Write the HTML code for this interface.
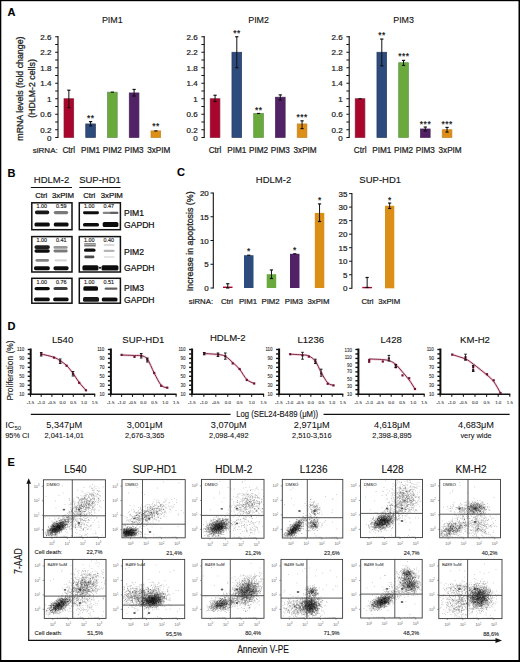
<!DOCTYPE html>
<html><head><meta charset="utf-8"><style>
html,body{margin:0;padding:0;background:#fff;}
svg{display:block;font-family:"Liberation Sans", sans-serif;}
</style></head><body>
<svg width="520" height="662" viewBox="0 0 520 662">
<defs><filter id="bl" x="-20%" y="-50%" width="140%" height="200%"><feGaussianBlur stdDeviation="0.5"/></filter><filter id="fb" x="-5%" y="-5%" width="110%" height="110%"><feGaussianBlur stdDeviation="0.4"/></filter></defs>
<rect width="520" height="662" fill="#fff"/>
<text x="7.5" y="16.0" font-size="11" text-anchor="start" font-weight="bold" fill="#000" stroke="#000" stroke-width="0.12" >A</text><text x="7.5" y="177.0" font-size="11" text-anchor="start" font-weight="bold" fill="#000" stroke="#000" stroke-width="0.12" >B</text><text x="177.0" y="176.0" font-size="11" text-anchor="start" font-weight="bold" fill="#000" stroke="#000" stroke-width="0.12" >C</text><text x="7.5" y="330.0" font-size="11" text-anchor="start" font-weight="bold" fill="#000" stroke="#000" stroke-width="0.12" >D</text><text x="7.5" y="466.0" font-size="11" text-anchor="start" font-weight="bold" fill="#000" stroke="#000" stroke-width="0.12" >E</text><line x1="58.00" y1="36.00" x2="58.00" y2="138.00" stroke="#111" stroke-width="1.1"/><line x1="55.20" y1="137.50" x2="58.00" y2="137.50" stroke="#111" stroke-width="1"/><line x1="55.20" y1="129.75" x2="58.00" y2="129.75" stroke="#111" stroke-width="1"/><line x1="55.20" y1="122.00" x2="58.00" y2="122.00" stroke="#111" stroke-width="1"/><line x1="55.20" y1="114.25" x2="58.00" y2="114.25" stroke="#111" stroke-width="1"/><line x1="55.20" y1="106.50" x2="58.00" y2="106.50" stroke="#111" stroke-width="1"/><line x1="55.20" y1="98.75" x2="58.00" y2="98.75" stroke="#111" stroke-width="1"/><line x1="55.20" y1="91.00" x2="58.00" y2="91.00" stroke="#111" stroke-width="1"/><line x1="55.20" y1="83.25" x2="58.00" y2="83.25" stroke="#111" stroke-width="1"/><line x1="55.20" y1="75.50" x2="58.00" y2="75.50" stroke="#111" stroke-width="1"/><line x1="55.20" y1="67.75" x2="58.00" y2="67.75" stroke="#111" stroke-width="1"/><line x1="55.20" y1="60.00" x2="58.00" y2="60.00" stroke="#111" stroke-width="1"/><line x1="55.20" y1="52.25" x2="58.00" y2="52.25" stroke="#111" stroke-width="1"/><line x1="55.20" y1="44.50" x2="58.00" y2="44.50" stroke="#111" stroke-width="1"/><line x1="55.20" y1="36.75" x2="58.00" y2="36.75" stroke="#111" stroke-width="1"/><text x="51.4" y="140.9" font-size="8" text-anchor="end" font-weight="normal" fill="#222" stroke="#222" stroke-width="0.22" >0</text><text x="51.4" y="132.6" font-size="8" text-anchor="end" font-weight="normal" fill="#222" stroke="#222" stroke-width="0.22" >0.2</text><text x="51.4" y="117.0" font-size="8" text-anchor="end" font-weight="normal" fill="#222" stroke="#222" stroke-width="0.22" >0.6</text><text x="51.4" y="101.5" font-size="8" text-anchor="end" font-weight="normal" fill="#222" stroke="#222" stroke-width="0.22" >1</text><text x="51.4" y="86.0" font-size="8" text-anchor="end" font-weight="normal" fill="#222" stroke="#222" stroke-width="0.22" >1.4</text><text x="51.4" y="70.5" font-size="8" text-anchor="end" font-weight="normal" fill="#222" stroke="#222" stroke-width="0.22" >1.8</text><text x="51.4" y="55.0" font-size="8" text-anchor="end" font-weight="normal" fill="#222" stroke="#222" stroke-width="0.22" >2.2</text><text x="51.4" y="39.5" font-size="8" text-anchor="end" font-weight="normal" fill="#222" stroke="#222" stroke-width="0.22" >2.6</text><rect x="64.00" y="98.75" width="9.70" height="38.75" fill="#a8062c" stroke="#8a1a36" stroke-width="0.7"/><line x1="68.85" y1="90.22" x2="68.85" y2="107.66" stroke="#111" stroke-width="1.0"/><line x1="67.25" y1="90.22" x2="70.45" y2="90.22" stroke="#111" stroke-width="1.2"/><line x1="67.25" y1="107.66" x2="70.45" y2="107.66" stroke="#111" stroke-width="1.2"/><rect x="85.75" y="123.94" width="9.70" height="13.56" fill="#2d4b7c" stroke="#2a3d60" stroke-width="0.7"/><line x1="90.60" y1="121.61" x2="90.60" y2="125.88" stroke="#111" stroke-width="1.0"/><line x1="89.00" y1="121.61" x2="92.20" y2="121.61" stroke="#111" stroke-width="1.2"/><line x1="89.00" y1="125.88" x2="92.20" y2="125.88" stroke="#111" stroke-width="1.2"/><text x="90.8" y="121.0" font-size="8.4" text-anchor="middle" font-weight="normal" fill="#111" stroke="#111" stroke-width="0.2" letter-spacing="0.5">**</text><rect x="107.50" y="92.16" width="9.70" height="45.34" fill="#6aaa3c" stroke="#5f9248" stroke-width="0.7"/><line x1="110.75" y1="92.16" x2="113.95" y2="92.16" stroke="#111" stroke-width="1.2"/><rect x="129.25" y="92.94" width="9.70" height="44.56" fill="#522266" stroke="#452358" stroke-width="0.7"/><line x1="134.10" y1="89.45" x2="134.10" y2="96.04" stroke="#111" stroke-width="1.0"/><line x1="132.50" y1="89.45" x2="135.70" y2="89.45" stroke="#111" stroke-width="1.2"/><line x1="132.50" y1="96.04" x2="135.70" y2="96.04" stroke="#111" stroke-width="1.2"/><rect x="151.00" y="130.91" width="9.70" height="6.59" fill="#dc8f16" stroke="#c58420" stroke-width="0.7"/><line x1="154.25" y1="130.91" x2="157.45" y2="130.91" stroke="#111" stroke-width="1.2"/><text x="156.0" y="129.0" font-size="8.4" text-anchor="middle" font-weight="normal" fill="#111" stroke="#111" stroke-width="0.2" letter-spacing="0.5">**</text><text x="112.3" y="22.8" font-size="9.6" text-anchor="middle" font-weight="normal" fill="#111" stroke="#111" stroke-width="0.12" textLength="20.8" lengthAdjust="spacingAndGlyphs">PIM1</text><text x="68.8" y="153.4" font-size="8.2" text-anchor="middle" font-weight="normal" fill="#222" stroke="#222" stroke-width="0.22" >Ctrl</text><text x="90.6" y="153.4" font-size="8.2" text-anchor="middle" font-weight="normal" fill="#222" stroke="#222" stroke-width="0.22" >PIM1</text><text x="112.3" y="153.4" font-size="8.2" text-anchor="middle" font-weight="normal" fill="#222" stroke="#222" stroke-width="0.22" >PIM2</text><text x="134.1" y="153.4" font-size="8.2" text-anchor="middle" font-weight="normal" fill="#222" stroke="#222" stroke-width="0.22" >PIM3</text><text x="158.8" y="153.4" font-size="8.2" text-anchor="middle" font-weight="normal" fill="#222" stroke="#222" stroke-width="0.22" >3xPIM</text><line x1="204.20" y1="36.00" x2="204.20" y2="138.00" stroke="#111" stroke-width="1.1"/><line x1="201.40" y1="137.50" x2="204.20" y2="137.50" stroke="#111" stroke-width="1"/><line x1="201.40" y1="129.75" x2="204.20" y2="129.75" stroke="#111" stroke-width="1"/><line x1="201.40" y1="122.00" x2="204.20" y2="122.00" stroke="#111" stroke-width="1"/><line x1="201.40" y1="114.25" x2="204.20" y2="114.25" stroke="#111" stroke-width="1"/><line x1="201.40" y1="106.50" x2="204.20" y2="106.50" stroke="#111" stroke-width="1"/><line x1="201.40" y1="98.75" x2="204.20" y2="98.75" stroke="#111" stroke-width="1"/><line x1="201.40" y1="91.00" x2="204.20" y2="91.00" stroke="#111" stroke-width="1"/><line x1="201.40" y1="83.25" x2="204.20" y2="83.25" stroke="#111" stroke-width="1"/><line x1="201.40" y1="75.50" x2="204.20" y2="75.50" stroke="#111" stroke-width="1"/><line x1="201.40" y1="67.75" x2="204.20" y2="67.75" stroke="#111" stroke-width="1"/><line x1="201.40" y1="60.00" x2="204.20" y2="60.00" stroke="#111" stroke-width="1"/><line x1="201.40" y1="52.25" x2="204.20" y2="52.25" stroke="#111" stroke-width="1"/><line x1="201.40" y1="44.50" x2="204.20" y2="44.50" stroke="#111" stroke-width="1"/><line x1="201.40" y1="36.75" x2="204.20" y2="36.75" stroke="#111" stroke-width="1"/><text x="197.6" y="140.9" font-size="8" text-anchor="end" font-weight="normal" fill="#222" stroke="#222" stroke-width="0.22" >0</text><text x="197.6" y="132.6" font-size="8" text-anchor="end" font-weight="normal" fill="#222" stroke="#222" stroke-width="0.22" >0.2</text><text x="197.6" y="117.0" font-size="8" text-anchor="end" font-weight="normal" fill="#222" stroke="#222" stroke-width="0.22" >0.6</text><text x="197.6" y="101.5" font-size="8" text-anchor="end" font-weight="normal" fill="#222" stroke="#222" stroke-width="0.22" >1</text><text x="197.6" y="86.0" font-size="8" text-anchor="end" font-weight="normal" fill="#222" stroke="#222" stroke-width="0.22" >1.4</text><text x="197.6" y="70.5" font-size="8" text-anchor="end" font-weight="normal" fill="#222" stroke="#222" stroke-width="0.22" >1.8</text><text x="197.6" y="55.0" font-size="8" text-anchor="end" font-weight="normal" fill="#222" stroke="#222" stroke-width="0.22" >2.2</text><text x="197.6" y="39.5" font-size="8" text-anchor="end" font-weight="normal" fill="#222" stroke="#222" stroke-width="0.22" >2.6</text><rect x="210.20" y="98.75" width="9.70" height="38.75" fill="#a8062c" stroke="#8a1a36" stroke-width="0.7"/><line x1="215.05" y1="95.26" x2="215.05" y2="101.46" stroke="#111" stroke-width="1.0"/><line x1="213.45" y1="95.26" x2="216.65" y2="95.26" stroke="#111" stroke-width="1.2"/><line x1="213.45" y1="101.46" x2="216.65" y2="101.46" stroke="#111" stroke-width="1.2"/><rect x="231.95" y="52.25" width="9.70" height="85.25" fill="#2d4b7c" stroke="#2a3d60" stroke-width="0.7"/><line x1="236.80" y1="36.75" x2="236.80" y2="67.75" stroke="#111" stroke-width="1.0"/><line x1="235.20" y1="36.75" x2="238.40" y2="36.75" stroke="#111" stroke-width="1.2"/><line x1="235.20" y1="67.75" x2="238.40" y2="67.75" stroke="#111" stroke-width="1.2"/><text x="237.0" y="36.0" font-size="8.4" text-anchor="middle" font-weight="normal" fill="#111" stroke="#111" stroke-width="0.2" letter-spacing="0.5">**</text><rect x="253.70" y="113.47" width="9.70" height="24.03" fill="#6aaa3c" stroke="#5f9248" stroke-width="0.7"/><line x1="256.95" y1="113.47" x2="260.15" y2="113.47" stroke="#111" stroke-width="1.2"/><text x="258.8" y="112.5" font-size="8.4" text-anchor="middle" font-weight="normal" fill="#111" stroke="#111" stroke-width="0.2" letter-spacing="0.5">**</text><rect x="275.45" y="97.20" width="9.70" height="40.30" fill="#522266" stroke="#452358" stroke-width="0.7"/><line x1="280.30" y1="94.88" x2="280.30" y2="99.91" stroke="#111" stroke-width="1.0"/><line x1="278.70" y1="94.88" x2="281.90" y2="94.88" stroke="#111" stroke-width="1.2"/><line x1="278.70" y1="99.91" x2="281.90" y2="99.91" stroke="#111" stroke-width="1.2"/><rect x="297.20" y="123.94" width="9.70" height="13.56" fill="#dc8f16" stroke="#c58420" stroke-width="0.7"/><line x1="302.05" y1="120.84" x2="302.05" y2="128.59" stroke="#111" stroke-width="1.0"/><line x1="300.45" y1="120.84" x2="303.65" y2="120.84" stroke="#111" stroke-width="1.2"/><line x1="300.45" y1="128.59" x2="303.65" y2="128.59" stroke="#111" stroke-width="1.2"/><text x="302.2" y="120.0" font-size="8.4" text-anchor="middle" font-weight="normal" fill="#111" stroke="#111" stroke-width="0.2" letter-spacing="0.5">***</text><text x="258.6" y="22.8" font-size="9.6" text-anchor="middle" font-weight="normal" fill="#111" stroke="#111" stroke-width="0.12" textLength="20.8" lengthAdjust="spacingAndGlyphs">PIM2</text><text x="215.0" y="153.4" font-size="8.2" text-anchor="middle" font-weight="normal" fill="#222" stroke="#222" stroke-width="0.22" >Ctrl</text><text x="236.8" y="153.4" font-size="8.2" text-anchor="middle" font-weight="normal" fill="#222" stroke="#222" stroke-width="0.22" >PIM1</text><text x="258.6" y="153.4" font-size="8.2" text-anchor="middle" font-weight="normal" fill="#222" stroke="#222" stroke-width="0.22" >PIM2</text><text x="280.3" y="153.4" font-size="8.2" text-anchor="middle" font-weight="normal" fill="#222" stroke="#222" stroke-width="0.22" >PIM3</text><text x="305.1" y="153.4" font-size="8.2" text-anchor="middle" font-weight="normal" fill="#222" stroke="#222" stroke-width="0.22" >3xPIM</text><line x1="349.20" y1="36.00" x2="349.20" y2="138.00" stroke="#111" stroke-width="1.1"/><line x1="346.40" y1="137.50" x2="349.20" y2="137.50" stroke="#111" stroke-width="1"/><line x1="346.40" y1="129.75" x2="349.20" y2="129.75" stroke="#111" stroke-width="1"/><line x1="346.40" y1="122.00" x2="349.20" y2="122.00" stroke="#111" stroke-width="1"/><line x1="346.40" y1="114.25" x2="349.20" y2="114.25" stroke="#111" stroke-width="1"/><line x1="346.40" y1="106.50" x2="349.20" y2="106.50" stroke="#111" stroke-width="1"/><line x1="346.40" y1="98.75" x2="349.20" y2="98.75" stroke="#111" stroke-width="1"/><line x1="346.40" y1="91.00" x2="349.20" y2="91.00" stroke="#111" stroke-width="1"/><line x1="346.40" y1="83.25" x2="349.20" y2="83.25" stroke="#111" stroke-width="1"/><line x1="346.40" y1="75.50" x2="349.20" y2="75.50" stroke="#111" stroke-width="1"/><line x1="346.40" y1="67.75" x2="349.20" y2="67.75" stroke="#111" stroke-width="1"/><line x1="346.40" y1="60.00" x2="349.20" y2="60.00" stroke="#111" stroke-width="1"/><line x1="346.40" y1="52.25" x2="349.20" y2="52.25" stroke="#111" stroke-width="1"/><line x1="346.40" y1="44.50" x2="349.20" y2="44.50" stroke="#111" stroke-width="1"/><line x1="346.40" y1="36.75" x2="349.20" y2="36.75" stroke="#111" stroke-width="1"/><text x="342.6" y="140.9" font-size="8" text-anchor="end" font-weight="normal" fill="#222" stroke="#222" stroke-width="0.22" >0</text><text x="342.6" y="132.6" font-size="8" text-anchor="end" font-weight="normal" fill="#222" stroke="#222" stroke-width="0.22" >0.2</text><text x="342.6" y="117.0" font-size="8" text-anchor="end" font-weight="normal" fill="#222" stroke="#222" stroke-width="0.22" >0.6</text><text x="342.6" y="101.5" font-size="8" text-anchor="end" font-weight="normal" fill="#222" stroke="#222" stroke-width="0.22" >1</text><text x="342.6" y="86.0" font-size="8" text-anchor="end" font-weight="normal" fill="#222" stroke="#222" stroke-width="0.22" >1.4</text><text x="342.6" y="70.5" font-size="8" text-anchor="end" font-weight="normal" fill="#222" stroke="#222" stroke-width="0.22" >1.8</text><text x="342.6" y="55.0" font-size="8" text-anchor="end" font-weight="normal" fill="#222" stroke="#222" stroke-width="0.22" >2.2</text><text x="342.6" y="39.5" font-size="8" text-anchor="end" font-weight="normal" fill="#222" stroke="#222" stroke-width="0.22" >2.6</text><rect x="355.20" y="98.75" width="9.70" height="38.75" fill="#a8062c" stroke="#8a1a36" stroke-width="0.7"/><line x1="358.45" y1="98.75" x2="361.65" y2="98.75" stroke="#111" stroke-width="1.2"/><rect x="376.95" y="52.25" width="9.70" height="85.25" fill="#2d4b7c" stroke="#2a3d60" stroke-width="0.7"/><line x1="381.80" y1="39.08" x2="381.80" y2="65.81" stroke="#111" stroke-width="1.0"/><line x1="380.20" y1="39.08" x2="383.40" y2="39.08" stroke="#111" stroke-width="1.2"/><line x1="380.20" y1="65.81" x2="383.40" y2="65.81" stroke="#111" stroke-width="1.2"/><text x="382.0" y="38.3" font-size="8.4" text-anchor="middle" font-weight="normal" fill="#111" stroke="#111" stroke-width="0.2" letter-spacing="0.5">**</text><rect x="398.70" y="62.71" width="9.70" height="74.79" fill="#6aaa3c" stroke="#5f9248" stroke-width="0.7"/><line x1="403.55" y1="60.39" x2="403.55" y2="65.42" stroke="#111" stroke-width="1.0"/><line x1="401.95" y1="60.39" x2="405.15" y2="60.39" stroke="#111" stroke-width="1.2"/><line x1="401.95" y1="65.42" x2="405.15" y2="65.42" stroke="#111" stroke-width="1.2"/><text x="403.8" y="59.1" font-size="8.4" text-anchor="middle" font-weight="normal" fill="#111" stroke="#111" stroke-width="0.2" letter-spacing="0.5">***</text><rect x="420.45" y="128.97" width="9.70" height="8.53" fill="#522266" stroke="#452358" stroke-width="0.7"/><line x1="425.30" y1="127.04" x2="425.30" y2="130.91" stroke="#111" stroke-width="1.0"/><line x1="423.70" y1="127.04" x2="426.90" y2="127.04" stroke="#111" stroke-width="1.2"/><line x1="423.70" y1="130.91" x2="426.90" y2="130.91" stroke="#111" stroke-width="1.2"/><text x="425.5" y="127.1" font-size="8.4" text-anchor="middle" font-weight="normal" fill="#111" stroke="#111" stroke-width="0.2" letter-spacing="0.5">***</text><rect x="442.20" y="129.75" width="9.70" height="7.75" fill="#dc8f16" stroke="#c58420" stroke-width="0.7"/><line x1="447.05" y1="127.42" x2="447.05" y2="132.07" stroke="#111" stroke-width="1.0"/><line x1="445.45" y1="127.42" x2="448.65" y2="127.42" stroke="#111" stroke-width="1.2"/><line x1="445.45" y1="132.07" x2="448.65" y2="132.07" stroke="#111" stroke-width="1.2"/><text x="447.2" y="127.1" font-size="8.4" text-anchor="middle" font-weight="normal" fill="#111" stroke="#111" stroke-width="0.2" letter-spacing="0.5">***</text><text x="403.6" y="22.8" font-size="9.6" text-anchor="middle" font-weight="normal" fill="#111" stroke="#111" stroke-width="0.12" textLength="20.8" lengthAdjust="spacingAndGlyphs">PIM3</text><text x="360.1" y="153.4" font-size="8.2" text-anchor="middle" font-weight="normal" fill="#222" stroke="#222" stroke-width="0.22" >Ctrl</text><text x="381.8" y="153.4" font-size="8.2" text-anchor="middle" font-weight="normal" fill="#222" stroke="#222" stroke-width="0.22" >PIM1</text><text x="403.6" y="153.4" font-size="8.2" text-anchor="middle" font-weight="normal" fill="#222" stroke="#222" stroke-width="0.22" >PIM2</text><text x="425.3" y="153.4" font-size="8.2" text-anchor="middle" font-weight="normal" fill="#222" stroke="#222" stroke-width="0.22" >PIM3</text><text x="450.1" y="153.4" font-size="8.2" text-anchor="middle" font-weight="normal" fill="#222" stroke="#222" stroke-width="0.22" >3xPIM</text><text x="32.8" y="153.4" font-size="8.0" text-anchor="start" font-weight="normal" fill="#222" stroke="#222" stroke-width="0.22" >siRNA:</text><text transform="translate(22.8 88.6) rotate(-90)" font-size="8.8" text-anchor="middle" fill="#222" stroke="#222" stroke-width="0.28">mRNA levels (fold change)</text><text transform="translate(34.6 88.5) rotate(-90)" font-size="8.8" text-anchor="middle" fill="#222" stroke="#222" stroke-width="0.28">(HDLM-2 cells)</text><text x="51.5" y="182.8" font-size="9.5" text-anchor="middle" font-weight="normal" fill="#111" stroke="#111" stroke-width="0.12" >HDLM-2</text><text x="100.0" y="182.8" font-size="9.5" text-anchor="middle" font-weight="normal" fill="#111" stroke="#111" stroke-width="0.12" >SUP-HD1</text><line x1="30.80" y1="187.50" x2="72.00" y2="187.50" stroke="#111" stroke-width="1.2"/><line x1="79.30" y1="187.50" x2="120.60" y2="187.50" stroke="#111" stroke-width="1.2"/><text x="41.3" y="197.6" font-size="7.8" text-anchor="middle" font-weight="normal" fill="#111" stroke="#111" stroke-width="0.22" >Ctrl</text><text x="63.0" y="197.6" font-size="7.8" text-anchor="middle" font-weight="normal" fill="#111" stroke="#111" stroke-width="0.22" >3xPIM</text><text x="89.3" y="197.6" font-size="7.8" text-anchor="middle" font-weight="normal" fill="#111" stroke="#111" stroke-width="0.22" >Ctrl</text><text x="111.8" y="197.6" font-size="7.8" text-anchor="middle" font-weight="normal" fill="#111" stroke="#111" stroke-width="0.22" >3xPIM</text><rect x="31.80" y="202.80" width="40.20" height="26.90" fill="none" stroke="#111" stroke-width="1.5"/><rect x="31.80" y="236.60" width="40.20" height="35.40" fill="none" stroke="#111" stroke-width="1.5"/><rect x="31.80" y="278.30" width="40.20" height="24.90" fill="none" stroke="#111" stroke-width="1.5"/><rect x="79.30" y="202.80" width="41.10" height="26.90" fill="none" stroke="#111" stroke-width="1.5"/><rect x="79.30" y="236.60" width="41.10" height="35.40" fill="none" stroke="#111" stroke-width="1.5"/><rect x="79.30" y="278.30" width="41.10" height="24.90" fill="none" stroke="#111" stroke-width="1.5"/><text x="41.8" y="208.0" font-size="5.4" text-anchor="middle" font-weight="normal" fill="#222" stroke="#222" stroke-width="0.15" >1.00</text><text x="61.3" y="208.0" font-size="5.4" text-anchor="middle" font-weight="normal" fill="#222" stroke="#222" stroke-width="0.15" >0.59</text><text x="89.3" y="208.0" font-size="5.4" text-anchor="middle" font-weight="normal" fill="#222" stroke="#222" stroke-width="0.15" >1.00</text><text x="108.8" y="208.0" font-size="5.4" text-anchor="middle" font-weight="normal" fill="#222" stroke="#222" stroke-width="0.15" >0.47</text><text x="41.8" y="241.8" font-size="5.4" text-anchor="middle" font-weight="normal" fill="#222" stroke="#222" stroke-width="0.15" >1.00</text><text x="61.3" y="241.8" font-size="5.4" text-anchor="middle" font-weight="normal" fill="#222" stroke="#222" stroke-width="0.15" >0.41</text><text x="89.3" y="241.8" font-size="5.4" text-anchor="middle" font-weight="normal" fill="#222" stroke="#222" stroke-width="0.15" >1.00</text><text x="108.8" y="241.8" font-size="5.4" text-anchor="middle" font-weight="normal" fill="#222" stroke="#222" stroke-width="0.15" >0.40</text><text x="41.8" y="283.5" font-size="5.4" text-anchor="middle" font-weight="normal" fill="#222" stroke="#222" stroke-width="0.15" >1.00</text><text x="61.3" y="283.5" font-size="5.4" text-anchor="middle" font-weight="normal" fill="#222" stroke="#222" stroke-width="0.15" >0.76</text><text x="89.3" y="283.5" font-size="5.4" text-anchor="middle" font-weight="normal" fill="#222" stroke="#222" stroke-width="0.15" >1.00</text><text x="108.8" y="283.5" font-size="5.4" text-anchor="middle" font-weight="normal" fill="#222" stroke="#222" stroke-width="0.15" >0.51</text><rect x="35.00" y="210.50" width="14.20" height="3.70" rx="1.60" fill="#111" opacity="0.95" filter="url(#bl)"/><rect x="53.80" y="211.00" width="14.40" height="3.20" rx="1.60" fill="#111" opacity="0.55" filter="url(#bl)"/><rect x="34.50" y="222.40" width="15.30" height="4.20" rx="1.60" fill="#111" opacity="1.0" filter="url(#bl)"/><rect x="53.80" y="222.40" width="14.80" height="4.20" rx="1.60" fill="#111" opacity="1.0" filter="url(#bl)"/><rect x="83.00" y="211.30" width="16.00" height="2.90" rx="1.45" fill="#111" opacity="1.0" filter="url(#bl)"/><rect x="102.70" y="211.80" width="15.70" height="2.20" rx="1.10" fill="#111" opacity="0.5" filter="url(#bl)"/><rect x="110.00" y="211.80" width="8.40" height="2.20" rx="1.10" fill="#111" opacity="0.3" filter="url(#bl)"/><rect x="83.00" y="223.00" width="16.00" height="3.60" rx="1.60" fill="#111" opacity="1.0" filter="url(#bl)"/><rect x="102.70" y="222.00" width="15.70" height="5.00" rx="1.60" fill="#111" opacity="1.0" filter="url(#bl)"/><rect x="34.50" y="245.30" width="15.30" height="3.60" rx="1.60" fill="#111" opacity="0.92" filter="url(#bl)"/><rect x="34.50" y="249.20" width="15.30" height="3.50" rx="1.60" fill="#111" opacity="1" filter="url(#bl)"/><rect x="53.50" y="246.00" width="14.20" height="2.80" rx="1.40" fill="#111" opacity="0.42" filter="url(#bl)"/><rect x="53.50" y="249.60" width="14.20" height="2.80" rx="1.40" fill="#111" opacity="0.55" filter="url(#bl)"/><rect x="35.50" y="259.00" width="13.50" height="2.70" rx="1.35" fill="#111" opacity="0.5" filter="url(#bl)"/><rect x="54.50" y="259.30" width="12.50" height="2.20" rx="1.10" fill="#111" opacity="0.16" filter="url(#bl)"/><rect x="34.00" y="266.20" width="15.80" height="4.00" rx="1.60" fill="#111" opacity="1.0" filter="url(#bl)"/><rect x="53.50" y="266.20" width="15.10" height="4.00" rx="1.60" fill="#111" opacity="1.0" filter="url(#bl)"/><rect x="84.00" y="243.00" width="12.00" height="1.80" rx="0.90" fill="#111" opacity="0.45" filter="url(#bl)"/><rect x="84.00" y="245.00" width="12.00" height="1.60" rx="0.80" fill="#111" opacity="0.55" filter="url(#bl)"/><rect x="84.00" y="248.60" width="11.50" height="3.20" rx="1.60" fill="#111" opacity="1" filter="url(#bl)"/><rect x="84.30" y="255.60" width="10.10" height="2.60" rx="1.30" fill="#111" opacity="0.75" filter="url(#bl)"/><rect x="103.60" y="244.00" width="11.10" height="2.00" rx="1.00" fill="#111" opacity="0.15" filter="url(#bl)"/><rect x="103.60" y="249.70" width="11.10" height="2.30" rx="1.15" fill="#111" opacity="0.3" filter="url(#bl)"/><rect x="103.60" y="256.00" width="11.10" height="2.00" rx="1.00" fill="#111" opacity="0.1" filter="url(#bl)"/><rect x="82.40" y="265.20" width="16.10" height="5.40" rx="1.60" fill="#111" opacity="1.0" filter="url(#bl)"/><rect x="101.50" y="265.20" width="16.90" height="5.40" rx="1.60" fill="#111" opacity="1.0" filter="url(#bl)"/><circle cx="100" cy="267.8" r="1.1" fill="#111"/><rect x="34.50" y="287.00" width="15.30" height="3.20" rx="1.60" fill="#111" opacity="1.0" filter="url(#bl)"/><rect x="53.50" y="287.00" width="14.20" height="3.10" rx="1.55" fill="#111" opacity="0.8" filter="url(#bl)"/><rect x="34.00" y="297.40" width="15.80" height="3.90" rx="1.60" fill="#111" opacity="1.0" filter="url(#bl)"/><rect x="53.20" y="297.40" width="15.40" height="3.90" rx="1.60" fill="#111" opacity="1.0" filter="url(#bl)"/><rect x="83.30" y="286.30" width="14.70" height="4.50" rx="1.60" fill="#111" opacity="1.0" filter="url(#bl)"/><rect x="104.60" y="287.50" width="12.90" height="2.30" rx="1.15" fill="#111" opacity="0.65" filter="url(#bl)"/><rect x="83.00" y="297.00" width="16.00" height="4.80" rx="1.60" fill="#111" opacity="0.95" filter="url(#bl)"/><rect x="101.80" y="297.40" width="15.70" height="4.10" rx="1.60" fill="#111" opacity="1.0" filter="url(#bl)"/><text x="124.0" y="215.6" font-size="8.6" text-anchor="start" font-weight="normal" fill="#111" stroke="#111" stroke-width="0.22" >PIM1</text><text x="124.0" y="227.6" font-size="8.6" text-anchor="start" font-weight="normal" fill="#111" stroke="#111" stroke-width="0.22" >GAPDH</text><text x="124.0" y="254.5" font-size="8.6" text-anchor="start" font-weight="normal" fill="#111" stroke="#111" stroke-width="0.22" >PIM2</text><text x="124.0" y="271.0" font-size="8.6" text-anchor="start" font-weight="normal" fill="#111" stroke="#111" stroke-width="0.22" >GAPDH</text><text x="124.0" y="291.2" font-size="8.6" text-anchor="start" font-weight="normal" fill="#111" stroke="#111" stroke-width="0.22" >PIM3</text><text x="124.0" y="302.6" font-size="8.6" text-anchor="start" font-weight="normal" fill="#111" stroke="#111" stroke-width="0.22" >GAPDH</text><line x1="213.30" y1="192.50" x2="213.30" y2="288.50" stroke="#111" stroke-width="1.1"/><line x1="210.50" y1="288.00" x2="213.30" y2="288.00" stroke="#111" stroke-width="1"/><text x="208.8" y="291.0" font-size="8" text-anchor="end" font-weight="normal" fill="#222" stroke="#222" stroke-width="0.22" >0</text><line x1="210.50" y1="264.25" x2="213.30" y2="264.25" stroke="#111" stroke-width="1"/><text x="208.8" y="267.2" font-size="8" text-anchor="end" font-weight="normal" fill="#222" stroke="#222" stroke-width="0.22" >5</text><line x1="210.50" y1="240.50" x2="213.30" y2="240.50" stroke="#111" stroke-width="1"/><text x="208.8" y="243.5" font-size="8" text-anchor="end" font-weight="normal" fill="#222" stroke="#222" stroke-width="0.22" >10</text><line x1="210.50" y1="216.75" x2="213.30" y2="216.75" stroke="#111" stroke-width="1"/><text x="208.8" y="219.8" font-size="8" text-anchor="end" font-weight="normal" fill="#222" stroke="#222" stroke-width="0.22" >15</text><line x1="210.50" y1="193.00" x2="213.30" y2="193.00" stroke="#111" stroke-width="1"/><text x="208.8" y="196.0" font-size="8" text-anchor="end" font-weight="normal" fill="#222" stroke="#222" stroke-width="0.22" >20</text><rect x="223.00" y="286.57" width="9.50" height="1.43" fill="#a8062c" /><line x1="227.75" y1="283.73" x2="227.75" y2="288.00" stroke="#111" stroke-width="1.0"/><line x1="226.15" y1="283.73" x2="229.35" y2="283.73" stroke="#111" stroke-width="1.2"/><line x1="226.15" y1="288.00" x2="229.35" y2="288.00" stroke="#111" stroke-width="1.2"/><rect x="244.00" y="255.22" width="9.50" height="32.78" fill="#2d4b7c" /><line x1="247.15" y1="255.22" x2="250.35" y2="255.22" stroke="#111" stroke-width="1.2"/><text x="248.9" y="254.0" font-size="8.4" text-anchor="middle" font-weight="normal" fill="#111" stroke="#111" stroke-width="0.2" letter-spacing="0.5">*</text><rect x="266.70" y="274.23" width="9.50" height="13.77" fill="#6aaa3c" /><line x1="271.45" y1="269.95" x2="271.45" y2="278.50" stroke="#111" stroke-width="1.0"/><line x1="269.85" y1="269.95" x2="273.05" y2="269.95" stroke="#111" stroke-width="1.2"/><line x1="269.85" y1="278.50" x2="273.05" y2="278.50" stroke="#111" stroke-width="1.2"/><rect x="290.00" y="253.80" width="9.50" height="34.20" fill="#522266" /><line x1="293.15" y1="253.80" x2="296.35" y2="253.80" stroke="#111" stroke-width="1.2"/><text x="294.9" y="252.5" font-size="8.4" text-anchor="middle" font-weight="normal" fill="#111" stroke="#111" stroke-width="0.2" letter-spacing="0.5">*</text><rect x="314.80" y="212.95" width="9.50" height="75.05" fill="#dc8f16" /><line x1="319.55" y1="203.93" x2="319.55" y2="221.50" stroke="#111" stroke-width="1.0"/><line x1="317.95" y1="203.93" x2="321.15" y2="203.93" stroke="#111" stroke-width="1.2"/><line x1="317.95" y1="221.50" x2="321.15" y2="221.50" stroke="#111" stroke-width="1.2"/><text x="319.8" y="203.0" font-size="8.4" text-anchor="middle" font-weight="normal" fill="#111" stroke="#111" stroke-width="0.2" letter-spacing="0.5">*</text><text x="227.0" y="304.3" font-size="7.8" text-anchor="middle" font-weight="normal" fill="#222" stroke="#222" stroke-width="0.22" >Ctrl</text><text x="248.0" y="304.3" font-size="7.8" text-anchor="middle" font-weight="normal" fill="#222" stroke="#222" stroke-width="0.22" >PIM1</text><text x="270.6" y="304.3" font-size="7.8" text-anchor="middle" font-weight="normal" fill="#222" stroke="#222" stroke-width="0.22" >PIM2</text><text x="293.8" y="304.3" font-size="7.8" text-anchor="middle" font-weight="normal" fill="#222" stroke="#222" stroke-width="0.22" >PIM3</text><text x="318.5" y="304.3" font-size="7.8" text-anchor="middle" font-weight="normal" fill="#222" stroke="#222" stroke-width="0.22" >3xPIM</text><text x="188.8" y="304.3" font-size="7.8" text-anchor="start" font-weight="normal" fill="#222" stroke="#222" stroke-width="0.22" >siRNA:</text><text x="273.5" y="182.8" font-size="9.5" text-anchor="middle" font-weight="normal" fill="#111" stroke="#111" stroke-width="0.12" >HDLM-2</text><text transform="translate(193.1 241.3) rotate(-90)" font-size="8.85" text-anchor="middle" fill="#222" stroke="#222" stroke-width="0.28">Increase in apoptosis (%)</text><line x1="351.90" y1="193.00" x2="351.90" y2="288.80" stroke="#111" stroke-width="1.1"/><line x1="349.10" y1="288.30" x2="351.90" y2="288.30" stroke="#111" stroke-width="1"/><text x="347.4" y="291.3" font-size="8" text-anchor="end" font-weight="normal" fill="#222" stroke="#222" stroke-width="0.22" >0</text><line x1="349.10" y1="274.77" x2="351.90" y2="274.77" stroke="#111" stroke-width="1"/><text x="347.4" y="277.8" font-size="8" text-anchor="end" font-weight="normal" fill="#222" stroke="#222" stroke-width="0.22" >5</text><line x1="349.10" y1="261.24" x2="351.90" y2="261.24" stroke="#111" stroke-width="1"/><text x="347.4" y="264.2" font-size="8" text-anchor="end" font-weight="normal" fill="#222" stroke="#222" stroke-width="0.22" >10</text><line x1="349.10" y1="247.71" x2="351.90" y2="247.71" stroke="#111" stroke-width="1"/><text x="347.4" y="250.7" font-size="8" text-anchor="end" font-weight="normal" fill="#222" stroke="#222" stroke-width="0.22" >15</text><line x1="349.10" y1="234.18" x2="351.90" y2="234.18" stroke="#111" stroke-width="1"/><text x="347.4" y="237.2" font-size="8" text-anchor="end" font-weight="normal" fill="#222" stroke="#222" stroke-width="0.22" >20</text><line x1="349.10" y1="220.65" x2="351.90" y2="220.65" stroke="#111" stroke-width="1"/><text x="347.4" y="223.7" font-size="8" text-anchor="end" font-weight="normal" fill="#222" stroke="#222" stroke-width="0.22" >25</text><line x1="349.10" y1="207.12" x2="351.90" y2="207.12" stroke="#111" stroke-width="1"/><text x="347.4" y="210.1" font-size="8" text-anchor="end" font-weight="normal" fill="#222" stroke="#222" stroke-width="0.22" >30</text><line x1="349.10" y1="193.59" x2="351.90" y2="193.59" stroke="#111" stroke-width="1"/><text x="347.4" y="196.6" font-size="8" text-anchor="end" font-weight="normal" fill="#222" stroke="#222" stroke-width="0.22" >35</text><rect x="362.30" y="286.89" width="9.70" height="1.40" fill="#a8062c" /><line x1="367.15" y1="277.48" x2="367.15" y2="287.49" stroke="#111" stroke-width="1.0"/><line x1="365.55" y1="277.48" x2="368.75" y2="277.48" stroke="#111" stroke-width="1.2"/><line x1="365.55" y1="287.49" x2="368.75" y2="287.49" stroke="#111" stroke-width="1.2"/><rect x="385.00" y="205.77" width="9.30" height="82.53" fill="#dc8f16" /><line x1="389.65" y1="203.06" x2="389.65" y2="208.47" stroke="#111" stroke-width="1.0"/><line x1="388.05" y1="203.06" x2="391.25" y2="203.06" stroke="#111" stroke-width="1.2"/><line x1="388.05" y1="208.47" x2="391.25" y2="208.47" stroke="#111" stroke-width="1.2"/><text x="389.8" y="203.0" font-size="8.4" text-anchor="middle" font-weight="normal" fill="#111" stroke="#111" stroke-width="0.2" letter-spacing="0.5">*</text><text x="367.5" y="304.3" font-size="7.8" text-anchor="middle" font-weight="normal" fill="#222" stroke="#222" stroke-width="0.22" >Ctrl</text><text x="389.2" y="304.3" font-size="7.8" text-anchor="middle" font-weight="normal" fill="#222" stroke="#222" stroke-width="0.22" >3xPIM</text><text x="380.2" y="182.6" font-size="9.5" text-anchor="middle" font-weight="normal" fill="#111" stroke="#111" stroke-width="0.12" >SUP-HD1</text><line x1="30.70" y1="348.50" x2="30.70" y2="394.80" stroke="#111" stroke-width="2.0"/><line x1="27.70" y1="394.20" x2="30.50" y2="394.20" stroke="#111" stroke-width="1.4"/><line x1="27.70" y1="389.73" x2="30.50" y2="389.73" stroke="#111" stroke-width="1.4"/><line x1="27.70" y1="385.26" x2="30.50" y2="385.26" stroke="#111" stroke-width="1.4"/><line x1="27.70" y1="380.79" x2="30.50" y2="380.79" stroke="#111" stroke-width="1.4"/><line x1="27.70" y1="376.32" x2="30.50" y2="376.32" stroke="#111" stroke-width="1.4"/><line x1="27.70" y1="371.85" x2="30.50" y2="371.85" stroke="#111" stroke-width="1.4"/><line x1="27.70" y1="367.38" x2="30.50" y2="367.38" stroke="#111" stroke-width="1.4"/><line x1="27.70" y1="362.91" x2="30.50" y2="362.91" stroke="#111" stroke-width="1.4"/><line x1="27.70" y1="358.44" x2="30.50" y2="358.44" stroke="#111" stroke-width="1.4"/><line x1="27.70" y1="353.97" x2="30.50" y2="353.97" stroke="#111" stroke-width="1.4"/><line x1="27.70" y1="349.50" x2="30.50" y2="349.50" stroke="#111" stroke-width="1.4"/><line x1="29.70" y1="394.20" x2="95.20" y2="394.20" stroke="#111" stroke-width="1.5"/><line x1="30.50" y1="394.20" x2="30.50" y2="396.80" stroke="#111" stroke-width="1.1"/><line x1="41.20" y1="394.20" x2="41.20" y2="396.80" stroke="#111" stroke-width="1.1"/><line x1="51.90" y1="394.20" x2="51.90" y2="396.80" stroke="#111" stroke-width="1.1"/><line x1="62.60" y1="394.20" x2="62.60" y2="396.80" stroke="#111" stroke-width="1.1"/><line x1="73.30" y1="394.20" x2="73.30" y2="396.80" stroke="#111" stroke-width="1.1"/><line x1="84.00" y1="394.20" x2="84.00" y2="396.80" stroke="#111" stroke-width="1.1"/><line x1="94.70" y1="394.20" x2="94.70" y2="396.80" stroke="#111" stroke-width="1.1"/><text x="30.5" y="403.6" font-size="4.4" text-anchor="middle" font-weight="normal" fill="#333" stroke="#333" stroke-width="0.08" >-1.5</text><text x="41.2" y="403.6" font-size="4.4" text-anchor="middle" font-weight="normal" fill="#333" stroke="#333" stroke-width="0.08" >-1.0</text><text x="51.9" y="403.6" font-size="4.4" text-anchor="middle" font-weight="normal" fill="#333" stroke="#333" stroke-width="0.08" >-0.5</text><text x="62.6" y="403.6" font-size="4.4" text-anchor="middle" font-weight="normal" fill="#333" stroke="#333" stroke-width="0.08" >0.0</text><text x="73.3" y="403.6" font-size="4.4" text-anchor="middle" font-weight="normal" fill="#333" stroke="#333" stroke-width="0.08" >0.5</text><text x="84.0" y="403.6" font-size="4.4" text-anchor="middle" font-weight="normal" fill="#333" stroke="#333" stroke-width="0.08" >1.0</text><text x="94.7" y="403.6" font-size="4.4" text-anchor="middle" font-weight="normal" fill="#333" stroke="#333" stroke-width="0.08" >1.5</text><text x="24.2" y="351.1" font-size="4.5" text-anchor="end" font-weight="normal" fill="#333" stroke="#333" stroke-width="0.1" >110</text><text x="24.2" y="360.1" font-size="4.5" text-anchor="end" font-weight="normal" fill="#333" stroke="#333" stroke-width="0.1" >90</text><text x="24.2" y="369.1" font-size="4.5" text-anchor="end" font-weight="normal" fill="#333" stroke="#333" stroke-width="0.1" >70</text><text x="24.2" y="378.1" font-size="4.5" text-anchor="end" font-weight="normal" fill="#333" stroke="#333" stroke-width="0.1" >50</text><text x="24.2" y="387.0" font-size="4.5" text-anchor="end" font-weight="normal" fill="#333" stroke="#333" stroke-width="0.1" >30</text><text x="24.2" y="395.8" font-size="4.5" text-anchor="end" font-weight="normal" fill="#333" stroke="#333" stroke-width="0.1" >10</text><path d="M41.20 354.00 C43.33 354.55 50.83 356.17 54.00 357.30 C57.17 358.43 58.10 359.43 60.20 360.80 C62.30 362.17 64.47 363.42 66.60 365.50 C68.73 367.58 70.90 370.47 73.00 373.30 C75.10 376.13 77.03 379.67 79.20 382.50 C81.37 385.33 84.87 389.00 86.00 390.30" fill="none" stroke="#d0607a" stroke-width="2.4" opacity="0.3"/><path d="M41.20 354.00 C43.33 354.55 50.83 356.17 54.00 357.30 C57.17 358.43 58.10 359.43 60.20 360.80 C62.30 362.17 64.47 363.42 66.60 365.50 C68.73 367.58 70.90 370.47 73.00 373.30 C75.10 376.13 77.03 379.67 79.20 382.50 C81.37 385.33 84.87 389.00 86.00 390.30" fill="none" stroke="#6e1234" stroke-width="0.9"/><rect x="40.10" y="353.20" width="2.2" height="2.2" fill="#6e1234"/><rect x="52.90" y="356.50" width="2.2" height="2.2" fill="#6e1234"/><rect x="59.10" y="360.30" width="2.2" height="2.2" fill="#6e1234"/><rect x="65.50" y="364.60" width="2.2" height="2.2" fill="#6e1234"/><rect x="71.90" y="372.70" width="2.2" height="2.2" fill="#6e1234"/><rect x="78.10" y="381.70" width="2.2" height="2.2" fill="#6e1234"/><rect x="84.90" y="389.20" width="2.2" height="2.2" fill="#6e1234"/><line x1="41.20" y1="352.50" x2="41.20" y2="356.00" stroke="#111" stroke-width="0.8"/><line x1="39.90" y1="352.50" x2="42.50" y2="352.50" stroke="#111" stroke-width="0.96"/><line x1="39.90" y1="356.00" x2="42.50" y2="356.00" stroke="#111" stroke-width="0.96"/><line x1="60.20" y1="359.00" x2="60.20" y2="363.50" stroke="#111" stroke-width="0.8"/><line x1="58.90" y1="359.00" x2="61.50" y2="359.00" stroke="#111" stroke-width="0.96"/><line x1="58.90" y1="363.50" x2="61.50" y2="363.50" stroke="#111" stroke-width="0.96"/><line x1="73.00" y1="371.50" x2="73.00" y2="376.00" stroke="#111" stroke-width="0.8"/><line x1="71.70" y1="371.50" x2="74.30" y2="371.50" stroke="#111" stroke-width="0.96"/><line x1="71.70" y1="376.00" x2="74.30" y2="376.00" stroke="#111" stroke-width="0.96"/><text x="62.6" y="342.5" font-size="9.6" text-anchor="middle" font-weight="normal" fill="#111" stroke="#111" stroke-width="0.12" >L540</text><line x1="110.90" y1="348.50" x2="110.90" y2="394.80" stroke="#111" stroke-width="2.0"/><line x1="107.90" y1="394.20" x2="110.70" y2="394.20" stroke="#111" stroke-width="1.4"/><line x1="107.90" y1="389.73" x2="110.70" y2="389.73" stroke="#111" stroke-width="1.4"/><line x1="107.90" y1="385.26" x2="110.70" y2="385.26" stroke="#111" stroke-width="1.4"/><line x1="107.90" y1="380.79" x2="110.70" y2="380.79" stroke="#111" stroke-width="1.4"/><line x1="107.90" y1="376.32" x2="110.70" y2="376.32" stroke="#111" stroke-width="1.4"/><line x1="107.90" y1="371.85" x2="110.70" y2="371.85" stroke="#111" stroke-width="1.4"/><line x1="107.90" y1="367.38" x2="110.70" y2="367.38" stroke="#111" stroke-width="1.4"/><line x1="107.90" y1="362.91" x2="110.70" y2="362.91" stroke="#111" stroke-width="1.4"/><line x1="107.90" y1="358.44" x2="110.70" y2="358.44" stroke="#111" stroke-width="1.4"/><line x1="107.90" y1="353.97" x2="110.70" y2="353.97" stroke="#111" stroke-width="1.4"/><line x1="107.90" y1="349.50" x2="110.70" y2="349.50" stroke="#111" stroke-width="1.4"/><line x1="109.90" y1="394.20" x2="176.60" y2="394.20" stroke="#111" stroke-width="1.5"/><line x1="110.70" y1="394.20" x2="110.70" y2="396.80" stroke="#111" stroke-width="1.1"/><line x1="121.60" y1="394.20" x2="121.60" y2="396.80" stroke="#111" stroke-width="1.1"/><line x1="132.50" y1="394.20" x2="132.50" y2="396.80" stroke="#111" stroke-width="1.1"/><line x1="143.40" y1="394.20" x2="143.40" y2="396.80" stroke="#111" stroke-width="1.1"/><line x1="154.30" y1="394.20" x2="154.30" y2="396.80" stroke="#111" stroke-width="1.1"/><line x1="165.20" y1="394.20" x2="165.20" y2="396.80" stroke="#111" stroke-width="1.1"/><line x1="176.10" y1="394.20" x2="176.10" y2="396.80" stroke="#111" stroke-width="1.1"/><text x="110.7" y="403.6" font-size="4.4" text-anchor="middle" font-weight="normal" fill="#333" stroke="#333" stroke-width="0.08" >-1.5</text><text x="121.6" y="403.6" font-size="4.4" text-anchor="middle" font-weight="normal" fill="#333" stroke="#333" stroke-width="0.08" >-1.0</text><text x="132.5" y="403.6" font-size="4.4" text-anchor="middle" font-weight="normal" fill="#333" stroke="#333" stroke-width="0.08" >-0.5</text><text x="143.4" y="403.6" font-size="4.4" text-anchor="middle" font-weight="normal" fill="#333" stroke="#333" stroke-width="0.08" >0.0</text><text x="154.3" y="403.6" font-size="4.4" text-anchor="middle" font-weight="normal" fill="#333" stroke="#333" stroke-width="0.08" >0.5</text><text x="165.2" y="403.6" font-size="4.4" text-anchor="middle" font-weight="normal" fill="#333" stroke="#333" stroke-width="0.08" >1.0</text><text x="176.1" y="403.6" font-size="4.4" text-anchor="middle" font-weight="normal" fill="#333" stroke="#333" stroke-width="0.08" >1.5</text><text x="104.4" y="351.1" font-size="4.5" text-anchor="end" font-weight="normal" fill="#333" stroke="#333" stroke-width="0.1" >110</text><text x="104.4" y="360.1" font-size="4.5" text-anchor="end" font-weight="normal" fill="#333" stroke="#333" stroke-width="0.1" >90</text><text x="104.4" y="369.1" font-size="4.5" text-anchor="end" font-weight="normal" fill="#333" stroke="#333" stroke-width="0.1" >70</text><text x="104.4" y="378.1" font-size="4.5" text-anchor="end" font-weight="normal" fill="#333" stroke="#333" stroke-width="0.1" >50</text><text x="104.4" y="387.0" font-size="4.5" text-anchor="end" font-weight="normal" fill="#333" stroke="#333" stroke-width="0.1" >30</text><text x="104.4" y="395.8" font-size="4.5" text-anchor="end" font-weight="normal" fill="#333" stroke="#333" stroke-width="0.1" >10</text><path d="M121.60 355.00 C123.75 355.08 131.23 355.38 134.50 355.50 C137.77 355.62 139.07 355.12 141.20 355.70 C143.33 356.28 145.13 356.12 147.30 359.00 C149.47 361.88 151.88 368.62 154.20 373.00 C156.52 377.38 159.02 382.85 161.20 385.30 C163.38 387.75 166.28 387.30 167.30 387.70" fill="none" stroke="#d0607a" stroke-width="2.4" opacity="0.3"/><path d="M121.60 355.00 C123.75 355.08 131.23 355.38 134.50 355.50 C137.77 355.62 139.07 355.12 141.20 355.70 C143.33 356.28 145.13 356.12 147.30 359.00 C149.47 361.88 151.88 368.62 154.20 373.00 C156.52 377.38 159.02 382.85 161.20 385.30 C163.38 387.75 166.28 387.30 167.30 387.70" fill="none" stroke="#6e1234" stroke-width="0.9"/><rect x="120.50" y="353.80" width="2.2" height="2.2" fill="#6e1234"/><rect x="133.40" y="355.80" width="2.2" height="2.2" fill="#6e1234"/><rect x="140.10" y="354.60" width="2.2" height="2.2" fill="#6e1234"/><rect x="146.20" y="358.60" width="2.2" height="2.2" fill="#6e1234"/><rect x="153.10" y="371.90" width="2.2" height="2.2" fill="#6e1234"/><rect x="160.10" y="384.70" width="2.2" height="2.2" fill="#6e1234"/><rect x="166.20" y="386.60" width="2.2" height="2.2" fill="#6e1234"/><line x1="141.20" y1="353.50" x2="141.20" y2="358.00" stroke="#111" stroke-width="0.8"/><line x1="139.90" y1="353.50" x2="142.50" y2="353.50" stroke="#111" stroke-width="0.96"/><line x1="139.90" y1="358.00" x2="142.50" y2="358.00" stroke="#111" stroke-width="0.96"/><line x1="147.30" y1="358.00" x2="147.30" y2="362.00" stroke="#111" stroke-width="0.8"/><line x1="146.00" y1="358.00" x2="148.60" y2="358.00" stroke="#111" stroke-width="0.96"/><line x1="146.00" y1="362.00" x2="148.60" y2="362.00" stroke="#111" stroke-width="0.96"/><text x="143.4" y="343.2" font-size="9.6" text-anchor="middle" font-weight="normal" fill="#111" stroke="#111" stroke-width="0.12" >SUP-HD1</text><line x1="192.10" y1="348.50" x2="192.10" y2="394.80" stroke="#111" stroke-width="2.0"/><line x1="189.10" y1="394.20" x2="191.90" y2="394.20" stroke="#111" stroke-width="1.4"/><line x1="189.10" y1="389.73" x2="191.90" y2="389.73" stroke="#111" stroke-width="1.4"/><line x1="189.10" y1="385.26" x2="191.90" y2="385.26" stroke="#111" stroke-width="1.4"/><line x1="189.10" y1="380.79" x2="191.90" y2="380.79" stroke="#111" stroke-width="1.4"/><line x1="189.10" y1="376.32" x2="191.90" y2="376.32" stroke="#111" stroke-width="1.4"/><line x1="189.10" y1="371.85" x2="191.90" y2="371.85" stroke="#111" stroke-width="1.4"/><line x1="189.10" y1="367.38" x2="191.90" y2="367.38" stroke="#111" stroke-width="1.4"/><line x1="189.10" y1="362.91" x2="191.90" y2="362.91" stroke="#111" stroke-width="1.4"/><line x1="189.10" y1="358.44" x2="191.90" y2="358.44" stroke="#111" stroke-width="1.4"/><line x1="189.10" y1="353.97" x2="191.90" y2="353.97" stroke="#111" stroke-width="1.4"/><line x1="189.10" y1="349.50" x2="191.90" y2="349.50" stroke="#111" stroke-width="1.4"/><line x1="191.10" y1="394.20" x2="264.10" y2="394.20" stroke="#111" stroke-width="1.5"/><line x1="191.90" y1="394.20" x2="191.90" y2="396.80" stroke="#111" stroke-width="1.1"/><line x1="203.85" y1="394.20" x2="203.85" y2="396.80" stroke="#111" stroke-width="1.1"/><line x1="215.80" y1="394.20" x2="215.80" y2="396.80" stroke="#111" stroke-width="1.1"/><line x1="227.75" y1="394.20" x2="227.75" y2="396.80" stroke="#111" stroke-width="1.1"/><line x1="239.70" y1="394.20" x2="239.70" y2="396.80" stroke="#111" stroke-width="1.1"/><line x1="251.65" y1="394.20" x2="251.65" y2="396.80" stroke="#111" stroke-width="1.1"/><line x1="263.60" y1="394.20" x2="263.60" y2="396.80" stroke="#111" stroke-width="1.1"/><text x="191.9" y="403.6" font-size="4.4" text-anchor="middle" font-weight="normal" fill="#333" stroke="#333" stroke-width="0.08" >-1.5</text><text x="203.8" y="403.6" font-size="4.4" text-anchor="middle" font-weight="normal" fill="#333" stroke="#333" stroke-width="0.08" >-1.0</text><text x="215.8" y="403.6" font-size="4.4" text-anchor="middle" font-weight="normal" fill="#333" stroke="#333" stroke-width="0.08" >-0.5</text><text x="227.8" y="403.6" font-size="4.4" text-anchor="middle" font-weight="normal" fill="#333" stroke="#333" stroke-width="0.08" >0.0</text><text x="239.7" y="403.6" font-size="4.4" text-anchor="middle" font-weight="normal" fill="#333" stroke="#333" stroke-width="0.08" >0.5</text><text x="251.7" y="403.6" font-size="4.4" text-anchor="middle" font-weight="normal" fill="#333" stroke="#333" stroke-width="0.08" >1.0</text><text x="263.6" y="403.6" font-size="4.4" text-anchor="middle" font-weight="normal" fill="#333" stroke="#333" stroke-width="0.08" >1.5</text><text x="185.6" y="351.1" font-size="4.5" text-anchor="end" font-weight="normal" fill="#333" stroke="#333" stroke-width="0.1" >110</text><text x="185.6" y="360.1" font-size="4.5" text-anchor="end" font-weight="normal" fill="#333" stroke="#333" stroke-width="0.1" >90</text><text x="185.6" y="369.1" font-size="4.5" text-anchor="end" font-weight="normal" fill="#333" stroke="#333" stroke-width="0.1" >70</text><text x="185.6" y="378.1" font-size="4.5" text-anchor="end" font-weight="normal" fill="#333" stroke="#333" stroke-width="0.1" >50</text><text x="185.6" y="387.0" font-size="4.5" text-anchor="end" font-weight="normal" fill="#333" stroke="#333" stroke-width="0.1" >30</text><text x="185.6" y="395.8" font-size="4.5" text-anchor="end" font-weight="normal" fill="#333" stroke="#333" stroke-width="0.1" >10</text><path d="M204.20 353.50 C206.50 353.67 214.48 354.03 218.00 354.50 C221.52 354.97 222.85 354.97 225.30 356.30 C227.75 357.63 230.32 360.35 232.70 362.50 C235.08 364.65 237.25 366.37 239.60 369.20 C241.95 372.03 244.37 377.12 246.80 379.50 C249.23 381.88 252.97 382.83 254.20 383.50" fill="none" stroke="#d0607a" stroke-width="2.4" opacity="0.3"/><path d="M204.20 353.50 C206.50 353.67 214.48 354.03 218.00 354.50 C221.52 354.97 222.85 354.97 225.30 356.30 C227.75 357.63 230.32 360.35 232.70 362.50 C235.08 364.65 237.25 366.37 239.60 369.20 C241.95 372.03 244.37 377.12 246.80 379.50 C249.23 381.88 252.97 382.83 254.20 383.50" fill="none" stroke="#6e1234" stroke-width="0.9"/><rect x="203.10" y="352.40" width="2.2" height="2.2" fill="#6e1234"/><rect x="216.90" y="353.50" width="2.2" height="2.2" fill="#6e1234"/><rect x="224.20" y="355.10" width="2.2" height="2.2" fill="#6e1234"/><rect x="231.60" y="362.30" width="2.2" height="2.2" fill="#6e1234"/><rect x="238.50" y="367.90" width="2.2" height="2.2" fill="#6e1234"/><rect x="245.70" y="378.90" width="2.2" height="2.2" fill="#6e1234"/><rect x="253.10" y="382.40" width="2.2" height="2.2" fill="#6e1234"/><line x1="204.20" y1="352.50" x2="204.20" y2="354.80" stroke="#111" stroke-width="0.8"/><line x1="202.90" y1="352.50" x2="205.50" y2="352.50" stroke="#111" stroke-width="0.96"/><line x1="202.90" y1="354.80" x2="205.50" y2="354.80" stroke="#111" stroke-width="0.96"/><line x1="218.00" y1="353.00" x2="218.00" y2="356.50" stroke="#111" stroke-width="0.8"/><line x1="216.70" y1="353.00" x2="219.30" y2="353.00" stroke="#111" stroke-width="0.96"/><line x1="216.70" y1="356.50" x2="219.30" y2="356.50" stroke="#111" stroke-width="0.96"/><line x1="225.30" y1="353.00" x2="225.30" y2="359.20" stroke="#111" stroke-width="0.8"/><line x1="224.00" y1="353.00" x2="226.60" y2="353.00" stroke="#111" stroke-width="0.96"/><line x1="224.00" y1="359.20" x2="226.60" y2="359.20" stroke="#111" stroke-width="0.96"/><text x="227.8" y="341.3" font-size="9.6" text-anchor="middle" font-weight="normal" fill="#111" stroke="#111" stroke-width="0.12" >HDLM-2</text><line x1="279.10" y1="348.50" x2="279.10" y2="394.80" stroke="#111" stroke-width="2.0"/><line x1="276.10" y1="394.20" x2="278.90" y2="394.20" stroke="#111" stroke-width="1.4"/><line x1="276.10" y1="389.73" x2="278.90" y2="389.73" stroke="#111" stroke-width="1.4"/><line x1="276.10" y1="385.26" x2="278.90" y2="385.26" stroke="#111" stroke-width="1.4"/><line x1="276.10" y1="380.79" x2="278.90" y2="380.79" stroke="#111" stroke-width="1.4"/><line x1="276.10" y1="376.32" x2="278.90" y2="376.32" stroke="#111" stroke-width="1.4"/><line x1="276.10" y1="371.85" x2="278.90" y2="371.85" stroke="#111" stroke-width="1.4"/><line x1="276.10" y1="367.38" x2="278.90" y2="367.38" stroke="#111" stroke-width="1.4"/><line x1="276.10" y1="362.91" x2="278.90" y2="362.91" stroke="#111" stroke-width="1.4"/><line x1="276.10" y1="358.44" x2="278.90" y2="358.44" stroke="#111" stroke-width="1.4"/><line x1="276.10" y1="353.97" x2="278.90" y2="353.97" stroke="#111" stroke-width="1.4"/><line x1="276.10" y1="349.50" x2="278.90" y2="349.50" stroke="#111" stroke-width="1.4"/><line x1="278.10" y1="394.20" x2="343.30" y2="394.20" stroke="#111" stroke-width="1.5"/><line x1="278.90" y1="394.20" x2="278.90" y2="396.80" stroke="#111" stroke-width="1.1"/><line x1="289.55" y1="394.20" x2="289.55" y2="396.80" stroke="#111" stroke-width="1.1"/><line x1="300.20" y1="394.20" x2="300.20" y2="396.80" stroke="#111" stroke-width="1.1"/><line x1="310.85" y1="394.20" x2="310.85" y2="396.80" stroke="#111" stroke-width="1.1"/><line x1="321.50" y1="394.20" x2="321.50" y2="396.80" stroke="#111" stroke-width="1.1"/><line x1="332.15" y1="394.20" x2="332.15" y2="396.80" stroke="#111" stroke-width="1.1"/><line x1="342.80" y1="394.20" x2="342.80" y2="396.80" stroke="#111" stroke-width="1.1"/><text x="278.9" y="403.6" font-size="4.4" text-anchor="middle" font-weight="normal" fill="#333" stroke="#333" stroke-width="0.08" >-1.5</text><text x="289.5" y="403.6" font-size="4.4" text-anchor="middle" font-weight="normal" fill="#333" stroke="#333" stroke-width="0.08" >-1.0</text><text x="300.2" y="403.6" font-size="4.4" text-anchor="middle" font-weight="normal" fill="#333" stroke="#333" stroke-width="0.08" >-0.5</text><text x="310.8" y="403.6" font-size="4.4" text-anchor="middle" font-weight="normal" fill="#333" stroke="#333" stroke-width="0.08" >0.0</text><text x="321.5" y="403.6" font-size="4.4" text-anchor="middle" font-weight="normal" fill="#333" stroke="#333" stroke-width="0.08" >0.5</text><text x="332.1" y="403.6" font-size="4.4" text-anchor="middle" font-weight="normal" fill="#333" stroke="#333" stroke-width="0.08" >1.0</text><text x="342.8" y="403.6" font-size="4.4" text-anchor="middle" font-weight="normal" fill="#333" stroke="#333" stroke-width="0.08" >1.5</text><text x="272.6" y="351.1" font-size="4.5" text-anchor="end" font-weight="normal" fill="#333" stroke="#333" stroke-width="0.1" >110</text><text x="272.6" y="360.1" font-size="4.5" text-anchor="end" font-weight="normal" fill="#333" stroke="#333" stroke-width="0.1" >90</text><text x="272.6" y="369.1" font-size="4.5" text-anchor="end" font-weight="normal" fill="#333" stroke="#333" stroke-width="0.1" >70</text><text x="272.6" y="378.1" font-size="4.5" text-anchor="end" font-weight="normal" fill="#333" stroke="#333" stroke-width="0.1" >50</text><text x="272.6" y="387.0" font-size="4.5" text-anchor="end" font-weight="normal" fill="#333" stroke="#333" stroke-width="0.1" >30</text><text x="272.6" y="395.8" font-size="4.5" text-anchor="end" font-weight="normal" fill="#333" stroke="#333" stroke-width="0.1" >10</text><path d="M290.20 354.20 C292.25 354.32 299.38 354.60 302.50 354.90 C305.62 355.20 306.75 354.95 308.90 356.00 C311.05 357.05 313.35 358.45 315.40 361.20 C317.45 363.95 319.15 368.90 321.20 372.50 C323.25 376.10 325.65 380.65 327.70 382.80 C329.75 384.95 332.53 384.97 333.50 385.40" fill="none" stroke="#d0607a" stroke-width="2.4" opacity="0.3"/><path d="M290.20 354.20 C292.25 354.32 299.38 354.60 302.50 354.90 C305.62 355.20 306.75 354.95 308.90 356.00 C311.05 357.05 313.35 358.45 315.40 361.20 C317.45 363.95 319.15 368.90 321.20 372.50 C323.25 376.10 325.65 380.65 327.70 382.80 C329.75 384.95 332.53 384.97 333.50 385.40" fill="none" stroke="#6e1234" stroke-width="0.9"/><rect x="289.10" y="353.10" width="2.2" height="2.2" fill="#6e1234"/><rect x="301.40" y="354.30" width="2.2" height="2.2" fill="#6e1234"/><rect x="307.80" y="355.50" width="2.2" height="2.2" fill="#6e1234"/><rect x="314.30" y="360.40" width="2.2" height="2.2" fill="#6e1234"/><rect x="320.10" y="372.40" width="2.2" height="2.2" fill="#6e1234"/><rect x="326.60" y="382.70" width="2.2" height="2.2" fill="#6e1234"/><rect x="332.40" y="384.30" width="2.2" height="2.2" fill="#6e1234"/><line x1="302.50" y1="352.30" x2="302.50" y2="359.20" stroke="#111" stroke-width="0.8"/><line x1="301.20" y1="352.30" x2="303.80" y2="352.30" stroke="#111" stroke-width="0.96"/><line x1="301.20" y1="359.20" x2="303.80" y2="359.20" stroke="#111" stroke-width="0.96"/><line x1="315.40" y1="359.20" x2="315.40" y2="363.50" stroke="#111" stroke-width="0.8"/><line x1="314.10" y1="359.20" x2="316.70" y2="359.20" stroke="#111" stroke-width="0.96"/><line x1="314.10" y1="363.50" x2="316.70" y2="363.50" stroke="#111" stroke-width="0.96"/><line x1="321.20" y1="369.20" x2="321.20" y2="376.20" stroke="#111" stroke-width="0.8"/><line x1="319.90" y1="369.20" x2="322.50" y2="369.20" stroke="#111" stroke-width="0.96"/><line x1="319.90" y1="376.20" x2="322.50" y2="376.20" stroke="#111" stroke-width="0.96"/><text x="310.8" y="342.5" font-size="9.6" text-anchor="middle" font-weight="normal" fill="#111" stroke="#111" stroke-width="0.12" >L1236</text><line x1="358.40" y1="348.50" x2="358.40" y2="394.80" stroke="#111" stroke-width="2.0"/><line x1="355.40" y1="394.20" x2="358.20" y2="394.20" stroke="#111" stroke-width="1.4"/><line x1="355.40" y1="389.73" x2="358.20" y2="389.73" stroke="#111" stroke-width="1.4"/><line x1="355.40" y1="385.26" x2="358.20" y2="385.26" stroke="#111" stroke-width="1.4"/><line x1="355.40" y1="380.79" x2="358.20" y2="380.79" stroke="#111" stroke-width="1.4"/><line x1="355.40" y1="376.32" x2="358.20" y2="376.32" stroke="#111" stroke-width="1.4"/><line x1="355.40" y1="371.85" x2="358.20" y2="371.85" stroke="#111" stroke-width="1.4"/><line x1="355.40" y1="367.38" x2="358.20" y2="367.38" stroke="#111" stroke-width="1.4"/><line x1="355.40" y1="362.91" x2="358.20" y2="362.91" stroke="#111" stroke-width="1.4"/><line x1="355.40" y1="358.44" x2="358.20" y2="358.44" stroke="#111" stroke-width="1.4"/><line x1="355.40" y1="353.97" x2="358.20" y2="353.97" stroke="#111" stroke-width="1.4"/><line x1="355.40" y1="349.50" x2="358.20" y2="349.50" stroke="#111" stroke-width="1.4"/><line x1="357.40" y1="394.20" x2="424.70" y2="394.20" stroke="#111" stroke-width="1.5"/><line x1="358.20" y1="394.20" x2="358.20" y2="396.80" stroke="#111" stroke-width="1.1"/><line x1="369.20" y1="394.20" x2="369.20" y2="396.80" stroke="#111" stroke-width="1.1"/><line x1="380.20" y1="394.20" x2="380.20" y2="396.80" stroke="#111" stroke-width="1.1"/><line x1="391.20" y1="394.20" x2="391.20" y2="396.80" stroke="#111" stroke-width="1.1"/><line x1="402.20" y1="394.20" x2="402.20" y2="396.80" stroke="#111" stroke-width="1.1"/><line x1="413.20" y1="394.20" x2="413.20" y2="396.80" stroke="#111" stroke-width="1.1"/><line x1="424.20" y1="394.20" x2="424.20" y2="396.80" stroke="#111" stroke-width="1.1"/><text x="358.2" y="403.6" font-size="4.4" text-anchor="middle" font-weight="normal" fill="#333" stroke="#333" stroke-width="0.08" >-1.5</text><text x="369.2" y="403.6" font-size="4.4" text-anchor="middle" font-weight="normal" fill="#333" stroke="#333" stroke-width="0.08" >-1.0</text><text x="380.2" y="403.6" font-size="4.4" text-anchor="middle" font-weight="normal" fill="#333" stroke="#333" stroke-width="0.08" >-0.5</text><text x="391.2" y="403.6" font-size="4.4" text-anchor="middle" font-weight="normal" fill="#333" stroke="#333" stroke-width="0.08" >0.0</text><text x="402.2" y="403.6" font-size="4.4" text-anchor="middle" font-weight="normal" fill="#333" stroke="#333" stroke-width="0.08" >0.5</text><text x="413.2" y="403.6" font-size="4.4" text-anchor="middle" font-weight="normal" fill="#333" stroke="#333" stroke-width="0.08" >1.0</text><text x="424.2" y="403.6" font-size="4.4" text-anchor="middle" font-weight="normal" fill="#333" stroke="#333" stroke-width="0.08" >1.5</text><text x="351.9" y="351.6" font-size="4.5" text-anchor="end" font-weight="normal" fill="#333" stroke="#333" stroke-width="0.1" >130</text><text x="351.9" y="358.9" font-size="4.5" text-anchor="end" font-weight="normal" fill="#333" stroke="#333" stroke-width="0.1" >110</text><text x="351.9" y="366.6" font-size="4.5" text-anchor="end" font-weight="normal" fill="#333" stroke="#333" stroke-width="0.1" >90</text><text x="351.9" y="373.3" font-size="4.5" text-anchor="end" font-weight="normal" fill="#333" stroke="#333" stroke-width="0.1" >70</text><text x="351.9" y="380.8" font-size="4.5" text-anchor="end" font-weight="normal" fill="#333" stroke="#333" stroke-width="0.1" >50</text><text x="351.9" y="388.1" font-size="4.5" text-anchor="end" font-weight="normal" fill="#333" stroke="#333" stroke-width="0.1" >30</text><text x="351.9" y="395.5" font-size="4.5" text-anchor="end" font-weight="normal" fill="#333" stroke="#333" stroke-width="0.1" >10</text><path d="M369.20 359.00 C371.47 359.10 379.33 359.27 382.80 359.60 C386.27 359.93 387.83 360.18 390.00 361.00 C392.17 361.82 393.72 362.67 395.80 364.50 C397.88 366.33 400.27 369.42 402.50 372.00 C404.73 374.58 407.12 377.17 409.20 380.00 C411.28 382.83 414.03 387.50 415.00 389.00" fill="none" stroke="#d0607a" stroke-width="2.4" opacity="0.3"/><path d="M369.20 359.00 C371.47 359.10 379.33 359.27 382.80 359.60 C386.27 359.93 387.83 360.18 390.00 361.00 C392.17 361.82 393.72 362.67 395.80 364.50 C397.88 366.33 400.27 369.42 402.50 372.00 C404.73 374.58 407.12 377.17 409.20 380.00 C411.28 382.83 414.03 387.50 415.00 389.00" fill="none" stroke="#6e1234" stroke-width="0.9"/><rect x="368.10" y="358.90" width="2.2" height="2.2" fill="#6e1234"/><rect x="368.10" y="360.70" width="2.2" height="2.2" fill="#6e1234"/><rect x="381.70" y="360.40" width="2.2" height="2.2" fill="#6e1234"/><rect x="387.80" y="357.40" width="2.2" height="2.2" fill="#6e1234"/><rect x="394.70" y="363.90" width="2.2" height="2.2" fill="#6e1234"/><rect x="394.70" y="366.10" width="2.2" height="2.2" fill="#6e1234"/><rect x="401.40" y="374.30" width="2.2" height="2.2" fill="#6e1234"/><rect x="408.10" y="377.10" width="2.2" height="2.2" fill="#6e1234"/><rect x="413.90" y="387.90" width="2.2" height="2.2" fill="#6e1234"/><line x1="388.90" y1="355.40" x2="388.90" y2="361.00" stroke="#111" stroke-width="0.8"/><line x1="387.60" y1="355.40" x2="390.20" y2="355.40" stroke="#111" stroke-width="0.96"/><line x1="387.60" y1="361.00" x2="390.20" y2="361.00" stroke="#111" stroke-width="0.96"/><line x1="395.80" y1="364.50" x2="395.80" y2="367.50" stroke="#111" stroke-width="0.8"/><line x1="394.50" y1="364.50" x2="397.10" y2="364.50" stroke="#111" stroke-width="0.96"/><line x1="394.50" y1="367.50" x2="397.10" y2="367.50" stroke="#111" stroke-width="0.96"/><text x="391.2" y="342.5" font-size="9.6" text-anchor="middle" font-weight="normal" fill="#111" stroke="#111" stroke-width="0.12" >L428</text><line x1="440.40" y1="348.50" x2="440.40" y2="394.80" stroke="#111" stroke-width="2.0"/><line x1="437.40" y1="394.20" x2="440.20" y2="394.20" stroke="#111" stroke-width="1.4"/><line x1="437.40" y1="389.73" x2="440.20" y2="389.73" stroke="#111" stroke-width="1.4"/><line x1="437.40" y1="385.26" x2="440.20" y2="385.26" stroke="#111" stroke-width="1.4"/><line x1="437.40" y1="380.79" x2="440.20" y2="380.79" stroke="#111" stroke-width="1.4"/><line x1="437.40" y1="376.32" x2="440.20" y2="376.32" stroke="#111" stroke-width="1.4"/><line x1="437.40" y1="371.85" x2="440.20" y2="371.85" stroke="#111" stroke-width="1.4"/><line x1="437.40" y1="367.38" x2="440.20" y2="367.38" stroke="#111" stroke-width="1.4"/><line x1="437.40" y1="362.91" x2="440.20" y2="362.91" stroke="#111" stroke-width="1.4"/><line x1="437.40" y1="358.44" x2="440.20" y2="358.44" stroke="#111" stroke-width="1.4"/><line x1="437.40" y1="353.97" x2="440.20" y2="353.97" stroke="#111" stroke-width="1.4"/><line x1="437.40" y1="349.50" x2="440.20" y2="349.50" stroke="#111" stroke-width="1.4"/><line x1="439.40" y1="394.20" x2="510.30" y2="394.20" stroke="#111" stroke-width="1.5"/><line x1="440.20" y1="394.20" x2="440.20" y2="396.80" stroke="#111" stroke-width="1.1"/><line x1="451.80" y1="394.20" x2="451.80" y2="396.80" stroke="#111" stroke-width="1.1"/><line x1="463.40" y1="394.20" x2="463.40" y2="396.80" stroke="#111" stroke-width="1.1"/><line x1="475.00" y1="394.20" x2="475.00" y2="396.80" stroke="#111" stroke-width="1.1"/><line x1="486.60" y1="394.20" x2="486.60" y2="396.80" stroke="#111" stroke-width="1.1"/><line x1="498.20" y1="394.20" x2="498.20" y2="396.80" stroke="#111" stroke-width="1.1"/><line x1="509.80" y1="394.20" x2="509.80" y2="396.80" stroke="#111" stroke-width="1.1"/><text x="440.2" y="403.6" font-size="4.4" text-anchor="middle" font-weight="normal" fill="#333" stroke="#333" stroke-width="0.08" >-1.5</text><text x="451.8" y="403.6" font-size="4.4" text-anchor="middle" font-weight="normal" fill="#333" stroke="#333" stroke-width="0.08" >-1.0</text><text x="463.4" y="403.6" font-size="4.4" text-anchor="middle" font-weight="normal" fill="#333" stroke="#333" stroke-width="0.08" >-0.5</text><text x="475.0" y="403.6" font-size="4.4" text-anchor="middle" font-weight="normal" fill="#333" stroke="#333" stroke-width="0.08" >0.0</text><text x="486.6" y="403.6" font-size="4.4" text-anchor="middle" font-weight="normal" fill="#333" stroke="#333" stroke-width="0.08" >0.5</text><text x="498.2" y="403.6" font-size="4.4" text-anchor="middle" font-weight="normal" fill="#333" stroke="#333" stroke-width="0.08" >1.0</text><text x="509.8" y="403.6" font-size="4.4" text-anchor="middle" font-weight="normal" fill="#333" stroke="#333" stroke-width="0.08" >1.5</text><text x="433.9" y="351.1" font-size="4.5" text-anchor="end" font-weight="normal" fill="#333" stroke="#333" stroke-width="0.1" >110</text><text x="433.9" y="360.1" font-size="4.5" text-anchor="end" font-weight="normal" fill="#333" stroke="#333" stroke-width="0.1" >90</text><text x="433.9" y="369.1" font-size="4.5" text-anchor="end" font-weight="normal" fill="#333" stroke="#333" stroke-width="0.1" >70</text><text x="433.9" y="378.1" font-size="4.5" text-anchor="end" font-weight="normal" fill="#333" stroke="#333" stroke-width="0.1" >50</text><text x="433.9" y="387.0" font-size="4.5" text-anchor="end" font-weight="normal" fill="#333" stroke="#333" stroke-width="0.1" >30</text><text x="433.9" y="395.8" font-size="4.5" text-anchor="end" font-weight="normal" fill="#333" stroke="#333" stroke-width="0.1" >10</text><path d="M452.20 354.60 C454.42 355.33 462.00 357.43 465.50 359.00 C469.00 360.57 469.62 361.33 473.20 364.00 C476.78 366.67 483.58 372.08 487.00 375.00 C490.42 377.92 491.45 378.50 493.70 381.50 C495.95 384.50 499.37 391.08 500.50 393.00" fill="none" stroke="#d0607a" stroke-width="2.4" opacity="0.3"/><path d="M452.20 354.60 C454.42 355.33 462.00 357.43 465.50 359.00 C469.00 360.57 469.62 361.33 473.20 364.00 C476.78 366.67 483.58 372.08 487.00 375.00 C490.42 377.92 491.45 378.50 493.70 381.50 C495.95 384.50 499.37 391.08 500.50 393.00" fill="none" stroke="#6e1234" stroke-width="0.9"/><rect x="451.10" y="353.50" width="2.2" height="2.2" fill="#6e1234"/><rect x="464.40" y="356.10" width="2.2" height="2.2" fill="#6e1234"/><rect x="464.40" y="358.40" width="2.2" height="2.2" fill="#6e1234"/><rect x="472.10" y="365.90" width="2.2" height="2.2" fill="#6e1234"/><rect x="472.10" y="368.90" width="2.2" height="2.2" fill="#6e1234"/><rect x="485.90" y="373.10" width="2.2" height="2.2" fill="#6e1234"/><rect x="492.60" y="379.20" width="2.2" height="2.2" fill="#6e1234"/><rect x="499.40" y="391.90" width="2.2" height="2.2" fill="#6e1234"/><line x1="465.50" y1="354.20" x2="465.50" y2="360.00" stroke="#111" stroke-width="0.8"/><line x1="464.20" y1="354.20" x2="466.80" y2="354.20" stroke="#111" stroke-width="0.96"/><line x1="464.20" y1="360.00" x2="466.80" y2="360.00" stroke="#111" stroke-width="0.96"/><line x1="473.20" y1="365.40" x2="473.20" y2="371.50" stroke="#111" stroke-width="0.8"/><line x1="471.90" y1="365.40" x2="474.50" y2="365.40" stroke="#111" stroke-width="0.96"/><line x1="471.90" y1="371.50" x2="474.50" y2="371.50" stroke="#111" stroke-width="0.96"/><text x="475.0" y="342.5" font-size="9.6" text-anchor="middle" font-weight="normal" fill="#111" stroke="#111" stroke-width="0.12" >KM-H2</text><text transform="translate(13.0 370.5) rotate(-90)" font-size="8.4" text-anchor="middle" fill="#222" stroke="#222" stroke-width="0.12">Proliferation (%)</text><line x1="30.80" y1="414.40" x2="230.60" y2="414.40" stroke="#111" stroke-width="1.3"/><line x1="323.60" y1="414.40" x2="509.60" y2="414.40" stroke="#111" stroke-width="1.3"/><text x="236.2" y="416.8" font-size="9.2" text-anchor="start" font-weight="normal" fill="#111" stroke="#111" stroke-width="0.12" textLength="82" lengthAdjust="spacingAndGlyphs">Log (SEL24-B489 (&#956;M))</text><text x="5.3" y="428" font-size="9.2" fill="#111">IC<tspan font-size="6" dy="1.6">50</tspan></text><text x="5.2" y="437.9" font-size="7.4" text-anchor="start" font-weight="normal" fill="#111" stroke="#111" stroke-width="0.08" >95% CI</text><text x="64.2" y="428.0" font-size="9.2" text-anchor="middle" font-weight="normal" fill="#111" stroke="#111" stroke-width="0.05" >5,347&#956;M</text><text x="64.2" y="437.9" font-size="7.4" text-anchor="middle" font-weight="normal" fill="#111" stroke="#111" stroke-width="0.08" >2,041-14,01</text><text x="144.7" y="428.0" font-size="9.2" text-anchor="middle" font-weight="normal" fill="#111" stroke="#111" stroke-width="0.05" >3,001&#956;M</text><text x="144.7" y="437.9" font-size="7.4" text-anchor="middle" font-weight="normal" fill="#111" stroke="#111" stroke-width="0.08" >2,676-3,365</text><text x="228.8" y="428.0" font-size="9.2" text-anchor="middle" font-weight="normal" fill="#111" stroke="#111" stroke-width="0.05" >3,070&#956;M</text><text x="228.8" y="437.9" font-size="7.4" text-anchor="middle" font-weight="normal" fill="#111" stroke="#111" stroke-width="0.08" >2,098-4,492</text><text x="311.8" y="428.0" font-size="9.2" text-anchor="middle" font-weight="normal" fill="#111" stroke="#111" stroke-width="0.05" >2,971&#956;M</text><text x="311.8" y="437.9" font-size="7.4" text-anchor="middle" font-weight="normal" fill="#111" stroke="#111" stroke-width="0.08" >2,510-3,516</text><text x="392.0" y="428.0" font-size="9.2" text-anchor="middle" font-weight="normal" fill="#111" stroke="#111" stroke-width="0.05" >4,618&#956;M</text><text x="392.0" y="437.9" font-size="7.4" text-anchor="middle" font-weight="normal" fill="#111" stroke="#111" stroke-width="0.08" >2,398-8,895</text><text x="476.0" y="428.0" font-size="9.2" text-anchor="middle" font-weight="normal" fill="#111" stroke="#111" stroke-width="0.05" >4,683&#956;M</text><text x="476.0" y="437.9" font-size="7.4" text-anchor="middle" font-weight="normal" fill="#111" stroke="#111" stroke-width="0.08" >very wide</text><g transform="scale(0.5)" stroke="#000" stroke-width="1.6" stroke-opacity="0.22" filter="url(#fb)"><path d="M89 1065h2m1 6h2m0-7h2m-2 6h2m-1-14h2m-2 5h2m-2 3h2m-1 5h2m-1-6h2m-1 3h2m-1-9h2m-2 3h2m-2 8h2m-1-7h2m-2 7h2m-1-14h2m-2 9h2m-2 4h2m-2 5h2m-1-18h2m-2 3h2m-2 8h2m-2 7h2m-1-30h2m-2 12h2m-2 4h2m-2 1h2m-2 1h2m-2 2h2m-1-12h2m-2 7h2m-2 3h2m-2 1h2m-2 2h2m-2 9h2m-1-21h2m-2 20h2m-1-20h2m-2 2h2m-2 2h2m-2 3h2m-2 1h2m-2 4h2m-2 2h2m-1-20h2m-2 12h2m-2 1h2m-2 4h2m-2 2h2m-1-18h2m-2 6h2m-2 6h2m-2 4h2m-2 3h2m-1-21h2m-2 3h2m-2 15h2m-1-8h2m-2 2h2m-2 1h2m-2 1h2m-2 3h2m-2 1h2m-2 4h2m-1-10h2m-2 2h2m-2 4h2m-1-19h2m-2 22h2m-2 5h2m-1-27h2m-2 9h2m-2 3h2m-2 4h2m-2 3h2m-1-14h2m-2 2h2m-2 1h2m-2 1h2m-2 1h2m-2 1h2m-2 1h2m-2 3h2m-2 2h2m-2 3h2m-1-27h2m-2 14h2m-2 2h2m-2 2h2m-2 7h2m-2 2h2m-1-17h2m-2 5h2m-2 3h2m-2 1h2m-2 4h2m-1-7h2m-2 1h2m-2 1h2m-2 1h2m-2 1h2m-2 1h2m-2 1h2m-2 1h2m-2 1h2m-2 1h2m-2 2h2m-2 1h2m-1-18h2m-2 6h2m-2 2h2m-2 2h2m-2 1h2m-2 4h2m-1-16h2m-2 2h2m-2 1h2m-2 3h2m-2 3h2m-2 1h2m-2 2h2m-2 4h2m-1-17h2m-2 1h2m-2 1h2m-2 3h2m-2 3h2m-2 1h2m-2 1h2m-2 2h2m-1-7h2m-2 1h2m-2 3h2m-2 1h2m-2 2h2m-2 7h2m-1-24h2m-2 5h2m-1 1h2m-2 1h2m-2 1h2m-2 5h2m-2 5h2m-2 2h2m-1-14h2m-2 4h2m-2 1h2m-2 3h2m-2 2h2m-2 1h2m-2 4h2m-1-9h2m-2 4h2m-2 1h2m-2 2h2m-1-20h2m-2 4h2m-2 3h2m-2 6h2m-1 7h2m-1-23h2m-2 6h2m-2 2h2m-1-13h2m-2 27h2m-1-16h2m-2 3h2m-2 19h2m-1-20h2m-1-9h2m-2 14h2m-1-10h2m-2 2h2m-2 14h2m-1-11h2m-1-17h2m-2 15h2m-1-2h2m-1-14h2m-1-27h2m-2 38h2m-1 23h2m0-50h2m-1 14h2m1 25h2m-2 2h2m-1-19h2m-2 6h2m-2 3h2m0-4h2m-2 7h2m0 12h2m-2 1h2m0-43h2m-2 7h2m-2 23h2m-1-24h2m-2 18h2m0-27h2m-2 18h2m-2 18h2m-1-42h2m-2 12h2m-2 6h2m-2 28h2m-2 1h2m-1-34h2m-2 32h2m0-50h2m-2 24h2m-2 6h2m-2 40h2m-1-45h2m-1 8h2m0 8h2m-2 31h2m0-73h2m-2 25h2m-2 2h2m-2 5h2m-1-31h2m-2 10h2m-2 26h2m0-38h2m-2 15h2m-2 11h2m-2 15h2m-1-44h2m-2 9h2m-2 3h2m-2 3h2m-2 32h2m-1-33h2m-2 10h2m-2 5h2m-1-3h2m-2 24h2m-1-44h2m-2 29h2m-2 1h2m-1-32h2m-2 5h2m-2 48h2m-1-62h2m-2 15h2m-2 12h2m-1-15h2m-2 33h2m-2 23h2m-1-66h2m-1 4h2m-1 7h2m-2 5h2m-2 9h2m-2 9h2m-2 16h2m-1 12h2m-1-55h2m-2 1h2m-1 26h2m-1-34h2m-1 7h2m-2 16h2m-1-25h2m-2 16h2m-2 2h2m-1-3h2m-2 11h2m-2 30h2m0-64h2m0 45h2m-1-39h2m-1-14h2m0 16h2m1 8h2"/><path d="M91 993h2m1 67h2m-1 6h2m0-6h2m-2 2h2m-2 4h2m-1-5h2m-2 1h2m-1-4h2m-2 7h2m-1-13h2m-2 9h2m-1-3h2m-2 3h2m-2 2h2m-2 4h2m-1-6h2m-2 2h2m-1-12h2m-2 1h2m-2 3h2m-2 1h2m-2 3h2m-2 3h2m-2 1h2m-2 2h2m-2 2h2m-1-19h2m-2 9h2m-1-4h2m-2 9h2m-2 3h2m-2 4h2m-1-23h2m-2 5h2m-2 1h2m-2 7h2m-2 2h2m-2 3h2m-1-15h2m-2 2h2m-2 2h2m-2 2h2m-2 2h2m-2 2h2m-2 1h2m-2 4h2m-1-7h2m-2 2h2m-2 3h2m-2 1h2m-2 1h2m-2 1h2m-2 2h2m-2 2h2m-1-16h2m-2 1h2m-2 3h2m-2 4h2m-2 7h2m-1-15h2m-2 3h2m-2 3h2m-2 2h2m-2 1h2m-2 2h2m-2 2h2m-1-16h2m-2 4h2m-2 1h2m-2 5h2m-2 2h2m-2 3h2m-1-18h2m-2 8h2m-2 3h2m-2 1h2m-2 7h2m-1-23h2m-2 4h2m-2 4h2m-2 1h2m-2 7h2m-2 1h2m-2 1h2m-2 3h2m-1-11h2m-2 1h2m-2 1h2m-2 2h2m-2 4h2m-2 3h2m-2 2h2m-1-17h2m-2 2h2m-2 3h2m-2 7h2m-2 1h2m-1-17h2m-2 6h2m-2 4h2m-2 1h2m-2 4h2m-2 2h2m-2 1h2m-1-15h2m-2 2h2m-2 1h2m-2 5h2m-2 1h2m-2 6h2m-1-21h2m-2 9h2m-2 1h2m-2 2h2m-2 3h2m-2 7h2m-2 1h2m-1-17h2m-2 8h2m-1-5h2m-2 3h2m-1-8h2m-2 1h2m-2 2h2m-2 3h2m-2 1h2m-2 6h2m-2 3h2m-1-12h2m-2 9h2m-2 6h2m-1-17h2m-2 2h2m-2 1h2m-2 2h2m-2 4h2m-2 1h2m-2 2h2m-1-11h2m-2 2h2m-2 2h2m-1-32h2m-2 15h2m-2 12h2m-2 2h2m-2 4h2m-2 1h2m-2 1h2m-2 2h2m-1-19h2m-2 10h2m-2 1h2m-2 2h2m-2 4h2m-1-9h2m-2 4h2m-2 21h2m0-63h2m-2 27h2m-2 13h2m-2 1h2m-2 5h2m-1-13h2m-2 6h2m-2 1h2m-2 3h2m-1-5h2m-2 8h2m-2 1h2m-1-7h2m-1-5h2m-2 21h2m-1-38h2m-1 17h2m-2 8h2m-2 2h2m0-17h2m-2 3h2m-1-6h2m-1 6h2m-1-10h2m-1 6h2m-2 11h2m-2 3h2m-2 2h2m-1-28h2m-1-22h2m-2 28h2m-1 5h2m0 7h2m-1-37h2m-2 50h2m-1-47h2m-2 21h2m-1-22h2m-2 25h2m-2 1h2m-1-19h2m-2 10h2m-2 31h2m-1-37h2m-2 3h2m-2 18h2m-1-20h2m-1-9h2m-2 16h2m-2 1h2m-2 27h2m1-57h2m-2 1h2m-2 28h2m-1 29h2m-1-54h2m-2 10h2m-2 15h2m-1-28h2m-2 8h2m-2 6h2m-2 11h2m-1 3h2m-2 6h2m-2 2h2m-2 22h2m-1-7h2m-1-45h2m-2 6h2m-2 3h2m-2 11h2m-2 5h2m-2 20h2m-2 5h2m-1-60h2m-2 68h2m-1-64h2m-2 32h2m0-20h2m-1-16h2m-1 36h2m-2 17h2m-1-49h2m-1 0h2m-2 18h2m-2 46h2m-1-66h2m-2 22h2m-1-7h2m-1-10h2m-2 25h2m-1-11h2m-1-2h2m-1 13h2m-1-33h2m-1 16h2m-1 5h2m0-9h2m-2 5h2m-1-21h2m-2 4h2m-2 6h2m-2 23h2m0-53h2m-2 41h2m1-18h2m-2 7h2m-2 13h2m-1 12h2m-2 16h2m0 26h2m1-72h2m-1-13h2m-2 7h2m-1 17h2m-1-16h2m-2 15h2m-1-28h2m-2 75h2m0-67h2"/><path d="M89 1035h2m2 28h2m-2 4h2m0-5h2m-1-2h2m-2 11h2m-1-17h2m0 5h2m-2 9h2m-1-9h2m-2 10h2m-1-12h2m-2 9h2m-1-6h2m-2 5h2m-2 2h2m-2 2h2m-1-13h2m-2 3h2m-2 1h2m-2 3h2m0-9h2m-2 5h2m-2 2h2m-2 1h2m-2 2h2m-1-14h2m-2 2h2m-2 4h2m-2 1h2m-2 2h2m-2 3h2m-1-12h2m-2 8h2m-2 1h2m-2 1h2m-2 3h2m-2 6h2m-1-16h2m-2 4h2m-2 2h2m-2 1h2m-2 1h2m-2 4h2m-2 6h2m-2 1h2m-1-36h2m-2 17h2m-2 2h2m-2 2h2m-2 1h2m-2 1h2m-2 3h2m-2 1h2m-1-18h2m-2 13h2m-2 3h2m-2 1h2m-1-16h2m-2 3h2m-2 2h2m-2 2h2m-2 1h2m-2 7h2m-2 2h2m-2 1h2m-2 2h2m-1-19h2m-2 1h2m-2 4h2m-2 1h2m-2 1h2m-2 7h2m-2 4h2m-1-19h2m-2 4h2m-2 1h2m-2 3h2m-2 2h2m-2 2h2m-2 1h2m-2 3h2m-2 1h2m-2 5h2m-1-21h2m-2 6h2m-2 3h2m-2 1h2m-2 5h2m-2 1h2m-1-19h2m-2 2h2m-2 1h2m-2 1h2m-2 4h2m-2 1h2m-2 1h2m-2 1h2m-2 1h2m-2 4h2m-1-11h2m-2 9h2m-2 1h2m-1-12h2m-2 6h2m-2 1h2m-2 1h2m-2 1h2m-1-22h2m-2 14h2m-2 5h2m-2 2h2m-2 4h2m-2 2h2m-1-12h2m-2 1h2m-2 1h2m-2 3h2m-2 2h2m-2 4h2m-2 2h2m-1-15h2m-2 8h2m-2 2h2m-2 4h2m-1-17h2m-2 2h2m-2 3h2m-2 5h2m-2 3h2m-2 2h2m-1-10h2m-2 11h2m-1-12h2m-2 1h2m-2 1h2m-2 6h2m-2 2h2m-2 2h2m-1-88h2m-1 76h2m-2 7h2m-1-8h2m-2 4h2m-2 5h2m-2 2h2m-1-14h2m-2 5h2m-2 2h2m-1-6h2m-2 8h2m-1-14h2m-2 6h2m-2 4h2m-1-7h2m-2 9h2m-1 4h2m-1 4h2m-1-14h2m-1-10h2m-2 15h2m-2 4h2m-1-21h2m-1 6h2m-2 3h2m-2 3h2m-1-10h2m-2 8h2m-2 11h2m0-29h2m-1 12h2m-2 8h2m0-7h2m-2 11h2m-1-31h2m-2 26h2m1-19h2m-2 2h2m-2 12h2m-1-30h2m-2 23h2m-1-4h2m-1-10h2m-1 20h2m-2 13h2m-1-21h2m-1-16h2m-2 45h2m-1-43h2m-2 9h2m-1-2h2m-1 5h2m-2 16h2m-2 10h2m1-39h2m-2 11h2m-2 5h2m-2 21h2m-1-37h2m-1-4h2m-2 3h2m-2 4h2m-2 11h2m-2 13h2m-1-41h2m-2 5h2m-2 16h2m-2 23h2m-1-36h2m-2 1h2m-2 2h2m-2 4h2m-1-19h2m-2 15h2m-2 12h2m-1-22h2m-2 11h2m-1-7h2m-2 52h2m-1-35h2m-2 34h2m-1-26h2m-2 20h2m-1-51h2m-2 2h2m-2 53h2m-1-46h2m-2 10h2m-2 11h2m-1-18h2m-1 3h2m-2 54h2m-1-57h2m-2 5h2m-2 53h2m-1-59h2m-2 4h2m-1-7h2m-1 9h2m-1-14h2m-2 16h2m-1-3h2m-2 38h2m0-66h2m-2 1h2m-1-17h2m-2 30h2m-2 15h2m-1-5h2m-1 40h2m-1-66h2m-2 16h2m-1 6h2m-2 10h2m-1-28h2m-2 13h2m-2 12h2m-1-33h2m-2 21h2m-2 4h2m0-33h2m-2 23h2m-1 21h2m-2 44h2m-1-52h2m-1-33h2m-1 15h2m3-10h2m-1 16h2"/><path d="M90 1064h2m-2 5h2m0 1h2m-2 1h2m-1-6h2m0-15h2m-2 10h2m-1-7h2m-2 2h2m-2 11h2m-2 1h2m-2 4h2m-1-8h2m-2 4h2m0-7h2m-2 4h2m-1 2h2m-2 1h2m-1-15h2m-2 8h2m-2 3h2m-1-2h2m-2 6h2m-1-13h2m-2 4h2m-2 1h2m-2 12h2m-1-21h2m-2 6h2m-2 2h2m-2 4h2m-2 3h2m-2 2h2m-1-14h2m-2 1h2m-2 4h2m-2 4h2m-1-15h2m-2 8h2m-2 2h2m-2 5h2m-1-11h2m-2 2h2m-2 4h2m-2 1h2m-2 1h2m-2 2h2m-2 1h2m-2 3h2m-1-19h2m-2 3h2m-2 6h2m-2 3h2m-2 1h2m-2 1h2m-1-11h2m-2 5h2m-2 2h2m-2 2h2m-2 3h2m-2 1h2m-2 10h2m-1-11h2m-2 8h2m-2 2h2m-1-55h2m-2 35h2m-2 4h2m-2 2h2m-2 1h2m-2 1h2m-2 3h2m-2 1h2m-1-11h2m-2 1h2m-2 7h2m-2 1h2m-2 3h2m-1-22h2m-2 7h2m-2 2h2m-2 5h2m-2 1h2m-2 3h2m-2 8h2m-1-20h2m-2 3h2m-2 2h2m-2 4h2m-2 4h2m-2 2h2m-1-12h2m-2 1h2m-2 2h2m-2 1h2m-2 3h2m-1-9h2m-2 1h2m-2 2h2m-2 7h2m-1-14h2m-2 10h2m-2 1h2m-2 2h2m-2 1h2m-1-18h2m-2 4h2m-2 1h2m-2 1h2m-2 1h2m-2 2h2m-2 1h2m-2 2h2m-2 1h2m-2 2h2m-2 2h2m-2 4h2m-1-18h2m-2 2h2m-2 11h2m-1-16h2m-2 5h2m-2 5h2m-2 4h2m-2 5h2m-2 1h2m-1-16h2m-2 6h2m-2 1h2m-2 3h2m-2 2h2m-2 4h2m-1-20h2m-2 3h2m-2 7h2m-2 1h2m-2 4h2m-2 4h2m-1-13h2m-2 8h2m-1-12h2m-2 11h2m-2 1h2m-1-23h2m-2 2h2m-2 9h2m-2 4h2m-2 5h2m-1-8h2m-2 1h2m-2 2h2m-2 3h2m-2 2h2m-1-6h2m-2 7h2m-2 1h2m-1-16h2m-2 2h2m-2 2h2m-1-2h2m-2 9h2m-2 5h2m-2 2h2m-1-13h2m-2 5h2m0-13h2m-2 9h2m-2 6h2m-1-2h2m-1-12h2m-1-3h2m-2 8h2m-2 4h2m-1-12h2m-1 3h2m-1 17h2m2-21h2m-2 6h2m-2 7h2m-2 12h2m-2 1h2m-1-26h2m0 0h2m-2 4h2m-1-34h2m-1 34h2m-2 17h2m-1-41h2m-2 11h2m-2 10h2m0-21h2m-2 28h2m-1-17h2m-1-9h2m-2 4h2m-2 13h2m0-51h2m-2 31h2m-2 19h2m-2 18h2m-1-43h2m-2 1h2m-2 26h2m-1-11h2m-1-14h2m-2 9h2m-2 13h2m-1-9h2m-2 1h2m-1 7h2m-2 9h2m-2 16h2m-1-13h2m-1-49h2m-2 38h2m-2 23h2m-1-54h2m-2 3h2m1 12h2m-2 4h2m0-20h2m-2 17h2m-2 27h2m-1-35h2m-2 8h2m-1 28h2m-1-42h2m-1-11h2m-2 18h2m-2 4h2m-2 7h2m-2 37h2m-1-65h2m-2 10h2m-2 4h2m-2 24h2m0 31h2m-1-50h2m-2 43h2m-2 7h2m-1-55h2m-2 6h2m-2 13h2m-2 16h2m-1-45h2m-1-20h2m-2 36h2m-1-4h2m-2 5h2m-2 10h2m-1-12h2m-2 1h2m-2 41h2m-1-52h2m-2 51h2m-2 8h2m0-56h2m-2 4h2m-2 2h2m-2 21h2m-1-51h2m-2 28h2m-1 6h2m-2 20h2m-1-38h2m-2 25h2m-1-5h2m-2 7h2m-1-35h2m-2 10h2m-2 4h2m-2 31h2m3-27h2m-1-16h2m0 56h2m0-53h2"/><path d="M90 1067h2m0 1h2m0-9h2m-2 2h2m-2 7h2m-1-4h2m-1-2h2m0-1h2m-1 2h2m-1-5h2m-2 1h2m-2 2h2m-2 8h2m-1-13h2m-1-1h2m-2 2h2m-2 1h2m-2 6h2m-2 7h2m-1-22h2m-2 5h2m-2 4h2m-2 6h2m-2 2h2m-1-10h2m-2 1h2m-2 3h2m-2 1h2m-2 3h2m-1-11h2m-2 1h2m-1-2h2m-2 2h2m-2 2h2m-2 2h2m-2 8h2m-1-13h2m-2 1h2m-2 3h2m-2 1h2m-2 3h2m-1-8h2m-2 3h2m-2 1h2m-2 1h2m-2 1h2m-2 2h2m-2 3h2m-1-10h2m-2 3h2m-2 1h2m-2 4h2m-2 3h2m-1-18h2m-2 15h2m-2 3h2m-1-16h2m-2 1h2m-2 4h2m-2 2h2m-2 1h2m-2 11h2m-2 4h2m-1-26h2m-2 7h2m-2 6h2m-2 7h2m-1-19h2m-2 7h2m-2 1h2m-2 2h2m-2 1h2m-2 1h2m-2 2h2m-2 2h2m-1-13h2m-2 2h2m-2 1h2m-2 3h2m-2 1h2m-2 1h2m-2 10h2m-1-37h2m-2 17h2m-2 7h2m-2 4h2m-1-17h2m-2 9h2m-2 1h2m-2 1h2m-2 6h2m-2 1h2m-2 1h2m-2 1h2m-1-25h2m-2 13h2m-2 7h2m-2 1h2m-2 6h2m-1-19h2m-2 6h2m-2 1h2m-2 2h2m-2 1h2m-2 1h2m-2 1h2m-2 2h2m-2 7h2m-1-23h2m-2 3h2m-2 2h2m-2 3h2m-2 5h2m-2 2h2m-1-10h2m-2 1h2m-2 4h2m-2 5h2m-2 2h2m-1-18h2m-2 11h2m-1-8h2m-2 9h2m-1-13h2m-2 4h2m-2 2h2m-2 4h2m-2 6h2m-1-18h2m-2 4h2m-2 3h2m-2 2h2m-2 1h2m-2 1h2m-2 3h2m-1-67h2m-2 58h2m-2 3h2m-2 4h2m-2 1h2m-2 2h2m-2 5h2m-1-16h2m-2 4h2m-2 4h2m-2 7h2m-1-9h2m-2 1h2m-2 6h2m-1-17h2m-2 7h2m-2 2h2m-2 2h2m-2 8h2m-1-13h2m-2 2h2m-2 6h2m-2 2h2m-1-16h2m-2 12h2m-1-21h2m-2 7h2m-2 3h2m0 3h2m-1-8h2m-2 5h2m-2 8h2m-1-9h2m-1 3h2m-2 3h2m-1-23h2m-2 26h2m-1-10h2m-2 4h2m-1-33h2m-2 14h2m-1-4h2m-1 25h2m-1-24h2m-1-13h2m-2 16h2m-2 17h2m-1 3h2m0-15h2m-2 17h2m-2 7h2m-1-38h2m0 26h2m0-24h2m-2 2h2m-2 15h2m-2 8h2m-1-18h2m-2 7h2m-1-35h2m-2 47h2m-1-16h2m-1 17h2m-1-48h2m-2 13h2m-1 6h2m-1-2h2m-2 11h2m-2 7h2m-1-30h2m-2 29h2m-2 32h2m-1-63h2m-2 19h2m-2 25h2m-1-43h2m-2 18h2m-2 20h2m-2 1h2m-1-22h2m-2 32h2m-2 24h2m-1-61h2m-2 15h2m-1 12h2m-1 21h2m-1 1h2m-1-57h2m-2 7h2m-2 17h2m-1-14h2m-2 10h2m-1-36h2m-2 9h2m-2 23h2m-2 49h2m-1-53h2m-2 22h2m-1-46h2m-2 18h2m-2 1h2m-2 46h2m-1-50h2m-2 4h2m-1 25h2m-1-37h2m-1 47h2m-1-37h2m-2 7h2m-1-20h2m-2 16h2m-2 1h2m-1-9h2m-2 1h2m-2 25h2m1-41h2m-1-12h2m-2 15h2m-2 38h2m-1-21h2m-1-20h2m-2 8h2m-2 1h2m-2 18h2m-1-18h2m-2 6h2m-1-17h2m-2 4h2m0 8h2m-1 10h2m0 59h2m0-86h2m-1 28h2m3-17h2m3 78h2"/><path d="M92 1071h2m0-8h2m-2 3h2m-2 4h2m0-1h2m-1-10h2m-2 1h2m-2 10h2m-2 1h2m-1-34h2m-1 28h2m-1-5h2m-2 5h2m-2 1h2m-1-13h2m-2 1h2m-2 3h2m-2 4h2m-2 10h2m-1-19h2m-2 9h2m-2 5h2m-1-22h2m-2 8h2m-2 1h2m-1-3h2m-2 1h2m-2 3h2m-2 1h2m-2 3h2m-2 2h2m-2 1h2m-2 5h2m-1-18h2m-2 2h2m-2 3h2m-2 3h2m-2 3h2m-2 2h2m-2 1h2m-2 1h2m-1-6h2m-2 2h2m-2 3h2m-2 1h2m-2 6h2m-1-22h2m-2 4h2m-2 2h2m-2 5h2m-1-5h2m-2 10h2m-1-17h2m-2 3h2m-2 3h2m-2 4h2m-2 1h2m-2 2h2m-1-3h2m-2 2h2m-2 1h2m-2 8h2m-2 2h2m-1-100h2m-2 80h2m-2 1h2m-2 4h2m-2 2h2m-2 2h2m-2 1h2m-2 2h2m-2 1h2m-2 4h2m-2 4h2m-1-24h2m-2 2h2m-2 5h2m-2 2h2m-2 1h2m-2 1h2m-2 2h2m-2 2h2m-1-17h2m-2 2h2m-2 3h2m-2 1h2m-2 2h2m-2 1h2m-2 1h2m-2 1h2m-2 2h2m-2 2h2m-2 6h2m-1-16h2m-2 2h2m-2 1h2m-2 1h2m-2 9h2m-1-22h2m-2 9h2m-2 1h2m-2 3h2m-2 2h2m-2 7h2m-2 3h2m-1-28h2m-2 11h2m-2 2h2m-2 2h2m-2 3h2m-2 2h2m-2 4h2m-1-10h2m-2 1h2m-2 2h2m-2 1h2m-2 3h2m-2 4h2m-1-21h2m-2 1h2m-2 8h2m-2 2h2m-2 1h2m-2 1h2m-2 8h2m-1-10h2m-2 1h2m-2 4h2m-2 1h2m-2 1h2m-2 1h2m-1-22h2m-2 9h2m-2 3h2m-2 2h2m-2 2h2m-2 4h2m-2 1h2m-1-14h2m-2 2h2m-2 2h2m-2 10h2m-1-19h2m-2 5h2m-2 1h2m-2 4h2m-2 3h2m-2 2h2m-1-12h2m-2 2h2m-2 5h2m-2 8h2m-1-13h2m-2 8h2m0-8h2m-2 7h2m-2 2h2m-1-2h2m-2 1h2m-1-4h2m-2 5h2m-2 4h2m-1-19h2m-2 4h2m-2 1h2m-2 6h2m-2 1h2m-2 2h2m-1-8h2m-2 6h2m-1-19h2m-2 27h2m0-24h2m-2 4h2m-2 5h2m-2 3h2m-2 2h2m0-6h2m-1-14h2m0-6h2m-2 7h2m-1-3h2m-2 30h2m-1-12h2m-1 6h2m-1-29h2m-2 10h2m-2 7h2m-1 6h2m0-28h2m-2 9h2m-1 8h2m-2 1h2m-1-18h2m-2 22h2m-1-17h2m-1 26h2m-1-24h2m-2 28h2m-1-23h2m0 37h2m-1-52h2m-2 1h2m-1-20h2m-2 37h2m-2 10h2m-1-37h2m-2 19h2m-2 23h2m-1-34h2m-2 4h2m-2 1h2m-2 27h2m0-35h2m-2 5h2m-2 7h2m-1-18h2m-2 8h2m-2 5h2m-2 13h2m-2 3h2m-2 20h2m-1-37h2m-2 12h2m-1-22h2m-2 21h2m0-28h2m-2 23h2m-2 9h2m-1-19h2m-1 3h2m-2 26h2m-2 17h2m-1-66h2m-2 15h2m-1-16h2m-2 4h2m-2 34h2m-1-6h2m-2 8h2m-2 40h2m-1-49h2m-2 20h2m-1-49h2m-2 10h2m-1 4h2m-2 13h2m-2 29h2m-1-43h2m0-5h2m-2 19h2m-2 25h2m-1-51h2m-2 22h2m-1-9h2m-2 1h2m-2 2h2m-2 4h2m-2 3h2m-1-29h2m-2 38h2m-1 1h2m1-20h2m-2 4h2m-2 13h2m-1-47h2m0 36h2m-1-23h2m-1-11h2m-2 28h2m-1 3h2m-2 10h2m-1-17h2m-1-11h2m1 43h2m1-37h2"/><path d="M92 1060h2m-2 12h2m1-6h2m0-2h2m-1-7h2m-2 4h2m-2 1h2m-1-6h2m-2 6h2m-2 7h2m-1-12h2m-2 3h2m-1-7h2m-2 16h2m-1-5h2m-1 0h2m-2 2h2m-2 1h2m-1-16h2m-2 6h2m-2 2h2m-2 1h2m-2 1h2m-2 2h2m-2 2h2m-1-5h2m-2 1h2m-2 1h2m-2 1h2m-1-16h2m-2 3h2m-2 1h2m-2 1h2m-2 5h2m-2 1h2m-2 1h2m-2 1h2m-2 4h2m-2 1h2m-1-9h2m-2 2h2m-1-12h2m-2 3h2m-2 4h2m-2 2h2m-2 1h2m-2 3h2m-2 4h2m-1-24h2m-2 9h2m-2 6h2m-2 5h2m-2 6h2m-1-63h2m-2 48h2m-2 1h2m-2 6h2m-2 1h2m-2 1h2m-2 4h2m-1-21h2m-2 9h2m-2 1h2m-2 2h2m-2 1h2m-2 1h2m-2 2h2m-2 1h2m-2 4h2m-1-16h2m-2 7h2m-2 2h2m-2 1h2m-2 5h2m-2 1h2m-1-8h2m-2 1h2m-2 1h2m-2 1h2m-2 1h2m-2 1h2m-2 5h2m-1-18h2m-2 4h2m-2 1h2m-2 1h2m-2 1h2m-2 6h2m-2 2h2m-2 3h2m-1-17h2m-2 1h2m-2 3h2m-2 1h2m-2 3h2m-2 2h2m-2 2h2m-1-11h2m-2 2h2m-2 3h2m-2 1h2m-2 1h2m-1-65h2m-2 55h2m-2 7h2m-2 2h2m-2 1h2m-2 2h2m-2 6h2m-1-14h2m-2 3h2m-2 1h2m-2 7h2m-1-12h2m-2 1h2m-2 1h2m-2 3h2m-2 2h2m-2 2h2m-2 2h2m-1-19h2m-2 4h2m-2 3h2m-2 1h2m-2 4h2m-2 1h2m-2 1h2m-2 1h2m-2 3h2m-2 2h2m-1-14h2m-2 1h2m-2 6h2m-2 2h2m-1-7h2m-2 4h2m-2 6h2m-2 2h2m-2 2h2m-1-24h2m-2 7h2m-2 5h2m-2 3h2m-1-11h2m-2 2h2m-2 4h2m-2 1h2m-2 2h2m-2 1h2m-1-4h2m-2 6h2m-1-10h2m-2 2h2m-2 5h2m-2 5h2m-1-16h2m-2 7h2m-2 2h2m-1 2h2m0-3h2m-2 2h2m0-2h2m-1-14h2m-2 3h2m-2 1h2m0-1h2m-1 0h2m-2 4h2m-2 2h2m-1-34h2m-2 38h2m-1-47h2m-2 38h2m0-4h2m-2 3h2m1-12h2m-1-7h2m-2 1h2m-2 32h2m0-12h2m-1-38h2m-2 13h2m-2 13h2m-2 8h2m-1-10h2m-1 3h2m-2 21h2m-1-36h2m-2 51h2m-1-61h2m-2 31h2m-2 14h2m-1-34h2m0 23h2m0-9h2m-1-13h2m-2 7h2m-2 15h2m-2 11h2m-1-47h2m-1 8h2m-2 27h2m-2 13h2m-1-35h2m-2 8h2m-2 4h2m-1-18h2m-2 3h2m-2 14h2m-2 13h2m-2 1h2m-1-30h2m-2 7h2m-2 15h2m-2 25h2m-1-75h2m-2 23h2m-2 3h2m-2 6h2m-2 12h2m-2 14h2m-1-36h2m-1-20h2m-2 14h2m-2 15h2m-2 33h2m-2 3h2m-1-37h2m-2 48h2m-1-85h2m-2 23h2m-2 7h2m-2 14h2m-2 22h2m-1-45h2m-2 8h2m-2 8h2m-1-16h2m-2 10h2m-2 6h2m-1 20h2m-1-1h2m-1-32h2m-2 4h2m-2 2h2m-2 8h2m-1-27h2m-1 21h2m-1 1h2m-1 1h2m-2 31h2m-1-55h2m-2 29h2m0-24h2m-2 12h2m-2 1h2m3 2h2m-1-29h2m-1 14h2m2 13h2m3-7h2m-1-13h2m-2 13h2m-2 5h2m0 11h2m-1-9h2m-1-11h2m-2 9h2m-1 13h2"/><path d="M96 1054h2m-2 7h2m-2 4h2m-1-6h2m-2 9h2m-1 3h2m-1-13h2m-2 2h2m-2 12h2m-1-13h2m-2 1h2m-2 3h2m-2 2h2m-1-9h2m-1 1h2m-2 4h2m-1-12h2m-2 7h2m-2 2h2m-2 1h2m-2 1h2m-2 5h2m-2 4h2m-2 2h2m-1-18h2m-2 8h2m-2 1h2m-2 2h2m-2 4h2m-2 1h2m-1-23h2m-2 13h2m-2 10h2m-1-20h2m-2 4h2m-2 7h2m-1-16h2m-2 8h2m-2 12h2m-1-14h2m-2 2h2m-2 1h2m-2 2h2m-2 1h2m-2 5h2m-2 1h2m-1-10h2m-2 1h2m-2 1h2m-2 14h2m-1-21h2m-2 4h2m-2 2h2m-2 3h2m-2 2h2m-2 2h2m-2 1h2m-2 1h2m-2 1h2m-2 1h2m-2 3h2m-2 2h2m-1-19h2m-2 5h2m-2 4h2m-2 1h2m-2 2h2m-2 7h2m-1-16h2m-2 2h2m-2 3h2m-2 1h2m-2 2h2m-1-14h2m-2 6h2m-2 1h2m-2 2h2m-2 2h2m-1-11h2m-2 7h2m-2 5h2m-2 1h2m-2 12h2m-1-19h2m-2 2h2m-2 7h2m-1-15h2m-2 5h2m-2 1h2m-2 2h2m-2 1h2m-2 1h2m-2 1h2m-1-10h2m-2 5h2m-2 1h2m-2 2h2m-2 1h2m-2 5h2m-2 5h2m-1-11h2m-2 1h2m-2 2h2m-1-12h2m-2 6h2m-2 2h2m-2 1h2m-2 1h2m-2 1h2m-2 7h2m-1-26h2m-2 7h2m-2 4h2m-2 3h2m-2 2h2m-1-13h2m-2 2h2m-2 2h2m-2 6h2m-2 5h2m-2 2h2m-1-10h2m-2 1h2m-2 1h2m-2 1h2m-2 2h2m-2 2h2m-2 2h2m-1-16h2m-2 4h2m-2 1h2m-2 5h2m-2 3h2m-2 3h2m-2 1h2m-1-19h2m-2 6h2m-2 5h2m-2 2h2m-2 1h2m-2 1h2m-1-21h2m-2 3h2m-2 1h2m-2 5h2m-2 9h2m-2 1h2m-2 1h2m-1-22h2m-2 12h2m-2 11h2m-1-24h2m-2 13h2m-2 7h2m-1-5h2m-2 2h2m-2 1h2m-1-18h2m-2 10h2m-1-1h2m-2 2h2m-2 1h2m-1 5h2m-2 1h2m-1-6h2m-2 1h2m-2 4h2m-2 1h2m-1 1h2m-1-6h2m-2 5h2m-2 3h2m-1-9h2m-1-9h2m-2 1h2m-2 1h2m-1-39h2m-2 51h2m-1 6h2m-1-28h2m-2 17h2m-1-37h2m-2 9h2m-2 25h2m-1-4h2m-1 35h2m-1-50h2m-2 16h2m-2 5h2m-1-8h2m-1-30h2m-2 16h2m-2 14h2m-2 3h2m-2 1h2m-2 2h2m0-42h2m-2 38h2m0-21h2m-1 33h2m-2 6h2m-1-32h2m-2 6h2m-1-11h2m-1-23h2m-2 50h2m-1-26h2m-1 11h2m-1 22h2m-1-49h2m-2 8h2m-1 3h2m-2 6h2m-2 29h2m-1-17h2m-1-9h2m-2 1h2m-2 7h2m-1 24h2m-1-56h2m-2 4h2m-2 6h2m-2 10h2m-2 3h2m-1-3h2m-2 26h2m-1-39h2m-2 8h2m-2 26h2m-1-42h2m-2 13h2m-2 7h2m-2 6h2m-2 23h2m-1-31h2m-1-13h2m-2 20h2m-2 6h2m-1-4h2m-2 10h2m-2 15h2m0-58h2m-2 39h2m0-15h2m-2 22h2m-1-32h2m-2 10h2m-2 26h2m-2 9h2m-1-53h2m-2 31h2m-2 39h2m-1-66h2m-1 9h2m-2 30h2m-1-34h2m-2 1h2m-2 8h2m-1-13h2m-1-5h2m-1 4h2m-1-14h2m-2 50h2m-1-18h2m0-38h2m-2 11h2m-2 26h2m-1 50h2m-1-72h2m-1 3h2m-2 6h2m-1-13h2m-2 13h2m-1 13h2m1-18h2m-2 36h2m2-36h2m-1-18h2m-2 39h2m-2 34h2m6-81h2m-1 27h2"/></g><rect x="43.40" y="479.80" width="62.00" height="57.60" fill="none" stroke="#3a3a3a" stroke-width="0.9"/><line x1="72.30" y1="479.80" x2="72.30" y2="537.40" stroke="#3a3a3a" stroke-width="0.85"/><line x1="43.40" y1="515.80" x2="105.40" y2="515.80" stroke="#3a3a3a" stroke-width="0.85"/><ellipse cx="64.0" cy="509.6" rx="1.3" ry="0.9" fill="#333" opacity="0.8"/><ellipse cx="79.0" cy="509.6" rx="1.3" ry="0.9" fill="#333" opacity="0.8"/><ellipse cx="79.0" cy="523.0" rx="1.3" ry="0.9" fill="#333" opacity="0.8"/><text x="46.6" y="486.1" font-size="4.3" text-anchor="start" font-weight="normal" fill="#333" stroke="#333" stroke-width="0.05" >DMSO</text><line x1="41.80" y1="486.30" x2="43.40" y2="486.30" stroke="#555" stroke-width="0.6"/><text x="39.4" y="487.7" font-size="3.8" text-anchor="end" fill="#666">10<tspan font-size="2.6" dy="-1.4">3</tspan></text><line x1="41.80" y1="500.80" x2="43.40" y2="500.80" stroke="#555" stroke-width="0.6"/><text x="39.4" y="502.2" font-size="3.8" text-anchor="end" fill="#666">10<tspan font-size="2.6" dy="-1.4">2</tspan></text><line x1="41.80" y1="515.30" x2="43.40" y2="515.30" stroke="#555" stroke-width="0.6"/><text x="39.4" y="516.7" font-size="3.8" text-anchor="end" fill="#666">10<tspan font-size="2.6" dy="-1.4">1</tspan></text><line x1="41.80" y1="529.80" x2="43.40" y2="529.80" stroke="#555" stroke-width="0.6"/><text x="39.4" y="531.2" font-size="3.8" text-anchor="end" fill="#666">10<tspan font-size="2.6" dy="-1.4">0</tspan></text><line x1="51.90" y1="537.40" x2="51.90" y2="538.80" stroke="#555" stroke-width="0.6"/><text x="51.9" y="544.8" font-size="3.8" text-anchor="middle" fill="#666">10<tspan font-size="2.6" dy="-1.4">0</tspan></text><line x1="67.40" y1="537.40" x2="67.40" y2="538.80" stroke="#555" stroke-width="0.6"/><text x="67.4" y="544.8" font-size="3.8" text-anchor="middle" fill="#666">10<tspan font-size="2.6" dy="-1.4">1</tspan></text><line x1="82.90" y1="537.40" x2="82.90" y2="538.80" stroke="#555" stroke-width="0.6"/><text x="82.9" y="544.8" font-size="3.8" text-anchor="middle" fill="#666">10<tspan font-size="2.6" dy="-1.4">2</tspan></text><line x1="98.40" y1="537.40" x2="98.40" y2="538.80" stroke="#555" stroke-width="0.6"/><text x="98.4" y="544.8" font-size="3.8" text-anchor="middle" fill="#666">10<tspan font-size="2.6" dy="-1.4">3</tspan></text><line x1="56.57" y1="536.30" x2="56.57" y2="537.40" stroke="#666" stroke-width="0.4"/><line x1="59.30" y1="536.30" x2="59.30" y2="537.40" stroke="#666" stroke-width="0.4"/><line x1="61.23" y1="536.30" x2="61.23" y2="537.40" stroke="#666" stroke-width="0.4"/><line x1="62.73" y1="536.30" x2="62.73" y2="537.40" stroke="#666" stroke-width="0.4"/><line x1="63.96" y1="536.30" x2="63.96" y2="537.40" stroke="#666" stroke-width="0.4"/><line x1="65.00" y1="536.30" x2="65.00" y2="537.40" stroke="#666" stroke-width="0.4"/><line x1="65.90" y1="536.30" x2="65.90" y2="537.40" stroke="#666" stroke-width="0.4"/><line x1="66.69" y1="536.30" x2="66.69" y2="537.40" stroke="#666" stroke-width="0.4"/><line x1="72.07" y1="536.30" x2="72.07" y2="537.40" stroke="#666" stroke-width="0.4"/><line x1="74.80" y1="536.30" x2="74.80" y2="537.40" stroke="#666" stroke-width="0.4"/><line x1="76.73" y1="536.30" x2="76.73" y2="537.40" stroke="#666" stroke-width="0.4"/><line x1="78.23" y1="536.30" x2="78.23" y2="537.40" stroke="#666" stroke-width="0.4"/><line x1="79.46" y1="536.30" x2="79.46" y2="537.40" stroke="#666" stroke-width="0.4"/><line x1="80.50" y1="536.30" x2="80.50" y2="537.40" stroke="#666" stroke-width="0.4"/><line x1="81.40" y1="536.30" x2="81.40" y2="537.40" stroke="#666" stroke-width="0.4"/><line x1="82.19" y1="536.30" x2="82.19" y2="537.40" stroke="#666" stroke-width="0.4"/><line x1="87.57" y1="536.30" x2="87.57" y2="537.40" stroke="#666" stroke-width="0.4"/><line x1="90.30" y1="536.30" x2="90.30" y2="537.40" stroke="#666" stroke-width="0.4"/><line x1="92.23" y1="536.30" x2="92.23" y2="537.40" stroke="#666" stroke-width="0.4"/><line x1="93.73" y1="536.30" x2="93.73" y2="537.40" stroke="#666" stroke-width="0.4"/><line x1="94.96" y1="536.30" x2="94.96" y2="537.40" stroke="#666" stroke-width="0.4"/><line x1="96.00" y1="536.30" x2="96.00" y2="537.40" stroke="#666" stroke-width="0.4"/><line x1="96.90" y1="536.30" x2="96.90" y2="537.40" stroke="#666" stroke-width="0.4"/><line x1="97.69" y1="536.30" x2="97.69" y2="537.40" stroke="#666" stroke-width="0.4"/><text x="102.4" y="554.4" font-size="5.6" text-anchor="end" font-weight="normal" fill="#222" stroke="#222" stroke-width="0.1" >22,7%</text><text x="34.5" y="554.4" font-size="5.8" text-anchor="start" font-weight="normal" fill="#222" stroke="#222" stroke-width="0.1" >Cell death:</text><text x="75.4" y="473.3" font-size="10" text-anchor="middle" font-weight="normal" fill="#111" stroke="#111" stroke-width="0.12" >L540</text><g transform="scale(0.5)" stroke="#000" stroke-width="1.6" stroke-opacity="0.22" filter="url(#fb)"><path d="M246 1063h2m-2 4h2m-1-5h2m-2 6h2m-1-2h2m-1-7h2m-2 3h2m-2 2h2m-2 4h2m-2 2h2m-2 1h2m-2 1h2m-1-11h2m-2 8h2m-2 3h2m-1-13h2m-2 5h2m-2 7h2m-2 1h2m-1-13h2m-2 2h2m-2 1h2m-2 1h2m-2 2h2m-2 2h2m-2 3h2m-2 1h2m-2 2h2m-1-11h2m-2 3h2m-2 2h2m-2 2h2m-2 4h2m-1-17h2m-2 2h2m-2 4h2m-2 2h2m-2 2h2m-2 4h2m-1-11h2m-2 4h2m-2 3h2m-2 7h2m-1-15h2m-2 1h2m-2 1h2m-2 3h2m-2 3h2m-1-5h2m-2 2h2m-2 3h2m-2 4h2m-2 1h2m-1-15h2m-2 5h2m-2 4h2m-2 1h2m-2 3h2m-1-37h2m-2 28h2m-2 1h2m-2 1h2m-2 1h2m-2 4h2m-2 1h2m-2 1h2m-2 1h2m-2 1h2m-2 1h2m-1-32h2m-2 19h2m-2 1h2m-2 4h2m-2 3h2m-2 5h2m-1-11h2m-2 7h2m-2 3h2m-1-12h2m-2 1h2m-2 2h2m-2 2h2m-2 1h2m-2 1h2m-2 2h2m-2 3h2m-2 1h2m-1-29h2m-2 14h2m-2 5h2m-2 2h2m-2 7h2m-1-13h2m-2 5h2m-2 2h2m-2 3h2m-1-16h2m-2 1h2m-2 3h2m-2 7h2m-2 2h2m-2 3h2m-1-7h2m-2 5h2m-1-42h2m-2 40h2m-1-2h2m-2 3h2m-2 1h2m-2 2h2m-2 1h2m-1-10h2m-2 2h2m-2 5h2m-1-5h2m-2 6h2m-2 3h2m-1-28h2m-2 7h2m-2 9h2m-2 5h2m-1-33h2m-2 1h2m-1 7h2m-2 13h2m-2 19h2m-1-24h2m-2 16h2m-1-20h2m-2 7h2m-1 18h2m0-34h2m-2 12h2m-1 18h2m-1 2h2m-1-41h2m-2 5h2m-2 1h2m-2 11h2m-2 11h2m-1 5h2m-1-47h2m-2 27h2m-2 27h2m0-50h2m-2 14h2m-2 3h2m-2 15h2m-1-12h2m-1-5h2m-2 2h2m0-18h2m-2 20h2m-1 1h2m-2 5h2m-2 2h2m-1-7h2m-2 4h2m-2 4h2m-1-9h2m-1-1h2m-1-17h2m0 15h2m-2 15h2m-1-10h2m-1-10h2m-1-10h2m-2 14h2m-2 1h2m-1 16h2m0-20h2m-1 0h2m-2 3h2m-1-11h2m-2 12h2m-1 12h2m-1-20h2m-1 16h2m-1-29h2m-2 8h2m-2 9h2m0 23h2m-1-39h2m-2 7h2m-1-15h2m0 10h2m-2 11h2m-2 3h2m0 9h2m0-15h2m0 0h2m-1-7h2m4-9h2m2 22h2m0-28h2m7 1h2m2 13h2m0-3h2m6 19h2m4-7h2m2 5h2"/><path d="M245 1066h2m-1-3h2m-1-4h2m-2 1h2m-2 6h2m-2 1h2m-2 2h2m-2 2h2m-2 2h2m-1-11h2m-2 3h2m-2 2h2m-1-16h2m-2 8h2m-2 3h2m-2 4h2m-2 3h2m-1-8h2m-2 2h2m-2 1h2m-2 3h2m-2 2h2m-1-12h2m-2 2h2m-2 5h2m-2 3h2m-1-6h2m-2 2h2m-2 1h2m-2 1h2m-2 3h2m-2 4h2m-2 1h2m-1-17h2m-2 3h2m-2 2h2m-2 2h2m-2 2h2m-2 1h2m-2 1h2m-2 3h2m-1-14h2m-2 7h2m-2 1h2m-2 1h2m-2 2h2m-2 2h2m-1-16h2m-2 9h2m-2 1h2m-2 1h2m-2 2h2m-1-4h2m-2 2h2m-2 2h2m-2 2h2m-2 1h2m-1-9h2m-2 3h2m-2 3h2m-2 1h2m-2 1h2m-1-26h2m-2 14h2m-2 6h2m-2 2h2m-2 4h2m-2 1h2m-1-40h2m-2 10h2m-2 17h2m-2 6h2m-2 3h2m-2 4h2m-1-14h2m-2 5h2m-2 1h2m-2 5h2m-1-6h2m-2 4h2m-2 7h2m-2 1h2m-1-11h2m-2 5h2m-2 1h2m-2 2h2m-1-25h2m-2 14h2m-2 3h2m-2 5h2m-2 1h2m-2 1h2m-2 1h2m-2 2h2m-2 1h2m-1-13h2m-2 2h2m-2 2h2m-1-2h2m-2 3h2m-2 1h2m-2 1h2m-2 1h2m-2 1h2m-2 2h2m-1-51h2m-2 40h2m-2 3h2m-2 1h2m-2 7h2m-1-4h2m-1-22h2m-1-13h2m-2 28h2m-2 3h2m-1 1h2m-2 7h2m-1-44h2m-2 35h2m-1-36h2m-2 6h2m-2 33h2m-1-33h2m-2 4h2m-2 30h2m-1-25h2m-1-12h2m-2 4h2m-2 4h2m-2 22h2m-2 12h2m-1-33h2m-2 11h2m-2 14h2m-2 2h2m-1-39h2m-2 2h2m-2 33h2m-1-19h2m-1-14h2m-2 7h2m-2 4h2m-2 17h2m-1 8h2m-1 6h2m-1-43h2m-1-4h2m-1 29h2m-1-23h2m-1-1h2m-2 10h2m-1-6h2m-2 2h2m-2 6h2m-1-18h2m-1 9h2m-2 38h2m-1-43h2m-1 6h2m-1 10h2m-1-12h2m0 4h2m-2 36h2m0-55h2m-2 16h2m-2 6h2m-2 1h2m-1-3h2m-1-4h2m-1-9h2m-2 7h2m-1-6h2m-2 8h2m0-12h2m-1-11h2m-1 21h2m-2 2h2m0-12h2m-2 4h2m-1 6h2m-2 5h2m0 5h2m-1-17h2m-1 6h2m-1-11h2m-2 7h2m-1 1h2m-2 5h2m0 13h2m-1-40h2m-2 19h2m-2 9h2m-1-10h2m-1 12h2m-1-21h2m-1 17h2m-2 9h2m3-73h2m-1 48h2m-2 1h2m7-1h2"/><path d="M245 1060h2m-1-1h2m-2 6h2m-2 1h2m-2 1h2m-2 5h2m-1-12h2m-2 1h2m-2 1h2m-2 1h2m-2 2h2m-2 2h2m-2 3h2m-1-12h2m-2 1h2m-2 3h2m-2 3h2m-2 3h2m-1-5h2m-1-3h2m-2 4h2m-2 3h2m-2 5h2m-1-18h2m-2 2h2m-2 2h2m-2 1h2m-2 4h2m-2 1h2m-2 3h2m-1-25h2m-2 16h2m-2 3h2m-2 5h2m-2 5h2m-1-7h2m-2 3h2m-2 4h2m-2 1h2m-1-37h2m-2 19h2m-2 7h2m-2 3h2m-2 1h2m-2 2h2m-2 2h2m-2 2h2m-2 1h2m-1-9h2m-2 1h2m-2 2h2m-2 4h2m-2 1h2m-1-85h2m-2 76h2m-2 1h2m-2 2h2m-2 1h2m-2 2h2m-2 3h2m-2 1h2m-1-13h2m-2 5h2m-2 8h2m-1-14h2m-2 6h2m-1-3h2m-2 3h2m-2 1h2m-2 1h2m-2 1h2m-2 3h2m-1-41h2m-2 32h2m-2 1h2m-2 2h2m-2 4h2m-2 3h2m-1-10h2m-2 2h2m-2 1h2m-2 2h2m-2 2h2m-2 1h2m-1-11h2m-2 3h2m-2 2h2m-2 3h2m-2 2h2m-2 3h2m-1-28h2m-2 14h2m-2 7h2m-2 1h2m-2 2h2m-2 4h2m-1-27h2m-2 13h2m-2 5h2m-2 2h2m-2 1h2m-2 2h2m-1-21h2m-2 13h2m-2 4h2m-2 1h2m-2 1h2m-2 1h2m-2 5h2m-1-34h2m-2 8h2m-2 15h2m-2 1h2m-2 3h2m-2 1h2m-2 4h2m-1-35h2m-2 14h2m-2 19h2m-2 1h2m-1-24h2m-2 13h2m-2 5h2m-2 2h2m-2 3h2m-2 2h2m0-43h2m-2 5h2m-2 24h2m-2 5h2m-2 6h2m-1-26h2m-2 20h2m-2 1h2m-1-33h2m-2 30h2m-2 2h2m-1-2h2m-2 8h2m-1-37h2m-2 30h2m-1-20h2m-2 18h2m-1 1h2m-1-18h2m-1-13h2m-1 26h2m-2 10h2m-1-21h2m0-21h2m-1 15h2m-1 9h2m0-22h2m-2 19h2m0-10h2m-2 3h2m-1-3h2m-2 2h2m-1-22h2m0 25h2m-1-8h2m-1 8h2m-1-21h2m-2 12h2m-1-5h2m-1-14h2m-2 11h2m-1 7h2m-2 7h2m-1-17h2m-2 17h2m-1-12h2m-1 3h2m-1 0h2m-2 5h2m-1-21h2m-2 10h2m-2 8h2m-2 6h2m-1-15h2m-2 12h2m0-26h2m-1 9h2m-2 11h2m-1-12h2m1 0h2m-1 13h2m-2 15h2m-1-19h2m1-8h2m-2 21h2m0-28h2m0 3h2m-2 3h2m-1 11h2m0-15h2m-2 10h2m-1 7h2m-1 1h2m-1-7h2m-1 0h2m-2 13h2m-1-3h2m1-13h2m5-2h2m5 1h2m1-18h2m5 56h2"/><path d="M246 1061h2m-2 4h2m-2 2h2m-2 6h2m-1-15h2m-2 1h2m-2 6h2m-2 5h2m-1-13h2m-2 4h2m-2 1h2m-2 2h2m-1-2h2m-2 1h2m-2 1h2m-1-4h2m-2 3h2m-2 1h2m-2 3h2m-2 1h2m-2 1h2m-2 1h2m-1-7h2m-2 2h2m-2 1h2m-2 1h2m-2 1h2m-1-11h2m-2 2h2m-2 2h2m-2 3h2m-2 1h2m-2 4h2m-1-9h2m-2 5h2m-2 3h2m-2 2h2m-2 3h2m-1-14h2m-2 1h2m-2 2h2m-2 1h2m-2 4h2m-2 3h2m-2 1h2m-1-12h2m-2 4h2m-2 1h2m-2 3h2m-2 4h2m-1-29h2m-2 19h2m-2 1h2m-2 3h2m-2 1h2m-2 2h2m-2 1h2m-2 2h2m-1-10h2m-2 2h2m-2 1h2m-2 3h2m-2 3h2m-2 1h2m-1-12h2m-2 2h2m-2 4h2m-2 1h2m-2 1h2m-1-10h2m-2 4h2m-2 2h2m-2 1h2m-2 2h2m-2 1h2m-2 3h2m-1-14h2m-2 4h2m-2 1h2m-2 4h2m-2 2h2m-2 2h2m-1-13h2m-2 8h2m-2 1h2m-2 1h2m-2 3h2m-1-10h2m-2 1h2m-2 2h2m-2 4h2m-2 3h2m-2 2h2m-1-11h2m-2 2h2m-2 4h2m-2 1h2m-2 1h2m-2 1h2m-1 0h2m-2 1h2m-1-26h2m-2 16h2m-2 1h2m-2 3h2m-2 1h2m-2 4h2m-2 2h2m0-14h2m-2 2h2m-2 4h2m-1-2h2m-2 1h2m-2 2h2m-2 6h2m-1-37h2m-2 37h2m-2 3h2m-1-8h2m0-26h2m-2 29h2m-1-93h2m-2 85h2m-2 1h2m-1-22h2m-2 26h2m-1-36h2m-2 16h2m-2 4h2m-1 13h2m-2 5h2m-1-25h2m-2 7h2m-1-9h2m-2 6h2m-1-7h2m-2 29h2m-1-43h2m-2 12h2m-1 3h2m-1-11h2m-1-1h2m-2 2h2m-2 8h2m-1-4h2m-1 3h2m1-12h2m-1-2h2m-2 2h2m-2 13h2m-1-8h2m-2 11h2m-1-5h2m0-14h2m-2 1h2m-2 20h2m-2 5h2m-1-31h2m-2 22h2m-1-8h2m-1-8h2m-2 8h2m-2 7h2m-1 0h2m-1-7h2m-1 9h2m-1-15h2m-2 3h2m-2 1h2m-1-5h2m-2 1h2m0-9h2m-2 14h2m-1-14h2m-2 19h2m1-8h2m-1 4h2m-2 5h2m-1-25h2m-2 14h2m-2 5h2m-1-14h2m-1 6h2m-1 5h2m-1-22h2m-2 30h2m-1-6h2m-2 3h2m-1-4h2m0-11h2m-1 25h2m1 14h2m3-45h2m-2 8h2m1-21h2m0 4h2m5 3h2m-1 13h2m0 2h2m9-20h2"/><path d="M245 1031h2m-1 34h2m-1-7h2m-2 1h2m-2 4h2m-2 7h2m-2 2h2m-1-11h2m-2 5h2m-2 2h2m-2 5h2m-1 0h2m-1-7h2m-2 2h2m-2 2h2m-2 2h2m-1-9h2m-2 2h2m-2 1h2m-2 1h2m-1-31h2m-2 22h2m-2 4h2m-2 1h2m-2 1h2m-2 1h2m-2 1h2m-1-26h2m-2 20h2m-2 2h2m-2 2h2m-2 2h2m-2 2h2m-1-6h2m-2 1h2m-2 1h2m-2 3h2m-2 3h2m-1-11h2m-2 1h2m-2 4h2m-2 2h2m-2 3h2m-2 1h2m-1-45h2m-2 32h2m-2 3h2m-2 2h2m-2 2h2m-2 2h2m-2 3h2m-2 2h2m-1-14h2m-2 7h2m-2 1h2m-2 1h2m-1-7h2m-2 2h2m-2 1h2m-2 1h2m-2 1h2m-2 4h2m-2 2h2m-2 1h2m-1-9h2m-2 3h2m-2 1h2m-2 3h2m-1-11h2m-2 4h2m-2 5h2m-2 2h2m-1-13h2m-2 6h2m-2 2h2m-1-44h2m-2 35h2m-2 3h2m-2 4h2m-2 3h2m-2 1h2m-1-7h2m-2 2h2m-2 4h2m-2 6h2m-1-9h2m-2 4h2m-2 1h2m-1-14h2m-2 6h2m-2 1h2m-2 1h2m-2 1h2m-2 10h2m-1-11h2m-2 4h2m-2 2h2m-2 3h2m-1-16h2m-2 11h2m-2 3h2m-1-6h2m-2 6h2m-2 1h2m-1-9h2m-2 1h2m-2 2h2m-2 6h2m-2 2h2m-1-16h2m-2 4h2m-2 2h2m-2 6h2m-2 2h2m-1-9h2m-2 1h2m-2 3h2m-2 3h2m-1-9h2m-2 1h2m-1-34h2m-1 10h2m-1-12h2m-2 40h2m-2 1h2m0-31h2m-1-7h2m-2 5h2m-2 5h2m-1 1h2m-2 32h2m-1-20h2m-1-11h2m-2 9h2m0-62h2m-2 53h2m0-2h2m-1-6h2m-1 0h2m-1-41h2m-2 35h2m-2 11h2m-1-14h2m-2 25h2m-1-23h2m-2 5h2m-2 4h2m-2 7h2m0-7h2m-1-1h2m-2 3h2m-2 8h2m-1-28h2m-2 20h2m-1-3h2m-2 4h2m-1 25h2m-1-19h2m0-20h2m-2 4h2m-2 1h2m1-1h2m-2 2h2m-2 6h2m-1-12h2m-2 1h2m-2 9h2m-2 23h2m0-42h2m-2 34h2m-1-22h2m-2 3h2m-2 42h2m-1-43h2m-2 6h2m2-9h2m-2 3h2m-2 14h2m-1-17h2m-1 6h2m-1-12h2m-1-1h2m-2 12h2m-2 1h2m3 8h2m1-22h2m-1-2h2m-1 7h2m1 5h2m-1-1h2m0-8h2m6 8h2m0-12h2"/><path d="M246 1052h2m-2 13h2m-2 1h2m-2 1h2m-1-11h2m-2 6h2m-2 1h2m-2 2h2m-1-3h2m-2 1h2m-2 2h2m-2 1h2m-2 4h2m-1-37h2m-2 25h2m-2 14h2m-1-6h2m-2 2h2m-2 1h2m-1-12h2m-2 3h2m-2 2h2m-2 2h2m-2 1h2m-2 4h2m-2 3h2m-2 1h2m-1-11h2m-2 1h2m-2 1h2m-2 2h2m-2 1h2m-2 2h2m-2 1h2m-1-10h2m-2 2h2m-2 3h2m-2 1h2m-2 2h2m-1-13h2m-2 5h2m-2 1h2m-2 7h2m-2 1h2m-1-29h2m-2 17h2m-2 9h2m-2 1h2m-2 2h2m-2 5h2m-1-16h2m-2 4h2m-2 5h2m-2 1h2m-2 1h2m-2 1h2m-2 2h2m-1-16h2m-2 5h2m-2 2h2m-2 1h2m-2 2h2m-2 1h2m-2 6h2m-1-12h2m-2 1h2m-2 3h2m-2 1h2m-2 1h2m-1-11h2m-2 14h2m-2 1h2m-1-12h2m-2 1h2m-2 3h2m-2 7h2m-1-27h2m-2 15h2m-2 1h2m-2 5h2m-2 1h2m-2 2h2m-2 1h2m-2 3h2m-2 2h2m-1-42h2m-2 27h2m-2 1h2m-2 5h2m-2 4h2m-2 1h2m-2 5h2m-1-22h2m-2 7h2m-2 6h2m-2 2h2m-2 5h2m-1-37h2m-2 22h2m-2 5h2m-2 2h2m-2 2h2m-1-6h2m-2 1h2m-1-21h2m-2 19h2m-2 3h2m-2 3h2m-2 1h2m-2 1h2m-2 5h2m-1-7h2m-2 3h2m-2 4h2m-1-50h2m-2 47h2m-1-24h2m-2 15h2m-2 1h2m-2 10h2m-1-36h2m-2 21h2m-2 1h2m-2 4h2m-1-17h2m-2 25h2m-1-15h2m-2 6h2m-2 1h2m0-4h2m-1-25h2m-2 3h2m-2 35h2m-1-49h2m-2 20h2m-1-10h2m-2 5h2m-2 7h2m0-24h2m-2 21h2m-1-23h2m0 13h2m-2 5h2m-2 3h2m-2 8h2m-1-27h2m-1 12h2m-2 10h2m0-14h2m-2 17h2m-2 8h2m0-27h2m-1-2h2m-2 3h2m-2 8h2m-2 35h2m-1-29h2m1-9h2m-1-12h2m-2 2h2m-2 23h2m-2 14h2m-1-27h2m-2 6h2m-1-17h2m-1 5h2m-2 13h2m-1-28h2m-2 9h2m-2 4h2m-1-11h2m-2 4h2m-1-3h2m-2 22h2m-1-22h2m-2 5h2m-1-3h2m-2 10h2m-2 2h2m-2 8h2m0-9h2m-1 0h2m-1-1h2m1-8h2m2 7h2m0-24h2m-1 13h2m1 0h2m-2 15h2m0-17h2m-2 5h2m-1 3h2m-2 10h2m0-16h2m1-8h2m1-3h2m-1 12h2m-1 20h2m3-28h2m4 8h2m7-9h2"/><path d="M245 1069h2m-1-12h2m-2 3h2m-2 2h2m-2 2h2m-2 1h2m-1-4h2m-2 4h2m-2 3h2m-2 2h2m-2 2h2m-1-15h2m-2 2h2m-2 3h2m-2 3h2m-2 1h2m-2 2h2m-2 4h2m-1-4h2m-1-6h2m-2 2h2m-2 1h2m-2 1h2m-2 1h2m-2 3h2m-1-6h2m-2 3h2m-2 1h2m-2 1h2m-1-8h2m-2 2h2m-2 2h2m-2 1h2m-2 1h2m-2 2h2m-2 2h2m-1-11h2m-2 4h2m-2 5h2m-1-7h2m-1-9h2m-2 9h2m-2 2h2m-2 3h2m-2 1h2m-2 3h2m-1-8h2m-2 1h2m-2 1h2m-2 1h2m-2 2h2m-2 3h2m-1-13h2m-2 6h2m-2 2h2m-2 1h2m-1-3h2m-2 1h2m-2 1h2m-2 1h2m-1-56h2m-2 42h2m-2 5h2m-2 3h2m-2 5h2m-2 3h2m-2 1h2m-2 2h2m-1-9h2m-2 2h2m-2 1h2m-2 2h2m-1-4h2m-2 7h2m-2 1h2m-1-17h2m-2 4h2m-2 4h2m-2 3h2m-2 5h2m-1-33h2m-2 22h2m-2 1h2m-2 5h2m-2 2h2m-2 1h2m-2 3h2m-1-12h2m-2 6h2m-2 1h2m-2 2h2m-1-10h2m-2 5h2m-2 1h2m-2 1h2m-2 1h2m-1-11h2m-2 1h2m-2 8h2m-1-41h2m-2 38h2m-2 3h2m-2 6h2m-1-26h2m-2 15h2m-2 7h2m-2 2h2m-1-4h2m-2 5h2m-1-4h2m-1 2h2m-2 3h2m-1-35h2m-2 30h2m-2 1h2m-2 1h2m-2 2h2m-1-31h2m-2 26h2m0-39h2m-1 10h2m-2 12h2m-1-22h2m-2 9h2m-1 14h2m-1-24h2m-2 8h2m-1-18h2m-1 32h2m-1-14h2m-2 11h2m-2 3h2m-2 18h2m-1-40h2m-2 20h2m-2 3h2m0-21h2m-1 0h2m-2 11h2m-2 2h2m0-13h2m-2 1h2m-2 7h2m-1 1h2m-1-20h2m-2 6h2m-2 9h2m-1-10h2m-2 12h2m-2 1h2m-1-3h2m-1-10h2m-2 2h2m1 3h2m-2 8h2m1-3h2m0 4h2m-1-11h2m-1 6h2m-1 3h2m-2 2h2m-2 1h2m-1-22h2m-2 24h2m-1-25h2m-2 4h2m-2 3h2m-1-1h2m-1-1h2m-1-20h2m-2 28h2m1-18h2m-2 9h2m-2 9h2m-1-8h2m0-2h2m-2 8h2m-2 2h2m-2 1h2m-1-22h2m-1 7h2m-1-6h2m-1 15h2m-2 6h2m-1-17h2m-1-1h2m-2 8h2m-1 5h2m-1 5h2m2 6h2m0-12h2m0-12h2m18 12h2m2 9h2m0-64h2"/><path d="M246 1064h2m-2 5h2m-2 1h2m-1-8h2m-2 2h2m-2 7h2m-1-6h2m-2 1h2m-2 4h2m-2 2h2m-1-22h2m-2 9h2m-2 6h2m-2 1h2m-2 1h2m-2 1h2m-1-17h2m-2 11h2m-2 2h2m-2 3h2m-2 1h2m-2 2h2m-2 1h2m-2 2h2m-1-13h2m-2 3h2m-2 1h2m-2 2h2m-2 4h2m-2 2h2m-1-11h2m-2 2h2m-2 3h2m-2 3h2m-1-14h2m-2 7h2m-2 5h2m-2 1h2m-2 4h2m-2 1h2m-1-24h2m-2 8h2m-2 7h2m-2 1h2m-2 3h2m-1-8h2m-2 3h2m-2 1h2m-2 2h2m-2 5h2m-1-11h2m-2 5h2m-2 2h2m-2 1h2m-2 4h2m-1-8h2m-2 1h2m-2 2h2m-2 3h2m-1-47h2m-2 32h2m-2 6h2m-2 2h2m-2 1h2m-2 4h2m-2 1h2m-2 3h2m-1-42h2m-2 30h2m-2 1h2m-2 1h2m-2 1h2m-2 1h2m-2 5h2m-2 4h2m-1-15h2m-2 2h2m-2 2h2m-2 1h2m-2 2h2m-2 1h2m-2 2h2m-1-10h2m-2 2h2m-2 1h2m-2 2h2m-2 3h2m-2 2h2m-2 1h2m-1-32h2m-2 22h2m-2 7h2m-1-33h2m-2 9h2m-2 5h2m-2 1h2m-2 21h2m-2 1h2m-2 3h2m-1-40h2m-2 27h2m-2 3h2m-2 2h2m-2 6h2m-1-27h2m-2 16h2m-2 7h2m-2 3h2m-1-9h2m-2 4h2m-2 5h2m-1-58h2m-2 20h2m-2 25h2m-2 3h2m-2 3h2m-2 3h2m-2 3h2m-2 1h2m-2 3h2m-1-14h2m-2 6h2m-2 1h2m-1-34h2m-2 25h2m-2 2h2m-2 2h2m-2 5h2m-1 1h2m-1-33h2m-2 9h2m-2 13h2m-2 8h2m-2 1h2m-2 2h2m-1-36h2m-2 13h2m-2 22h2m-1-36h2m-2 6h2m-1 11h2m0-32h2m-2 16h2m-2 7h2m2 35h2m-1-41h2m-1 34h2m-1-48h2m-2 13h2m-2 1h2m-1 0h2m-2 2h2m-1-7h2m-1-7h2m-2 18h2m-1 15h2m-1-24h2m1-19h2m-2 16h2m-1-3h2m-2 1h2m-2 11h2m-2 4h2m-2 3h2m-2 9h2m-1-13h2m-2 3h2m-1-32h2m-2 13h2m-2 5h2m-2 14h2m0-17h2m-1 7h2m1-15h2m-2 1h2m1 2h2m-1 0h2m0 5h2m-1-2h2m-2 10h2m-1-10h2m-2 8h2m-2 8h2m2-20h2m-2 8h2m-1-2h2m-1-48h2m-1 40h2m-2 18h2m-1-14h2m-1 3h2m-1-6h2m-2 3h2m1 0h2m-1-10h2m-1-1h2m1 1h2m-2 8h2m1 5h2m-2 1h2m8-5h2"/></g><rect x="122.00" y="479.60" width="63.20" height="58.20" fill="none" stroke="#3a3a3a" stroke-width="0.9"/><line x1="142.50" y1="479.60" x2="142.50" y2="537.80" stroke="#3a3a3a" stroke-width="0.85"/><line x1="122.00" y1="524.20" x2="185.20" y2="524.20" stroke="#3a3a3a" stroke-width="0.85"/><ellipse cx="134.5" cy="518.4" rx="1.3" ry="0.9" fill="#333" opacity="0.8"/><ellipse cx="149.3" cy="518.8" rx="1.3" ry="0.9" fill="#333" opacity="0.8"/><ellipse cx="150.0" cy="531.9" rx="1.3" ry="0.9" fill="#333" opacity="0.8"/><text x="125.2" y="485.9" font-size="4.3" text-anchor="start" font-weight="normal" fill="#333" stroke="#333" stroke-width="0.05" >DMSO</text><line x1="120.40" y1="486.10" x2="122.00" y2="486.10" stroke="#555" stroke-width="0.6"/><text x="118.0" y="487.5" font-size="3.8" text-anchor="end" fill="#666">10<tspan font-size="2.6" dy="-1.4">3</tspan></text><line x1="120.40" y1="500.60" x2="122.00" y2="500.60" stroke="#555" stroke-width="0.6"/><text x="118.0" y="502.0" font-size="3.8" text-anchor="end" fill="#666">10<tspan font-size="2.6" dy="-1.4">2</tspan></text><line x1="120.40" y1="515.10" x2="122.00" y2="515.10" stroke="#555" stroke-width="0.6"/><text x="118.0" y="516.5" font-size="3.8" text-anchor="end" fill="#666">10<tspan font-size="2.6" dy="-1.4">1</tspan></text><line x1="120.40" y1="529.60" x2="122.00" y2="529.60" stroke="#555" stroke-width="0.6"/><text x="118.0" y="531.0" font-size="3.8" text-anchor="end" fill="#666">10<tspan font-size="2.6" dy="-1.4">0</tspan></text><line x1="130.50" y1="537.80" x2="130.50" y2="539.20" stroke="#555" stroke-width="0.6"/><text x="130.5" y="545.2" font-size="3.8" text-anchor="middle" fill="#666">10<tspan font-size="2.6" dy="-1.4">0</tspan></text><line x1="146.00" y1="537.80" x2="146.00" y2="539.20" stroke="#555" stroke-width="0.6"/><text x="146.0" y="545.2" font-size="3.8" text-anchor="middle" fill="#666">10<tspan font-size="2.6" dy="-1.4">1</tspan></text><line x1="161.50" y1="537.80" x2="161.50" y2="539.20" stroke="#555" stroke-width="0.6"/><text x="161.5" y="545.2" font-size="3.8" text-anchor="middle" fill="#666">10<tspan font-size="2.6" dy="-1.4">2</tspan></text><line x1="177.00" y1="537.80" x2="177.00" y2="539.20" stroke="#555" stroke-width="0.6"/><text x="177.0" y="545.2" font-size="3.8" text-anchor="middle" fill="#666">10<tspan font-size="2.6" dy="-1.4">3</tspan></text><line x1="135.17" y1="536.70" x2="135.17" y2="537.80" stroke="#666" stroke-width="0.4"/><line x1="137.90" y1="536.70" x2="137.90" y2="537.80" stroke="#666" stroke-width="0.4"/><line x1="139.83" y1="536.70" x2="139.83" y2="537.80" stroke="#666" stroke-width="0.4"/><line x1="141.33" y1="536.70" x2="141.33" y2="537.80" stroke="#666" stroke-width="0.4"/><line x1="142.56" y1="536.70" x2="142.56" y2="537.80" stroke="#666" stroke-width="0.4"/><line x1="143.60" y1="536.70" x2="143.60" y2="537.80" stroke="#666" stroke-width="0.4"/><line x1="144.50" y1="536.70" x2="144.50" y2="537.80" stroke="#666" stroke-width="0.4"/><line x1="145.29" y1="536.70" x2="145.29" y2="537.80" stroke="#666" stroke-width="0.4"/><line x1="150.67" y1="536.70" x2="150.67" y2="537.80" stroke="#666" stroke-width="0.4"/><line x1="153.40" y1="536.70" x2="153.40" y2="537.80" stroke="#666" stroke-width="0.4"/><line x1="155.33" y1="536.70" x2="155.33" y2="537.80" stroke="#666" stroke-width="0.4"/><line x1="156.83" y1="536.70" x2="156.83" y2="537.80" stroke="#666" stroke-width="0.4"/><line x1="158.06" y1="536.70" x2="158.06" y2="537.80" stroke="#666" stroke-width="0.4"/><line x1="159.10" y1="536.70" x2="159.10" y2="537.80" stroke="#666" stroke-width="0.4"/><line x1="160.00" y1="536.70" x2="160.00" y2="537.80" stroke="#666" stroke-width="0.4"/><line x1="160.79" y1="536.70" x2="160.79" y2="537.80" stroke="#666" stroke-width="0.4"/><line x1="166.17" y1="536.70" x2="166.17" y2="537.80" stroke="#666" stroke-width="0.4"/><line x1="168.90" y1="536.70" x2="168.90" y2="537.80" stroke="#666" stroke-width="0.4"/><line x1="170.83" y1="536.70" x2="170.83" y2="537.80" stroke="#666" stroke-width="0.4"/><line x1="172.33" y1="536.70" x2="172.33" y2="537.80" stroke="#666" stroke-width="0.4"/><line x1="173.56" y1="536.70" x2="173.56" y2="537.80" stroke="#666" stroke-width="0.4"/><line x1="174.60" y1="536.70" x2="174.60" y2="537.80" stroke="#666" stroke-width="0.4"/><line x1="175.50" y1="536.70" x2="175.50" y2="537.80" stroke="#666" stroke-width="0.4"/><line x1="176.29" y1="536.70" x2="176.29" y2="537.80" stroke="#666" stroke-width="0.4"/><text x="182.2" y="554.8" font-size="5.6" text-anchor="end" font-weight="normal" fill="#222" stroke="#222" stroke-width="0.1" >21,4%</text><text x="154.6" y="473.3" font-size="10" text-anchor="middle" font-weight="normal" fill="#111" stroke="#111" stroke-width="0.12" >SUP-HD1</text><g transform="scale(0.5)" stroke="#000" stroke-width="1.6" stroke-opacity="0.22" filter="url(#fb)"><path d="M410 1059h2m-1 4h2m0 1h2m-1-13h2m-2 5h2m-2 7h2m-2 9h2m-1 0h2m-1-15h2m-1-9h2m-2 3h2m-2 12h2m-1-14h2m-2 1h2m-2 6h2m-2 14h2m0-23h2m-2 12h2m-2 9h2m-1-14h2m-2 7h2m-2 8h2m-1-8h2m-2 5h2m-1-23h2m-2 5h2m-2 2h2m-2 1h2m-2 6h2m-2 2h2m-1-2h2m-2 1h2m-2 2h2m-2 1h2m-2 3h2m-1-7h2m-2 1h2m-2 6h2m-2 2h2m-2 4h2m-1-26h2m-2 2h2m-2 11h2m-2 6h2m-2 7h2m-1-24h2m-2 3h2m-1-4h2m-2 6h2m-2 3h2m-2 1h2m-2 6h2m-2 4h2m-1-13h2m-2 3h2m-2 2h2m-2 2h2m-2 8h2m-2 2h2m-1-16h2m-2 2h2m-2 1h2m-2 2h2m-2 1h2m-2 7h2m-1-17h2m-2 1h2m-2 2h2m-2 5h2m-2 1h2m-2 2h2m-2 1h2m-2 1h2m-2 3h2m-2 6h2m-1-22h2m-2 4h2m-2 10h2m-1-12h2m-2 4h2m-2 1h2m-2 1h2m-2 1h2m-2 5h2m-1-20h2m-2 7h2m-2 5h2m-2 9h2m-1-26h2m-2 5h2m-2 5h2m-2 10h2m-2 8h2m-2 2h2m-1-27h2m-2 1h2m-2 4h2m-2 1h2m-2 1h2m-2 1h2m-2 5h2m-2 1h2m-2 3h2m-1-16h2m-2 1h2m-2 4h2m-2 8h2m-2 1h2m-2 2h2m-2 4h2m-1-74h2m-2 61h2m-2 1h2m-2 3h2m-2 3h2m-1-16h2m-2 1h2m-2 5h2m-2 4h2m-2 1h2m-2 6h2m-2 3h2m-1-17h2m-2 5h2m-2 7h2m-2 1h2m-2 1h2m-2 1h2m-2 2h2m-2 4h2m-2 1h2m-1-22h2m-2 7h2m-2 2h2m-2 6h2m-2 3h2m-2 6h2m-1-23h2m-2 7h2m-2 1h2m-2 5h2m-2 2h2m-1-16h2m-2 1h2m-2 7h2m-2 1h2m-2 1h2m-2 7h2m-1-6h2m-2 3h2m-2 1h2m-2 2h2m-1-19h2m-2 2h2m-2 2h2m-2 4h2m-2 1h2m-2 1h2m-2 11h2m-2 7h2m-1-29h2m-2 7h2m-2 1h2m-2 13h2m-1-7h2m-2 6h2m-2 3h2m-1-10h2m-1-5h2m-1 5h2m-1-14h2m-2 10h2m-2 11h2m-1-11h2m-2 7h2m-1-18h2m-1 10h2m0-5h2m-1-16h2m-2 25h2m-1-38h2m0 31h2m0-31h2m-2 33h2m4-2h2m-1-31h2m-2 2h2m0-21h2m-2 18h2m-1 4h2m-1-24h2m-2 23h2m-1 12h2m1-32h2m-2 24h2m-2 20h2m1-20h2m0-4h2m-2 35h2m1-40h2m-1-14h2m-1 77h2m1-77h2m-2 9h2m-2 8h2m-2 2h2m-1-4h2m-1-9h2m-2 47h2m-2 6h2m-1-28h2m-1-46h2m-2 12h2m-2 8h2m-2 62h2m-1-56h2m-2 20h2m-1-35h2m-2 30h2m-1-21h2m-2 20h2m-2 5h2m-1-14h2m0 3h2m-2 8h2m-2 21h2m-2 11h2m-1-41h2m-2 7h2m0 25h2m-1-38h2m-2 3h2m-2 14h2m-2 11h2m-1-14h2m-2 29h2m0-3h2m0-44h2m-1 1h2m-2 17h2m-2 37h2m-1-39h2m0 34h2m-1-62h2m-2 21h2m-2 8h2m-1-43h2m0 35h2m-1-8h2m-2 38h2m3-42h2m-1 21h2"/><path d="M413 1068h2m-1-20h2m-1 7h2m-2 3h2m-2 12h2m-1-11h2m-2 15h2m-1-19h2m-1 14h2m-1-21h2m-2 1h2m-2 8h2m-1-37h2m-2 32h2m-2 11h2m-1-9h2m-2 2h2m-2 1h2m-2 3h2m-2 3h2m-1-14h2m-2 10h2m-2 8h2m-1 0h2m-2 6h2m-1-26h2m-2 4h2m-2 3h2m-2 10h2m-1-12h2m-2 11h2m-2 1h2m-2 1h2m-2 1h2m-2 6h2m-1-25h2m-2 11h2m-2 2h2m-2 6h2m-1-9h2m-2 9h2m-1-23h2m-2 17h2m-2 4h2m-2 1h2m-2 5h2m-1-21h2m-2 2h2m-2 2h2m-2 9h2m-2 1h2m-2 3h2m-1-27h2m-2 13h2m-2 2h2m-2 10h2m-2 2h2m-1-22h2m-2 4h2m-2 3h2m-2 6h2m-2 3h2m-2 1h2m-2 2h2m-1-17h2m-2 1h2m-2 2h2m-2 4h2m-2 5h2m-2 1h2m-2 1h2m-2 1h2m-1-27h2m-2 13h2m-2 3h2m-2 3h2m-2 3h2m-2 4h2m-2 6h2m-2 1h2m-1-28h2m-2 10h2m-2 1h2m-2 5h2m-2 3h2m-2 2h2m-1-12h2m-2 3h2m-2 2h2m-2 1h2m-2 1h2m-2 4h2m-2 1h2m-2 1h2m-2 4h2m-1-15h2m-2 4h2m-2 2h2m-2 8h2m-1-19h2m-2 2h2m-2 1h2m-2 1h2m-2 2h2m-2 1h2m-2 4h2m-2 2h2m-2 2h2m-1-13h2m-2 4h2m-2 1h2m-2 2h2m-2 2h2m-2 4h2m-2 7h2m-1-30h2m-2 1h2m-2 9h2m-2 1h2m-2 7h2m-2 1h2m-1-8h2m-2 5h2m-2 2h2m-2 4h2m-2 3h2m-2 6h2m-1-15h2m-2 10h2m-2 5h2m-1-25h2m-2 2h2m-2 3h2m-2 3h2m-2 2h2m-2 2h2m-2 2h2m-2 2h2m-2 5h2m-1-60h2m-2 34h2m-2 7h2m-2 2h2m-2 6h2m-2 1h2m-2 1h2m-2 1h2m-2 1h2m-1-8h2m-2 1h2m-2 4h2m-2 7h2m-1-13h2m-2 7h2m-2 9h2m-1-12h2m-2 1h2m-2 5h2m-1-62h2m-2 50h2m-2 6h2m-2 2h2m-2 15h2m-1-30h2m-2 10h2m-1-15h2m-2 5h2m-2 16h2m-2 2h2m-1-24h2m-2 7h2m-1 8h2m-1-10h2m-1 1h2m-2 7h2m-1-5h2m-1 15h2m-1-11h2m-2 7h2m-1-9h2m-1-31h2m0 25h2m3 7h2m3-15h2m0-18h2m0 48h2m0-39h2m-1-16h2m-2 69h2m-1-59h2m-1-26h2m-1 27h2m-1 13h2m-2 15h2m0-41h2m-2 17h2m-1-55h2m-2 39h2m0 34h2m-2 14h2m-1-43h2m-1 34h2m-1-33h2m-2 12h2m-1-13h2m-1 6h2m-2 5h2m-2 20h2m-1-40h2m-2 64h2m-1-61h2m-1 5h2m-1-18h2m0 21h2m-2 1h2m-2 6h2m-1-14h2m0-22h2m-2 13h2m-2 72h2m-1-37h2m-2 31h2m0-43h2m-2 44h2m-2 5h2m-1-69h2m-2 4h2m-2 7h2m-1 7h2m-1-15h2m-1 9h2m-2 3h2m0-32h2m-2 37h2m-1-28h2m0 23h2m-1-17h2m-2 11h2m-1-3h2m-1-13h2m-1 36h2m-1-23h2m-2 62h2m-1-59h2m-2 3h2m-2 1h2m1 8h2m1 0h2m0-25h2"/><path d="M405 1060h2m2-3h2m-1 0h2m-1 13h2m-1-24h2m-2 15h2m-1-10h2m-1 7h2m1-8h2m-2 1h2m-1 13h2m-1-20h2m-2 22h2m-1-9h2m-2 5h2m0-21h2m-2 7h2m-2 10h2m-2 9h2m-1-23h2m-2 6h2m-2 6h2m-2 2h2m-2 1h2m-1 13h2m-1-19h2m-2 1h2m-2 6h2m-1-16h2m-2 6h2m-2 2h2m-2 1h2m-2 5h2m-2 3h2m-2 3h2m-1-29h2m-2 9h2m-2 6h2m-2 8h2m-1-8h2m-2 2h2m-2 8h2m-2 1h2m-2 3h2m-1-16h2m-2 8h2m-2 2h2m-1-13h2m-2 2h2m-2 4h2m-2 2h2m-2 7h2m-1-16h2m-2 1h2m-2 6h2m-2 1h2m-2 2h2m-2 3h2m-2 1h2m-2 1h2m-2 3h2m-1-19h2m-2 8h2m-2 1h2m-2 1h2m-2 8h2m-2 2h2m-2 1h2m-1-23h2m-2 9h2m-2 1h2m-2 4h2m-2 3h2m-1-15h2m-2 3h2m-2 6h2m-2 1h2m-2 2h2m-2 2h2m-2 2h2m-2 8h2m-1-17h2m-2 1h2m-2 1h2m-2 19h2m-1-25h2m-2 6h2m-2 2h2m-2 1h2m-2 1h2m-2 1h2m-2 2h2m-2 3h2m-2 4h2m-1-21h2m-2 1h2m-2 3h2m-2 1h2m-2 1h2m-2 1h2m-2 3h2m-2 1h2m-2 3h2m-2 1h2m-2 2h2m-2 1h2m-1-16h2m-2 5h2m-2 5h2m-2 3h2m-2 2h2m-1-99h2m-2 86h2m-2 1h2m-2 1h2m-2 2h2m-2 1h2m-2 2h2m-2 2h2m-2 3h2m-2 4h2m-1-17h2m-2 1h2m-2 11h2m-2 7h2m-2 7h2m-1-28h2m-2 1h2m-2 6h2m-2 1h2m-2 2h2m-2 3h2m-2 7h2m-1-24h2m-2 6h2m-2 1h2m-2 1h2m-2 3h2m-2 1h2m-2 6h2m-1-8h2m-2 5h2m-2 3h2m-2 3h2m-2 1h2m-1-23h2m-2 4h2m-2 2h2m-2 13h2m-1-7h2m-2 1h2m-2 4h2m-1-9h2m-1-8h2m-2 3h2m-2 3h2m-2 9h2m-2 1h2m-2 5h2m-1-17h2m-2 12h2m-1-15h2m-2 8h2m-1-3h2m-2 2h2m-2 1h2m-1-6h2m-2 7h2m-2 4h2m-1-14h2m-2 15h2m-2 1h2m-1-31h2m-2 23h2m-2 17h2m-1-24h2m-2 5h2m-1 2h2m-1-11h2m-2 11h2m0 6h2m-1-1h2m-1-7h2m-1-6h2m2-7h2m-1-30h2m-1 4h2m-2 13h2m-2 27h2m1-5h2m-1-39h2m-1 10h2m-1 7h2m0-1h2m0 13h2m-1-14h2m-1 3h2m-1 17h2m0-28h2m-2 36h2m-1-60h2m-2 58h2m-1 18h2m0-87h2m-2 13h2m-2 37h2m0 26h2m-1-64h2m-2 9h2m-2 19h2m0-23h2m-2 12h2m-1-19h2m-2 11h2m-1 22h2m0-13h2m-1-1h2m-2 8h2m-1-3h2m-2 14h2m-1-21h2m-2 1h2m-2 23h2m-2 22h2m-1-51h2m-2 8h2m-2 54h2m-1 5h2m-1-59h2m-1 0h2m-2 1h2m-2 25h2m-1-40h2m-1 16h2m-2 7h2m-2 40h2m-1-34h2m0-21h2m-2 5h2m-2 41h2m1-52h2m-2 2h2m-2 49h2m0-54h2m-1 10h2m-2 42h2m1-48h2m-2 11h2m-2 11h2m-1 31h2m-1-41h2m4 10h2"/><path d="M407 1057h2m-1 6h2m2 0h2m-1-14h2m0 5h2m-2 19h2m-1-21h2m-2 5h2m-1 4h2m-2 4h2m-1-19h2m-2 4h2m-2 2h2m-2 8h2m-2 8h2m-1-14h2m-2 5h2m-1-11h2m-2 6h2m-2 5h2m0-9h2m-2 5h2m-2 2h2m-2 3h2m-2 3h2m-2 1h2m-1-17h2m-1-2h2m-2 13h2m-2 1h2m-1-4h2m-2 18h2m-1-34h2m-2 10h2m-2 6h2m-2 3h2m-2 2h2m-2 1h2m-2 1h2m-2 7h2m-2 2h2m-1-75h2m-2 42h2m-2 12h2m-2 7h2m-2 1h2m-2 1h2m-2 4h2m-1-18h2m-2 10h2m-2 1h2m-2 2h2m-2 4h2m-1-11h2m-2 2h2m-2 2h2m-2 1h2m-2 1h2m-2 5h2m-2 3h2m-1-19h2m-2 4h2m-2 1h2m-2 5h2m-2 7h2m-1-28h2m-2 13h2m-2 4h2m-2 1h2m-2 5h2m-2 1h2m-2 5h2m-1-31h2m-2 11h2m-2 5h2m-2 1h2m-2 4h2m-2 3h2m-2 3h2m-2 1h2m-1-20h2m-2 3h2m-2 3h2m-2 3h2m-2 3h2m-2 1h2m-2 4h2m-2 7h2m-1-23h2m-2 1h2m-2 10h2m-2 4h2m-2 1h2m-2 3h2m-2 1h2m-1-13h2m-2 2h2m-2 3h2m-2 4h2m-2 2h2m-1-14h2m-2 3h2m-2 3h2m-2 5h2m-2 1h2m-2 1h2m-2 3h2m-2 1h2m-2 1h2m-2 5h2m-2 2h2m-1-22h2m-2 1h2m-2 1h2m-2 2h2m-2 1h2m-2 2h2m-2 1h2m-2 1h2m-2 7h2m-2 1h2m-1-29h2m-2 1h2m-2 7h2m-2 1h2m-2 3h2m-2 1h2m-2 1h2m-2 3h2m-2 2h2m-1 2h2m-2 2h2m-1-7h2m-2 4h2m-1-13h2m-2 1h2m-2 3h2m-2 6h2m-2 1h2m-2 8h2m-2 2h2m-1-33h2m-2 24h2m-2 6h2m-1-21h2m-2 8h2m-2 2h2m-2 1h2m-2 2h2m-2 4h2m-1-18h2m-2 15h2m-1-8h2m-2 2h2m-2 8h2m-2 5h2m-1-16h2m-2 19h2m-1-19h2m-2 4h2m-2 6h2m-1-10h2m-2 1h2m-2 1h2m-2 4h2m-2 1h2m-1-14h2m-2 3h2m-2 4h2m-2 1h2m-2 1h2m-2 1h2m-2 5h2m-1 2h2m-1-5h2m-2 3h2m-2 6h2m-1-19h2m-2 5h2m-2 1h2m-2 11h2m-1-16h2m0-3h2m-1-19h2m-2 40h2m0-26h2m-2 11h2m-1-1h2m-1-12h2m-1 16h2m2 4h2m-1 9h2m-1-4h2m5-56h2m-1-11h2m0-3h2m-1 20h2m-2 39h2m-1 13h2m-1-31h2m0-6h2m-2 32h2m0-58h2m-2 10h2m-1 6h2m-2 11h2m-1-14h2m-2 8h2m-2 5h2m-1-4h2m-2 15h2m-2 2h2m0-73h2m-2 28h2m-2 26h2m-1-7h2m-1-34h2m-2 83h2m-1-68h2m-2 18h2m-1-11h2m-2 64h2m-1-72h2m-2 8h2m-2 9h2m-2 45h2m0-51h2m-2 43h2m-1-36h2m-2 19h2m-2 7h2m-1-59h2m-2 50h2m-1-33h2m-2 4h2m-2 18h2m-2 3h2m-2 14h2m-1 29h2m-1-48h2m-1 0h2m-1 0h2m-1-18h2m-2 16h2m-2 2h2m2-9h2m-2 7h2m-1 54h2m0-44h2m1 12h2m-2 25h2m-2 3h2m-1 3h2m-1-45h2m-1 0h2m0-11h2m0 0h2m-1-7h2"/><path d="M408 1071h2m2-17h2m-2 2h2m-2 2h2m0-6h2m-2 8h2m-1-5h2m-1 3h2m0 1h2m-2 4h2m-1-16h2m-2 15h2m-2 7h2m-1-19h2m-2 5h2m-2 1h2m0-15h2m-1 10h2m-2 2h2m-2 2h2m-2 14h2m-1-18h2m-1 2h2m-2 3h2m-2 8h2m-1-13h2m-2 6h2m-2 10h2m-1-7h2m-2 3h2m-2 6h2m-1-19h2m-2 11h2m-2 6h2m-1-20h2m-2 1h2m-2 8h2m-2 1h2m-2 2h2m-1-9h2m-2 3h2m-2 3h2m-2 2h2m-2 2h2m-2 3h2m-2 5h2m-2 4h2m-2 1h2m-1-19h2m-2 4h2m-2 2h2m-1-8h2m-2 3h2m-2 3h2m-2 3h2m-2 5h2m-1-16h2m-2 2h2m-1-3h2m-2 2h2m-2 2h2m-2 2h2m-2 1h2m-2 1h2m-2 4h2m-2 2h2m-1-14h2m-2 1h2m-2 3h2m-2 4h2m-2 1h2m-2 3h2m-1-27h2m-2 4h2m-2 15h2m-2 1h2m-2 3h2m-2 2h2m-1-7h2m-2 1h2m-2 1h2m-2 1h2m-2 6h2m-2 3h2m-1-25h2m-2 7h2m-2 1h2m-2 3h2m-2 3h2m-2 2h2m-2 1h2m-2 2h2m-2 2h2m-2 12h2m-1-32h2m-2 6h2m-2 2h2m-2 5h2m-2 2h2m-2 3h2m-2 3h2m-2 2h2m-2 1h2m-2 3h2m-1-29h2m-2 8h2m-2 4h2m-2 3h2m-2 1h2m-2 4h2m-1-12h2m-2 6h2m-2 5h2m-2 1h2m-2 1h2m-1-12h2m-2 3h2m-2 2h2m-2 3h2m-2 1h2m-2 8h2m-2 5h2m-1-23h2m-2 6h2m-2 1h2m-2 3h2m-2 10h2m-2 3h2m-1-31h2m-2 2h2m-2 2h2m-2 7h2m-2 1h2m-2 1h2m-2 3h2m-2 2h2m-2 1h2m-2 1h2m-1-16h2m-2 12h2m-1-14h2m-2 2h2m-2 3h2m-2 1h2m-2 8h2m-2 7h2m-1-15h2m-2 1h2m-2 2h2m-2 6h2m-2 9h2m-1-19h2m-2 1h2m-2 10h2m-2 1h2m-1-6h2m-2 2h2m-2 1h2m-2 3h2m-1-9h2m-2 8h2m-2 1h2m-1-8h2m-2 6h2m-1-6h2m-1-19h2m-1 14h2m-2 7h2m-2 5h2m-1-81h2m-2 82h2m-1-15h2m-2 14h2m-2 3h2m1-6h2m-2 10h2m0-11h2m-1-30h2m-1 26h2m1-55h2m-1 31h2m-2 19h2m0 2h2m-2 5h2m-1-1h2m0-9h2m0-35h2m0 6h2m-1-1h2m-2 44h2m-1-22h2m-1-21h2m2 3h2m-1-16h2m-2 11h2m-1-8h2m-2 23h2m-1-32h2m-2 21h2m-2 14h2m-1-26h2m-2 37h2m-1-48h2m-2 15h2m-2 43h2m-2 14h2m-1-53h2m-1-12h2m-2 16h2m-2 6h2m-1 2h2m-1-9h2m-2 11h2m-2 37h2m-1-27h2m-1-28h2m-2 20h2m-1-37h2m-2 39h2m0-33h2m0 17h2m-2 4h2m-1-14h2m-1-2h2m-2 4h2m-1 0h2m-2 29h2m-2 10h2m-1-33h2m-2 28h2m-1-24h2m1 5h2m-2 43h2m-1-54h2m-2 1h2m-2 17h2m-2 27h2m-1-62h2m1 44h2m-1-58h2m-1 28h2m-2 3h2m1-21h2m-2 26h2m-2 15h2m-2 17h2m-1-47h2m-2 6h2m4 14h2"/><path d="M411 1053h2m-2 11h2m0-3h2m0-3h2m-2 13h2m-1-18h2m-2 10h2m-1-9h2m-2 4h2m0 7h2m-2 2h2m-1-27h2m-2 22h2m-1-8h2m-2 3h2m-2 9h2m-2 2h2m-1-17h2m-2 3h2m-2 3h2m-2 3h2m-2 7h2m-1-22h2m-2 2h2m-2 10h2m-2 3h2m-2 1h2m-2 2h2m-1-13h2m-2 9h2m-2 3h2m-2 1h2m-2 4h2m-1-20h2m-2 3h2m-2 4h2m-2 6h2m-2 2h2m-2 3h2m-1-16h2m-2 1h2m-2 6h2m-2 1h2m-2 1h2m-2 5h2m-2 6h2m-1-22h2m-2 3h2m-2 3h2m-2 6h2m-2 11h2m-1-21h2m-2 4h2m-2 8h2m-2 5h2m-1-19h2m-2 2h2m-2 4h2m-2 7h2m-1-17h2m-2 8h2m-2 4h2m-2 1h2m-2 1h2m-1-11h2m-2 4h2m-2 4h2m-2 1h2m-2 1h2m-2 3h2m-2 3h2m-2 2h2m-1-18h2m-2 3h2m-2 3h2m-2 7h2m-2 1h2m-2 6h2m-1-25h2m-2 6h2m-2 1h2m-2 4h2m-2 1h2m-2 1h2m-2 1h2m-1-14h2m-2 4h2m-2 4h2m-2 4h2m-2 2h2m-2 1h2m-2 1h2m-2 1h2m-1-8h2m-2 1h2m-2 6h2m-2 1h2m-2 3h2m-2 1h2m-1-15h2m-2 2h2m-2 5h2m-2 3h2m-2 10h2m-2 4h2m-2 1h2m-1-21h2m-2 3h2m-2 2h2m-2 4h2m-2 5h2m-2 2h2m-1-24h2m-2 10h2m-2 1h2m-2 2h2m-2 2h2m-2 4h2m-1-18h2m-2 4h2m-2 1h2m-2 2h2m-2 1h2m-2 2h2m-2 3h2m-2 2h2m-2 1h2m-1-10h2m-2 3h2m-2 5h2m-2 5h2m-1-21h2m-2 3h2m-2 2h2m-2 4h2m-2 2h2m-1-11h2m-2 1h2m-2 4h2m-2 3h2m-2 2h2m-2 1h2m-2 2h2m-2 4h2m-2 1h2m-1-12h2m-2 1h2m-2 2h2m-2 3h2m-2 2h2m-1-15h2m-2 4h2m-2 4h2m-2 1h2m-2 2h2m-1-3h2m-2 2h2m-2 2h2m-2 2h2m-2 4h2m-2 3h2m-2 3h2m-1-25h2m-2 4h2m-2 9h2m-2 1h2m-2 4h2m-1-12h2m-2 1h2m-2 9h2m-2 2h2m-1-7h2m-2 1h2m-1-1h2m-1-14h2m-2 6h2m-2 8h2m-2 1h2m-2 1h2m-2 1h2m-2 2h2m-1-18h2m-2 3h2m-2 5h2m-1 0h2m-1-7h2m-2 1h2m-1 12h2m-2 5h2m-1-9h2m0 9h2m-1-26h2m2 16h2m4 9h2m0-2h2m-2 6h2m0-19h2m-1-21h2m-1-18h2m-2 3h2m-2 6h2m-2 29h2m-1-46h2m0 32h2m-1-16h2m-2 5h2m-1-11h2m-2 11h2m0-16h2m-2 24h2m-1 9h2m-1-12h2m-1-56h2m-2 66h2m-1-30h2m-2 43h2m1-45h2m0-3h2m-2 38h2m-1-32h2m-2 25h2m-1-19h2m-2 11h2m-1 24h2m-1-43h2m-2 9h2m-2 6h2m-1-26h2m-2 13h2m-2 12h2m-2 14h2m-1-17h2m-1 0h2m0-21h2m-2 7h2m-2 12h2m-1 13h2m-1 12h2m-1-42h2m-2 41h2m-2 2h2m-2 9h2m-1-48h2m-2 5h2m-1 8h2m-2 37h2m0-43h2m-2 4h2m-2 6h2m-1 46h2m-1-41h2m-1-22h2m0-4h2m-1 30h2m-2 1h2m1-25h2m0-2h2m-2 37h2m1-11h2m0 3h2m0 2h2"/><path d="M406 1049h2m-2 9h2m-2 6h2m1-6h2m-1 1h2m-1-17h2m-2 17h2m-2 4h2m-1-10h2m1 2h2m-2 2h2m-2 2h2m-2 5h2m-2 1h2m-1-7h2m-2 3h2m-1-6h2m-2 10h2m-1-4h2m-1-6h2m-2 4h2m-2 6h2m-1-13h2m-1-3h2m-2 1h2m-2 8h2m-2 6h2m-1-9h2m-1-8h2m-2 4h2m-1-4h2m-2 2h2m-2 5h2m-2 6h2m-1-2h2m-2 4h2m-2 1h2m-2 3h2m-1-17h2m-2 4h2m-2 2h2m-1-16h2m-2 9h2m-2 6h2m-2 3h2m-2 9h2m-1-16h2m-2 1h2m-2 2h2m-2 1h2m-2 1h2m-2 1h2m-2 1h2m-2 1h2m-1-15h2m-2 8h2m-2 6h2m-2 2h2m-2 2h2m-2 1h2m-2 2h2m-1-22h2m-2 7h2m-2 4h2m-2 1h2m-2 1h2m-2 4h2m-1-10h2m-2 3h2m-1-11h2m-2 7h2m-2 3h2m-2 7h2m-2 1h2m-2 1h2m-2 5h2m-2 8h2m-1-31h2m-2 1h2m-2 5h2m-2 2h2m-2 1h2m-2 1h2m-2 2h2m-2 1h2m-2 7h2m-1-14h2m-2 4h2m-2 3h2m-2 3h2m-2 5h2m-1-26h2m-2 13h2m-2 6h2m-2 4h2m-1-18h2m-2 5h2m-2 7h2m-2 1h2m-2 3h2m-2 1h2m-2 3h2m-2 3h2m-1-19h2m-2 5h2m-2 1h2m-2 1h2m-2 1h2m-2 7h2m-2 1h2m-1-78h2m-2 63h2m-2 5h2m-2 2h2m-2 1h2m-2 5h2m-1-17h2m-2 1h2m-2 3h2m-2 3h2m-2 1h2m-2 1h2m-2 1h2m-1-8h2m-2 5h2m-2 1h2m-2 2h2m-2 2h2m-2 1h2m-2 2h2m-2 5h2m-1-19h2m-2 4h2m-2 4h2m-2 2h2m-2 2h2m-2 2h2m-2 5h2m-2 3h2m-1-22h2m-2 2h2m-2 6h2m-2 1h2m-2 2h2m-2 3h2m-1-13h2m-2 1h2m-2 2h2m-2 5h2m-2 2h2m-2 1h2m-2 1h2m-1-20h2m-2 9h2m-2 8h2m-2 2h2m-2 1h2m-1-10h2m-2 4h2m-2 2h2m-2 2h2m-2 2h2m-1-15h2m-2 4h2m-2 4h2m-2 3h2m-2 2h2m-1-9h2m-2 3h2m-1 0h2m1-6h2m-1 4h2m-2 4h2m-2 11h2m-1-12h2m-1-12h2m-1 8h2m-2 1h2m-2 6h2m-1-7h2m3-68h2m0 21h2m-2 12h2m-2 39h2m-1-1h2m1-71h2m-2 55h2m0-22h2m-1 38h2m-1-36h2m0-4h2m-1-20h2m-1 21h2m-2 26h2m-1 3h2m-1-15h2m-2 29h2m1-35h2m-2 22h2m-1-37h2m-2 11h2m1-3h2m-2 2h2m-1-25h2m-2 49h2m1-39h2m-2 17h2m-2 9h2m-2 25h2m-2 6h2m-1-44h2m-2 43h2m-1-15h2m-1-4h2m-2 1h2m-2 9h2m-1-35h2m-2 2h2m-2 12h2m-1-19h2m-2 3h2m-2 53h2m-1-62h2m-1-8h2m1 19h2m-2 5h2m-2 10h2m-1-21h2m-2 20h2m-1-43h2m-2 18h2m-1 21h2m-1-33h2m-2 46h2m0-45h2m-1 37h2m0-20h2m-1-6h2m-2 2h2m-2 67h2m-1-38h2m0-53h2m-2 76h2m-1-52h2m-2 6h2m-2 15h2m-2 1h2m0-28h2m-1 21h2m0-8h2m3-5h2m-1-5h2m1 11h2"/><path d="M413 1055h2m-2 3h2m1 11h2m-1-6h2m-1-14h2m-2 24h2m0-31h2m-2 13h2m-1 0h2m-2 2h2m-2 3h2m-2 2h2m-1-13h2m-2 5h2m-2 4h2m-1-4h2m-2 4h2m-2 2h2m-2 1h2m-2 10h2m-1-31h2m-2 11h2m-2 2h2m-2 4h2m-2 1h2m-2 1h2m-2 1h2m-2 2h2m-2 1h2m-1-18h2m-2 10h2m-2 2h2m-1-16h2m-2 8h2m-2 3h2m-2 3h2m-2 1h2m-2 1h2m-2 1h2m-1-10h2m-2 6h2m-2 2h2m-2 4h2m-2 8h2m-1-23h2m-2 10h2m-2 1h2m-2 2h2m-2 2h2m-2 1h2m-1-12h2m-2 1h2m-2 2h2m-2 2h2m-2 4h2m-2 1h2m-1-13h2m-2 1h2m-2 1h2m-2 1h2m-2 3h2m-2 8h2m-1-10h2m-2 5h2m-2 1h2m-2 1h2m-2 1h2m-2 8h2m-1-24h2m-2 4h2m-2 9h2m-2 9h2m-2 2h2m-1-22h2m-2 3h2m-2 2h2m-2 5h2m-2 6h2m-1-16h2m-2 2h2m-2 2h2m-2 4h2m-2 3h2m-2 2h2m-2 2h2m-1-15h2m-2 3h2m-2 1h2m-2 6h2m-2 1h2m-2 3h2m-2 10h2m-2 6h2m-1-35h2m-2 11h2m-2 1h2m-2 5h2m-2 3h2m-2 13h2m-1-29h2m-2 4h2m-2 2h2m-2 8h2m-2 1h2m-2 2h2m-2 7h2m-1-16h2m-2 4h2m-2 1h2m-1-14h2m-2 3h2m-2 5h2m-2 3h2m-2 1h2m-2 2h2m-2 3h2m-2 3h2m-2 7h2m-1-28h2m-2 6h2m-2 5h2m-2 7h2m-1-11h2m-2 2h2m-2 3h2m-2 1h2m-2 1h2m-2 5h2m-1-19h2m-2 5h2m-2 3h2m-2 3h2m-2 1h2m-2 1h2m-2 1h2m-2 1h2m-2 1h2m-1-16h2m-2 5h2m-2 3h2m-2 1h2m-2 3h2m-2 1h2m-2 1h2m-1-15h2m-2 7h2m-2 2h2m-2 3h2m-1-15h2m-2 3h2m-2 8h2m-2 3h2m-2 1h2m-2 8h2m-1-7h2m-1-17h2m-2 7h2m-2 15h2m-1-14h2m-2 5h2m-1-5h2m-2 12h2m-2 5h2m-1-8h2m-2 6h2m-1-20h2m-2 5h2m-2 10h2m-2 2h2m-1-12h2m-2 6h2m-2 3h2m-2 1h2m-2 4h2m-1-10h2m-1-9h2m-2 16h2m-1-5h2m0-5h2m0-5h2m-2 24h2m7-49h2m-2 59h2m1-55h2m7-10h2m-2 11h2m-2 47h2m0-58h2m-1-18h2m0 60h2m-1-42h2m-2 4h2m-2 10h2m-1-13h2m-1 8h2m-2 20h2m-1-23h2m-1-12h2m-2 22h2m-1-18h2m-1-5h2m-2 14h2m-2 10h2m-1-21h2m0 14h2m-1-10h2m-2 33h2m-1-42h2m-2 3h2m-2 20h2m-1 48h2m-1-36h2m-2 13h2m-1-55h2m-2 10h2m-2 2h2m-1-26h2m-2 25h2m-2 8h2m-1-3h2m-2 4h2m-1 45h2m-2 7h2m-1-70h2m-1-16h2m-2 8h2m-2 6h2m-2 13h2m-1-4h2m-2 12h2m-2 32h2m-1-51h2m-1 24h2m-1-27h2m-2 21h2m-2 4h2m-2 41h2m0-55h2m-2 9h2m-2 43h2m0-81h2m-2 38h2m-2 10h2m0-3h2m-1-12h2m-1 11h2m2 15h2m-1-28h2m-1-26h2m-1 74h2"/></g><rect x="201.50" y="479.40" width="62.50" height="58.80" fill="none" stroke="#3a3a3a" stroke-width="0.9"/><line x1="230.20" y1="479.40" x2="230.20" y2="538.20" stroke="#3a3a3a" stroke-width="0.85"/><line x1="201.50" y1="515.40" x2="264.00" y2="515.40" stroke="#3a3a3a" stroke-width="0.85"/><ellipse cx="221.8" cy="508.8" rx="1.3" ry="0.9" fill="#333" opacity="0.8"/><ellipse cx="237.0" cy="508.6" rx="1.3" ry="0.9" fill="#333" opacity="0.8"/><ellipse cx="237.0" cy="523.4" rx="1.3" ry="0.9" fill="#333" opacity="0.8"/><text x="204.7" y="485.7" font-size="4.3" text-anchor="start" font-weight="normal" fill="#333" stroke="#333" stroke-width="0.05" >DMSO</text><line x1="199.90" y1="485.90" x2="201.50" y2="485.90" stroke="#555" stroke-width="0.6"/><text x="197.5" y="487.3" font-size="3.8" text-anchor="end" fill="#666">10<tspan font-size="2.6" dy="-1.4">3</tspan></text><line x1="199.90" y1="500.40" x2="201.50" y2="500.40" stroke="#555" stroke-width="0.6"/><text x="197.5" y="501.8" font-size="3.8" text-anchor="end" fill="#666">10<tspan font-size="2.6" dy="-1.4">2</tspan></text><line x1="199.90" y1="514.90" x2="201.50" y2="514.90" stroke="#555" stroke-width="0.6"/><text x="197.5" y="516.3" font-size="3.8" text-anchor="end" fill="#666">10<tspan font-size="2.6" dy="-1.4">1</tspan></text><line x1="199.90" y1="529.40" x2="201.50" y2="529.40" stroke="#555" stroke-width="0.6"/><text x="197.5" y="530.8" font-size="3.8" text-anchor="end" fill="#666">10<tspan font-size="2.6" dy="-1.4">0</tspan></text><line x1="210.00" y1="538.20" x2="210.00" y2="539.60" stroke="#555" stroke-width="0.6"/><text x="210.0" y="545.6" font-size="3.8" text-anchor="middle" fill="#666">10<tspan font-size="2.6" dy="-1.4">0</tspan></text><line x1="225.50" y1="538.20" x2="225.50" y2="539.60" stroke="#555" stroke-width="0.6"/><text x="225.5" y="545.6" font-size="3.8" text-anchor="middle" fill="#666">10<tspan font-size="2.6" dy="-1.4">1</tspan></text><line x1="241.00" y1="538.20" x2="241.00" y2="539.60" stroke="#555" stroke-width="0.6"/><text x="241.0" y="545.6" font-size="3.8" text-anchor="middle" fill="#666">10<tspan font-size="2.6" dy="-1.4">2</tspan></text><line x1="256.50" y1="538.20" x2="256.50" y2="539.60" stroke="#555" stroke-width="0.6"/><text x="256.5" y="545.6" font-size="3.8" text-anchor="middle" fill="#666">10<tspan font-size="2.6" dy="-1.4">3</tspan></text><line x1="214.67" y1="537.10" x2="214.67" y2="538.20" stroke="#666" stroke-width="0.4"/><line x1="217.40" y1="537.10" x2="217.40" y2="538.20" stroke="#666" stroke-width="0.4"/><line x1="219.33" y1="537.10" x2="219.33" y2="538.20" stroke="#666" stroke-width="0.4"/><line x1="220.83" y1="537.10" x2="220.83" y2="538.20" stroke="#666" stroke-width="0.4"/><line x1="222.06" y1="537.10" x2="222.06" y2="538.20" stroke="#666" stroke-width="0.4"/><line x1="223.10" y1="537.10" x2="223.10" y2="538.20" stroke="#666" stroke-width="0.4"/><line x1="224.00" y1="537.10" x2="224.00" y2="538.20" stroke="#666" stroke-width="0.4"/><line x1="224.79" y1="537.10" x2="224.79" y2="538.20" stroke="#666" stroke-width="0.4"/><line x1="230.17" y1="537.10" x2="230.17" y2="538.20" stroke="#666" stroke-width="0.4"/><line x1="232.90" y1="537.10" x2="232.90" y2="538.20" stroke="#666" stroke-width="0.4"/><line x1="234.83" y1="537.10" x2="234.83" y2="538.20" stroke="#666" stroke-width="0.4"/><line x1="236.33" y1="537.10" x2="236.33" y2="538.20" stroke="#666" stroke-width="0.4"/><line x1="237.56" y1="537.10" x2="237.56" y2="538.20" stroke="#666" stroke-width="0.4"/><line x1="238.60" y1="537.10" x2="238.60" y2="538.20" stroke="#666" stroke-width="0.4"/><line x1="239.50" y1="537.10" x2="239.50" y2="538.20" stroke="#666" stroke-width="0.4"/><line x1="240.29" y1="537.10" x2="240.29" y2="538.20" stroke="#666" stroke-width="0.4"/><line x1="245.67" y1="537.10" x2="245.67" y2="538.20" stroke="#666" stroke-width="0.4"/><line x1="248.40" y1="537.10" x2="248.40" y2="538.20" stroke="#666" stroke-width="0.4"/><line x1="250.33" y1="537.10" x2="250.33" y2="538.20" stroke="#666" stroke-width="0.4"/><line x1="251.83" y1="537.10" x2="251.83" y2="538.20" stroke="#666" stroke-width="0.4"/><line x1="253.06" y1="537.10" x2="253.06" y2="538.20" stroke="#666" stroke-width="0.4"/><line x1="254.10" y1="537.10" x2="254.10" y2="538.20" stroke="#666" stroke-width="0.4"/><line x1="255.00" y1="537.10" x2="255.00" y2="538.20" stroke="#666" stroke-width="0.4"/><line x1="255.79" y1="537.10" x2="255.79" y2="538.20" stroke="#666" stroke-width="0.4"/><text x="261.0" y="555.2" font-size="5.6" text-anchor="end" font-weight="normal" fill="#222" stroke="#222" stroke-width="0.1" >21,2%</text><text x="233.8" y="473.3" font-size="10" text-anchor="middle" font-weight="normal" fill="#111" stroke="#111" stroke-width="0.12" >HDLM-2</text><g transform="scale(0.5)" stroke="#000" stroke-width="1.6" stroke-opacity="0.22" filter="url(#fb)"><path d="M566 1073h2m2-8h2m-2 2h2m0 4h2m-1-6h2m-2 2h2m-2 3h2m-1-2h2m-1-5h2m-2 5h2m-1-12h2m-2 7h2m-2 1h2m-1 4h2m-1-14h2m-2 11h2m-1 2h2m-2 1h2m-1-17h2m-2 10h2m-1-3h2m-2 3h2m-2 4h2m-2 4h2m-1-8h2m-2 2h2m-2 2h2m-2 3h2m-2 2h2m-1-19h2m-2 2h2m-2 7h2m-2 2h2m-2 3h2m-2 1h2m-2 3h2m-1-18h2m-2 5h2m-2 2h2m-2 3h2m-2 1h2m-2 1h2m-2 1h2m-2 2h2m-1-8h2m-2 1h2m-2 2h2m-2 2h2m-1-11h2m-2 2h2m-2 2h2m-2 9h2m-2 6h2m-1-24h2m-2 4h2m-2 2h2m-2 8h2m-2 4h2m-2 3h2m-1-12h2m-2 4h2m-2 4h2m-2 1h2m-2 1h2m-2 1h2m-2 4h2m-1-24h2m-2 5h2m-2 4h2m-2 1h2m-2 2h2m-2 1h2m-2 4h2m-1-15h2m-2 4h2m-2 4h2m-2 4h2m-2 1h2m-1-18h2m-2 3h2m-2 3h2m-2 1h2m-2 3h2m-2 2h2m-2 1h2m-2 1h2m-2 2h2m-2 5h2m-1-21h2m-2 12h2m-2 2h2m-2 2h2m-1-15h2m-2 10h2m-1-4h2m-2 1h2m-2 3h2m-2 2h2m-2 1h2m-2 2h2m-2 3h2m-1-17h2m-2 8h2m-2 3h2m-1-12h2m-2 2h2m-2 9h2m-2 1h2m-2 1h2m-2 6h2m-1-13h2m-2 3h2m-1-10h2m-2 8h2m-2 4h2m-2 5h2m-1-21h2m-2 2h2m-2 2h2m-2 8h2m-1-6h2m-2 4h2m-2 3h2m-2 5h2m-1-16h2m-1 5h2m-2 7h2m1-18h2m-2 8h2m-1-2h2m-2 7h2m-1-13h2m-2 2h2m-1-2h2m0 2h2m-1-3h2m-2 13h2m0-6h2m0 2h2m-1 10h2m-1 0h2m-1-45h2m-2 39h2m-1 8h2m-1-57h2m-2 34h2m-2 12h2m-2 12h2m-1-38h2m-2 34h2m-1-1h2m-2 2h2m-1-9h2m-2 6h2m-2 1h2m-2 4h2m-1-10h2m-1-4h2m-2 4h2m-1-38h2m-2 13h2m-2 4h2m-2 1h2m-2 22h2m-2 5h2m-1-48h2m-2 34h2m-2 2h2m-2 5h2m-2 2h2m-1-34h2m-2 14h2m-2 21h2m-2 2h2m-1-35h2m-2 6h2m-2 18h2m-2 8h2m-2 5h2m0-45h2m-2 37h2m-1-3h2m-1 11h2m-1-1h2m-1-45h2m-2 12h2m-2 1h2m-1 8h2m-2 19h2m-1-21h2m-2 11h2m11-44h2"/><path d="M570 1066h2m1 8h2m-1-18h2m-2 5h2m-2 3h2m-2 2h2m-2 6h2m-1-13h2m-2 4h2m-2 4h2m-1-4h2m-2 1h2m-2 3h2m-1-10h2m-2 6h2m-2 1h2m-2 3h2m-2 2h2m-1-4h2m-2 3h2m-1-5h2m-2 4h2m-1-11h2m-2 7h2m-2 11h2m-1-95h2m-2 75h2m-2 8h2m-2 3h2m-2 7h2m-1-10h2m-2 4h2m-2 2h2m-1-7h2m-2 1h2m-2 3h2m-2 1h2m-1-10h2m-2 6h2m-2 4h2m-1-6h2m-2 2h2m-2 4h2m-2 2h2m-1-22h2m-2 10h2m-2 6h2m-2 3h2m-1-13h2m-2 2h2m-2 6h2m-2 1h2m-2 3h2m-2 1h2m-1-20h2m-2 12h2m-2 4h2m-2 7h2m-1-19h2m-2 1h2m-2 5h2m-2 1h2m-2 1h2m-1-14h2m-2 5h2m-1-2h2m-2 3h2m-2 2h2m-2 1h2m-2 5h2m-2 3h2m-1-13h2m-2 2h2m-2 1h2m-2 7h2m-2 1h2m-2 2h2m-2 6h2m-1-27h2m-2 4h2m-2 3h2m-2 2h2m-2 2h2m-2 2h2m-2 1h2m-2 1h2m-2 3h2m-1-8h2m-2 4h2m-2 3h2m-1-7h2m-2 3h2m-2 3h2m-2 1h2m-2 2h2m-1-15h2m-2 3h2m-2 2h2m-2 2h2m-2 2h2m-2 4h2m-2 2h2m-1-14h2m-2 5h2m-2 6h2m-2 6h2m-1-9h2m-1-7h2m-2 1h2m-2 1h2m-2 3h2m-1 0h2m-1-3h2m-2 7h2m-2 6h2m-1-21h2m-2 2h2m-2 6h2m-2 2h2m-2 4h2m-1-15h2m-2 7h2m-2 7h2m-2 15h2m-1-30h2m-2 3h2m-1 17h2m-1-23h2m-2 18h2m-1-11h2m2-10h2m-1 9h2m-2 2h2m1-30h2m-2 41h2m-1 8h2m2-10h2m-2 4h2m-1-57h2m-2 34h2m-2 2h2m-2 8h2m-2 2h2m-1-12h2m-2 9h2m-2 1h2m-2 13h2m-1-32h2m-2 19h2m-2 18h2m-1-50h2m-2 12h2m-2 32h2m-2 4h2m-1-34h2m-2 33h2m-1-53h2m-2 41h2m-1-4h2m-2 11h2m-1-49h2m-2 25h2m-2 6h2m-2 6h2m-2 8h2m-1-29h2m-2 5h2m-2 22h2m-2 5h2m-2 1h2m-2 2h2m-2 2h2m-1-38h2m-2 23h2m-2 3h2m-2 8h2m-1-39h2m-2 7h2m-2 2h2m-2 28h2m-1-5h2m-2 10h2m-1-42h2m-1-1h2m-2 32h2m1-27h2m-2 33h2m-1-35h2"/><path d="M569 1071h2m1-1h2m-1 2h2m-1-3h2m-1-8h2m-2 8h2m-2 1h2m-2 1h2m-1-3h2m-1-7h2m-2 2h2m-2 2h2m-2 1h2m-1-7h2m-2 2h2m-2 8h2m-1-14h2m-2 11h2m-1-17h2m-2 10h2m-2 1h2m-2 1h2m-2 10h2m-1-12h2m-2 5h2m-2 2h2m-2 1h2m-1-12h2m-2 4h2m-2 4h2m-2 2h2m-2 1h2m-2 5h2m-1-12h2m-2 4h2m-2 2h2m-1-11h2m-2 2h2m-2 1h2m-2 2h2m-2 2h2m-2 2h2m-2 1h2m-2 4h2m-2 1h2m-2 4h2m-1-97h2m-2 79h2m-2 3h2m-2 2h2m-2 3h2m-2 1h2m-2 1h2m-2 1h2m-1-17h2m-2 6h2m-2 2h2m-2 2h2m-2 1h2m-1-11h2m-2 10h2m-1-5h2m-2 2h2m-2 1h2m-2 4h2m-1-11h2m-2 4h2m-2 3h2m-2 1h2m-2 1h2m-2 5h2m-2 1h2m-2 1h2m-1-10h2m-2 2h2m-2 1h2m-2 3h2m-2 4h2m-2 2h2m-1-19h2m-2 1h2m-2 2h2m-2 1h2m-2 1h2m-2 4h2m-2 1h2m-2 1h2m-1-18h2m-2 12h2m-2 4h2m-2 1h2m-1-20h2m-2 9h2m-2 2h2m-2 7h2m-2 1h2m-2 2h2m-1-90h2m-2 82h2m-2 2h2m-2 5h2m-1-11h2m-2 5h2m-2 1h2m-2 2h2m-1-11h2m-2 3h2m-2 2h2m-2 18h2m-1-13h2m-2 2h2m-1-17h2m-2 10h2m-2 4h2m-2 8h2m-1-19h2m-2 4h2m-2 6h2m-2 3h2m0-12h2m-2 1h2m-2 4h2m-1-3h2m-1 6h2m1-19h2m-1 8h2m4 10h2m-1-28h2m0 12h2m-1 20h2m-2 6h2m-1-14h2m-1-32h2m-2 31h2m-1-29h2m-2 13h2m-2 17h2m-1-2h2m-2 2h2m-1-25h2m-2 3h2m-2 29h2m-1-9h2m-2 4h2m-2 7h2m-1-36h2m-1-11h2m-2 36h2m-2 1h2m-2 2h2m-2 9h2m-1-18h2m-2 3h2m-1-19h2m-2 2h2m-2 1h2m-2 2h2m-2 21h2m-2 4h2m-1-14h2m-2 5h2m-2 23h2m-1-53h2m-2 7h2m-2 29h2m-1-19h2m-2 22h2m-1-1h2m-2 1h2m-1-8h2m-2 10h2m0-28h2m-2 28h2m-1-39h2m-1 32h2m-1-29h2m3 5h2m0 27h2m-1-5h2m17-2h2"/><path d="M568 1072h2m-1 0h2m0-14h2m0 2h2m-2 8h2m0-7h2m-2 3h2m-2 4h2m-2 2h2m-1-9h2m-2 10h2m-1-2h2m-2 2h2m-2 2h2m-1-30h2m-2 7h2m-2 13h2m-2 5h2m-2 1h2m-1 3h2m-1-15h2m-2 2h2m-2 1h2m-1-7h2m-2 14h2m-1-13h2m-2 6h2m-2 4h2m-2 3h2m-2 3h2m-1-12h2m-1-9h2m-2 4h2m-2 4h2m-2 5h2m-1-10h2m-2 1h2m-2 1h2m-2 5h2m-2 3h2m-2 1h2m-2 9h2m-1-19h2m-2 4h2m-2 3h2m-2 1h2m-2 2h2m-2 1h2m-1-54h2m-2 43h2m-2 6h2m-2 2h2m-2 3h2m-1-14h2m-2 5h2m-2 1h2m-2 2h2m-2 4h2m-2 8h2m-1-20h2m-2 4h2m-2 2h2m-2 4h2m-2 1h2m-2 4h2m-1-16h2m-2 7h2m-2 4h2m-2 2h2m-2 1h2m-2 2h2m-1-19h2m-2 5h2m-2 1h2m-2 2h2m-2 1h2m-2 3h2m-2 1h2m-2 1h2m-2 1h2m-2 6h2m-2 6h2m-1-21h2m-2 3h2m-2 3h2m-2 1h2m-2 1h2m-2 11h2m-1-29h2m-2 6h2m-2 4h2m-2 2h2m-2 10h2m-1-15h2m-2 1h2m-2 1h2m-2 4h2m-2 4h2m-2 1h2m-1-16h2m-2 1h2m-2 7h2m-2 9h2m-1-16h2m-2 6h2m-1-7h2m-2 2h2m-2 11h2m-2 1h2m-1-16h2m-2 4h2m-2 3h2m-2 2h2m-2 2h2m-2 9h2m-1-18h2m-2 2h2m-2 4h2m-2 13h2m-1-24h2m-2 12h2m-1 6h2m-1-16h2m-2 7h2m-2 19h2m0-24h2m-1 15h2m-1-13h2m-2 1h2m-2 6h2m1-9h2m1-32h2m4 3h2m-2 25h2m-1 12h2m-1-52h2m-2 10h2m-2 2h2m-2 25h2m-2 11h2m-2 15h2m0-51h2m-2 39h2m-1-41h2m-2 28h2m-2 7h2m-2 12h2m-1 3h2m-1-14h2m-2 10h2m0-42h2m-2 8h2m-2 22h2m-2 3h2m-2 6h2m-2 3h2m-2 6h2m-1-41h2m-2 9h2m-2 15h2m-2 5h2m-2 9h2m-1-46h2m-2 39h2m-1-29h2m-2 27h2m-2 1h2m-1-29h2m-2 32h2m-2 1h2m-2 3h2m-1-47h2m-2 28h2m-1 14h2m-1-29h2m-2 32h2m-2 6h2m-1-51h2m-2 32h2m-2 9h2m0 2h2m-1-33h2m-2 8h2m-1-8h2m24-22h2"/><path d="M566 1070h2m0-3h2m-2 2h2m1 0h2m0-8h2m-2 5h2m-2 8h2m-1-18h2m-2 4h2m0-5h2m-2 13h2m-1-5h2m-2 5h2m-1-4h2m-2 1h2m-1-7h2m-2 4h2m-2 8h2m-1-11h2m-2 2h2m-1-12h2m-2 1h2m-2 3h2m-2 9h2m-2 4h2m-2 2h2m-2 1h2m-2 2h2m-1-74h2m-2 62h2m-2 2h2m-2 2h2m-2 1h2m-2 5h2m-1-8h2m-2 2h2m-2 3h2m-1-7h2m-2 1h2m-2 6h2m-1-8h2m-2 5h2m-2 1h2m-2 2h2m-1-11h2m-2 3h2m-2 1h2m-2 4h2m-2 1h2m-2 1h2m-1-14h2m-2 5h2m-2 4h2m-2 4h2m-2 3h2m-1-18h2m-2 1h2m-2 2h2m-2 3h2m-2 6h2m-1-10h2m-2 4h2m-2 3h2m-2 2h2m-2 1h2m-2 1h2m-2 3h2m-2 7h2m-1-27h2m-2 5h2m-2 4h2m-2 1h2m-2 2h2m-2 1h2m-2 3h2m-1-10h2m-2 1h2m-2 3h2m-2 1h2m-2 5h2m-1-17h2m-2 14h2m-2 2h2m-2 3h2m-1-19h2m-2 9h2m-2 4h2m-2 5h2m-2 5h2m-1-103h2m-2 82h2m-2 3h2m-2 2h2m-1-9h2m-2 3h2m-2 8h2m-2 1h2m-2 1h2m-2 4h2m-1-14h2m-2 6h2m-2 7h2m-1-16h2m-2 4h2m-2 12h2m-2 2h2m-1-16h2m-2 2h2m-2 6h2m-2 1h2m-1-11h2m-2 7h2m-2 2h2m-2 1h2m-2 1h2m-1-3h2m-2 7h2m-1-12h2m1-13h2m-2 14h2m-2 2h2m-1-14h2m-2 5h2m-1 2h2m-2 17h2m1-51h2m-1 30h2m-2 1h2m-2 10h2m-1-13h2m-2 26h2m1-10h2m-1-32h2m-1 15h2m-2 12h2m-2 2h2m-2 14h2m0-2h2m-1-56h2m-1 4h2m-2 35h2m-1-33h2m-2 33h2m-2 7h2m-1-26h2m-1-19h2m-2 11h2m-2 31h2m-1 4h2m-1-40h2m-2 37h2m-2 5h2m-2 1h2m-1-7h2m-2 2h2m-2 1h2m-2 7h2m-1-15h2m-2 5h2m-1-28h2m-2 4h2m-1-1h2m-2 5h2m-2 1h2m-2 26h2m-1-27h2m-2 22h2m-2 6h2m-1-1h2m-1-36h2m-2 29h2m-2 2h2m-1-31h2m-2 8h2m-2 28h2m-2 2h2m-2 5h2m-1-21h2m-1-20h2m-2 19h2m-2 9h2m-2 4h2m2-38h2m0 40h2m0-25h2m28 29h2"/><path d="M567 1069h2m4 3h2m0-5h2m-1 0h2m-1 0h2m-1-2h2m-2 5h2m-1-12h2m-2 2h2m-2 1h2m-2 7h2m-2 3h2m-1-16h2m-2 9h2m-2 1h2m-2 4h2m-2 1h2m-1-13h2m-2 9h2m-1-13h2m-2 6h2m-2 2h2m-2 2h2m-1-7h2m-2 5h2m-2 1h2m-2 5h2m-1-10h2m-2 3h2m-2 1h2m-2 2h2m-1-3h2m-2 1h2m-2 1h2m-2 5h2m-2 1h2m-2 6h2m-1-15h2m-2 4h2m-1-11h2m-2 1h2m-2 1h2m-2 2h2m-2 2h2m-2 1h2m-2 2h2m-2 1h2m-2 4h2m-1-17h2m-2 1h2m-2 5h2m-1-4h2m-2 5h2m-2 1h2m-2 2h2m-2 9h2m-1-20h2m-2 3h2m-2 5h2m-2 1h2m-2 3h2m-2 1h2m-1-10h2m-2 1h2m-2 3h2m-2 1h2m-2 2h2m-2 2h2m-2 1h2m-2 1h2m-1-23h2m-2 11h2m-2 3h2m-2 2h2m-2 3h2m-1-10h2m-2 4h2m-2 1h2m-2 11h2m-1-18h2m-2 8h2m-2 9h2m-1-14h2m-2 3h2m-2 5h2m-2 4h2m-1-21h2m-2 1h2m-2 4h2m-2 4h2m-2 3h2m-2 1h2m-2 6h2m-1-17h2m-2 6h2m-2 3h2m-2 6h2m-2 4h2m-1-19h2m-2 1h2m-2 3h2m-2 4h2m-2 2h2m-2 2h2m-2 2h2m-2 1h2m-1-6h2m-1 5h2m-2 4h2m-2 2h2m-1-10h2m-1-12h2m0 5h2m-2 8h2m-1-14h2m-1 7h2m-2 2h2m-2 5h2m1-13h2m0 1h2m-1 0h2m-1-3h2m0-21h2m-2 22h2m0 17h2m-1-19h2m-2 3h2m-2 13h2m-1-40h2m-1-2h2m-2 18h2m-2 10h2m-2 14h2m-2 1h2m-1-12h2m-2 3h2m-2 7h2m-1-32h2m-2 32h2m-1-26h2m-2 17h2m-2 3h2m-2 4h2m-2 2h2m-1-38h2m-2 13h2m-2 20h2m-1-4h2m-2 2h2m-2 3h2m-1-4h2m-1-20h2m-1-3h2m-2 3h2m-2 15h2m-2 13h2m-1-39h2m-2 15h2m-2 3h2m-2 21h2m-1-33h2m-2 11h2m-2 15h2m-2 7h2m-2 2h2m-1-32h2m-2 7h2m-2 18h2m-1-35h2m-2 4h2m-2 34h2m-1-39h2m-2 25h2m-2 9h2m-2 4h2m-2 8h2m-1-18h2m-2 3h2m12 2h2m14-24h2m6-31h2"/><path d="M568 1009h2m-2 59h2m0 3h2m-2 1h2m2-1h2m-1 1h2m-1-3h2m-1-6h2m-2 6h2m-1-6h2m-2 2h2m-2 5h2m-1-9h2m-2 2h2m-2 4h2m-2 5h2m-1-16h2m-2 3h2m-2 7h2m-2 1h2m-1-11h2m-2 3h2m-2 1h2m-2 1h2m-2 3h2m-2 3h2m-1-10h2m-2 5h2m-2 1h2m-2 3h2m-1-9h2m-2 3h2m-2 1h2m-2 1h2m-2 2h2m-2 2h2m-2 1h2m-2 2h2m-2 2h2m-2 2h2m-1-23h2m-2 3h2m-2 4h2m-2 2h2m-2 1h2m-2 5h2m-1-13h2m-2 4h2m-2 1h2m-2 2h2m-2 1h2m-2 3h2m-2 1h2m-2 1h2m-2 1h2m-2 1h2m-1-12h2m-2 1h2m-2 1h2m-2 1h2m-2 1h2m-2 5h2m-1-17h2m-2 4h2m-2 2h2m-2 1h2m-2 3h2m-2 1h2m-2 1h2m-2 4h2m-2 4h2m-2 2h2m-1-14h2m-2 2h2m-2 6h2m-2 1h2m-1-8h2m-2 1h2m-2 4h2m-2 2h2m-1-13h2m-2 3h2m-2 9h2m-2 3h2m-1-19h2m-2 13h2m-2 6h2m-1-18h2m-2 6h2m-2 2h2m-1 9h2m-1-17h2m-2 4h2m-2 1h2m-2 3h2m-2 1h2m-2 5h2m-1-11h2m-2 4h2m-2 3h2m-2 3h2m-2 2h2m-1-20h2m-2 7h2m-2 1h2m-2 6h2m-2 3h2m-1-10h2m-2 5h2m-2 7h2m-1-27h2m-2 8h2m-2 5h2m-2 4h2m-2 6h2m-1-7h2m-1-4h2m-2 10h2m-2 5h2m-1-23h2m-2 8h2m-2 5h2m-1-6h2m-2 8h2m-2 4h2m-1-15h2m-2 3h2m1-18h2m0 11h2m-1-2h2m0-5h2m-1 9h2m2 6h2m-1-1h2m-2 6h2m-1-24h2m-2 6h2m-1 17h2m-2 4h2m-1-8h2m-1-35h2m-2 35h2m-1-27h2m-2 17h2m-2 9h2m-2 8h2m-1-29h2m-2 13h2m-2 12h2m-2 2h2m0-40h2m-1 17h2m-2 18h2m-2 7h2m-1-37h2m-2 17h2m-2 13h2m-2 7h2m-2 1h2m-2 7h2m-1-50h2m-1 4h2m-2 14h2m-2 20h2m-2 1h2m-2 1h2m-1-37h2m-2 26h2m-2 4h2m-2 4h2m-2 3h2m-2 1h2m-2 7h2m-1-24h2m-1-15h2m-1-8h2m-2 8h2m-2 15h2m-2 8h2m-2 3h2m-1-3h2m-1-24h2m-1 26h2m-1 13h2m0-40h2m2 30h2"/><path d="M569 1065h2m-1 9h2m-1-2h2m-1-11h2m-2 5h2m-2 2h2m1-8h2m-2 9h2m-2 4h2m-2 1h2m-1-14h2m-2 8h2m-1-6h2m-2 2h2m-2 1h2m-1-6h2m-2 6h2m-2 2h2m-2 1h2m-2 1h2m-1-6h2m-2 4h2m-2 1h2m-1-10h2m-2 7h2m-2 1h2m-2 7h2m-1-19h2m-2 4h2m-2 4h2m-2 2h2m-2 4h2m-2 2h2m-1-10h2m-2 2h2m-2 2h2m-2 1h2m-2 5h2m-1-11h2m-2 4h2m-2 2h2m-2 2h2m-2 2h2m-2 2h2m-1-20h2m-2 7h2m-2 1h2m-2 2h2m-1-2h2m-2 1h2m-2 11h2m-2 1h2m-1-20h2m-2 2h2m-2 2h2m-2 1h2m-2 2h2m-2 1h2m-2 1h2m-2 3h2m-2 3h2m-1-18h2m-2 6h2m-2 3h2m-2 2h2m-2 3h2m-2 7h2m-1-18h2m-2 1h2m-2 2h2m-2 4h2m-2 10h2m-1-18h2m-2 3h2m-2 4h2m-2 5h2m-1-16h2m-2 3h2m-2 6h2m-2 2h2m-2 3h2m-2 3h2m-2 2h2m-1-13h2m-2 2h2m-2 4h2m-2 1h2m-1-11h2m-2 5h2m-2 4h2m-2 8h2m-1-21h2m-2 5h2m-2 1h2m-2 1h2m-2 1h2m-2 3h2m-1-3h2m-1-8h2m-2 4h2m-2 1h2m-1-7h2m-2 1h2m-2 6h2m-2 1h2m-2 1h2m-2 1h2m-2 8h2m-1-14h2m-2 4h2m-1-5h2m-1-5h2m-2 16h2m-2 3h2m-1-17h2m-2 3h2m-1-2h2m-1 4h2m-1 8h2m0-12h2m-2 8h2m0-13h2m0 2h2m1 9h2m0-4h2m1-16h2m-2 22h2m-1-13h2m-1 6h2m-2 3h2m0-36h2m0 26h2m-2 3h2m-2 9h2m-2 2h2m-1-2h2m-2 3h2m-1 0h2m-1-47h2m-2 7h2m-2 3h2m-2 39h2m-1-28h2m-2 19h2m-1-18h2m-2 16h2m-2 5h2m-2 3h2m-2 1h2m-1-34h2m-2 1h2m-2 17h2m-1-24h2m-2 30h2m-2 2h2m-1-23h2m-2 30h2m-2 2h2m-2 18h2m-1-49h2m-2 12h2m-2 7h2m-2 6h2m-2 3h2m-2 2h2m-1-37h2m-2 4h2m-2 13h2m-1-18h2m-2 11h2m-2 1h2m-2 17h2m-2 5h2m-2 4h2m-1-12h2m1-16h2m-1 20h2m1 5h2m6-9h2m11-16h2m-1-27h2"/></g><rect x="282.30" y="479.40" width="60.50" height="58.60" fill="none" stroke="#3a3a3a" stroke-width="0.9"/><line x1="307.30" y1="479.40" x2="307.30" y2="538.00" stroke="#3a3a3a" stroke-width="0.85"/><line x1="282.30" y1="517.70" x2="342.80" y2="517.70" stroke="#3a3a3a" stroke-width="0.85"/><ellipse cx="299.5" cy="511.0" rx="1.3" ry="0.9" fill="#333" opacity="0.8"/><ellipse cx="314.5" cy="511.0" rx="1.3" ry="0.9" fill="#333" opacity="0.8"/><ellipse cx="314.5" cy="524.5" rx="1.3" ry="0.9" fill="#333" opacity="0.8"/><text x="285.5" y="485.7" font-size="4.3" text-anchor="start" font-weight="normal" fill="#333" stroke="#333" stroke-width="0.05" >DMSO</text><line x1="280.70" y1="485.90" x2="282.30" y2="485.90" stroke="#555" stroke-width="0.6"/><text x="278.3" y="487.3" font-size="3.8" text-anchor="end" fill="#666">10<tspan font-size="2.6" dy="-1.4">3</tspan></text><line x1="280.70" y1="500.40" x2="282.30" y2="500.40" stroke="#555" stroke-width="0.6"/><text x="278.3" y="501.8" font-size="3.8" text-anchor="end" fill="#666">10<tspan font-size="2.6" dy="-1.4">2</tspan></text><line x1="280.70" y1="514.90" x2="282.30" y2="514.90" stroke="#555" stroke-width="0.6"/><text x="278.3" y="516.3" font-size="3.8" text-anchor="end" fill="#666">10<tspan font-size="2.6" dy="-1.4">1</tspan></text><line x1="280.70" y1="529.40" x2="282.30" y2="529.40" stroke="#555" stroke-width="0.6"/><text x="278.3" y="530.8" font-size="3.8" text-anchor="end" fill="#666">10<tspan font-size="2.6" dy="-1.4">0</tspan></text><line x1="290.80" y1="538.00" x2="290.80" y2="539.40" stroke="#555" stroke-width="0.6"/><text x="290.8" y="545.4" font-size="3.8" text-anchor="middle" fill="#666">10<tspan font-size="2.6" dy="-1.4">0</tspan></text><line x1="306.30" y1="538.00" x2="306.30" y2="539.40" stroke="#555" stroke-width="0.6"/><text x="306.3" y="545.4" font-size="3.8" text-anchor="middle" fill="#666">10<tspan font-size="2.6" dy="-1.4">1</tspan></text><line x1="321.80" y1="538.00" x2="321.80" y2="539.40" stroke="#555" stroke-width="0.6"/><text x="321.8" y="545.4" font-size="3.8" text-anchor="middle" fill="#666">10<tspan font-size="2.6" dy="-1.4">2</tspan></text><line x1="337.30" y1="538.00" x2="337.30" y2="539.40" stroke="#555" stroke-width="0.6"/><text x="337.3" y="545.4" font-size="3.8" text-anchor="middle" fill="#666">10<tspan font-size="2.6" dy="-1.4">3</tspan></text><line x1="295.47" y1="536.90" x2="295.47" y2="538.00" stroke="#666" stroke-width="0.4"/><line x1="298.20" y1="536.90" x2="298.20" y2="538.00" stroke="#666" stroke-width="0.4"/><line x1="300.13" y1="536.90" x2="300.13" y2="538.00" stroke="#666" stroke-width="0.4"/><line x1="301.63" y1="536.90" x2="301.63" y2="538.00" stroke="#666" stroke-width="0.4"/><line x1="302.86" y1="536.90" x2="302.86" y2="538.00" stroke="#666" stroke-width="0.4"/><line x1="303.90" y1="536.90" x2="303.90" y2="538.00" stroke="#666" stroke-width="0.4"/><line x1="304.80" y1="536.90" x2="304.80" y2="538.00" stroke="#666" stroke-width="0.4"/><line x1="305.59" y1="536.90" x2="305.59" y2="538.00" stroke="#666" stroke-width="0.4"/><line x1="310.97" y1="536.90" x2="310.97" y2="538.00" stroke="#666" stroke-width="0.4"/><line x1="313.70" y1="536.90" x2="313.70" y2="538.00" stroke="#666" stroke-width="0.4"/><line x1="315.63" y1="536.90" x2="315.63" y2="538.00" stroke="#666" stroke-width="0.4"/><line x1="317.13" y1="536.90" x2="317.13" y2="538.00" stroke="#666" stroke-width="0.4"/><line x1="318.36" y1="536.90" x2="318.36" y2="538.00" stroke="#666" stroke-width="0.4"/><line x1="319.40" y1="536.90" x2="319.40" y2="538.00" stroke="#666" stroke-width="0.4"/><line x1="320.30" y1="536.90" x2="320.30" y2="538.00" stroke="#666" stroke-width="0.4"/><line x1="321.09" y1="536.90" x2="321.09" y2="538.00" stroke="#666" stroke-width="0.4"/><line x1="326.47" y1="536.90" x2="326.47" y2="538.00" stroke="#666" stroke-width="0.4"/><line x1="329.20" y1="536.90" x2="329.20" y2="538.00" stroke="#666" stroke-width="0.4"/><line x1="331.13" y1="536.90" x2="331.13" y2="538.00" stroke="#666" stroke-width="0.4"/><line x1="332.63" y1="536.90" x2="332.63" y2="538.00" stroke="#666" stroke-width="0.4"/><line x1="333.86" y1="536.90" x2="333.86" y2="538.00" stroke="#666" stroke-width="0.4"/><line x1="334.90" y1="536.90" x2="334.90" y2="538.00" stroke="#666" stroke-width="0.4"/><line x1="335.80" y1="536.90" x2="335.80" y2="538.00" stroke="#666" stroke-width="0.4"/><line x1="336.59" y1="536.90" x2="336.59" y2="538.00" stroke="#666" stroke-width="0.4"/><text x="339.8" y="555.0" font-size="5.6" text-anchor="end" font-weight="normal" fill="#222" stroke="#222" stroke-width="0.1" >23,6%</text><text x="313.6" y="473.3" font-size="10" text-anchor="middle" font-weight="normal" fill="#111" stroke="#111" stroke-width="0.12" >L1236</text><g transform="scale(0.5)" stroke="#000" stroke-width="1.6" stroke-opacity="0.22" filter="url(#fb)"><path d="M730 994h2m4 60h2m9-7h2m-2 5h2m-1-11h2m-2 12h2m-2 2h2m-1-10h2m-2 5h2m-1-11h2m-2 4h2m-2 11h2m-1-71h2m-2 68h2m-2 3h2m-1-3h2m-2 3h2m-2 1h2m-1-24h2m-2 10h2m-2 4h2m-2 1h2m-2 1h2m-1-2h2m-2 4h2m-2 6h2m-1-14h2m-2 4h2m-2 2h2m-2 2h2m-2 1h2m-2 1h2m-1-18h2m-2 7h2m-2 2h2m-2 7h2m-2 2h2m-2 1h2m-2 5h2m-1-20h2m-2 3h2m-2 2h2m-2 3h2m-2 4h2m-1-16h2m-2 12h2m-2 3h2m-2 6h2m-2 3h2m-1-15h2m-2 4h2m-2 2h2m-2 8h2m-1-23h2m-2 2h2m-2 3h2m-2 1h2m-2 2h2m-2 5h2m-2 3h2m-2 6h2m-1-15h2m-2 5h2m-2 4h2m-2 3h2m-2 8h2m-1-27h2m-2 16h2m-2 2h2m-2 12h2m-1-30h2m-2 1h2m-2 7h2m-2 3h2m-2 1h2m-2 1h2m-1-15h2m-2 7h2m-2 4h2m-2 1h2m-2 1h2m-2 1h2m-2 1h2m-2 2h2m-2 5h2m-1-18h2m-2 5h2m-2 7h2m-2 10h2m-1-27h2m-2 4h2m-2 4h2m-2 5h2m-2 1h2m-2 2h2m-2 3h2m-2 5h2m-1-23h2m-2 4h2m-2 1h2m-2 2h2m-2 2h2m-2 4h2m-2 1h2m-2 15h2m-1-25h2m-2 2h2m-2 1h2m-2 7h2m-1-19h2m-2 2h2m-2 4h2m-2 2h2m-2 1h2m-2 3h2m-2 3h2m-2 2h2m-2 1h2m-2 2h2m-2 3h2m-2 10h2m-1-9h2m-1-61h2m-2 41h2m-2 7h2m-2 3h2m-2 1h2m-2 13h2m-1-21h2m-2 2h2m-2 2h2m-2 4h2m-2 1h2m-2 2h2m-2 2h2m-1-26h2m-2 16h2m-2 1h2m-2 2h2m-2 4h2m-2 1h2m-2 3h2m-1-28h2m-2 12h2m-2 3h2m-2 1h2m-2 2h2m-2 2h2m-2 1h2m-2 6h2m-2 7h2m-2 2h2m-1-69h2m-2 19h2m-2 36h2m-2 1h2m-2 7h2m-1-22h2m-2 4h2m-2 2h2m-2 5h2m-2 3h2m-2 8h2m-1-19h2m-2 2h2m-2 11h2m-2 4h2m-2 7h2m-1-32h2m-1 15h2m-2 2h2m-2 1h2m-2 7h2m-1-23h2m-2 1h2m-2 8h2m-2 6h2m-2 1h2m-2 12h2m-1-27h2m-2 16h2m-1-4h2m-1 6h2m-1-32h2m-2 19h2m-2 12h2m-1-9h2m-1 1h2m-2 8h2m-1-18h2m-2 6h2m-2 18h2m-1-62h2m-2 33h2m-1-7h2m0-20h2m-2 33h2m-1 11h2m-1-47h2m-2 13h2m-2 7h2m-1-23h2m-2 16h2m-2 22h2m-1-49h2m-2 20h2m-2 15h2m-2 17h2m-1-4h2m-1-57h2m-2 54h2m-1-44h2m-2 26h2m-1 3h2m-2 16h2m-1-37h2m-2 2h2m-2 10h2m-1-30h2m-2 31h2m-1-8h2m-1-1h2m-2 28h2m-1-21h2m-2 2h2m-2 13h2m-1-32h2m-2 10h2m-2 5h2m-2 2h2m-2 31h2m-1-49h2m-2 11h2m-2 3h2m-2 11h2m-1 1h2m-1-12h2m-2 10h2m-2 7h2m-2 16h2m-1-11h2m-1-38h2m-1 26h2m-2 4h2m-2 13h2m-2 1h2m0-57h2m-2 21h2m-2 30h2m0-14h2m-1-9h2m-2 6h2m-1 9h2m-2 4h2m-2 13h2m1-60h2m-2 3h2m-2 7h2m-1 29h2m-2 4h2m-2 4h2m-1-42h2m-2 38h2m-1-10h2m-2 5h2m-1-1h2m-2 8h2m-2 3h2m-1-24h2m0 13h2m1 20h2m-1-24h2m-1 32h2m-1-53h2m-2 19h2m-2 29h2m0-20h2m4 0h2"/><path d="M737 1051h2m1-31h2m-2 27h2m2-9h2m-1 16h2m-1-18h2m-2 17h2m-1-7h2m-1 4h2m-1 5h2m-1-11h2m-2 7h2m-2 3h2m-1-13h2m-2 9h2m-2 2h2m-1-5h2m-2 1h2m-2 1h2m-2 2h2m-1-12h2m-1-2h2m-2 2h2m-2 5h2m-2 4h2m-2 1h2m-2 5h2m-1-25h2m-2 13h2m-2 6h2m-2 2h2m-1-16h2m-2 7h2m-2 7h2m-2 13h2m-1-25h2m-2 8h2m-2 2h2m-2 2h2m-2 6h2m-2 2h2m-1-18h2m-2 2h2m-2 4h2m-2 2h2m-2 1h2m-2 2h2m-2 5h2m-1-14h2m-2 4h2m-2 3h2m-2 3h2m-2 9h2m-1-20h2m-2 1h2m-2 2h2m-2 4h2m-2 1h2m-2 2h2m-1-15h2m-2 1h2m-2 1h2m-2 5h2m-2 4h2m-2 3h2m-2 7h2m-1-19h2m-2 1h2m-2 1h2m-2 1h2m-2 1h2m-2 2h2m-2 5h2m-2 12h2m-1-30h2m-2 4h2m-2 6h2m-2 4h2m-1-19h2m-2 2h2m-2 11h2m-2 6h2m-2 7h2m-2 1h2m-2 7h2m-1-19h2m-2 2h2m-2 4h2m-2 3h2m-2 2h2m-2 6h2m-1-23h2m-2 3h2m-2 4h2m-2 1h2m-2 7h2m-2 1h2m-2 1h2m-1-20h2m-2 3h2m-2 7h2m-2 1h2m-2 1h2m-2 3h2m-2 2h2m-2 2h2m-2 2h2m-1-29h2m-2 14h2m-2 5h2m-2 1h2m-2 1h2m-2 1h2m-2 2h2m-2 2h2m-1-15h2m-2 3h2m-2 3h2m-2 2h2m-2 1h2m-2 1h2m-2 1h2m-2 2h2m-2 2h2m-2 12h2m-1-27h2m-2 9h2m-2 1h2m-2 4h2m-1-11h2m-2 6h2m-2 7h2m-1-58h2m-2 39h2m-2 9h2m-2 4h2m-2 2h2m-2 2h2m-2 4h2m-1-36h2m-2 14h2m-2 12h2m-1-29h2m-2 33h2m-2 3h2m-2 2h2m-1-27h2m-2 5h2m-2 4h2m-1 9h2m-2 3h2m-2 11h2m-1-26h2m-2 5h2m-2 6h2m-2 2h2m-2 9h2m-1-19h2m-2 2h2m-2 13h2m-2 1h2m-1-23h2m-2 11h2m-2 5h2m0-8h2m-2 1h2m-2 2h2m-2 4h2m-2 3h2m-2 2h2m-1-59h2m-2 23h2m-2 22h2m-2 14h2m-1-44h2m-2 32h2m-2 4h2m-1-47h2m-2 57h2m-1-74h2m-2 12h2m-1 45h2m-2 2h2m-2 6h2m-1-43h2m-2 10h2m-2 7h2m-1-21h2m-1-23h2m-2 36h2m-1-30h2m-2 32h2m-2 26h2m-1-4h2m-2 9h2m-1-16h2m-1-13h2m-2 31h2m-1-44h2m-2 30h2m-1-31h2m-2 4h2m-2 7h2m-2 33h2m-1-43h2m-2 6h2m-2 36h2m-1-48h2m-2 5h2m-2 30h2m-2 6h2m-2 3h2m-1-27h2m-2 9h2m-1-40h2m-2 19h2m-2 9h2m-2 14h2m-2 6h2m-2 14h2m-1-61h2m-2 39h2m-1-38h2m-2 44h2m-1-22h2m-1-18h2m-2 4h2m-2 38h2m-2 7h2m-1-40h2m-2 10h2m-2 6h2m-2 26h2m-2 4h2m-1-47h2m-2 14h2m-1-10h2m-1 1h2m-2 2h2m-2 6h2m0-3h2m-1 16h2m-2 4h2m-1-30h2m-1 24h2m-1-28h2m-1-23h2m-2 8h2m-2 30h2m-2 4h2m-2 9h2m0-21h2m-1 3h2m-2 14h2m-2 8h2m-1 5h2m-1-57h2m-1 15h2m-2 25h2m-1-19h2m-1 8h2m-2 2h2m-2 1h2m-2 4h2m-1-8h2m-2 1h2m-1 1h2m-2 8h2m-1 12h2m-1 3h2m0-40h2m-2 29h2m0-25h2m-2 39h2m-2 15h2m0-31h2m-1-39h2m1 70h2m-1-40h2m2-17h2"/><path d="M739 1056h2m-2 6h2m1-17h2m-2 3h2m0-9h2m-2 7h2m-1-2h2m0 5h2m-1 1h2m-2 1h2m-2 4h2m-1-30h2m-2 23h2m-2 5h2m0-11h2m-2 1h2m-2 3h2m-2 1h2m-2 1h2m-1-22h2m-2 30h2m-1-16h2m-2 3h2m-2 9h2m-1-15h2m-2 5h2m-1-4h2m-2 10h2m-1-15h2m-2 10h2m-2 6h2m-1-16h2m-2 3h2m-2 2h2m-2 3h2m-2 11h2m-1-14h2m-2 3h2m-2 1h2m-2 3h2m-2 1h2m-2 6h2m-2 2h2m-1-19h2m-2 8h2m-2 1h2m-2 1h2m-2 3h2m-2 2h2m-1-11h2m-2 2h2m-2 5h2m-2 2h2m-2 3h2m-1-19h2m-2 3h2m-2 1h2m-2 3h2m-2 1h2m-2 1h2m-2 2h2m-2 16h2m-1-28h2m-2 9h2m-2 1h2m-2 11h2m-2 1h2m-2 1h2m-1-26h2m-2 10h2m-2 1h2m-2 2h2m-2 3h2m-2 2h2m-2 1h2m-2 2h2m-2 1h2m-2 1h2m-1-15h2m-2 5h2m-2 15h2m-1-22h2m-2 1h2m-2 1h2m-2 1h2m-2 2h2m-2 2h2m-2 2h2m-2 10h2m-1-18h2m-2 3h2m-2 1h2m-2 4h2m-2 1h2m-2 6h2m-1-19h2m-2 2h2m-2 3h2m-2 4h2m-2 1h2m-2 3h2m-2 10h2m-1-14h2m-2 3h2m-2 5h2m-1-20h2m-2 14h2m-2 5h2m-1-28h2m-2 9h2m-2 1h2m-2 3h2m-2 3h2m-2 2h2m-2 1h2m-2 1h2m-2 1h2m-2 2h2m-2 3h2m-2 1h2m-2 2h2m-1-13h2m-2 6h2m-2 4h2m-1-5h2m-2 2h2m-2 9h2m-2 10h2m-1-28h2m-2 8h2m-2 1h2m-2 8h2m-1-18h2m-2 11h2m-2 3h2m-1-14h2m-2 7h2m-2 1h2m-2 6h2m-2 1h2m-1-7h2m-2 2h2m-2 2h2m-2 3h2m-2 1h2m-1-44h2m-2 31h2m-2 11h2m-1-15h2m-1 3h2m-2 3h2m-2 3h2m-2 8h2m0-9h2m-2 6h2m-1-12h2m-2 11h2m-2 13h2m-2 13h2m-1-49h2m-2 5h2m-2 12h2m-2 7h2m-2 4h2m-1-18h2m-2 4h2m-2 6h2m-2 3h2m-1-76h2m-2 35h2m-2 15h2m-2 18h2m-2 1h2m-2 7h2m-2 3h2m0-25h2m-2 13h2m-2 4h2m-1-39h2m-2 19h2m-1-17h2m-2 21h2m-2 9h2m-2 5h2m-1-24h2m-2 11h2m-1-39h2m-2 4h2m-2 35h2m0-39h2m-2 32h2m-2 9h2m-1-20h2m-2 33h2m-1-47h2m-2 30h2m-1-34h2m-2 50h2m-1-30h2m-2 18h2m-1-34h2m-2 19h2m-1-39h2m-2 12h2m-2 13h2m-2 6h2m-2 1h2m-1-19h2m-2 17h2m-2 8h2m-2 1h2m-1-34h2m-1 29h2m-2 4h2m-1-12h2m-2 12h2m-2 1h2m-1-19h2m-2 3h2m-2 21h2m-2 5h2m-1-36h2m-2 15h2m-1-13h2m-2 23h2m0-6h2m-2 14h2m-1-43h2m-2 26h2m-2 3h2m-2 17h2m-2 10h2m-2 7h2m-1-62h2m-2 21h2m-2 4h2m-1-13h2m-2 8h2m-2 18h2m-1-34h2m-2 13h2m-2 14h2m-2 3h2m0-20h2m-2 19h2m-2 8h2m-1-35h2m-2 1h2m-1 40h2m-1-3h2m-1-59h2m-2 33h2m-2 3h2m-1 9h2m-2 20h2m-1-39h2m-2 14h2m-2 23h2m1-52h2m-2 19h2m-2 14h2m-1-15h2m-2 18h2m-1-24h2m-2 18h2m-1-4h2m-2 11h2m-1-36h2m-2 22h2m-2 17h2m-1-37h2m0 28h2m-1-11h2"/><path d="M732 974h2m3 79h2m0 12h2m0-18h2m-2 6h2m1-8h2m-2 14h2m0-5h2m-1-7h2m-2 1h2m-1-7h2m-2 5h2m-2 1h2m-2 2h2m-1-6h2m-2 5h2m-2 2h2m-1 4h2m-2 2h2m-1-18h2m-2 8h2m-2 5h2m-2 3h2m-1-13h2m-2 2h2m-2 6h2m-1 1h2m-1-11h2m-2 11h2m-2 3h2m-2 1h2m-1-18h2m-2 12h2m-2 1h2m-2 1h2m-2 1h2m-2 11h2m-1-21h2m-2 2h2m-2 4h2m-2 1h2m-2 8h2m-1-19h2m-2 1h2m-2 13h2m-1-14h2m-2 5h2m-2 9h2m-1-16h2m-2 4h2m-2 6h2m-2 1h2m-2 3h2m-1-18h2m-2 8h2m-2 6h2m-2 1h2m-2 2h2m-2 4h2m-1-14h2m-2 7h2m-2 6h2m-2 2h2m-2 11h2m-1-35h2m-2 5h2m-2 3h2m-2 4h2m-2 4h2m-2 1h2m-2 2h2m-1-15h2m-2 2h2m-2 2h2m-2 2h2m-2 2h2m-2 2h2m-2 2h2m-2 5h2m-2 2h2m-1-70h2m-2 50h2m-2 5h2m-2 7h2m-2 2h2m-2 11h2m-1-31h2m-2 7h2m-2 3h2m-2 2h2m-2 2h2m-2 1h2m-2 6h2m-2 1h2m-2 4h2m-2 5h2m-1-23h2m-2 7h2m-2 8h2m-2 6h2m-1-18h2m-2 3h2m-2 9h2m-2 8h2m-1-24h2m-2 4h2m-2 2h2m-2 1h2m-2 1h2m-2 1h2m-2 1h2m-2 1h2m-2 1h2m-2 2h2m-2 1h2m-2 7h2m-1-23h2m-2 1h2m-2 7h2m-2 4h2m-2 10h2m-1-13h2m-2 3h2m-2 2h2m-2 11h2m-1-22h2m-2 4h2m-2 3h2m-2 1h2m-2 1h2m-2 1h2m-1-47h2m-2 36h2m-2 3h2m-2 5h2m-2 2h2m-2 7h2m-1-22h2m-2 13h2m-2 1h2m-2 1h2m-1-1h2m-1-11h2m-2 3h2m-2 6h2m-2 5h2m-1-9h2m-1-6h2m-2 1h2m-2 8h2m-2 1h2m-2 2h2m-2 3h2m-1-42h2m-2 22h2m-2 6h2m-2 1h2m-2 8h2m-2 2h2m-2 6h2m-1-20h2m-2 20h2m-2 4h2m-1-38h2m-2 15h2m-2 7h2m-2 5h2m-2 1h2m-1-34h2m-2 29h2m-2 1h2m-2 11h2m-1-18h2m-1 12h2m-1 3h2m-1-55h2m-2 37h2m-2 4h2m-2 7h2m-2 4h2m-1-48h2m-1-14h2m-2 61h2m0-63h2m-2 18h2m-2 15h2m-2 11h2m-2 14h2m-1-47h2m-2 12h2m-2 2h2m-2 21h2m-1-22h2m-1 7h2m-2 13h2m-1-37h2m-2 36h2m0-21h2m-2 24h2m-2 15h2m-1-20h2m0-35h2m-2 5h2m-2 8h2m-2 8h2m-2 7h2m-2 24h2m-1-64h2m-2 13h2m-2 21h2m-2 1h2m-2 10h2m-2 16h2m-1-41h2m-2 8h2m-1 0h2m-2 19h2m-1-56h2m-2 44h2m-2 4h2m-1 4h2m-2 5h2m-2 1h2m-1-37h2m-2 25h2m-1-19h2m-2 9h2m-1-15h2m-2 39h2m-1-19h2m-2 12h2m-1-38h2m-2 14h2m-1 8h2m-2 8h2m-1-42h2m-2 32h2m-2 2h2m-2 1h2m-2 3h2m-2 21h2m-1 18h2m-1-53h2m-2 3h2m-2 8h2m-2 12h2m-1-13h2m-2 1h2m-2 26h2m-1-47h2m-2 15h2m-1-32h2m-2 20h2m-2 12h2m0-16h2m-2 13h2m-2 9h2m0-1h2m-1-6h2m0 6h2m0-19h2m-1-3h2m-2 17h2m-1-23h2m-2 12h2m-2 5h2m-2 10h2m-2 1h2m-1 10h2m-1-23h2m0-14h2m-2 32h2m0 13h2m0-16h2"/><path d="M732 1049h2m2 1h2m0 6h2m0-7h2m-1-1h2m0-3h2m-2 2h2m0-3h2m-1-11h2m-2 3h2m-1 20h2m-2 2h2m-1-13h2m-2 6h2m-2 7h2m-1 2h2m-1-18h2m-2 3h2m-2 1h2m-2 3h2m-1-4h2m-2 6h2m-1-5h2m-2 4h2m-1-12h2m-1 0h2m-2 2h2m-2 5h2m-2 4h2m-1-9h2m-2 5h2m-2 5h2m-1-1h2m-2 4h2m-2 3h2m-1-26h2m-2 5h2m-2 2h2m-2 1h2m-2 2h2m-2 1h2m-2 2h2m-2 6h2m-2 1h2m-2 3h2m-1-17h2m-2 1h2m-2 5h2m-2 5h2m-2 1h2m-2 1h2m-2 4h2m-1-21h2m-2 2h2m-2 8h2m-2 9h2m-2 3h2m-1-14h2m-2 3h2m-2 3h2m-1-20h2m-2 13h2m-2 5h2m-1-7h2m-2 1h2m-2 3h2m-2 2h2m-2 2h2m-2 1h2m-2 4h2m-2 1h2m-2 5h2m-1-22h2m-2 2h2m-2 4h2m-2 2h2m-2 1h2m-2 1h2m-2 3h2m-2 2h2m-2 1h2m-2 1h2m-2 1h2m-1-12h2m-2 1h2m-2 2h2m-2 3h2m-2 2h2m-2 7h2m-1-17h2m-2 1h2m-2 1h2m-2 7h2m-2 2h2m-1-66h2m-2 52h2m-2 4h2m-2 2h2m-2 1h2m-1-9h2m-2 4h2m-2 2h2m-2 1h2m-2 1h2m-2 6h2m-2 1h2m-2 1h2m-1-11h2m-2 1h2m-2 5h2m-2 1h2m-2 3h2m-1-10h2m-2 4h2m-1-80h2m-2 70h2m-2 6h2m-2 1h2m-2 6h2m-2 1h2m-2 4h2m-2 4h2m-1-20h2m-2 4h2m-2 1h2m-2 1h2m-2 5h2m-2 1h2m-2 6h2m-1-15h2m-2 1h2m-2 3h2m-2 9h2m-2 1h2m-1-14h2m-2 1h2m-2 1h2m-2 2h2m-2 4h2m-2 1h2m-2 2h2m-2 3h2m-1-20h2m-2 13h2m-1-16h2m-2 19h2m-2 1h2m-1-21h2m-2 6h2m-2 5h2m-2 7h2m-2 2h2m-1-29h2m-2 8h2m-2 14h2m-2 1h2m-2 3h2m-2 6h2m-1-68h2m-2 55h2m-2 2h2m-2 14h2m-1-42h2m-2 24h2m-2 10h2m-2 9h2m-1-42h2m-2 22h2m-2 8h2m-1-50h2m-2 25h2m-2 20h2m-2 23h2m-1-25h2m-2 10h2m-1-29h2m-2 17h2m-2 1h2m-2 2h2m-2 7h2m-1-32h2m0 18h2m-2 22h2m-1-16h2m-1-28h2m-2 5h2m-2 3h2m-1-44h2m0 33h2m-2 7h2m-1-29h2m-2 42h2m-1-47h2m-2 17h2m-2 19h2m-2 1h2m0 1h2m-1 14h2m-1-49h2m-2 51h2m-2 17h2m-1-56h2m-1 5h2m-2 19h2m-2 5h2m-2 7h2m-2 13h2m0-56h2m-2 3h2m-2 3h2m-2 2h2m-2 22h2m-2 3h2m-1-34h2m-2 22h2m-2 2h2m-1 3h2m-1-37h2m-1 7h2m-2 4h2m-2 15h2m-2 2h2m0-31h2m-2 16h2m-2 15h2m-1-30h2m-2 5h2m-2 25h2m-2 2h2m-2 7h2m-1-48h2m-2 53h2m-1-29h2m-2 10h2m-2 11h2m-2 24h2m-1-41h2m-2 12h2m-1-20h2m-2 12h2m-1-25h2m-2 14h2m-2 42h2m-1-39h2m-2 11h2m-1-10h2m-2 16h2m-2 13h2m-1-20h2m-2 12h2m-2 11h2m-1-37h2m-2 14h2m-2 12h2m-1-10h2m-2 1h2m-2 19h2m-1-40h2m-2 2h2m-2 21h2m-2 13h2m-2 5h2m-1-46h2m0 45h2m0-19h2m-2 11h2m1-20h2m1 4h2m-1-26h2m-2 42h2m0-37h2m0-4h2m1 14h2m-2 29h2m-1-10h2"/><path d="M736 1051h2m3-14h2m-1 23h2m0-7h2m-1-15h2m-1 16h2m-1-10h2m-2 13h2m-1-55h2m-1 42h2m-2 1h2m-2 1h2m-2 5h2m-2 5h2m-1-9h2m-2 5h2m-1-5h2m-1-4h2m-2 4h2m-2 1h2m-2 2h2m-1 1h2m-2 5h2m-1-30h2m-2 13h2m-2 16h2m-1-20h2m-2 8h2m-2 2h2m-2 2h2m-2 1h2m-2 1h2m-2 1h2m-1-16h2m-2 2h2m-2 6h2m-2 11h2m-1 2h2m-1-24h2m-2 7h2m-2 7h2m-2 3h2m-1-14h2m-2 1h2m-2 5h2m-2 1h2m-2 7h2m-2 2h2m-2 5h2m-2 6h2m-1-22h2m-2 1h2m-2 1h2m-2 1h2m-2 1h2m-2 1h2m-2 9h2m-2 2h2m-2 4h2m-1-23h2m-2 2h2m-2 2h2m-2 1h2m-2 2h2m-2 1h2m-2 1h2m-2 1h2m-2 1h2m-1-16h2m-2 6h2m-2 1h2m-2 1h2m-2 6h2m-2 5h2m-1-59h2m-2 44h2m-2 4h2m-2 2h2m-2 7h2m-1-9h2m-2 1h2m-2 3h2m-2 1h2m-2 3h2m-2 2h2m-2 1h2m-2 5h2m-1-28h2m-2 3h2m-2 9h2m-2 3h2m-2 2h2m-2 7h2m-1-27h2m-2 6h2m-2 8h2m-2 1h2m-2 2h2m-2 5h2m-2 8h2m-1-21h2m-2 4h2m-2 1h2m-2 4h2m-2 7h2m-2 5h2m-1-22h2m-2 9h2m-2 1h2m-2 1h2m-2 12h2m-1-17h2m-2 1h2m-2 1h2m-2 3h2m-2 6h2m-1-17h2m-2 6h2m-2 3h2m-2 7h2m-2 1h2m-1-23h2m-2 3h2m-2 9h2m-2 5h2m-2 5h2m-1-15h2m-2 2h2m-2 2h2m-2 2h2m-2 10h2m-2 4h2m-1-18h2m-2 5h2m-2 1h2m-2 8h2m-1-27h2m-2 13h2m-2 1h2m-2 4h2m-2 1h2m-2 1h2m-2 1h2m-2 1h2m-2 1h2m-1-15h2m-2 7h2m-2 2h2m-2 1h2m-2 1h2m-2 4h2m-1-26h2m-2 17h2m-2 8h2m-1-38h2m-2 32h2m-2 5h2m-1-8h2m-1-24h2m-2 12h2m-2 7h2m-2 13h2m-2 6h2m-2 3h2m-1-40h2m-2 9h2m-2 25h2m-1-14h2m-1-21h2m-2 25h2m0-57h2m-2 9h2m-2 23h2m-2 19h2m-1 11h2m-1-16h2m-2 3h2m-2 4h2m-1-45h2m-2 44h2m-1 8h2m-1-27h2m-2 19h2m-1-20h2m-2 13h2m-2 18h2m-1-28h2m-1-44h2m-2 36h2m-2 30h2m-1-36h2m-2 9h2m-2 6h2m0-8h2m-1 0h2m-2 9h2m-2 17h2m-1-57h2m-2 39h2m-1-35h2m-2 6h2m-2 11h2m0-21h2m-1 18h2m-1 10h2m-1-13h2m-1-10h2m-2 18h2m-2 5h2m-2 12h2m-1-26h2m-2 1h2m-1-20h2m-2 28h2m-2 5h2m0-15h2m-2 12h2m-2 15h2m-1-17h2m-2 20h2m-2 1h2m-1-42h2m-2 45h2m-1-40h2m-1 0h2m0 13h2m-2 16h2m-1-36h2m-1 14h2m-1 24h2m-2 21h2m-1-52h2m-2 1h2m-2 5h2m-2 4h2m-2 9h2m-1-28h2m-2 10h2m-2 14h2m-1-18h2m-2 28h2m-2 12h2m-1-29h2m-2 9h2m-1 6h2m-2 8h2m-2 4h2m-1-43h2m-2 3h2m-2 5h2m-2 27h2m-2 10h2m-1-4h2m0-27h2m-2 11h2m-2 7h2m-2 13h2m-1-5h2m-1-27h2m-2 35h2m-1-30h2m0 12h2m-2 15h2m0-43h2m-1 8h2m-2 4h2m0 6h2m-1-30h2m-1 29h2m-2 4h2m-1-25h2"/><path d="M739 1042h2m1 0h2m-2 3h2m0 14h2m0-9h2m-2 13h2m-1-23h2m-2 8h2m-2 12h2m0-13h2m-1-11h2m-2 8h2m-2 2h2m-2 1h2m-1-5h2m-2 1h2m-2 3h2m-1-1h2m-2 2h2m-2 6h2m-2 1h2m-1-7h2m-2 3h2m-2 1h2m-1-12h2m-2 1h2m-2 3h2m-2 1h2m-2 3h2m-2 1h2m-2 3h2m-1-15h2m-2 2h2m-2 14h2m-1-15h2m-2 14h2m-1-18h2m-2 9h2m-2 2h2m-2 1h2m-2 3h2m-2 3h2m-1-7h2m-2 2h2m-2 3h2m-1-13h2m-2 5h2m-2 2h2m-2 2h2m-2 4h2m-2 7h2m-2 2h2m-1-28h2m-2 11h2m-2 8h2m-2 6h2m-2 1h2m-1-20h2m-2 2h2m-2 1h2m-2 9h2m-2 1h2m-2 2h2m-1-13h2m-2 5h2m-2 3h2m-2 4h2m-2 4h2m-2 3h2m-1-42h2m-2 20h2m-2 5h2m-2 5h2m-2 3h2m-1-17h2m-2 9h2m-2 2h2m-2 4h2m-2 2h2m-2 3h2m-1-15h2m-2 3h2m-2 1h2m-2 1h2m-2 1h2m-2 1h2m-2 5h2m-2 2h2m-1-19h2m-2 3h2m-2 7h2m-2 5h2m-2 2h2m-2 1h2m-2 6h2m-1-80h2m-2 64h2m-2 3h2m-2 9h2m-2 1h2m-2 5h2m-1-26h2m-2 3h2m-2 2h2m-2 4h2m-2 1h2m-2 1h2m-2 5h2m-2 3h2m-1-29h2m-2 14h2m-2 2h2m-2 5h2m-2 4h2m-2 11h2m-1-19h2m-2 1h2m-2 1h2m-2 1h2m-2 6h2m-1-12h2m-2 13h2m-2 6h2m-2 1h2m-1-17h2m-2 2h2m-2 1h2m-2 2h2m-2 8h2m-1-72h2m-2 55h2m-2 8h2m-2 3h2m-2 3h2m-2 2h2m-2 1h2m-2 2h2m-1-30h2m-2 19h2m-2 3h2m-2 1h2m-1-6h2m-2 1h2m-2 2h2m-2 2h2m-2 3h2m-2 2h2m-1-12h2m-2 12h2m-1-24h2m-2 8h2m-2 4h2m-2 1h2m-2 4h2m-2 2h2m-1-11h2m-2 7h2m-2 1h2m-2 2h2m-1-36h2m-2 16h2m-2 2h2m-2 12h2m-2 1h2m-2 1h2m-2 3h2m-1-24h2m-2 5h2m-2 7h2m-2 5h2m-2 5h2m-1-23h2m-2 7h2m-2 2h2m-2 7h2m-2 1h2m-2 2h2m-2 1h2m-1-41h2m-2 43h2m-1-44h2m-1 42h2m-2 17h2m-1-32h2m-1 4h2m-2 3h2m1-17h2m-2 4h2m-2 4h2m-2 7h2m-1-36h2m0 2h2m-2 46h2m-1-15h2m-1-64h2m-2 5h2m-2 20h2m-2 11h2m-2 13h2m-2 4h2m-1-5h2m-1 0h2m-2 4h2m-2 14h2m-1-64h2m-2 19h2m-2 23h2m-2 14h2m-1-23h2m-2 35h2m-1-53h2m-2 5h2m-2 22h2m-2 7h2m-1-28h2m-2 3h2m-2 20h2m-2 15h2m-1-52h2m-2 23h2m-2 11h2m-2 4h2m-2 4h2m-2 10h2m-1-58h2m-1 23h2m-2 37h2m-2 2h2m-1-57h2m-1 15h2m-2 10h2m-1-13h2m-2 37h2m-1-18h2m-2 1h2m-2 15h2m0-20h2m-2 27h2m-2 17h2m-1-68h2m-2 4h2m-2 2h2m-2 4h2m-2 37h2m-1-28h2m-1-10h2m-2 14h2m-2 16h2m-2 8h2m-1-41h2m-2 13h2m-2 3h2m-2 6h2m-2 32h2m-1-40h2m-2 10h2m-2 3h2m-2 3h2m-2 3h2m-2 1h2m-1-15h2m-2 6h2m-2 22h2m2-25h2m-1 2h2m-2 43h2m1-58h2m-2 16h2m1-24h2m-2 19h2m-1-29h2m0 23h2m4 17h2m-1-9h2m-1-7h2"/><path d="M738 1056h2m2-6h2m-2 3h2m-1-4h2m-2 6h2m0-6h2m-2 6h2m-1-18h2m-1 4h2m0 5h2m-2 3h2m-2 4h2m-2 2h2m-2 1h2m-2 2h2m-1-14h2m-2 12h2m-2 4h2m-2 6h2m-1-11h2m-1-19h2m-2 22h2m-1-24h2m-2 13h2m-2 1h2m-2 5h2m-2 8h2m-1-23h2m-2 3h2m-2 3h2m-2 3h2m-2 1h2m-2 1h2m-2 1h2m-1-13h2m-2 3h2m-2 5h2m-2 1h2m-1-5h2m-2 3h2m-2 5h2m-2 6h2m-2 8h2m-1-17h2m-2 1h2m-2 3h2m-2 2h2m-2 1h2m-1-19h2m-2 9h2m-2 1h2m-2 3h2m-2 1h2m-2 4h2m-1-21h2m-2 13h2m-2 2h2m-2 1h2m-2 4h2m-2 1h2m-1-12h2m-2 6h2m-2 2h2m-2 5h2m-1-23h2m-2 3h2m-2 6h2m-2 2h2m-2 3h2m-2 1h2m-2 11h2m-1-22h2m-2 5h2m-2 4h2m-2 2h2m-2 1h2m-1-21h2m-2 16h2m-2 2h2m-2 3h2m-2 2h2m-2 1h2m-2 8h2m-1-22h2m-2 1h2m-2 4h2m-2 7h2m-2 1h2m-2 1h2m-2 1h2m-1 2h2m-2 2h2m-1-28h2m-2 10h2m-2 1h2m-2 3h2m-2 1h2m-2 2h2m-2 3h2m-1-7h2m-2 1h2m-2 1h2m-2 3h2m-1-7h2m-2 2h2m-2 2h2m-2 3h2m-2 1h2m-2 3h2m-2 1h2m-2 5h2m-1-31h2m-2 2h2m-2 5h2m-2 2h2m-2 1h2m-2 6h2m-2 7h2m-2 1h2m-2 1h2m-2 1h2m-1-19h2m-2 7h2m-2 1h2m-2 4h2m-2 2h2m-2 1h2m-2 1h2m-1-17h2m-2 16h2m-2 1h2m-2 10h2m-1-19h2m-2 15h2m-1-1h2m-2 2h2m-1-55h2m-2 13h2m-2 21h2m-2 5h2m-2 2h2m-2 3h2m-2 3h2m-1-25h2m-2 8h2m-2 5h2m-2 1h2m-2 6h2m-2 1h2m-2 2h2m-2 1h2m-1-11h2m-2 4h2m-2 3h2m-2 10h2m-1-21h2m-2 4h2m-2 3h2m-2 9h2m-2 1h2m-1-26h2m-2 15h2m-2 2h2m-2 3h2m-2 8h2m-1-37h2m-2 27h2m-2 3h2m-1-25h2m-2 13h2m-2 9h2m-2 1h2m-1-19h2m-2 26h2m-2 1h2m-1-39h2m-2 30h2m-2 4h2m-1-65h2m-2 58h2m-2 5h2m-2 5h2m-1-37h2m-2 23h2m-2 10h2m-2 15h2m-1-8h2m-1-5h2m-1-44h2m-2 11h2m-2 19h2m-2 9h2m-2 8h2m-1-44h2m-2 24h2m-2 9h2m-2 6h2m1-32h2m-2 1h2m-2 12h2m-1-25h2m-2 14h2m-2 23h2m-1-38h2m-2 17h2m-1 11h2m-1-11h2m-1-28h2m-2 40h2m-1-35h2m-2 3h2m-1 29h2m-1-31h2m-2 32h2m-1 5h2m-1-49h2m-2 31h2m-1-24h2m-2 26h2m-1-18h2m-2 10h2m-2 4h2m-2 13h2m-1-32h2m-2 16h2m-2 26h2m-1-46h2m-1 11h2m-2 8h2m-2 8h2m-1-27h2m-2 1h2m-2 6h2m-2 14h2m-1-19h2m-2 14h2m-1-24h2m-2 21h2m-1-15h2m-2 8h2m-2 25h2m-2 11h2m-1-22h2m-2 14h2m-1-35h2m-2 15h2m-1-6h2m-2 1h2m-2 5h2m-2 11h2m-1-22h2m-2 16h2m-1-11h2m-2 18h2m-1-20h2m-2 80h2m-1-83h2m-1-7h2m-2 79h2m-1-59h2m-2 36h2m-1-47h2m-2 2h2m-2 19h2m-1-32h2m-2 28h2m-2 4h2m-1-22h2m-1-9h2m-2 23h2m-2 12h2m0-48h2m-2 23h2m-1-2h2m-2 3h2m-2 18h2m-1-8h2m0 0h2m2 6h2m0-12h2"/></g><rect x="360.50" y="479.40" width="62.00" height="58.20" fill="none" stroke="#3a3a3a" stroke-width="0.9"/><line x1="395.60" y1="479.40" x2="395.60" y2="537.60" stroke="#3a3a3a" stroke-width="0.85"/><line x1="360.50" y1="513.40" x2="422.50" y2="513.40" stroke="#3a3a3a" stroke-width="0.85"/><ellipse cx="387.0" cy="508.5" rx="1.3" ry="0.9" fill="#333" opacity="0.8"/><ellipse cx="402.0" cy="508.5" rx="1.3" ry="0.9" fill="#333" opacity="0.8"/><ellipse cx="402.0" cy="521.0" rx="1.3" ry="0.9" fill="#333" opacity="0.8"/><text x="363.7" y="485.7" font-size="4.3" text-anchor="start" font-weight="normal" fill="#333" stroke="#333" stroke-width="0.05" >DMSO</text><line x1="358.90" y1="485.90" x2="360.50" y2="485.90" stroke="#555" stroke-width="0.6"/><text x="356.5" y="487.3" font-size="3.8" text-anchor="end" fill="#666">10<tspan font-size="2.6" dy="-1.4">3</tspan></text><line x1="358.90" y1="500.40" x2="360.50" y2="500.40" stroke="#555" stroke-width="0.6"/><text x="356.5" y="501.8" font-size="3.8" text-anchor="end" fill="#666">10<tspan font-size="2.6" dy="-1.4">2</tspan></text><line x1="358.90" y1="514.90" x2="360.50" y2="514.90" stroke="#555" stroke-width="0.6"/><text x="356.5" y="516.3" font-size="3.8" text-anchor="end" fill="#666">10<tspan font-size="2.6" dy="-1.4">1</tspan></text><line x1="358.90" y1="529.40" x2="360.50" y2="529.40" stroke="#555" stroke-width="0.6"/><text x="356.5" y="530.8" font-size="3.8" text-anchor="end" fill="#666">10<tspan font-size="2.6" dy="-1.4">0</tspan></text><line x1="369.00" y1="537.60" x2="369.00" y2="539.00" stroke="#555" stroke-width="0.6"/><text x="369.0" y="545.0" font-size="3.8" text-anchor="middle" fill="#666">10<tspan font-size="2.6" dy="-1.4">0</tspan></text><line x1="384.50" y1="537.60" x2="384.50" y2="539.00" stroke="#555" stroke-width="0.6"/><text x="384.5" y="545.0" font-size="3.8" text-anchor="middle" fill="#666">10<tspan font-size="2.6" dy="-1.4">1</tspan></text><line x1="400.00" y1="537.60" x2="400.00" y2="539.00" stroke="#555" stroke-width="0.6"/><text x="400.0" y="545.0" font-size="3.8" text-anchor="middle" fill="#666">10<tspan font-size="2.6" dy="-1.4">2</tspan></text><line x1="415.50" y1="537.60" x2="415.50" y2="539.00" stroke="#555" stroke-width="0.6"/><text x="415.5" y="545.0" font-size="3.8" text-anchor="middle" fill="#666">10<tspan font-size="2.6" dy="-1.4">3</tspan></text><line x1="373.67" y1="536.50" x2="373.67" y2="537.60" stroke="#666" stroke-width="0.4"/><line x1="376.40" y1="536.50" x2="376.40" y2="537.60" stroke="#666" stroke-width="0.4"/><line x1="378.33" y1="536.50" x2="378.33" y2="537.60" stroke="#666" stroke-width="0.4"/><line x1="379.83" y1="536.50" x2="379.83" y2="537.60" stroke="#666" stroke-width="0.4"/><line x1="381.06" y1="536.50" x2="381.06" y2="537.60" stroke="#666" stroke-width="0.4"/><line x1="382.10" y1="536.50" x2="382.10" y2="537.60" stroke="#666" stroke-width="0.4"/><line x1="383.00" y1="536.50" x2="383.00" y2="537.60" stroke="#666" stroke-width="0.4"/><line x1="383.79" y1="536.50" x2="383.79" y2="537.60" stroke="#666" stroke-width="0.4"/><line x1="389.17" y1="536.50" x2="389.17" y2="537.60" stroke="#666" stroke-width="0.4"/><line x1="391.90" y1="536.50" x2="391.90" y2="537.60" stroke="#666" stroke-width="0.4"/><line x1="393.83" y1="536.50" x2="393.83" y2="537.60" stroke="#666" stroke-width="0.4"/><line x1="395.33" y1="536.50" x2="395.33" y2="537.60" stroke="#666" stroke-width="0.4"/><line x1="396.56" y1="536.50" x2="396.56" y2="537.60" stroke="#666" stroke-width="0.4"/><line x1="397.60" y1="536.50" x2="397.60" y2="537.60" stroke="#666" stroke-width="0.4"/><line x1="398.50" y1="536.50" x2="398.50" y2="537.60" stroke="#666" stroke-width="0.4"/><line x1="399.29" y1="536.50" x2="399.29" y2="537.60" stroke="#666" stroke-width="0.4"/><line x1="404.67" y1="536.50" x2="404.67" y2="537.60" stroke="#666" stroke-width="0.4"/><line x1="407.40" y1="536.50" x2="407.40" y2="537.60" stroke="#666" stroke-width="0.4"/><line x1="409.33" y1="536.50" x2="409.33" y2="537.60" stroke="#666" stroke-width="0.4"/><line x1="410.83" y1="536.50" x2="410.83" y2="537.60" stroke="#666" stroke-width="0.4"/><line x1="412.06" y1="536.50" x2="412.06" y2="537.60" stroke="#666" stroke-width="0.4"/><line x1="413.10" y1="536.50" x2="413.10" y2="537.60" stroke="#666" stroke-width="0.4"/><line x1="414.00" y1="536.50" x2="414.00" y2="537.60" stroke="#666" stroke-width="0.4"/><line x1="414.79" y1="536.50" x2="414.79" y2="537.60" stroke="#666" stroke-width="0.4"/><text x="419.5" y="554.6" font-size="5.6" text-anchor="end" font-weight="normal" fill="#222" stroke="#222" stroke-width="0.1" >24,7%</text><text x="392.5" y="473.3" font-size="10" text-anchor="middle" font-weight="normal" fill="#111" stroke="#111" stroke-width="0.12" >L428</text><g transform="scale(0.5)" stroke="#000" stroke-width="1.6" stroke-opacity="0.22" filter="url(#fb)"><path d="M882 1065h2m-1-12h2m-1 13h2m-1 2h2m-1-5h2m-1-13h2m-1-2h2m0 24h2m0-13h2m-1 11h2m-1-22h2m-2 6h2m-1 5h2m-2 5h2m-2 2h2m-1-8h2m-2 3h2m-1-5h2m-2 3h2m-2 1h2m-2 2h2m-2 2h2m0-13h2m-2 3h2m-2 9h2m-1-12h2m-2 3h2m-2 4h2m-2 6h2m-1-14h2m-2 8h2m-2 1h2m-2 5h2m-1-15h2m-2 2h2m-2 2h2m-2 4h2m-2 2h2m-1-4h2m-2 8h2m-1-4h2m-1-79h2m-2 33h2m-2 40h2m-2 11h2m-1-12h2m-2 2h2m-1-8h2m-2 1h2m0 0h2m-2 2h2m-2 8h2m-2 4h2m-1-91h2m-2 76h2m-2 1h2m-2 7h2m-2 8h2m-1-8h2m-2 3h2m0-23h2m-1 17h2m-2 2h2m1-5h2m-2 5h2m-2 4h2m-1-34h2m-2 27h2m-2 5h2m-2 6h2m-1-2h2m-1-31h2m-1-13h2m1-1h2m-2 21h2m-1-11h2m-2 7h2m-1 14h2m-2 5h2m-1-30h2m-1 4h2m-2 12h2m-2 2h2m-2 1h2m-2 1h2m-2 11h2m1-34h2m-2 1h2m-2 34h2m-1-41h2m-2 18h2m0-11h2m-1-6h2m-1 1h2m-2 31h2m-1-40h2m-2 49h2m-2 1h2m-1-38h2m-2 1h2m-2 10h2m-1-13h2m-2 3h2m-2 20h2m-2 22h2m-1-48h2m-2 1h2m-1-4h2m-2 3h2m-2 15h2m-2 1h2m-1-12h2m-2 1h2m-1 6h2m-2 2h2m-2 36h2m-2 6h2m-1-62h2m-1 9h2m-2 1h2m-2 12h2m-2 16h2m-1-25h2m-2 55h2m-1-75h2m-2 12h2m-2 1h2m-2 2h2m-2 4h2m-2 39h2m-1-46h2m-2 4h2m-2 6h2m-2 9h2m-1 7h2m-1-30h2m-2 10h2m-2 1h2m-2 8h2m-2 14h2m-1-25h2m-2 4h2m-2 5h2m-1-12h2m-2 12h2m-2 23h2m-1-22h2m-2 1h2m-2 27h2m-2 1h2m-1-44h2m-2 9h2m-1-3h2m-2 2h2m-2 1h2m-2 7h2m-2 19h2m-2 3h2m-2 11h2m-1-38h2m-2 2h2m-2 24h2m-2 12h2m-1-50h2m-2 22h2m-2 23h2m-1-42h2m-2 38h2m0-36h2m-2 4h2m-2 1h2m-2 6h2m-1-12h2m-2 14h2m-2 36h2m-1-47h2m-2 2h2m-2 3h2m-2 26h2m-2 15h2m-1-46h2m-2 4h2m-2 11h2m-2 19h2m-1-33h2m-2 7h2m-2 12h2m0-11h2m-2 3h2m-2 25h2m-2 8h2m-1-23h2m-1-21h2m-2 15h2m-1-17h2m-2 3h2m-2 11h2m-2 35h2m-1 1h2m-1-34h2m-1 9h2m0-31h2m1 62h2m1-36h2m6 20h2m-1-2h2"/><path d="M881 1067h2m2 6h2m-1 0h2m-1-21h2m-2 11h2m-1-10h2m-2 6h2m-2 2h2m-1 8h2m-1 3h2m-1-9h2m-1 6h2m-1-7h2m-2 2h2m-2 3h2m-2 4h2m0-14h2m-2 1h2m-1-9h2m-2 1h2m-2 5h2m-2 13h2m-1-7h2m-2 5h2m-1-19h2m-2 17h2m-2 4h2m-2 5h2m-1-16h2m-2 1h2m-2 11h2m-1-13h2m-2 9h2m-1-13h2m-2 1h2m-2 2h2m-2 12h2m-1 0h2m-1-27h2m-1-24h2m-2 36h2m-2 11h2m-1-5h2m-2 9h2m-1-14h2m-2 14h2m1-3h2m-1-15h2m-2 6h2m-2 9h2m-1-1h2m-1-48h2m-2 41h2m-2 8h2m-2 6h2m-1-14h2m-2 2h2m-2 10h2m-1-8h2m-2 1h2m-2 2h2m-1-12h2m0-41h2m-2 37h2m-2 9h2m-1-42h2m-2 6h2m-2 42h2m-1-37h2m-2 33h2m-1-51h2m-2 16h2m-1 27h2m-2 2h2m-2 10h2m-1-12h2m-1-41h2m-2 35h2m-2 4h2m-1-32h2m-2 3h2m-2 2h2m-1-6h2m0 37h2m-1-37h2m-2 31h2m-1-2h2m-1 4h2m-1 2h2m0-33h2m-2 32h2m-1-63h2m-2 41h2m-2 3h2m-1-14h2m-2 37h2m0-36h2m-2 48h2m-1-53h2m-2 4h2m-2 12h2m-1-19h2m-1 5h2m-2 4h2m-2 5h2m-1-8h2m-2 3h2m-1-11h2m-2 5h2m-2 9h2m-1-5h2m-2 1h2m-2 5h2m-1-8h2m-2 3h2m-2 12h2m-2 9h2m-1-28h2m-2 8h2m-2 1h2m-2 31h2m-1-45h2m-2 8h2m-2 2h2m-1 6h2m-2 36h2m-1-40h2m-2 1h2m-2 51h2m-1-57h2m-2 4h2m-2 1h2m-2 2h2m-2 29h2m-1-29h2m-2 1h2m-2 1h2m-2 6h2m-2 28h2m-2 5h2m-2 2h2m-1-24h2m-2 5h2m-2 20h2m-1-54h2m-2 5h2m-2 2h2m-2 31h2m0-38h2m-2 5h2m-2 20h2m-2 8h2m-2 5h2m-2 9h2m-1-49h2m-2 9h2m-2 2h2m-2 1h2m-2 2h2m-2 32h2m-1-4h2m-2 10h2m-1-48h2m-1-2h2m-2 5h2m-2 16h2m-2 17h2m-1-29h2m-2 4h2m-2 37h2m-1-32h2m-1-11h2m-2 11h2m-2 3h2m-2 6h2m-2 4h2m-2 20h2m-1-46h2m-2 6h2m-2 6h2m-2 6h2m-2 22h2m0-27h2m-2 31h2m-2 5h2m-2 1h2m-1-55h2m-2 1h2m-2 3h2m-2 11h2m-2 48h2m0-53h2m-2 32h2m1 13h2m-1-46h2m-2 4h2m1-8h2m2 7h2m5 23h2m-1 3h2m-2 15h2m-1-67h2m2 35h2"/><path d="M883 1069h2m0-3h2m-2 6h2m1-10h2m0-4h2m-2 1h2m1 7h2m-2 7h2m-1-26h2m-2 23h2m-1-52h2m-2 42h2m-2 2h2m-1 0h2m0 2h2m-1-47h2m-2 5h2m-2 34h2m-2 7h2m-1-7h2m-2 3h2m-2 2h2m-2 1h2m-2 6h2m-1-54h2m-2 44h2m-1-10h2m-1 8h2m-2 2h2m-2 10h2m-2 1h2m-1-86h2m-2 57h2m-2 16h2m-2 7h2m-1-11h2m-2 1h2m-2 4h2m-1-46h2m-2 37h2m-2 11h2m-2 1h2m-1 2h2m-1-39h2m-1 25h2m-2 20h2m-1-9h2m-1-43h2m-2 30h2m-2 8h2m-1 0h2m-2 3h2m-2 8h2m0-48h2m-2 21h2m-2 1h2m-2 1h2m-1 16h2m-2 6h2m0-2h2m-1-95h2m-1 6h2m-2 41h2m-2 22h2m-2 35h2m-1-20h2m-1-39h2m-2 41h2m-2 2h2m-1-31h2m-2 16h2m-1-21h2m-2 30h2m-2 8h2m-2 5h2m-1-27h2m-2 19h2m-2 2h2m-1-22h2m-2 13h2m0-26h2m-2 9h2m-2 2h2m-1-12h2m-2 37h2m-1-39h2m-1 26h2m-2 2h2m-2 4h2m-1 5h2m-1-31h2m-2 29h2m-1-27h2m-1-11h2m-2 23h2m-2 21h2m-2 9h2m-1-58h2m-2 22h2m-2 30h2m0-35h2m-2 25h2m-1-37h2m-2 1h2m-2 4h2m-2 49h2m0-56h2m-2 10h2m-2 1h2m-2 25h2m-1-38h2m-2 2h2m-2 3h2m-2 10h2m-1-17h2m-2 4h2m-2 12h2m-1-5h2m-1-2h2m-1 33h2m-1-38h2m-2 1h2m-2 5h2m-2 9h2m-2 35h2m-1-44h2m-2 6h2m-1 3h2m-1-21h2m-2 11h2m-2 3h2m-2 1h2m-2 7h2m-2 33h2m-1-44h2m-2 27h2m-1-31h2m-2 3h2m-2 2h2m-2 1h2m-2 40h2m-2 9h2m-2 1h2m-1-50h2m-2 2h2m-2 3h2m-2 5h2m-1-21h2m-2 4h2m-2 6h2m-2 3h2m-2 21h2m-2 17h2m-1-48h2m-2 11h2m-2 39h2m-1-40h2m-2 44h2m-1-50h2m-2 7h2m-2 5h2m-2 17h2m-2 2h2m-2 12h2m-1 0h2m-1-47h2m-2 4h2m-2 10h2m-2 5h2m-2 8h2m-2 8h2m-1-23h2m-1-15h2m-2 10h2m-1 45h2m-1-38h2m-2 2h2m-2 19h2m-2 16h2m-2 7h2m-1-52h2m-1 43h2m-1-56h2m-2 3h2m-2 4h2m0 6h2m-2 2h2m-2 9h2m-2 20h2m-1 5h2m-1-33h2m-2 1h2m-2 1h2m-2 17h2m-2 5h2m-2 17h2m0 8h2m1-54h2m-1 42h2m0-5h2m2 2h2m-1 1h2"/><path d="M881 1064h2m-2 4h2m-1 0h2m-1-1h2m-1 6h2m1-5h2m-1-7h2m-2 7h2m-2 4h2m1-15h2m-1-3h2m-1 4h2m-2 9h2m-2 5h2m-1-11h2m-2 7h2m-1-17h2m-2 1h2m-1 14h2m-1-17h2m-2 12h2m-1-5h2m-1-2h2m-2 4h2m-2 4h2m-1-45h2m-2 29h2m-2 14h2m-2 4h2m-2 8h2m-1-11h2m-1-39h2m-2 34h2m-2 5h2m-1-18h2m-2 12h2m-2 6h2m-2 1h2m-1-5h2m-2 1h2m-2 1h2m-1-14h2m-2 8h2m-2 11h2m-1-13h2m-2 11h2m-2 4h2m-1-61h2m-2 57h2m-1-6h2m-2 1h2m-2 1h2m-2 2h2m-2 5h2m1-46h2m-1 38h2m-2 2h2m-1 4h2m0-11h2m-2 4h2m-1-12h2m-2 1h2m-1-32h2m-2 41h2m-2 10h2m-1-46h2m-2 5h2m-2 18h2m-2 2h2m-2 7h2m-1-33h2m-2 28h2m-2 3h2m-2 3h2m-2 10h2m-1-10h2m0-25h2m-1-4h2m-2 36h2m0-36h2m-1 11h2m-2 1h2m-2 6h2m-1-19h2m-2 26h2m0-36h2m-1 40h2m-1 11h2m-1-41h2m-1-19h2m-2 13h2m-2 51h2m-1-2h2m-1-50h2m0-7h2m-1 11h2m-2 1h2m-2 4h2m-2 1h2m-1-2h2m-2 5h2m-1-17h2m-2 19h2m-1-16h2m-2 7h2m-2 1h2m-2 1h2m-2 3h2m-2 20h2m-2 16h2m-1-42h2m-2 14h2m-2 8h2m-1-26h2m-2 11h2m-2 15h2m-1-32h2m-2 19h2m-1-18h2m-2 1h2m-2 13h2m-1-8h2m-2 10h2m-1-6h2m-2 3h2m-2 21h2m-2 18h2m-2 5h2m-1-53h2m-2 12h2m-2 3h2m-1-17h2m-2 5h2m-1-3h2m-2 4h2m-2 19h2m-2 19h2m-1-49h2m-2 2h2m-2 5h2m-2 1h2m-2 1h2m-2 4h2m-2 33h2m-1-32h2m-2 21h2m-1-32h2m-2 5h2m-2 4h2m-2 19h2m-2 20h2m-2 1h2m-2 2h2m-1-50h2m-2 14h2m-2 35h2m-1-48h2m-2 4h2m-2 2h2m-2 1h2m-2 38h2m0-47h2m-2 4h2m-2 14h2m-2 19h2m-1-35h2m-2 4h2m-2 6h2m-1-21h2m-2 13h2m-2 14h2m-2 21h2m-1-36h2m-2 10h2m-2 5h2m-1-14h2m-2 13h2m-2 6h2m0-20h2m-1 5h2m0-3h2m-2 10h2m-2 3h2m-2 13h2m-2 3h2m-1-8h2m-2 12h2m-2 13h2m-2 6h2m-1-58h2m-2 56h2m-1-56h2m-2 33h2m-2 24h2m0-47h2m-1 35h2m-1-5h2m1-30h2m-2 20h2m2 12h2m0-1h2m1 15h2m3-24h2m0 12h2"/><path d="M881 1071h2m2-15h2m1 7h2m-1-1h2m-1-6h2m-2 7h2m-2 3h2m-1-14h2m-2 11h2m-1-4h2m-2 1h2m-2 6h2m-1-6h2m-2 12h2m-1-13h2m-2 1h2m-2 2h2m-2 9h2m-1-23h2m-2 2h2m-2 4h2m-2 3h2m-2 5h2m-2 5h2m-1 3h2m-1-17h2m-2 7h2m-2 3h2m-2 3h2m-2 2h2m-1-8h2m-2 6h2m-2 2h2m-1 1h2m-2 2h2m-2 1h2m-1-17h2m-2 6h2m-1-19h2m-2 10h2m-2 1h2m0 3h2m-2 2h2m-1-15h2m-2 11h2m-2 2h2m-2 4h2m-2 3h2m-1-15h2m-1 4h2m-2 4h2m-2 13h2m0 0h2m-1-44h2m-2 12h2m-2 21h2m-2 3h2m-2 1h2m-2 4h2m-2 3h2m0-20h2m-1 14h2m0-48h2m-2 48h2m0-44h2m-1 41h2m-1-7h2m-1-3h2m-2 4h2m-1-7h2m-2 8h2m-2 3h2m-1-7h2m-2 11h2m0-10h2m-2 3h2m-1-39h2m-2 14h2m1-8h2m-1 7h2m-2 30h2m0-41h2m-2 6h2m-2 30h2m-2 8h2m-1-57h2m-2 21h2m-2 31h2m0-53h2m-2 4h2m-2 2h2m-1 17h2m-1 17h2m-1-27h2m-1-12h2m-2 16h2m-2 4h2m-2 22h2m-2 1h2m-1-29h2m-1-1h2m-1-3h2m-2 45h2m-1-48h2m-2 5h2m-2 2h2m-2 2h2m-2 10h2m-2 36h2m-1-57h2m-2 3h2m-2 3h2m-2 45h2m-1-51h2m-2 3h2m-2 1h2m-2 7h2m-2 7h2m-1-13h2m-2 7h2m-2 5h2m-2 18h2m-1-35h2m-2 15h2m-2 4h2m-1-22h2m-2 28h2m-1-24h2m-2 6h2m-2 2h2m-2 27h2m-1-33h2m-2 5h2m-1-12h2m-2 3h2m-2 8h2m-2 19h2m-2 11h2m-1-34h2m-2 33h2m-1-32h2m-2 2h2m-2 3h2m-1-9h2m-2 3h2m-2 4h2m-2 5h2m-2 11h2m-2 5h2m-1-30h2m-2 11h2m-2 7h2m-2 12h2m-2 22h2m-1-59h2m-2 14h2m-2 12h2m-2 1h2m-2 22h2m-2 6h2m-1-25h2m-1-25h2m-2 7h2m-2 16h2m-2 33h2m-1-42h2m-2 20h2m-1-26h2m-2 1h2m-2 3h2m-2 39h2m-1-35h2m-2 4h2m-2 33h2m-1-37h2m-2 9h2m-2 17h2m-1-44h2m-2 16h2m-1-14h2m-2 6h2m-2 28h2m-1-29h2m-2 18h2m-2 21h2m0-43h2m-2 32h2m-2 17h2m-2 6h2m-1-47h2m-2 1h2m-2 5h2m-2 30h2m-1-36h2m-2 8h2m-2 41h2m-1-14h2m-2 3h2m-1-40h2m-1 45h2m-1-5h2m-1-4h2m-1-8h2m-1 5h2m-1-32h2m5 24h2"/><path d="M882 1062h2m-2 5h2m-1-7h2m-2 1h2m-2 10h2m-1-8h2m-2 2h2m-1-11h2m-1 7h2m2 1h2m-2 8h2m-1-13h2m-1-1h2m-2 1h2m0-44h2m0 34h2m-2 20h2m-2 6h2m-1-30h2m-2 6h2m-1-1h2m-2 10h2m-2 2h2m-2 7h2m-2 1h2m-1-15h2m-1-41h2m-2 10h2m-2 23h2m-2 8h2m-2 15h2m-1-20h2m-1 3h2m-2 6h2m-1-8h2m-2 9h2m-1-22h2m-2 16h2m-2 5h2m-2 1h2m-1 2h2m-1 1h2m-2 3h2m-1-17h2m-2 15h2m0-7h2m-1-7h2m-2 12h2m-1-45h2m-2 30h2m-2 2h2m-2 13h2m-2 6h2m-1-14h2m-2 6h2m-1 9h2m-1-8h2m-1-7h2m-2 8h2m-2 1h2m-2 9h2m-1-12h2m-2 13h2m-1-57h2m-2 38h2m-2 4h2m-2 1h2m-2 6h2m-1-44h2m-2 34h2m-2 3h2m-1-35h2m-1 0h2m-2 16h2m-2 17h2m-1-6h2m-2 17h2m-1-47h2m-1 4h2m-2 28h2m-1-21h2m-1-11h2m-1 38h2m-2 11h2m0-16h2m0 1h2m-1-42h2m-2 7h2m-1 13h2m-2 21h2m0-36h2m-2 3h2m-2 5h2m-1-9h2m-2 12h2m-2 25h2m-2 9h2m-1-47h2m-2 7h2m-2 13h2m-1-14h2m-2 5h2m-2 23h2m-1-32h2m-2 4h2m-2 1h2m-1-10h2m-2 10h2m-2 23h2m-1-29h2m-2 8h2m-1-8h2m-2 8h2m-1-10h2m-1-8h2m-2 3h2m-2 3h2m-2 3h2m-2 28h2m-2 14h2m-1-35h2m-1-9h2m-2 15h2m-2 38h2m-1-56h2m-2 4h2m-2 7h2m-2 7h2m-2 28h2m-1-34h2m-2 5h2m-2 25h2m-1-42h2m-2 2h2m-2 7h2m-2 5h2m-2 17h2m-1-35h2m-2 16h2m-2 5h2m-2 10h2m-2 15h2m-1-41h2m-2 3h2m-2 5h2m-2 3h2m-1 19h2m-2 13h2m-1-34h2m-2 10h2m-2 42h2m-1-66h2m-2 12h2m-2 1h2m-2 4h2m-2 17h2m-1-30h2m-2 2h2m-2 16h2m-2 33h2m-2 5h2m-1-43h2m-2 12h2m-1 17h2m-2 1h2m-2 1h2m-2 4h2m-1-41h2m-2 4h2m-2 1h2m-2 33h2m-1-39h2m-2 6h2m-2 3h2m-2 37h2m-1-47h2m-1-3h2m-2 10h2m-2 2h2m-2 1h2m-2 22h2m-1-30h2m-2 31h2m-2 9h2m-2 2h2m-2 3h2m-1-32h2m-1-9h2m0 12h2m-2 12h2m-2 12h2m-1-40h2m-2 1h2m-1 10h2m-2 11h2m-1-5h2m2-13h2m3 34h2m-1-39h2m-1 17h2m-2 23h2m2-18h2m2 1h2"/><path d="M882 1059h2m1 3h2m-2 10h2m-1-10h2m-1-1h2m-1 10h2m-1-13h2m-1-5h2m-2 7h2m-2 2h2m-1-3h2m-1 6h2m-1 8h2m0-21h2m-1 6h2m-2 3h2m-2 2h2m-1-10h2m-2 13h2m-2 2h2m-1-22h2m-2 11h2m-2 5h2m-2 6h2m-1-5h2m-1-10h2m-2 1h2m-2 3h2m-1 1h2m0-10h2m-2 2h2m0-1h2m-2 3h2m-1 9h2m-2 1h2m-2 1h2m0-11h2m-1-2h2m-2 3h2m-2 5h2m-2 7h2m-1-35h2m-2 20h2m-2 13h2m-1-21h2m-2 9h2m-1-20h2m-2 30h2m-1-24h2m0-2h2m-2 13h2m-2 10h2m-2 1h2m-2 3h2m-1-30h2m-2 24h2m0-12h2m-2 11h2m-2 1h2m-2 1h2m-1-32h2m-2 29h2m-1-35h2m-2 37h2m-1-11h2m-2 12h2m-1-6h2m-1-36h2m-2 10h2m-2 31h2m-1-10h2m-2 8h2m-1-17h2m-1 7h2m-1-27h2m-2 1h2m-2 3h2m-2 6h2m-1 12h2m-2 12h2m-1-46h2m-2 58h2m0-50h2m-2 32h2m-1-12h2m-2 17h2m-1-3h2m-1-19h2m-1-4h2m-2 10h2m-2 3h2m-1 15h2m1-36h2m-2 26h2m-1-29h2m-2 16h2m0-10h2m-2 33h2m-1-25h2m-1-23h2m-2 9h2m-2 1h2m-2 6h2m-2 2h2m-2 1h2m-2 30h2m-2 18h2m-1-56h2m-2 3h2m-2 2h2m-2 3h2m-2 21h2m-1-32h2m-2 9h2m-2 4h2m-2 5h2m-2 4h2m-1-17h2m-2 2h2m-2 4h2m-2 2h2m-2 24h2m-1-75h2m-1 28h2m-2 62h2m-1-49h2m-2 3h2m-2 4h2m-2 2h2m-2 9h2m-1-22h2m-2 33h2m-2 5h2m-2 9h2m-2 4h2m-1-44h2m-2 3h2m-2 10h2m-2 30h2m-2 11h2m-1-59h2m-1 1h2m-2 10h2m-2 26h2m-2 8h2m-1-41h2m-2 3h2m-2 32h2m-1-31h2m-2 27h2m-1-38h2m-2 7h2m-2 1h2m-2 5h2m-1-14h2m-2 5h2m-2 10h2m0-12h2m-2 1h2m-2 3h2m-2 11h2m-2 26h2m-1-45h2m-2 3h2m-2 5h2m-2 26h2m-2 6h2m-2 1h2m-2 14h2m-1-53h2m-2 32h2m-1-27h2m-2 3h2m-2 53h2m-1-66h2m-2 12h2m-2 6h2m-2 18h2m-1-29h2m-2 1h2m-1 12h2m-1-11h2m-2 6h2m-1-4h2m-2 2h2m-2 30h2m-2 12h2m-1-15h2m-1-20h2m-2 9h2m-2 15h2m-1-20h2m-2 6h2m-1 18h2m-2 13h2m1-17h2m-1-21h2m-2 12h2m1-20h2"/><path d="M881 1070h2m-1-7h2m0-21h2m0-28h2m-2 43h2m-1-8h2m-2 5h2m-2 6h2m-1 9h2m-1-22h2m0 16h2m-1-17h2m-2 23h2m-2 1h2m-1-12h2m-1 12h2m0-18h2m-2 7h2m-2 1h2m-1-8h2m-2 12h2m-1-17h2m-2 15h2m-2 4h2m-1-80h2m-2 68h2m-2 7h2m-1-7h2m-2 7h2m-1 3h2m-1-17h2m-2 15h2m-1-44h2m-2 41h2m-2 14h2m-1-23h2m-2 12h2m-1-53h2m-1 44h2m-2 1h2m-1-25h2m-2 18h2m-2 7h2m-2 7h2m-1-32h2m-2 26h2m-1 6h2m-1-7h2m-2 1h2m-1-4h2m-1 6h2m-2 4h2m-1-13h2m-2 17h2m-1-6h2m-2 2h2m-1-45h2m-2 9h2m-2 18h2m-2 9h2m-2 6h2m-1-44h2m-2 42h2m-1 6h2m-1-46h2m-2 3h2m-1 10h2m-2 1h2m-2 16h2m-2 8h2m-2 3h2m-2 8h2m-1-50h2m-2 36h2m-1-21h2m-2 23h2m-1-37h2m-2 3h2m-1 37h2m-1-38h2m-2 20h2m0 8h2m-1-23h2m-2 22h2m-1-20h2m-2 14h2m-2 8h2m-2 3h2m-1-40h2m-2 9h2m-1-1h2m-2 27h2m-1-8h2m-2 12h2m0-27h2m-1 14h2m0-23h2m-2 35h2m-1-30h2m-2 27h2m-1-32h2m-2 24h2m-1-17h2m-1-13h2m-2 44h2m-1-37h2m-1 32h2m-2 2h2m-1-34h2m-2 8h2m-2 28h2m-1-32h2m-1-3h2m-2 1h2m-2 3h2m-2 1h2m-2 39h2m-1-49h2m-2 5h2m-2 8h2m-2 1h2m-1-10h2m-2 1h2m-2 2h2m-2 6h2m-2 23h2m-1-39h2m-2 8h2m-2 2h2m-2 9h2m-1-18h2m-2 8h2m-2 1h2m-2 2h2m-2 14h2m-1-23h2m-2 1h2m-2 4h2m-2 2h2m-2 4h2m-2 20h2m-2 23h2m-1-50h2m-2 40h2m-1-47h2m-2 8h2m-2 6h2m-2 22h2m-1-37h2m-2 8h2m-2 3h2m-2 19h2m-2 12h2m-2 6h2m-1-48h2m-2 5h2m-2 19h2m-1 34h2m-1-56h2m-2 1h2m-2 3h2m-2 2h2m-2 16h2m-2 25h2m-1-40h2m-2 8h2m-2 19h2m-2 19h2m-1-50h2m-2 1h2m-2 3h2m-1 6h2m-2 31h2m-1-32h2m-2 12h2m-1-23h2m-2 3h2m-1 0h2m-2 5h2m-1 34h2m-1-33h2m-2 32h2m1-41h2m-2 8h2m-2 48h2m-1-48h2m-1-3h2m-1 27h2m-2 10h2m-2 12h2m-1-45h2m-2 36h2m-2 2h2m-2 12h2m0-11h2m-1-16h2m-1 27h2m-1-3h2m2-14h2m-2 19h2m3-20h2"/></g><rect x="439.70" y="479.40" width="60.80" height="58.40" fill="none" stroke="#3a3a3a" stroke-width="0.9"/><line x1="468.00" y1="479.40" x2="468.00" y2="537.80" stroke="#3a3a3a" stroke-width="0.85"/><line x1="439.70" y1="514.20" x2="500.50" y2="514.20" stroke="#3a3a3a" stroke-width="0.85"/><ellipse cx="459.5" cy="508.5" rx="1.3" ry="0.9" fill="#333" opacity="0.8"/><ellipse cx="475.0" cy="508.5" rx="1.3" ry="0.9" fill="#333" opacity="0.8"/><ellipse cx="475.0" cy="522.0" rx="1.3" ry="0.9" fill="#333" opacity="0.8"/><text x="442.9" y="485.7" font-size="4.3" text-anchor="start" font-weight="normal" fill="#333" stroke="#333" stroke-width="0.05" >DMSO</text><line x1="438.10" y1="485.90" x2="439.70" y2="485.90" stroke="#555" stroke-width="0.6"/><text x="435.7" y="487.3" font-size="3.8" text-anchor="end" fill="#666">10<tspan font-size="2.6" dy="-1.4">3</tspan></text><line x1="438.10" y1="500.40" x2="439.70" y2="500.40" stroke="#555" stroke-width="0.6"/><text x="435.7" y="501.8" font-size="3.8" text-anchor="end" fill="#666">10<tspan font-size="2.6" dy="-1.4">2</tspan></text><line x1="438.10" y1="514.90" x2="439.70" y2="514.90" stroke="#555" stroke-width="0.6"/><text x="435.7" y="516.3" font-size="3.8" text-anchor="end" fill="#666">10<tspan font-size="2.6" dy="-1.4">1</tspan></text><line x1="438.10" y1="529.40" x2="439.70" y2="529.40" stroke="#555" stroke-width="0.6"/><text x="435.7" y="530.8" font-size="3.8" text-anchor="end" fill="#666">10<tspan font-size="2.6" dy="-1.4">0</tspan></text><line x1="448.20" y1="537.80" x2="448.20" y2="539.20" stroke="#555" stroke-width="0.6"/><text x="448.2" y="545.2" font-size="3.8" text-anchor="middle" fill="#666">10<tspan font-size="2.6" dy="-1.4">0</tspan></text><line x1="463.70" y1="537.80" x2="463.70" y2="539.20" stroke="#555" stroke-width="0.6"/><text x="463.7" y="545.2" font-size="3.8" text-anchor="middle" fill="#666">10<tspan font-size="2.6" dy="-1.4">1</tspan></text><line x1="479.20" y1="537.80" x2="479.20" y2="539.20" stroke="#555" stroke-width="0.6"/><text x="479.2" y="545.2" font-size="3.8" text-anchor="middle" fill="#666">10<tspan font-size="2.6" dy="-1.4">2</tspan></text><line x1="494.70" y1="537.80" x2="494.70" y2="539.20" stroke="#555" stroke-width="0.6"/><text x="494.7" y="545.2" font-size="3.8" text-anchor="middle" fill="#666">10<tspan font-size="2.6" dy="-1.4">3</tspan></text><line x1="452.87" y1="536.70" x2="452.87" y2="537.80" stroke="#666" stroke-width="0.4"/><line x1="455.60" y1="536.70" x2="455.60" y2="537.80" stroke="#666" stroke-width="0.4"/><line x1="457.53" y1="536.70" x2="457.53" y2="537.80" stroke="#666" stroke-width="0.4"/><line x1="459.03" y1="536.70" x2="459.03" y2="537.80" stroke="#666" stroke-width="0.4"/><line x1="460.26" y1="536.70" x2="460.26" y2="537.80" stroke="#666" stroke-width="0.4"/><line x1="461.30" y1="536.70" x2="461.30" y2="537.80" stroke="#666" stroke-width="0.4"/><line x1="462.20" y1="536.70" x2="462.20" y2="537.80" stroke="#666" stroke-width="0.4"/><line x1="462.99" y1="536.70" x2="462.99" y2="537.80" stroke="#666" stroke-width="0.4"/><line x1="468.37" y1="536.70" x2="468.37" y2="537.80" stroke="#666" stroke-width="0.4"/><line x1="471.10" y1="536.70" x2="471.10" y2="537.80" stroke="#666" stroke-width="0.4"/><line x1="473.03" y1="536.70" x2="473.03" y2="537.80" stroke="#666" stroke-width="0.4"/><line x1="474.53" y1="536.70" x2="474.53" y2="537.80" stroke="#666" stroke-width="0.4"/><line x1="475.76" y1="536.70" x2="475.76" y2="537.80" stroke="#666" stroke-width="0.4"/><line x1="476.80" y1="536.70" x2="476.80" y2="537.80" stroke="#666" stroke-width="0.4"/><line x1="477.70" y1="536.70" x2="477.70" y2="537.80" stroke="#666" stroke-width="0.4"/><line x1="478.49" y1="536.70" x2="478.49" y2="537.80" stroke="#666" stroke-width="0.4"/><line x1="483.87" y1="536.70" x2="483.87" y2="537.80" stroke="#666" stroke-width="0.4"/><line x1="486.60" y1="536.70" x2="486.60" y2="537.80" stroke="#666" stroke-width="0.4"/><line x1="488.53" y1="536.70" x2="488.53" y2="537.80" stroke="#666" stroke-width="0.4"/><line x1="490.03" y1="536.70" x2="490.03" y2="537.80" stroke="#666" stroke-width="0.4"/><line x1="491.26" y1="536.70" x2="491.26" y2="537.80" stroke="#666" stroke-width="0.4"/><line x1="492.30" y1="536.70" x2="492.30" y2="537.80" stroke="#666" stroke-width="0.4"/><line x1="493.20" y1="536.70" x2="493.20" y2="537.80" stroke="#666" stroke-width="0.4"/><line x1="493.99" y1="536.70" x2="493.99" y2="537.80" stroke="#666" stroke-width="0.4"/><text x="497.5" y="554.8" font-size="5.6" text-anchor="end" font-weight="normal" fill="#222" stroke="#222" stroke-width="0.1" >40,2%</text><text x="471.1" y="473.3" font-size="10" text-anchor="middle" font-weight="normal" fill="#111" stroke="#111" stroke-width="0.12" >KM-H2</text><g transform="scale(0.5)" stroke="#000" stroke-width="1.6" stroke-opacity="0.22" filter="url(#fb)"><path d="M95 1229h2m-1-13h2m-1-5h2m-2 5h2m-1-5h2m-2 15h2m0-12h2m-2 3h2m-2 5h2m-1-18h2m-2 11h2m-2 1h2m-1-9h2m-1 1h2m-2 7h2m-2 5h2m-1-13h2m-1 14h2m-1-10h2m-2 7h2m-2 1h2m-1-11h2m-2 2h2m-2 5h2m-2 13h2m-1-4h2m-1-17h2m-2 3h2m-2 2h2m-2 1h2m-2 5h2m-2 5h2m-1-11h2m-2 1h2m-2 4h2m-2 1h2m-2 2h2m-2 1h2m-1-20h2m-2 7h2m-2 3h2m-2 4h2m-1-5h2m-2 9h2m-1-11h2m-2 2h2m-2 2h2m-2 2h2m-1-1h2m-2 8h2m-1-17h2m-2 2h2m-2 1h2m-2 15h2m-1-11h2m-2 6h2m-2 1h2m-2 1h2m-1-19h2m-2 1h2m-2 3h2m-2 2h2m-2 3h2m-2 1h2m-2 1h2m-2 7h2m-1-12h2m-2 3h2m-2 9h2m-2 10h2m-1-27h2m-2 5h2m-2 4h2m-2 1h2m-2 1h2m-2 12h2m-1-16h2m-2 2h2m-2 4h2m-2 4h2m-1-24h2m-2 4h2m-2 2h2m-2 8h2m-1-2h2m-2 2h2m-2 1h2m-2 2h2m-2 1h2m-2 1h2m-2 4h2m-1-20h2m-2 5h2m-2 1h2m-2 3h2m-2 2h2m-2 2h2m-2 4h2m-1-17h2m-2 3h2m-2 2h2m-2 2h2m-2 1h2m-2 8h2m-2 9h2m-1-25h2m-2 2h2m-2 2h2m-2 3h2m-2 3h2m-1-8h2m-2 8h2m-2 1h2m-2 2h2m-2 1h2m-1-6h2m-2 3h2m-2 8h2m-1-12h2m-2 5h2m-1-7h2m-2 2h2m-1-5h2m-2 6h2m0-1h2m-2 2h2m-1-20h2m-2 14h2m-2 2h2m-2 5h2m-1-4h2m-2 1h2m-2 16h2m-1-11h2m0-44h2m-2 12h2m-2 3h2m-2 43h2m0-24h2m0-34h2m-2 19h2m-1-14h2m-2 10h2m-2 3h2m-2 4h2m-2 14h2m-2 3h2m-1-31h2m-2 33h2m-1-15h2m-2 16h2m-1-47h2m0 2h2m-2 46h2m-1-13h2m-1-30h2m-2 25h2m-1-34h2m-2 21h2m-2 9h2m-2 21h2m-2 3h2m-1-21h2m-2 14h2m0-44h2m-1-16h2m-1 16h2m1-1h2m-2 25h2m-2 27h2m-1-36h2m-2 5h2m-1-1h2m-2 2h2m-2 1h2m-2 1h2m-2 10h2m-2 10h2m-2 12h2m-1-48h2m-2 3h2m-2 9h2m-2 2h2m-2 36h2m-1-65h2m-2 22h2m-2 13h2m-2 2h2m-1-32h2m-2 26h2m-1 9h2m-2 2h2m-1-64h2m-2 58h2m-2 24h2m-1-31h2m-2 38h2m-2 3h2m-1-79h2m-2 12h2m-2 5h2m-2 3h2m-2 17h2m-2 7h2m-2 1h2m-1-38h2m-2 14h2m-2 22h2m-2 34h2m-1-77h2m-2 15h2m-2 23h2m-2 1h2m-2 12h2m-1-50h2m-2 4h2m-2 3h2m-2 6h2m-2 4h2m-2 2h2m-2 3h2m-2 2h2m-2 7h2m-2 2h2m-2 9h2m-1-2h2m-2 1h2m-1-18h2m-2 19h2m-1-17h2m-2 1h2m-2 2h2m-2 2h2m-2 1h2m-2 2h2m-2 3h2m-2 18h2m0-56h2m-2 24h2m-2 21h2m-2 4h2m-1-7h2m-1-20h2m-2 6h2m-1 13h2m-1-32h2m-2 24h2m-2 26h2m-1-43h2m-1-12h2m-2 5h2m-2 12h2m-2 7h2m-2 38h2m-1-44h2m-2 7h2m-2 15h2m-2 15h2m-2 16h2m-1-50h2m-2 33h2m-2 13h2m1-45h2m-2 29h2m-1-38h2m-2 9h2m-2 17h2m-1-35h2m-2 10h2m-1 7h2m-1-18h2m-2 1h2m-2 20h2m-1 5h2m0-14h2m0-27h2m5 9h2m-1 5h2m1 51h2m-2 25h2"/><path d="M92 1220h2m-2 8h2m-1-7h2m0-4h2m1-2h2m-1 3h2m-2 2h2m-2 7h2m0-15h2m-2 3h2m-1-7h2m-2 2h2m-2 1h2m-2 2h2m-2 1h2m-2 2h2m-1-1h2m-2 6h2m-2 3h2m-2 1h2m-1-1h2m-1-19h2m-2 6h2m-2 1h2m-1 0h2m-2 3h2m-2 1h2m-2 1h2m-2 1h2m-1-11h2m-2 16h2m-2 4h2m-1-19h2m-2 4h2m-2 3h2m-2 1h2m-2 2h2m-2 1h2m-2 2h2m-1-16h2m-2 17h2m-1-17h2m-2 12h2m-2 4h2m-1-20h2m-2 7h2m-2 7h2m-2 1h2m-2 1h2m-1-13h2m-2 5h2m-2 4h2m-2 6h2m-1-15h2m-2 5h2m-2 1h2m-2 2h2m-2 1h2m-2 4h2m-1-6h2m-1-12h2m-2 3h2m-2 5h2m-2 4h2m-2 6h2m-2 10h2m-1-18h2m-2 2h2m-2 3h2m-2 1h2m-2 1h2m-2 2h2m-1-20h2m-2 4h2m-2 3h2m-2 7h2m-1-4h2m-2 2h2m-2 2h2m-2 3h2m-2 6h2m-1-25h2m-2 3h2m-2 5h2m-2 2h2m-2 1h2m-2 1h2m-2 2h2m-1-9h2m-2 3h2m-2 6h2m-2 10h2m-1-21h2m-2 13h2m-2 1h2m-2 1h2m-1-12h2m-2 4h2m-2 1h2m-2 6h2m-1-11h2m-2 1h2m-2 2h2m-2 1h2m-2 2h2m-2 2h2m-2 2h2m-2 2h2m-1-38h2m-2 20h2m-2 4h2m-2 7h2m-2 2h2m-2 4h2m-2 5h2m-1-15h2m-2 2h2m-2 3h2m-2 1h2m-2 2h2m-2 1h2m-1-9h2m-2 3h2m-2 1h2m-2 2h2m-2 1h2m-2 7h2m-1-6h2m-2 4h2m-2 2h2m-1-20h2m-2 1h2m-2 6h2m-1-35h2m-2 33h2m-2 5h2m-2 1h2m-1-16h2m-2 4h2m-2 3h2m-2 4h2m-1-6h2m-2 5h2m-2 13h2m-1-22h2m-2 3h2m-2 15h2m-1-21h2m-1 6h2m-2 4h2m-2 4h2m0-2h2m-1-30h2m-1 28h2m-1-6h2m-1 2h2m-1 8h2m0-22h2m-2 18h2m-1-31h2m-2 10h2m-2 20h2m-1-33h2m-2 9h2m-2 5h2m-1 2h2m-2 8h2m-2 7h2m-1-21h2m-2 13h2m-2 7h2m-2 10h2m-2 2h2m-1-33h2m-2 5h2m-2 14h2m-1 0h2m0-36h2m-2 11h2m-2 3h2m-2 8h2m-1-10h2m-2 20h2m-2 6h2m-2 9h2m-1-28h2m-2 14h2m-2 29h2m-1-55h2m-2 4h2m-2 17h2m-2 25h2m-1-46h2m-2 9h2m-2 23h2m-2 11h2m-1-37h2m-2 13h2m-1 1h2m-1-6h2m-2 12h2m-2 20h2m-1-26h2m-2 4h2m-1-24h2m-2 11h2m-2 34h2m-1-44h2m-2 12h2m-2 30h2m-1-60h2m-2 16h2m-2 11h2m-2 43h2m-1-62h2m-2 14h2m-2 13h2m-2 11h2m-1-29h2m-2 11h2m-2 11h2m-2 38h2m-1-77h2m-2 22h2m-2 10h2m-2 18h2m-2 22h2m-1-54h2m-2 10h2m-2 14h2m-1-43h2m-2 17h2m-2 6h2m-2 4h2m-2 5h2m-2 2h2m-1-17h2m-2 3h2m-2 3h2m-2 5h2m-1 4h2m-2 16h2m-2 2h2m-1-21h2m-1-24h2m-2 8h2m-2 30h2m-2 14h2m-1-26h2m-2 3h2m-1-6h2m-2 2h2m-2 9h2m0-14h2m-2 9h2m-2 12h2m-1-14h2m-1 1h2m-1-48h2m-2 17h2m-2 9h2m-1 3h2m-2 2h2m-2 10h2m-2 18h2m-2 5h2m-2 17h2m-1-54h2m-2 4h2m-2 2h2m-2 13h2m-1-13h2m-2 50h2m-1-38h2m-2 21h2m-1-33h2m-2 2h2m-1 1h2m-2 1h2m-1-15h2m-2 14h2m-2 7h2m-2 8h2m-1-12h2m0-5h2m0 11h2m-1-5h2m-1-17h2m-2 15h2m0-19h2m-2 16h2m-2 14h2m-1-56h2m-2 28h2m-2 24h2m1-49h2m-2 51h2"/><path d="M93 1221h2m2 4h2m-1-6h2m0-58h2m-2 50h2m-2 10h2m-2 3h2m1-14h2m-2 9h2m0 0h2m-1-4h2m-2 1h2m-2 8h2m-2 4h2m-1-20h2m-2 2h2m-2 1h2m-2 5h2m-2 3h2m-1-1h2m-1-13h2m-2 2h2m-2 8h2m-2 11h2m-1-18h2m-2 1h2m-2 3h2m-2 3h2m-2 2h2m-2 2h2m-2 2h2m-2 6h2m-1-22h2m-2 6h2m-2 4h2m-1-13h2m-2 2h2m-2 3h2m-2 1h2m-2 2h2m-2 2h2m-2 8h2m-2 4h2m-2 2h2m-1-25h2m-2 5h2m-2 6h2m-2 1h2m-2 1h2m-2 1h2m-2 1h2m-2 12h2m-1-25h2m-2 8h2m-2 4h2m-2 3h2m-1-13h2m-2 3h2m-2 4h2m-2 2h2m-2 2h2m-2 3h2m-2 2h2m-1-15h2m-2 1h2m-2 1h2m-2 1h2m-2 1h2m-2 2h2m-2 1h2m-2 4h2m-1-9h2m-2 2h2m-2 5h2m-2 2h2m-2 5h2m-1-25h2m-2 10h2m-2 2h2m-2 4h2m-1-16h2m-2 11h2m-2 1h2m-2 1h2m-2 2h2m-2 1h2m-2 5h2m-2 6h2m-1-24h2m-2 2h2m-2 8h2m-2 1h2m-2 3h2m-1-3h2m-2 2h2m-2 5h2m-1-18h2m-2 1h2m-2 1h2m-2 2h2m-2 1h2m-2 2h2m-2 1h2m-2 1h2m-1 0h2m-1-6h2m-2 2h2m-2 6h2m-1-20h2m-2 9h2m-2 1h2m-2 5h2m-2 2h2m-1-8h2m-2 1h2m-2 6h2m-1-6h2m-2 6h2m-2 2h2m-1-7h2m-2 4h2m-1-7h2m-1-5h2m-2 5h2m-2 2h2m-2 5h2m-2 4h2m-1-14h2m-2 9h2m-1-5h2m-2 10h2m-1-11h2m-2 6h2m-2 1h2m-1-6h2m-1-26h2m-2 6h2m-2 16h2m-2 9h2m-2 5h2m-1-13h2m-2 10h2m-1-14h2m-2 17h2m-1-48h2m-1 23h2m-2 16h2m-1 0h2m-1-13h2m-1 13h2m-1-23h2m-2 13h2m-1-15h2m-2 1h2m-2 17h2m-2 6h2m-1 5h2m-2 3h2m-1-42h2m-2 18h2m-1-2h2m-2 14h2m-2 8h2m-2 6h2m-1-14h2m-1-13h2m0-4h2m-1 5h2m-1 6h2m-1-1h2m-2 1h2m-1-24h2m-2 3h2m-1-9h2m-2 19h2m-2 4h2m-2 17h2m-1-59h2m-2 54h2m-2 11h2m-2 4h2m-2 8h2m-2 6h2m0-53h2m-2 6h2m-2 5h2m-1-18h2m-2 2h2m-2 7h2m-1-16h2m-2 21h2m-2 10h2m-1-27h2m-2 11h2m-2 21h2m-2 5h2m-2 2h2m-1-34h2m-2 6h2m-1-12h2m-2 10h2m-1-14h2m-2 11h2m-2 13h2m-2 6h2m-2 6h2m-1-16h2m-1-17h2m-2 1h2m-2 8h2m-2 6h2m-1-8h2m-2 10h2m-2 3h2m-2 18h2m-1-43h2m-2 10h2m-2 1h2m-2 16h2m-2 11h2m-2 12h2m-1-41h2m-2 11h2m-2 16h2m-1-25h2m-2 18h2m-1-30h2m-2 15h2m-2 18h2m-2 3h2m-2 30h2m-1-52h2m-2 12h2m-2 5h2m-2 8h2m-2 1h2m-2 5h2m-1-47h2m-2 20h2m-2 14h2m-1-37h2m-2 16h2m-2 5h2m-1-13h2m-2 12h2m-2 32h2m-1-21h2m-2 2h2m-2 8h2m-2 31h2m-2 7h2m-1-44h2m-1-10h2m-2 13h2m-2 31h2m-1-53h2m-2 40h2m-1-31h2m0-22h2m-2 3h2m-2 60h2m-1-71h2m-1 25h2m-2 4h2m-1-17h2m-2 10h2m-2 26h2m-1-40h2m-1 24h2m-1-10h2m-1 17h2m-1-19h2m-2 2h2m-2 20h2m-2 26h2m-1-89h2m-2 38h2m-1 3h2m0 2h2m-2 14h2m-1-31h2m-1 6h2m-1 20h2m6-19h2m0 11h2"/><path d="M92 1221h2m0-4h2m0 4h2m-2 9h2m-1-19h2m-1 6h2m-2 2h2m1-7h2m-1 9h2m-1-9h2m-2 7h2m-2 1h2m1-13h2m-2 4h2m-2 4h2m-2 5h2m0-4h2m-1-13h2m-2 10h2m-2 6h2m-1-12h2m-2 3h2m-2 4h2m-2 3h2m-2 5h2m-1-15h2m-2 3h2m-2 2h2m-2 2h2m-2 1h2m-2 1h2m-2 1h2m-1-11h2m-2 8h2m-1-8h2m-2 3h2m-2 1h2m-2 2h2m-1-13h2m-2 12h2m-2 1h2m-2 2h2m-1-3h2m-2 5h2m-2 1h2m-2 3h2m-1-16h2m-2 1h2m-2 2h2m-2 1h2m-2 1h2m-2 2h2m-2 1h2m-2 1h2m-2 2h2m-2 4h2m-2 2h2m-1-28h2m-2 6h2m-2 8h2m-2 1h2m-2 1h2m-2 3h2m-2 2h2m-1-14h2m-2 8h2m-2 3h2m-2 1h2m-1-3h2m-2 2h2m-2 6h2m-1-15h2m-2 1h2m-2 4h2m-2 1h2m-2 8h2m-1-13h2m-2 1h2m-2 1h2m-2 3h2m-2 6h2m-2 3h2m-2 1h2m-1-14h2m-2 1h2m-2 6h2m-2 4h2m-1-12h2m-2 1h2m-2 4h2m-2 1h2m-2 3h2m-2 4h2m-2 2h2m-2 1h2m-1-20h2m-2 4h2m-2 1h2m-2 5h2m-2 12h2m-1-17h2m-2 5h2m-1 1h2m-2 1h2m-2 5h2m-1-9h2m-2 1h2m-2 2h2m-2 5h2m-1-15h2m-2 5h2m-2 3h2m-1-9h2m-2 4h2m-2 2h2m-2 8h2m-2 3h2m-1-25h2m-2 11h2m-2 1h2m-2 3h2m-2 15h2m-1-20h2m-2 7h2m0-11h2m-2 7h2m-1 7h2m-1-29h2m-2 22h2m-1-20h2m-2 24h2m0-17h2m-2 5h2m0 8h2m-1-25h2m-1-22h2m-2 25h2m-2 8h2m-2 23h2m-1-37h2m-1 21h2m-1-2h2m-2 2h2m-2 6h2m-1-37h2m-2 1h2m-1 9h2m-2 7h2m-2 8h2m-1-41h2m-2 5h2m-2 23h2m-2 29h2m0-69h2m-2 39h2m-2 15h2m-2 6h2m-2 8h2m-1-42h2m-2 11h2m-1 26h2m-1-31h2m-2 28h2m-1-28h2m-2 11h2m-2 13h2m-2 16h2m-1-34h2m-2 2h2m-2 5h2m-2 6h2m-2 9h2m-2 3h2m-1-36h2m-2 3h2m-2 8h2m-2 4h2m-2 49h2m-1-74h2m-2 23h2m-1 7h2m-2 27h2m-1-50h2m-1 27h2m-2 4h2m-2 6h2m-2 23h2m-1-61h2m-2 1h2m-2 6h2m-2 13h2m-2 25h2m-2 15h2m-1-77h2m-2 20h2m-2 4h2m-1-9h2m-2 2h2m-1-19h2m-2 9h2m-2 9h2m-2 9h2m-2 8h2m-2 18h2m-2 7h2m-2 2h2m-1-49h2m-2 17h2m-2 12h2m-1-2h2m-2 1h2m-2 4h2m-1-50h2m-2 29h2m-2 19h2m-1-23h2m-2 9h2m-2 2h2m-2 18h2m-2 12h2m-1-40h2m-2 18h2m-2 9h2m-1-11h2m-2 1h2m-2 9h2m-1-24h2m-2 22h2m-2 12h2m-1-44h2m-2 7h2m-2 22h2m-1-7h2m-1-22h2m-2 46h2m-2 13h2m-1-49h2m-2 3h2m-2 1h2m-2 13h2m-2 32h2m-1-50h2m-2 5h2m-2 24h2m-1-45h2m-2 14h2m-2 52h2m-1-67h2m-2 32h2m-1-5h2m-2 2h2m-1-19h2m-1 53h2m-1-88h2m-2 62h2m-1-47h2m-2 39h2m-1-19h2m-2 30h2m-1-18h2m-2 9h2m-2 3h2m-2 1h2m0-12h2m-2 10h2m1-3h2m-1 6h2m-1-31h2m-2 8h2m-1 4h2m-1 7h2m-1-24h2m3 31h2m2 0h2m-1-29h2"/><path d="M97 1234h2m-1-5h2m0-18h2m-1-3h2m-2 8h2m-2 3h2m-2 2h2m-2 4h2m1-6h2m-1-9h2m-2 2h2m-2 7h2m-2 6h2m-1-14h2m-2 3h2m-2 3h2m-2 8h2m-1-17h2m-2 2h2m-2 2h2m-2 5h2m-1-6h2m-2 7h2m-1-14h2m-2 8h2m-2 3h2m-1-2h2m-2 2h2m-2 2h2m-2 2h2m-2 2h2m-2 3h2m-1-17h2m-2 3h2m-2 1h2m-2 2h2m-2 5h2m-2 3h2m-1-19h2m-2 6h2m-2 7h2m-2 1h2m-2 1h2m-2 2h2m-2 4h2m-1-21h2m-2 7h2m-2 3h2m-2 3h2m-2 4h2m-1-17h2m-2 7h2m-2 4h2m-2 2h2m-2 2h2m-1-12h2m-2 2h2m-2 3h2m-2 17h2m-1-22h2m-2 3h2m-2 1h2m-2 5h2m-2 1h2m-2 3h2m-1-19h2m-2 2h2m-2 4h2m-2 2h2m-2 4h2m-1-12h2m-2 8h2m-2 3h2m-2 6h2m-1-13h2m-2 1h2m-2 2h2m-2 3h2m-2 1h2m-2 4h2m-1-9h2m-2 3h2m-2 1h2m-2 3h2m-2 4h2m-2 2h2m-2 2h2m-1-22h2m-2 6h2m-2 1h2m-2 5h2m-2 4h2m-2 3h2m-2 8h2m-1-28h2m-2 5h2m-2 2h2m-2 1h2m-2 12h2m-1-15h2m-2 4h2m-2 5h2m-2 3h2m-2 1h2m-1-27h2m-2 11h2m-2 5h2m-2 7h2m-2 8h2m-1-20h2m-2 8h2m-2 6h2m-2 9h2m-1-10h2m-1-12h2m-2 2h2m-2 3h2m-2 12h2m-1-21h2m-2 7h2m-2 7h2m-1-26h2m-2 16h2m-2 4h2m-2 5h2m-2 3h2m-1-17h2m-2 7h2m-2 3h2m-2 7h2m-1-15h2m-2 1h2m-2 1h2m-2 8h2m-1-39h2m-2 42h2m-1-12h2m-1-7h2m-2 18h2m-1-22h2m-1 16h2m-1 0h2m-1-2h2m-1-17h2m-2 8h2m-2 8h2m-2 1h2m-2 5h2m0-3h2m-2 20h2m-1-29h2m0-45h2m-2 38h2m-2 18h2m-1 21h2m-1-64h2m-2 45h2m-1-42h2m-2 9h2m0 20h2m-2 13h2m-1-51h2m-2 12h2m-2 22h2m-1-22h2m-2 10h2m-2 2h2m-2 1h2m-2 3h2m-2 1h2m-1-20h2m-2 4h2m-1 3h2m-2 29h2m-2 9h2m-1-25h2m-2 10h2m-1-45h2m-2 27h2m-2 8h2m-1-25h2m-2 3h2m-2 67h2m-1-34h2m-2 2h2m-1-22h2m-2 2h2m-2 15h2m-1-15h2m-2 2h2m-2 1h2m-2 9h2m-2 37h2m-1-60h2m-2 8h2m-2 2h2m-2 3h2m-1-11h2m-2 1h2m-2 3h2m-2 4h2m-2 1h2m-1-12h2m-2 3h2m-2 16h2m-1-19h2m-2 2h2m-2 20h2m-1-26h2m-2 11h2m-2 4h2m-2 5h2m-2 5h2m-2 7h2m-2 3h2m-2 3h2m-1-46h2m-2 5h2m-2 4h2m-2 10h2m-2 1h2m-2 10h2m-1-5h2m-2 25h2m-1-11h2m-2 7h2m-1-40h2m-2 9h2m-2 5h2m-2 20h2m0-53h2m-2 14h2m-1 11h2m-2 3h2m-2 41h2m-1-40h2m-2 2h2m-2 3h2m-1 31h2m-1-62h2m-2 20h2m-2 8h2m-2 10h2m-1-32h2m-2 15h2m-2 1h2m-2 52h2m-1-56h2m-2 4h2m-2 13h2m-1-5h2m-1-9h2m-2 26h2m-1-29h2m-2 14h2m-2 14h2m-1-33h2m-2 7h2m-1-16h2m-2 26h2m-2 58h2m-1-55h2m-2 4h2m-1-27h2m-2 15h2m-2 50h2m-1-60h2m-2 21h2m-2 1h2m-1-24h2m-2 11h2m0 14h2m0-8h2m-1-12h2m-1-35h2m-2 39h2m-2 8h2m-1 3h2m-2 10h2m-1-43h2m-1 3h2m-2 60h2m8 25h2m4-71h2"/><path d="M95 1226h2m3-11h2m-2 6h2m-2 2h2m0-2h2m-2 4h2m-1-14h2m-2 5h2m-2 7h2m-1-3h2m-1-15h2m-1 4h2m-2 2h2m-2 4h2m-2 12h2m-1-20h2m-2 11h2m-1-14h2m-2 11h2m-1-8h2m-2 4h2m-2 1h2m-2 1h2m-2 3h2m-2 4h2m-1-10h2m-2 8h2m-2 1h2m-1-2h2m-2 1h2m-2 3h2m-1-21h2m-2 10h2m-2 1h2m-2 2h2m-2 2h2m-1-7h2m-2 2h2m-2 4h2m-1-17h2m-2 9h2m-2 3h2m-2 2h2m-2 1h2m-2 1h2m-2 4h2m-1-16h2m-2 6h2m-2 1h2m-2 2h2m-2 2h2m-2 4h2m-1-18h2m-2 13h2m-2 2h2m-2 1h2m-2 1h2m-1-10h2m-2 1h2m-2 7h2m-2 4h2m-2 5h2m-1-21h2m-2 7h2m-2 2h2m-2 1h2m-2 8h2m-1-21h2m-2 5h2m-2 6h2m-2 2h2m-2 2h2m-2 1h2m-1-14h2m-2 1h2m-2 18h2m-1-22h2m-2 3h2m-2 8h2m-2 6h2m-2 1h2m-2 1h2m-2 1h2m-2 1h2m-1-13h2m-2 7h2m-2 2h2m-2 1h2m-2 4h2m-1-79h2m-2 57h2m-2 3h2m-2 1h2m-2 2h2m-2 2h2m-2 3h2m-2 4h2m-1-11h2m-2 12h2m-2 1h2m-1-16h2m-2 2h2m-2 3h2m-2 1h2m-2 2h2m-2 6h2m-2 1h2m-1-14h2m-2 1h2m-2 5h2m-2 2h2m-2 9h2m-1-15h2m-2 2h2m-2 2h2m-2 6h2m-2 1h2m-2 7h2m-1-21h2m-2 11h2m-2 2h2m-1-26h2m-2 16h2m-1-7h2m-1-19h2m-2 29h2m-2 1h2m-2 6h2m-1-14h2m-2 5h2m-2 7h2m-2 1h2m-2 2h2m-1-13h2m-1-27h2m-2 12h2m-2 9h2m-2 6h2m-2 4h2m-1-2h2m-1-19h2m-2 21h2m-1-5h2m-2 2h2m-2 5h2m-1-30h2m-2 26h2m-2 5h2m-1-14h2m-2 5h2m-2 6h2m-2 13h2m-2 1h2m-1-23h2m-2 5h2m-1-32h2m-2 18h2m-1 26h2m-1-40h2m1 6h2m-2 6h2m-2 10h2m-2 8h2m-2 12h2m-1-65h2m-2 43h2m-2 14h2m-1-29h2m0 13h2m-2 2h2m-1-10h2m-2 2h2m-2 15h2m-1-34h2m-2 25h2m-2 9h2m-1-30h2m-2 1h2m-2 3h2m-2 4h2m-2 8h2m-2 12h2m-2 16h2m0-27h2m-2 32h2m-1-71h2m-2 27h2m-1 1h2m-2 4h2m-2 2h2m-2 13h2m-1-13h2m-2 28h2m-1-33h2m-2 3h2m-2 10h2m-2 1h2m-1-38h2m-2 16h2m-2 17h2m-2 7h2m-1-27h2m-2 16h2m-2 2h2m-1-12h2m-2 1h2m-2 3h2m-2 5h2m-2 14h2m-1-44h2m-2 37h2m-2 4h2m-2 14h2m-2 7h2m-1-36h2m-2 17h2m-1-27h2m-2 4h2m-2 10h2m-2 40h2m-1-40h2m-2 3h2m0-12h2m-2 8h2m-2 10h2m-1-16h2m-2 9h2m-2 2h2m-1-12h2m-2 34h2m-1-50h2m-2 17h2m-1-2h2m-2 28h2m-1-32h2m-2 3h2m-2 2h2m-2 5h2m-2 1h2m-2 45h2m-1-50h2m-2 2h2m-2 7h2m-2 3h2m-2 16h2m-1-34h2m-2 5h2m-2 1h2m-2 2h2m-2 14h2m-1-23h2m-2 1h2m-2 14h2m-2 2h2m-1-17h2m-2 38h2m-1-7h2m-2 13h2m-2 6h2m-1-65h2m-2 8h2m-1 9h2m-2 59h2m-1-65h2m-2 22h2m0-27h2m-2 16h2m-2 2h2m-1-19h2m0-6h2m-2 45h2m-2 29h2m0-61h2m-2 38h2m-1-58h2m-2 11h2m-1 1h2m1-3h2m-2 29h2m-1-33h2m-1 4h2m4 3h2m-1 11h2m1-20h2m2 17h2"/><path d="M91 1224h2m0-1h2m3-5h2m0-6h2m-1-4h2m-2 2h2m-1 4h2m-2 6h2m-1 1h2m-1-12h2m-2 2h2m-2 6h2m-2 6h2m-2 1h2m-1-18h2m-2 13h2m-2 2h2m-2 4h2m-1-11h2m-2 4h2m-1-6h2m-2 1h2m-2 1h2m-2 3h2m-1-2h2m-2 2h2m-2 1h2m-1-6h2m-2 5h2m-2 1h2m-2 2h2m-1-8h2m-2 3h2m-2 2h2m-2 4h2m-2 4h2m-1-17h2m-2 11h2m0-7h2m-2 5h2m-1-14h2m-2 5h2m-2 1h2m-2 1h2m-2 1h2m-2 2h2m-2 4h2m-2 1h2m-2 6h2m-1-17h2m-2 4h2m-2 2h2m-1-19h2m-2 7h2m-2 6h2m-2 2h2m-2 2h2m-2 1h2m-2 7h2m-1-11h2m-2 10h2m-2 8h2m-1-24h2m-2 4h2m-2 1h2m-2 7h2m-2 4h2m-1-13h2m-2 4h2m-2 2h2m-2 3h2m-2 1h2m-2 3h2m-2 7h2m-1-25h2m-2 3h2m-2 2h2m-2 5h2m-1-3h2m-2 5h2m-2 7h2m-1-76h2m-2 48h2m-2 3h2m-2 7h2m-2 1h2m-2 1h2m-2 1h2m-2 7h2m-2 4h2m-1-18h2m-2 2h2m-2 4h2m-2 1h2m-2 1h2m-2 3h2m-2 9h2m-1-6h2m-1-5h2m-2 1h2m-1-4h2m-2 4h2m-2 1h2m-2 1h2m-1-3h2m-2 2h2m-2 2h2m-2 2h2m-2 10h2m-1-24h2m-2 2h2m-2 4h2m-2 2h2m-1 1h2m-2 9h2m-1-30h2m-2 7h2m-2 14h2m-2 1h2m-2 4h2m-2 8h2m0-33h2m-2 3h2m-2 18h2m-1-33h2m-2 24h2m-2 5h2m-2 3h2m-1-12h2m-2 4h2m-2 4h2m-1-8h2m-2 4h2m-2 1h2m-2 3h2m-1 4h2m-1-17h2m-2 10h2m-1-6h2m-2 1h2m-2 4h2m-2 8h2m-1-30h2m-2 26h2m-1-18h2m-2 5h2m-1-42h2m-2 51h2m-1-12h2m-1-40h2m-2 45h2m-2 4h2m-1-17h2m-2 1h2m-2 22h2m0-42h2m-2 7h2m-2 10h2m-1-5h2m-2 62h2m-1-71h2m-2 17h2m-2 22h2m-1-26h2m0-5h2m-2 6h2m-1 0h2m0-10h2m-2 1h2m-2 4h2m-2 6h2m-2 14h2m-2 1h2m-1-23h2m-2 4h2m-2 4h2m-2 5h2m-2 33h2m-1-52h2m-2 35h2m-2 4h2m-1-27h2m-2 16h2m-1-30h2m-2 16h2m-2 41h2m-1-39h2m-2 13h2m-1-21h2m-2 11h2m-2 51h2m-1-53h2m-1-22h2m-1 1h2m-2 15h2m-2 8h2m-2 5h2m-2 7h2m-1-54h2m-2 12h2m-2 7h2m-2 1h2m-2 20h2m-2 13h2m-2 8h2m-1-46h2m-2 19h2m-2 6h2m-2 4h2m-2 1h2m-1-29h2m-2 25h2m-1-22h2m-2 5h2m-2 1h2m-2 12h2m-2 26h2m-1-40h2m-2 5h2m-2 1h2m-1 1h2m-2 1h2m-2 28h2m-1-35h2m-2 16h2m-2 39h2m-1-59h2m-2 8h2m-2 2h2m-2 6h2m-2 1h2m-1-21h2m-2 9h2m-2 15h2m-1-33h2m-2 22h2m-2 4h2m-1-1h2m-2 5h2m-2 9h2m-2 24h2m-2 11h2m-1-63h2m-2 16h2m-2 5h2m-2 14h2m-2 16h2m-1-47h2m0 20h2m-1-27h2m-2 8h2m-2 19h2m-2 8h2m-2 39h2m2-62h2m-2 9h2m-1 2h2m-1-7h2m-2 9h2m-2 39h2m-1-66h2m-2 8h2m-2 2h2m-2 4h2m-1-18h2m-2 6h2m-2 15h2m0 0h2m-2 9h2m-1-28h2m-2 7h2m-2 14h2m-2 33h2m-1-50h2m-2 24h2m-1-27h2m-2 8h2m-1 1h2m-2 21h2m-2 11h2m7-18h2m1 21h2m-1-58h2m-2 57h2"/><path d="M90 1210h2m-1 12h2m2-6h2m2-3h2m-2 9h2m-1-11h2m-2 10h2m-2 7h2m-1-11h2m-2 4h2m-1-8h2m-1-4h2m-2 3h2m-2 7h2m-2 5h2m0-12h2m-2 8h2m-1-62h2m-2 51h2m-1 8h2m-2 8h2m-1-19h2m-2 9h2m-1-8h2m-2 4h2m-2 2h2m-2 1h2m-2 9h2m-2 1h2m-1-11h2m-2 7h2m-1-13h2m-2 10h2m-1-9h2m-2 2h2m-2 1h2m-2 8h2m-2 1h2m-1-14h2m-2 3h2m-2 2h2m-2 4h2m-2 7h2m-2 3h2m-1-21h2m-2 10h2m-2 7h2m-1-17h2m-2 5h2m-2 1h2m-2 3h2m-1-11h2m-2 6h2m-1-4h2m-2 3h2m-2 4h2m-2 2h2m-2 1h2m-2 4h2m-1-12h2m-2 2h2m-2 1h2m-2 2h2m-2 1h2m-2 2h2m-2 2h2m-2 3h2m-1-20h2m-2 2h2m-2 9h2m-2 1h2m-2 3h2m-1-11h2m-2 2h2m-2 1h2m-2 8h2m-1-18h2m-2 1h2m-2 4h2m-2 12h2m-1-8h2m-2 1h2m-2 5h2m-2 2h2m-2 1h2m-2 1h2m-1-10h2m-2 4h2m-2 3h2m-1-8h2m-2 4h2m-2 6h2m-2 2h2m-1-24h2m-2 5h2m-2 2h2m-2 5h2m-2 5h2m-2 5h2m-1-15h2m-2 5h2m-2 1h2m-2 3h2m-2 4h2m-1-9h2m-2 1h2m-2 3h2m-2 3h2m-1-8h2m-2 1h2m-2 16h2m-1-19h2m-2 3h2m-2 1h2m-2 3h2m-1-9h2m-2 1h2m-2 6h2m-2 3h2m-2 3h2m-2 2h2m-2 2h2m-1-18h2m-2 3h2m-2 4h2m-2 9h2m-1-26h2m-2 16h2m-1-1h2m-2 1h2m-1-21h2m-2 8h2m-2 14h2m-2 6h2m-1-7h2m-1-7h2m-2 4h2m-2 3h2m-1 7h2m-1-26h2m-2 10h2m-2 5h2m-1-5h2m-2 3h2m-1 6h2m-2 2h2m-1-74h2m-1 63h2m-1 4h2m0-24h2m-1 25h2m-1-17h2m-2 12h2m-1 5h2m-2 6h2m1 3h2m-1-29h2m-2 1h2m-2 2h2m-2 14h2m-2 13h2m-2 11h2m-1-66h2m-2 48h2m-1-24h2m-2 6h2m-2 3h2m-2 11h2m-2 3h2m-1-34h2m-2 7h2m-2 18h2m-2 20h2m-1-49h2m-2 15h2m-2 5h2m-2 3h2m-2 5h2m-1-13h2m-1-11h2m-2 12h2m-1 4h2m-2 3h2m-2 15h2m-1-25h2m-2 12h2m-1-25h2m-2 12h2m-2 1h2m-2 15h2m-1-22h2m-2 20h2m-1-27h2m-2 2h2m-2 1h2m-2 5h2m-2 2h2m-2 7h2m-2 6h2m-2 3h2m-1-33h2m-2 11h2m-2 11h2m-2 12h2m-2 16h2m-1-44h2m-2 14h2m-2 22h2m-2 18h2m-1-72h2m-2 12h2m-2 11h2m-2 14h2m-1-5h2m-2 15h2m-2 1h2m-2 2h2m-2 10h2m-1-54h2m-2 7h2m-2 26h2m-1-1h2m-2 23h2m-1-39h2m-2 3h2m-2 3h2m-2 15h2m-1-23h2m-2 4h2m-2 40h2m-1-57h2m-2 27h2m-1 6h2m-2 5h2m-2 10h2m-1 4h2m-1-50h2m-2 27h2m-2 4h2m-2 16h2m-1-49h2m-2 26h2m-2 7h2m-1-20h2m-2 3h2m-2 2h2m-1-17h2m-2 15h2m-2 2h2m-2 2h2m-2 2h2m-2 8h2m-2 17h2m-1-48h2m-2 17h2m-2 2h2m-2 21h2m-1-39h2m-2 3h2m-2 14h2m-2 15h2m-2 2h2m-1-23h2m-2 7h2m0 26h2m0-39h2m-2 17h2m-1-9h2m-2 9h2m-2 17h2m-2 11h2m-1-36h2m-2 14h2m-2 31h2m-1-40h2m-2 11h2m2-13h2m-2 5h2m1-13h2m-2 20h2m-1 23h2m7-58h2m-1 11h2m-2 2h2m-2 19h2m0-8h2"/></g><rect x="44.30" y="559.40" width="61.70" height="59.00" fill="none" stroke="#3a3a3a" stroke-width="0.9"/><line x1="72.70" y1="559.40" x2="72.70" y2="618.40" stroke="#3a3a3a" stroke-width="0.85"/><line x1="44.30" y1="596.10" x2="106.00" y2="596.10" stroke="#3a3a3a" stroke-width="0.85"/><ellipse cx="65.0" cy="589.8" rx="1.3" ry="0.9" fill="#333" opacity="0.8"/><ellipse cx="80.0" cy="589.8" rx="1.3" ry="0.9" fill="#333" opacity="0.8"/><ellipse cx="80.0" cy="603.0" rx="1.3" ry="0.9" fill="#333" opacity="0.8"/><text x="47.5" y="565.7" font-size="4.3" text-anchor="start" font-weight="normal" fill="#333" stroke="#333" stroke-width="0.05" >B489 5uM</text><line x1="42.70" y1="565.90" x2="44.30" y2="565.90" stroke="#555" stroke-width="0.6"/><text x="40.3" y="567.3" font-size="3.8" text-anchor="end" fill="#666">10<tspan font-size="2.6" dy="-1.4">3</tspan></text><line x1="42.70" y1="580.40" x2="44.30" y2="580.40" stroke="#555" stroke-width="0.6"/><text x="40.3" y="581.8" font-size="3.8" text-anchor="end" fill="#666">10<tspan font-size="2.6" dy="-1.4">2</tspan></text><line x1="42.70" y1="594.90" x2="44.30" y2="594.90" stroke="#555" stroke-width="0.6"/><text x="40.3" y="596.3" font-size="3.8" text-anchor="end" fill="#666">10<tspan font-size="2.6" dy="-1.4">1</tspan></text><line x1="42.70" y1="609.40" x2="44.30" y2="609.40" stroke="#555" stroke-width="0.6"/><text x="40.3" y="610.8" font-size="3.8" text-anchor="end" fill="#666">10<tspan font-size="2.6" dy="-1.4">0</tspan></text><line x1="52.80" y1="618.40" x2="52.80" y2="619.80" stroke="#555" stroke-width="0.6"/><text x="52.8" y="625.8" font-size="3.8" text-anchor="middle" fill="#666">10<tspan font-size="2.6" dy="-1.4">0</tspan></text><line x1="68.30" y1="618.40" x2="68.30" y2="619.80" stroke="#555" stroke-width="0.6"/><text x="68.3" y="625.8" font-size="3.8" text-anchor="middle" fill="#666">10<tspan font-size="2.6" dy="-1.4">1</tspan></text><line x1="83.80" y1="618.40" x2="83.80" y2="619.80" stroke="#555" stroke-width="0.6"/><text x="83.8" y="625.8" font-size="3.8" text-anchor="middle" fill="#666">10<tspan font-size="2.6" dy="-1.4">2</tspan></text><line x1="99.30" y1="618.40" x2="99.30" y2="619.80" stroke="#555" stroke-width="0.6"/><text x="99.3" y="625.8" font-size="3.8" text-anchor="middle" fill="#666">10<tspan font-size="2.6" dy="-1.4">3</tspan></text><line x1="57.47" y1="617.30" x2="57.47" y2="618.40" stroke="#666" stroke-width="0.4"/><line x1="60.20" y1="617.30" x2="60.20" y2="618.40" stroke="#666" stroke-width="0.4"/><line x1="62.13" y1="617.30" x2="62.13" y2="618.40" stroke="#666" stroke-width="0.4"/><line x1="63.63" y1="617.30" x2="63.63" y2="618.40" stroke="#666" stroke-width="0.4"/><line x1="64.86" y1="617.30" x2="64.86" y2="618.40" stroke="#666" stroke-width="0.4"/><line x1="65.90" y1="617.30" x2="65.90" y2="618.40" stroke="#666" stroke-width="0.4"/><line x1="66.80" y1="617.30" x2="66.80" y2="618.40" stroke="#666" stroke-width="0.4"/><line x1="67.59" y1="617.30" x2="67.59" y2="618.40" stroke="#666" stroke-width="0.4"/><line x1="72.97" y1="617.30" x2="72.97" y2="618.40" stroke="#666" stroke-width="0.4"/><line x1="75.70" y1="617.30" x2="75.70" y2="618.40" stroke="#666" stroke-width="0.4"/><line x1="77.63" y1="617.30" x2="77.63" y2="618.40" stroke="#666" stroke-width="0.4"/><line x1="79.13" y1="617.30" x2="79.13" y2="618.40" stroke="#666" stroke-width="0.4"/><line x1="80.36" y1="617.30" x2="80.36" y2="618.40" stroke="#666" stroke-width="0.4"/><line x1="81.40" y1="617.30" x2="81.40" y2="618.40" stroke="#666" stroke-width="0.4"/><line x1="82.30" y1="617.30" x2="82.30" y2="618.40" stroke="#666" stroke-width="0.4"/><line x1="83.09" y1="617.30" x2="83.09" y2="618.40" stroke="#666" stroke-width="0.4"/><line x1="88.47" y1="617.30" x2="88.47" y2="618.40" stroke="#666" stroke-width="0.4"/><line x1="91.20" y1="617.30" x2="91.20" y2="618.40" stroke="#666" stroke-width="0.4"/><line x1="93.13" y1="617.30" x2="93.13" y2="618.40" stroke="#666" stroke-width="0.4"/><line x1="94.63" y1="617.30" x2="94.63" y2="618.40" stroke="#666" stroke-width="0.4"/><line x1="95.86" y1="617.30" x2="95.86" y2="618.40" stroke="#666" stroke-width="0.4"/><line x1="96.90" y1="617.30" x2="96.90" y2="618.40" stroke="#666" stroke-width="0.4"/><line x1="97.80" y1="617.30" x2="97.80" y2="618.40" stroke="#666" stroke-width="0.4"/><line x1="98.59" y1="617.30" x2="98.59" y2="618.40" stroke="#666" stroke-width="0.4"/><text x="103.0" y="635.4" font-size="5.6" text-anchor="end" font-weight="normal" fill="#222" stroke="#222" stroke-width="0.1" >51,5%</text><text x="34.5" y="635.4" font-size="5.8" text-anchor="start" font-weight="normal" fill="#222" stroke="#222" stroke-width="0.1" >Cell death:</text><g transform="scale(0.5)" stroke="#000" stroke-width="1.6" stroke-opacity="0.22" filter="url(#fb)"><path d="M246 1196h2m-1-23h2m-2 22h2m0 5h2m1-7h2m-1 5h2m-1-9h2m1-54h2m-2 64h2m0-11h2m-1-8h2m-2 11h2m-2 4h2m-1-2h2m-2 2h2m-1-1h2m-2 1h2m-2 6h2m-1 14h2m-1-32h2m-2 13h2m-2 9h2m-1-39h2m-2 17h2m-2 3h2m-1 24h2m0-28h2m-2 35h2m-1-36h2m-1 4h2m-2 6h2m-1-11h2m-2 30h2m-1-33h2m-2 5h2m-2 2h2m-2 11h2m-1-6h2m-2 13h2m-1 5h2m-1-15h2m-1 1h2m-2 4h2m-2 2h2m-2 4h2m-2 4h2m-1-10h2m-2 4h2m-2 2h2m-1-21h2m-2 15h2m-2 1h2m-1 3h2m-2 2h2m-2 1h2m-2 2h2m-2 2h2m-1-29h2m-2 15h2m-2 15h2m-1-23h2m-2 12h2m-1-21h2m-2 2h2m-2 2h2m-2 5h2m-2 6h2m-1-18h2m-2 9h2m-2 25h2m-1-28h2m-2 24h2m-1-4h2m-2 3h2m-2 3h2m-1-26h2m-2 3h2m-2 10h2m-2 5h2m-2 3h2m-2 6h2m-1-34h2m-2 13h2m-2 7h2m-2 3h2m-2 1h2m-2 7h2m-2 1h2m-2 3h2m-1-20h2m-2 3h2m-2 11h2m-2 2h2m-2 6h2m-1-29h2m-2 7h2m-2 12h2m-2 3h2m-2 6h2m-1-23h2m-2 9h2m-2 11h2m-1-16h2m-2 3h2m-2 3h2m-2 1h2m-2 6h2m-2 4h2m-1-28h2m-2 13h2m-2 12h2m-2 7h2m-2 4h2m-1-24h2m-2 5h2m-2 4h2m-2 3h2m-1-19h2m-2 4h2m-2 2h2m-2 10h2m-2 2h2m-2 2h2m-2 3h2m-1-21h2m-2 7h2m-2 3h2m-2 15h2m-1-32h2m-2 20h2m-2 1h2m-2 5h2m-2 2h2m-2 9h2m-1-23h2m-2 4h2m-2 7h2m-2 1h2m-2 2h2m-2 2h2m-2 1h2m-1-17h2m-2 3h2m-2 2h2m-2 1h2m-2 1h2m-2 10h2m-1-22h2m-2 2h2m-2 5h2m-2 9h2m-2 3h2m-2 2h2m-1-30h2m-2 5h2m-2 12h2m-2 1h2m-2 5h2m-2 1h2m-2 3h2m-2 3h2m-1-8h2m-2 1h2m-2 1h2m-2 2h2m-2 4h2m-1-27h2m-2 6h2m-2 7h2m-2 1h2m-2 6h2m-2 1h2m-2 2h2m-2 4h2m-2 2h2m-1-18h2m-2 4h2m-2 5h2m-2 2h2m-2 3h2m-2 1h2m-2 2h2m-2 4h2m-1-39h2m-2 10h2m-2 3h2m-2 8h2m-2 3h2m-2 1h2m-2 1h2m-2 4h2m-1-10h2m-2 1h2m-2 2h2m-2 2h2m-2 2h2m-2 1h2m-2 5h2m-2 4h2m-1-40h2m-2 11h2m-2 15h2m-2 3h2m-2 1h2m-2 2h2m-2 2h2m-1-16h2m-2 9h2m-2 5h2m-2 1h2m-2 4h2m-2 1h2m-1-19h2m-2 1h2m-2 3h2m-2 2h2m-2 2h2m-2 1h2m-2 2h2m-1-14h2m-2 1h2m-2 8h2m-2 1h2m-2 2h2m-1-8h2m-2 5h2m-2 7h2m-2 4h2m-2 4h2m-1-23h2m-2 4h2m-2 2h2m-2 3h2m-2 3h2m-1-17h2m-2 2h2m-2 4h2m-2 7h2m-2 1h2m-2 1h2m-2 1h2m-2 3h2m-2 1h2m-2 3h2m-2 3h2m-1-22h2m-2 1h2m-2 5h2m-2 1h2m-2 1h2m-2 1h2m-2 1h2m-2 8h2m-2 3h2m-1-7h2m-2 31h2m-1-45h2m-2 1h2m-2 2h2m-2 3h2m-2 5h2m-2 1h2m-2 2h2m-2 2h2m-1-14h2m-2 2h2m-2 3h2m-2 4h2m-2 3h2m-2 1h2m-2 2h2m-1-17h2m-2 7h2m-2 1h2m-2 1h2m-2 2h2m-2 9h2m-2 1h2m-1-9h2m-2 2h2m-2 1h2m-1-17h2m-2 10h2m-2 6h2m-2 3h2m-2 3h2m-1-37h2m-2 23h2m-2 4h2m-1-2h2m-2 1h2m-1-27h2m-2 18h2m-2 4h2m-2 1h2m-2 11h2m-2 4h2m-1-12h2m-2 1h2m-1-2h2m-1-12h2m-2 4h2m-2 10h2m-1-19h2m-2 11h2m-1 6h2m-2 1h2m-2 7h2m-1-5h2m-1-5h2m-1-3h2m7 10h2"/><path d="M247 1178h2m-1 15h2m-1 13h2m-1-11h2m-1 8h2m-1-12h2m-1-23h2m-2 59h2m-1-51h2m-1 18h2m0 1h2m-2 6h2m0-29h2m-2 8h2m0 5h2m-1 2h2m-2 5h2m-1 5h2m-2 7h2m-2 1h2m-1-21h2m-2 18h2m0-11h2m-2 1h2m-1-23h2m-2 27h2m-1-3h2m-2 4h2m-2 1h2m-1-8h2m-2 12h2m-1-16h2m-2 3h2m-1-10h2m-2 8h2m-2 5h2m-2 2h2m-1-2h2m-1 2h2m-2 1h2m-2 2h2m0 4h2m-2 19h2m-1-20h2m-2 1h2m-2 8h2m0-21h2m-2 5h2m-1-6h2m-2 17h2m-1-9h2m-2 2h2m-2 15h2m-1-22h2m-2 13h2m-2 5h2m-2 5h2m-1-39h2m-2 11h2m-2 17h2m-2 6h2m-2 1h2m-1-12h2m-2 4h2m-2 3h2m-1-13h2m-2 5h2m-2 1h2m-2 7h2m-1-24h2m-2 1h2m-2 3h2m-2 22h2m-2 1h2m-2 1h2m-2 1h2m-1-25h2m-2 1h2m-2 2h2m-2 18h2m-1-35h2m-2 12h2m-2 15h2m-2 7h2m-2 1h2m-1-20h2m-2 6h2m-2 9h2m-2 2h2m-2 11h2m-1-28h2m-2 12h2m-2 4h2m-1-4h2m-2 2h2m-2 14h2m-1-22h2m-2 2h2m-2 8h2m-2 1h2m-2 6h2m-1-10h2m-2 6h2m-2 2h2m-2 2h2m-1-12h2m-2 3h2m-2 5h2m-1-7h2m-2 2h2m-2 2h2m-2 1h2m-1-21h2m-2 15h2m-2 1h2m-2 6h2m-2 2h2m-2 3h2m-1-30h2m-2 8h2m-2 5h2m-2 4h2m-2 1h2m-2 4h2m-2 1h2m-2 3h2m-2 4h2m-2 5h2m-1-22h2m-2 4h2m-2 5h2m-2 1h2m-2 3h2m-2 5h2m-2 1h2m-1-23h2m-2 11h2m-2 1h2m-2 2h2m-2 5h2m-2 6h2m-1-47h2m-2 21h2m-2 9h2m-2 3h2m-2 2h2m-2 1h2m-2 1h2m-2 7h2m-1-18h2m-2 10h2m-2 1h2m-2 3h2m-1-15h2m-2 7h2m-2 4h2m-2 3h2m-2 8h2m-1-21h2m-2 5h2m-2 1h2m-2 1h2m-2 1h2m-2 2h2m-2 2h2m-2 1h2m-2 2h2m-1-14h2m-2 5h2m-2 1h2m-2 4h2m-2 8h2m-2 1h2m-1-33h2m-2 4h2m-2 6h2m-2 5h2m-2 3h2m-2 1h2m-2 4h2m-1-17h2m-2 11h2m-2 1h2m-2 3h2m-2 3h2m-2 4h2m-2 2h2m-2 1h2m-1-13h2m-2 1h2m-2 3h2m-2 1h2m-2 1h2m-2 1h2m-2 1h2m-2 1h2m-2 1h2m-1-37h2m-2 19h2m-2 6h2m-2 2h2m-2 2h2m-2 3h2m-2 1h2m-2 2h2m-2 3h2m-2 7h2m-2 1h2m-1-28h2m-2 2h2m-2 2h2m-2 7h2m-2 1h2m-2 1h2m-2 1h2m-2 4h2m-2 2h2m-1-15h2m-2 1h2m-2 3h2m-2 1h2m-2 2h2m-2 1h2m-2 4h2m-2 1h2m-2 6h2m-1-9h2m-1-72h2m-2 45h2m-2 2h2m-2 17h2m-2 4h2m-2 1h2m-2 4h2m-2 10h2m-1-32h2m-2 3h2m-2 8h2m-1-2h2m-2 10h2m-2 3h2m-2 2h2m-2 1h2m-2 6h2m-1-43h2m-2 17h2m-2 3h2m-2 1h2m-2 5h2m-2 1h2m-2 2h2m-2 3h2m-2 1h2m-1-29h2m-2 4h2m-2 11h2m-2 4h2m-2 7h2m-2 3h2m-2 2h2m-1-11h2m-2 3h2m-2 2h2m-2 1h2m-2 5h2m-2 8h2m-1-29h2m-2 4h2m-2 12h2m-2 1h2m-2 6h2m-1-13h2m-2 3h2m-2 3h2m-1-12h2m-2 11h2m-2 1h2m-2 3h2m-2 8h2m-1-10h2m-2 2h2m-2 1h2m-2 1h2m-1-4h2m-1-13h2m-2 7h2m-1 0h2m-2 14h2m-1 3h2m-1-4h2m-1-20h2m-2 2h2m0 4h2m-2 1h2m-2 3h2m-1-36h2m-2 36h2m-1-8h2m-1 30h2m18-38h2"/><path d="M247 1191h2m-2 6h2m-1-18h2m-2 29h2m-1-19h2m-1-52h2m-1 69h2m-1-3h2m-1-20h2m0-2h2m4 13h2m-1-23h2m-2 30h2m-1-1h2m0-9h2m-2 2h2m-1-9h2m-2 13h2m-1-11h2m-1 5h2m-1-14h2m-2 7h2m-2 1h2m-2 8h2m-2 7h2m-1-23h2m-2 22h2m-1-7h2m-1 13h2m-1-31h2m-2 8h2m-2 1h2m-2 17h2m0-4h2m-1-13h2m-2 7h2m-1 6h2m-2 3h2m-1-8h2m-2 12h2m-2 3h2m-1-27h2m-2 8h2m-1 18h2m-2 4h2m-1-28h2m-2 9h2m-2 6h2m-2 15h2m-1-29h2m-2 27h2m-1-24h2m-2 8h2m-2 9h2m-2 6h2m-2 4h2m-1-28h2m-2 4h2m-2 17h2m-2 7h2m-1-36h2m-2 26h2m-2 2h2m-1-9h2m-2 11h2m-2 5h2m-1-43h2m-2 15h2m-2 14h2m-2 3h2m-2 6h2m-2 3h2m-2 2h2m-1-30h2m-2 3h2m-2 7h2m-2 5h2m-2 12h2m-2 5h2m-1-15h2m-1-22h2m-2 10h2m-2 9h2m-2 8h2m-2 4h2m-2 5h2m-1-17h2m-2 2h2m-2 3h2m-2 3h2m-2 9h2m-1-22h2m-2 5h2m-2 7h2m-2 4h2m-1-26h2m-2 11h2m-2 5h2m-2 1h2m-2 2h2m-2 5h2m-2 1h2m-2 3h2m-2 10h2m-1-29h2m-2 1h2m-2 5h2m-2 6h2m-2 1h2m-2 4h2m-2 8h2m-1-19h2m-2 1h2m-2 3h2m-2 3h2m-2 1h2m-2 2h2m-2 1h2m-2 1h2m-2 1h2m-1-17h2m-2 4h2m-2 6h2m-2 2h2m-2 1h2m-2 4h2m-2 7h2m-1-35h2m-2 8h2m-2 2h2m-2 1h2m-2 4h2m-2 1h2m-2 2h2m-2 1h2m-2 5h2m-2 8h2m-1-16h2m-2 1h2m-2 3h2m-2 3h2m-2 1h2m-2 5h2m-1-21h2m-2 9h2m-2 6h2m-2 2h2m-2 1h2m-1-20h2m-2 5h2m-2 1h2m-2 6h2m-2 1h2m-2 2h2m-2 2h2m-2 2h2m-2 5h2m-1-20h2m-2 2h2m-2 7h2m-2 2h2m-2 2h2m-2 1h2m-2 4h2m-1-18h2m-2 2h2m-2 2h2m-2 2h2m-2 1h2m-2 1h2m-2 3h2m-2 2h2m-2 1h2m-2 7h2m-1-47h2m-2 33h2m-2 1h2m-2 2h2m-2 2h2m-2 1h2m-2 1h2m-2 2h2m-2 1h2m-1-22h2m-2 8h2m-2 2h2m-2 2h2m-2 2h2m-2 1h2m-2 7h2m-2 4h2m-1-19h2m-2 3h2m-2 1h2m-2 5h2m-2 2h2m-2 5h2m-1-17h2m-2 7h2m-2 2h2m-2 2h2m-2 3h2m-2 4h2m-2 4h2m-1-19h2m-2 4h2m-2 2h2m-2 1h2m-2 2h2m-2 4h2m-2 3h2m-1-34h2m-2 16h2m-2 3h2m-2 1h2m-2 1h2m-2 3h2m-2 1h2m-2 5h2m-1-16h2m-2 1h2m-2 1h2m-2 3h2m-2 8h2m-2 4h2m-1-29h2m-2 2h2m-2 13h2m-2 2h2m-2 3h2m-2 2h2m-2 2h2m-2 1h2m-2 3h2m-2 2h2m-2 2h2m-1-17h2m-2 6h2m-2 2h2m-2 3h2m-2 5h2m-2 10h2m-1-28h2m-2 2h2m-2 11h2m-1-7h2m-2 1h2m-2 10h2m-1-24h2m-2 12h2m-2 5h2m-2 1h2m-2 11h2m-1-21h2m-2 1h2m-2 6h2m-2 1h2m-2 6h2m-2 4h2m-1-45h2m-2 15h2m-2 11h2m-2 6h2m-2 3h2m-2 4h2m-1-37h2m-2 18h2m-2 9h2m-2 5h2m-2 2h2m-2 4h2m-1-16h2m-2 1h2m-2 4h2m-2 9h2m-2 8h2m-1-30h2m-2 18h2m-2 6h2m-1-18h2m-2 11h2m-2 2h2m-2 3h2m-2 1h2m-1 2h2m-1-6h2m-2 3h2m-2 5h2m-1-18h2m-2 11h2m-1-16h2m-1 9h2m-2 11h2m0-32h2m-2 22h2m-1 0h2m-2 8h2m-1-16h2m-2 1h2m0 4h2m-2 4h2m-1 0h2m-2 2h2m0-15h2m-1 8h2m0-17h2m-1 24h2m1 14h2m4-71h2"/><path d="M246 1193h2m2 6h2m1-18h2m-1-3h2m-1-5h2m-2 17h2m-2 15h2m-2 1h2m-1-11h2m-2 2h2m-1-14h2m-1 0h2m-2 9h2m-1-10h2m-2 1h2m-2 4h2m-2 7h2m-2 17h2m-1-22h2m-1-12h2m-2 18h2m-2 1h2m-2 15h2m1-27h2m-2 11h2m0 12h2m-2 3h2m-1 5h2m-1-20h2m-2 1h2m-1-5h2m-1-7h2m-2 6h2m-2 4h2m-1-7h2m-2 30h2m-2 5h2m-1-32h2m0 5h2m-2 3h2m-2 22h2m-1-46h2m-2 4h2m-2 14h2m-2 3h2m-2 8h2m-1-16h2m-2 16h2m0-27h2m-2 9h2m-1 1h2m-2 20h2m0-24h2m-2 4h2m-2 1h2m-2 10h2m-2 6h2m-2 1h2m-1-4h2m-2 9h2m-1-25h2m-2 10h2m-2 1h2m-2 2h2m-2 2h2m-2 1h2m-2 2h2m-2 4h2m-1-27h2m-2 17h2m-2 3h2m-2 4h2m-2 1h2m-1-30h2m-2 17h2m-2 7h2m-2 5h2m-1-22h2m-2 16h2m-2 5h2m-2 3h2m-2 2h2m-2 2h2m-1-22h2m-2 3h2m-2 6h2m-2 1h2m-2 8h2m-2 4h2m-1-15h2m-2 4h2m-2 3h2m-2 3h2m-2 8h2m-1-28h2m-2 5h2m-2 11h2m-2 1h2m-2 1h2m-2 2h2m-2 5h2m-1-18h2m-2 8h2m-2 7h2m-1-17h2m-2 8h2m-2 2h2m-2 2h2m-2 1h2m-2 4h2m-2 9h2m-1-28h2m-2 1h2m-2 20h2m-2 8h2m-1-41h2m-2 18h2m-2 6h2m-2 2h2m-1-14h2m-2 15h2m-2 2h2m-2 1h2m-1-31h2m-2 3h2m-2 11h2m-2 10h2m-2 2h2m-2 4h2m-2 3h2m-2 1h2m-1-26h2m-2 1h2m-2 3h2m-2 18h2m-2 2h2m-2 1h2m-1-14h2m-2 2h2m-2 1h2m-2 2h2m-2 2h2m-2 2h2m-2 13h2m-1-24h2m-2 1h2m-2 3h2m-2 3h2m-2 7h2m-2 8h2m-1-34h2m-2 1h2m-2 4h2m-2 2h2m-2 8h2m-2 1h2m-2 7h2m-2 4h2m-2 3h2m-2 6h2m-1-43h2m-2 12h2m-2 16h2m-2 1h2m-2 4h2m-2 1h2m-2 1h2m-2 1h2m-2 4h2m-2 1h2m-1-24h2m-2 11h2m-2 3h2m-2 1h2m-2 1h2m-2 1h2m-2 4h2m-2 4h2m-1-33h2m-2 11h2m-2 3h2m-2 3h2m-2 1h2m-2 1h2m-2 2h2m-2 1h2m-2 1h2m-2 9h2m-1-23h2m-2 3h2m-2 2h2m-2 1h2m-2 2h2m-2 7h2m-2 5h2m-1-19h2m-2 11h2m-2 1h2m-2 8h2m-1-30h2m-2 2h2m-2 13h2m-2 1h2m-2 2h2m-2 4h2m-2 2h2m-2 2h2m-2 4h2m-1-25h2m-2 7h2m-2 1h2m-2 5h2m-2 4h2m-2 3h2m-1-23h2m-2 14h2m-2 2h2m-2 3h2m-2 2h2m-2 5h2m-2 9h2m-1-42h2m-2 15h2m-2 5h2m-2 3h2m-2 5h2m-2 1h2m-2 1h2m-2 1h2m-2 1h2m-1-20h2m-2 9h2m-2 1h2m-2 2h2m-1-15h2m-2 3h2m-2 6h2m-2 1h2m-2 6h2m-2 3h2m-2 1h2m-2 1h2m-1-18h2m-2 4h2m-2 6h2m-2 4h2m-2 1h2m-2 1h2m-2 3h2m-1-16h2m-2 3h2m-2 1h2m-2 1h2m-2 8h2m-2 1h2m-2 1h2m-2 1h2m-2 1h2m-2 6h2m-1-25h2m-2 2h2m-2 1h2m-2 1h2m-2 1h2m-2 6h2m-2 2h2m-2 4h2m-2 2h2m-2 2h2m-1-10h2m-2 1h2m-2 4h2m-2 3h2m-1-35h2m-2 6h2m-1-1h2m-2 16h2m-2 2h2m-2 7h2m-2 1h2m-2 1h2m-2 14h2m-1-13h2m-2 3h2m-1-18h2m-2 10h2m-1-6h2m-1-4h2m-2 6h2m-2 1h2m-2 1h2m-2 12h2m-1-23h2m-2 25h2m-1-14h2m-1-16h2m-2 20h2m-2 1h2m0-18h2m-2 16h2m-2 6h2m-1-13h2m0-2h2m-2 1h2m-1 19h2m3-31h2m3 19h2m15-20h2"/><path d="M247 1175h2m-1 0h2m-1 13h2m-2 1h2m0 3h2m-1-24h2m-2 15h2m-2 4h2m-1 1h2m-1 13h2m0-13h2m-2 3h2m-2 24h2m-1-14h2m-1-7h2m0-17h2m-2 7h2m-1 8h2m-2 8h2m0-10h2m-2 2h2m-1-7h2m-2 14h2m-2 1h2m-2 3h2m-1-21h2m-2 15h2m1-4h2m-1-12h2m-2 3h2m-2 7h2m-1 5h2m-2 12h2m-1-12h2m-1-13h2m-2 23h2m-1-29h2m-2 9h2m-2 4h2m-2 9h2m-2 12h2m-1-31h2m-2 10h2m-2 2h2m-2 7h2m-2 1h2m-1-2h2m-1-3h2m-2 6h2m-2 8h2m0-29h2m-2 2h2m-2 5h2m-2 11h2m-2 5h2m-2 2h2m-2 5h2m-1-32h2m-1 6h2m-2 16h2m-1-5h2m-1-5h2m-2 14h2m-1-18h2m-2 21h2m-1-41h2m-2 14h2m-2 5h2m-2 17h2m-1 5h2m-2 4h2m-1-20h2m-2 5h2m-1-15h2m-2 8h2m-2 8h2m-2 4h2m-1-21h2m-2 11h2m-2 14h2m-2 3h2m-2 2h2m-1-21h2m-2 4h2m-2 4h2m-2 1h2m-2 6h2m-2 10h2m-1-35h2m-2 5h2m-2 7h2m-2 3h2m-2 4h2m-2 3h2m-1-1h2m-2 8h2m-2 2h2m-2 7h2m-1-33h2m-2 5h2m-2 9h2m-2 1h2m-2 1h2m-2 2h2m-2 1h2m-2 5h2m-1-10h2m-2 1h2m-2 3h2m-2 7h2m-1-13h2m-2 3h2m-2 2h2m-2 2h2m-1-25h2m-2 2h2m-2 3h2m-2 5h2m-2 3h2m-2 4h2m-2 7h2m-2 1h2m-2 1h2m-2 2h2m-2 7h2m-1-18h2m-2 2h2m-2 5h2m-2 5h2m-1-23h2m-2 11h2m-2 2h2m-2 3h2m-2 2h2m-2 1h2m-2 1h2m-2 2h2m-2 1h2m-2 5h2m-1-17h2m-2 6h2m-2 1h2m-2 3h2m-2 1h2m-2 4h2m-2 1h2m-1-25h2m-2 11h2m-2 1h2m-2 2h2m-2 3h2m-2 1h2m-2 2h2m-1-6h2m-2 1h2m-2 1h2m-2 1h2m-2 5h2m-2 4h2m-1-26h2m-2 1h2m-2 5h2m-2 5h2m-2 4h2m-2 1h2m-2 3h2m-2 1h2m-2 10h2m-1-32h2m-2 1h2m-2 14h2m-2 3h2m-2 1h2m-2 5h2m-2 1h2m-1-14h2m-2 1h2m-2 1h2m-2 3h2m-2 1h2m-2 2h2m-2 1h2m-2 1h2m-2 1h2m-2 2h2m-1-12h2m-2 1h2m-2 1h2m-2 1h2m-2 1h2m-2 2h2m-2 1h2m-2 4h2m-2 1h2m-2 1h2m-1-11h2m-2 2h2m-2 4h2m-2 2h2m-2 2h2m-1-27h2m-2 6h2m-2 11h2m-2 2h2m-2 3h2m-2 2h2m-2 1h2m-2 2h2m-1-9h2m-2 3h2m-2 10h2m-1-20h2m-2 7h2m-2 2h2m-2 2h2m-2 3h2m-2 5h2m-1-39h2m-2 19h2m-2 1h2m-2 4h2m-2 2h2m-2 1h2m-2 1h2m-2 4h2m-2 1h2m-2 2h2m-2 3h2m-1-40h2m-2 25h2m-2 4h2m-2 3h2m-2 5h2m-1-19h2m-2 7h2m-2 7h2m-2 3h2m-2 4h2m-1-24h2m-2 10h2m-2 2h2m-2 2h2m-2 2h2m-2 1h2m-2 1h2m-1-15h2m-2 23h2m-2 5h2m-1-21h2m-2 1h2m-2 1h2m-2 3h2m-2 2h2m-1-7h2m-2 1h2m-2 3h2m-2 2h2m-2 1h2m-2 8h2m-2 1h2m-2 2h2m-1-21h2m-2 4h2m-2 2h2m-2 4h2m-2 4h2m-2 3h2m-1-27h2m-2 14h2m-2 1h2m-2 4h2m-2 5h2m-1-14h2m-2 8h2m-1-25h2m-2 21h2m-2 5h2m-2 3h2m-1-15h2m-2 3h2m-2 2h2m-2 1h2m-2 5h2m-2 2h2m-2 1h2m-2 7h2m-1-16h2m-2 11h2m-1-11h2m-2 7h2m-1 1h2m-1-15h2m-2 10h2m-1-8h2m-2 1h2m-2 13h2m0-16h2m-2 12h2m0-15h2m1-14h2m-1 21h2m-1-12h2m-1 2h2m8 6h2m7 36h2"/><path d="M247 1184h2m2 13h2m0-6h2m-2 16h2m-1-12h2m-2 3h2m-1-20h2m-1 2h2m-2 1h2m-2 6h2m-2 11h2m0 9h2m-1-18h2m-2 5h2m-2 3h2m-2 13h2m-1-24h2m-1 6h2m-2 4h2m0-18h2m-2 15h2m-2 18h2m-1-17h2m-1 16h2m-1-17h2m-1-6h2m-2 1h2m-2 6h2m-1-4h2m-2 20h2m0-27h2m-2 21h2m-2 8h2m-1-30h2m-2 15h2m-1 4h2m-2 5h2m-2 3h2m0-15h2m-2 1h2m-1 2h2m-1-13h2m-1 27h2m-1-16h2m-2 18h2m-1-22h2m-1-11h2m-1 10h2m-2 2h2m-2 7h2m-2 3h2m-1-20h2m-2 14h2m-2 7h2m-1-32h2m-2 14h2m-2 19h2m-2 2h2m-1-31h2m-2 28h2m-2 1h2m-2 4h2m-2 7h2m-1-30h2m-2 6h2m-2 3h2m-2 3h2m-2 4h2m-2 6h2m-2 2h2m-1-31h2m-2 17h2m-2 10h2m-1-10h2m-2 1h2m-2 4h2m-2 9h2m-1-25h2m-2 3h2m-2 7h2m-2 6h2m-2 18h2m-1-21h2m-2 1h2m-1-4h2m-2 1h2m-2 3h2m-2 11h2m-1-14h2m-2 10h2m-2 1h2m-1-5h2m-2 2h2m-2 1h2m-2 6h2m-2 5h2m-1-14h2m-2 11h2m-1-16h2m-2 2h2m-2 3h2m-2 1h2m-2 1h2m-2 5h2m-2 5h2m-1-29h2m-2 16h2m-2 2h2m-2 2h2m-2 3h2m-1-31h2m-2 1h2m-2 5h2m-2 1h2m-2 14h2m-2 3h2m-2 1h2m-2 3h2m-2 2h2m-2 12h2m-1-26h2m-2 2h2m-2 1h2m-2 6h2m-2 6h2m-2 11h2m-1-18h2m-2 1h2m-2 4h2m-2 6h2m-1-24h2m-2 6h2m-2 2h2m-2 1h2m-2 2h2m-2 1h2m-2 1h2m-2 3h2m-2 3h2m-2 3h2m-2 4h2m-1-21h2m-2 1h2m-2 1h2m-2 8h2m-2 1h2m-2 9h2m-1-33h2m-2 15h2m-2 2h2m-2 1h2m-2 1h2m-2 4h2m-2 2h2m-2 8h2m-1-19h2m-2 3h2m-2 8h2m-2 6h2m-1-29h2m-2 11h2m-2 4h2m-2 1h2m-2 9h2m-2 1h2m-2 1h2m-2 8h2m-1-25h2m-2 1h2m-2 2h2m-2 6h2m-2 1h2m-2 1h2m-2 2h2m-2 3h2m-2 1h2m-2 1h2m-2 6h2m-1-32h2m-2 2h2m-2 10h2m-2 4h2m-2 3h2m-2 1h2m-2 2h2m-2 1h2m-2 2h2m-2 2h2m-2 1h2m-1-32h2m-2 12h2m-2 3h2m-2 2h2m-2 1h2m-2 4h2m-2 2h2m-2 1h2m-2 2h2m-2 1h2m-2 1h2m-2 1h2m-1-27h2m-2 8h2m-2 6h2m-2 1h2m-2 3h2m-2 4h2m-2 5h2m-2 4h2m-1-34h2m-2 3h2m-2 3h2m-2 9h2m-2 3h2m-2 1h2m-2 4h2m-2 1h2m-2 3h2m-2 1h2m-1-18h2m-2 4h2m-2 5h2m-2 2h2m-2 1h2m-2 1h2m-2 2h2m-2 4h2m-2 1h2m-1-18h2m-2 2h2m-2 1h2m-2 8h2m-2 2h2m-2 1h2m-2 2h2m-1-27h2m-2 10h2m-2 2h2m-2 1h2m-2 1h2m-2 2h2m-2 2h2m-2 3h2m-2 2h2m-2 2h2m-1-10h2m-2 5h2m-2 1h2m-2 1h2m-2 6h2m-2 2h2m-2 6h2m-1-39h2m-2 15h2m-2 5h2m-2 1h2m-2 2h2m-2 2h2m-2 1h2m-2 7h2m-2 3h2m-1-28h2m-2 3h2m-2 6h2m-1-5h2m-2 4h2m-2 4h2m-2 4h2m-2 2h2m-2 3h2m-1-26h2m-2 10h2m-2 3h2m-2 3h2m-2 9h2m-1-21h2m-2 17h2m-1-4h2m-2 2h2m-2 2h2m-1-7h2m-2 15h2m-1-19h2m-2 2h2m-2 15h2m-1-22h2m-2 5h2m-2 9h2m-2 9h2m-1-4h2m-1-18h2m-1 6h2m-2 1h2m-2 6h2m-2 3h2m-2 10h2m-1-18h2m-2 1h2m-1-2h2m2 4h2m1 3h2m-1-10h2m0-2h2m-1 21h2m0-13h2"/><path d="M247 1180h2m-1 21h2m-1-16h2m-1 14h2m-1-8h2m-1 11h2m-1 0h2m-1-25h2m-1 10h2m-2 6h2m-2 1h2m-1-12h2m-2 6h2m0-2h2m-2 11h2m0-13h2m-2 19h2m-2 3h2m0-15h2m-1-26h2m-2 33h2m-1-21h2m-2 9h2m-2 8h2m0-16h2m-1-1h2m-2 5h2m-2 23h2m-1-8h2m-1-11h2m-2 15h2m-1-8h2m-2 4h2m-1-24h2m-2 13h2m-2 12h2m-2 1h2m-2 4h2m-1-25h2m-2 19h2m-2 15h2m-1-17h2m-2 8h2m-2 1h2m0-5h2m-1 2h2m-1-14h2m-2 2h2m-1-17h2m-2 19h2m-1-22h2m-2 38h2m-1-7h2m0-31h2m-2 15h2m-2 2h2m-2 7h2m-2 2h2m-2 6h2m-2 6h2m-2 2h2m-1-32h2m-2 5h2m-2 30h2m-1-29h2m-2 24h2m-2 1h2m-1-19h2m-2 5h2m-2 9h2m-2 2h2m-2 1h2m-2 1h2m-1-13h2m-2 5h2m-2 8h2m-2 5h2m-1-23h2m-2 5h2m-2 2h2m-2 4h2m-2 1h2m-2 4h2m-1-17h2m-2 16h2m-2 14h2m-1-30h2m-2 7h2m-2 3h2m-1 0h2m-2 2h2m-2 1h2m-2 8h2m-2 1h2m-1-4h2m-1-27h2m-2 12h2m-2 1h2m-2 5h2m-2 3h2m-2 3h2m-1-10h2m-2 5h2m-2 3h2m-2 6h2m-1-32h2m-2 25h2m-2 1h2m-2 3h2m-2 6h2m-2 5h2m-2 14h2m-1-29h2m-2 5h2m-1-18h2m-2 11h2m-2 7h2m-2 2h2m-2 1h2m-2 3h2m-1-52h2m-2 34h2m-2 10h2m-1-18h2m-2 13h2m-2 2h2m-2 1h2m-2 1h2m-2 2h2m-2 1h2m-2 1h2m-2 3h2m-2 1h2m-1-19h2m-2 4h2m-2 1h2m-2 1h2m-2 2h2m-2 1h2m-2 1h2m-2 5h2m-2 1h2m-1-23h2m-2 8h2m-2 8h2m-2 1h2m-2 4h2m-2 5h2m-1-16h2m-2 1h2m-2 1h2m-2 1h2m-2 2h2m-2 1h2m-2 1h2m-2 4h2m-2 3h2m-1-38h2m-2 17h2m-2 6h2m-2 5h2m-2 3h2m-2 2h2m-2 2h2m-1-19h2m-2 2h2m-2 3h2m-2 5h2m-2 2h2m-2 2h2m-2 6h2m-2 1h2m-2 1h2m-1-18h2m-2 5h2m-2 1h2m-2 3h2m-2 1h2m-2 2h2m-2 2h2m-2 4h2m-2 7h2m-2 5h2m-1-55h2m-2 19h2m-2 11h2m-2 2h2m-2 4h2m-2 4h2m-1-24h2m-2 12h2m-2 2h2m-2 2h2m-2 1h2m-2 1h2m-2 3h2m-2 2h2m-2 2h2m-2 2h2m-2 3h2m-1-45h2m-2 29h2m-2 4h2m-2 1h2m-2 6h2m-2 1h2m-1-27h2m-2 12h2m-2 1h2m-2 2h2m-2 1h2m-2 1h2m-2 2h2m-2 3h2m-2 3h2m-2 1h2m-2 1h2m-2 2h2m-2 2h2m-1-20h2m-2 1h2m-2 2h2m-2 3h2m-2 4h2m-2 1h2m-2 7h2m-2 1h2m-2 4h2m-1-32h2m-2 5h2m-2 11h2m-2 1h2m-2 2h2m-2 1h2m-2 1h2m-2 11h2m-1-24h2m-2 1h2m-2 6h2m-2 7h2m-2 1h2m-2 8h2m-1-27h2m-2 12h2m-2 3h2m-2 5h2m-2 1h2m-1-20h2m-2 9h2m-2 3h2m-2 3h2m-2 4h2m-1-19h2m-2 5h2m-2 4h2m-2 7h2m-1-27h2m-2 6h2m-2 9h2m-2 3h2m-2 8h2m-1-7h2m-1 4h2m-2 1h2m-2 1h2m-2 5h2m-2 5h2m-1-16h2m-2 4h2m-2 3h2m-1-23h2m-2 9h2m-2 14h2m-2 5h2m-1-14h2m-2 2h2m-1-7h2m-2 4h2m-2 2h2m-2 13h2m-1-16h2m-1-1h2m-1 3h2m-1 4h2m-1-10h2m-2 6h2m-2 4h2m-2 4h2m-2 3h2m-1 0h2m-2 9h2m-1-23h2m-2 3h2m1 5h2m3 2h2m1 18h2"/><path d="M247 1202h2m1-18h2m0 6h2m0-1h2m-2 4h2m-1-21h2m-2 20h2m-1 0h2m0-8h2m-2 14h2m-1-25h2m-2 13h2m-1-14h2m-2 29h2m0-13h2m-2 13h2m-2 10h2m-2 1h2m0-37h2m-2 26h2m-2 1h2m-2 2h2m-2 8h2m-1-28h2m-2 1h2m-1 4h2m0-8h2m-2 7h2m-2 5h2m0-28h2m0 29h2m-1-9h2m-2 1h2m-2 2h2m-2 2h2m-1 8h2m-2 6h2m-1-21h2m-2 14h2m-1-5h2m-2 8h2m-1-18h2m-2 9h2m-2 4h2m-1 12h2m-1-13h2m-2 12h2m-1-23h2m-2 5h2m-2 6h2m-1-24h2m-2 26h2m-2 14h2m-1-20h2m-2 3h2m-2 9h2m-1-32h2m-2 1h2m-2 9h2m-2 20h2m-2 1h2m-2 1h2m-2 10h2m-1-25h2m-2 3h2m-2 2h2m-2 20h2m-1-41h2m-2 6h2m-2 17h2m-2 5h2m-2 5h2m-2 5h2m-1-40h2m-2 13h2m-2 18h2m-2 10h2m-1-26h2m-2 6h2m-2 6h2m-1-6h2m-2 10h2m-2 4h2m-2 4h2m-1-16h2m-2 6h2m-2 2h2m-1 1h2m-2 3h2m-2 4h2m-1-2h2m-2 1h2m-2 3h2m-1-12h2m-2 1h2m-2 1h2m-2 1h2m-2 1h2m-2 1h2m-2 1h2m-2 2h2m-2 2h2m-1-11h2m-2 3h2m-2 2h2m-2 2h2m-2 8h2m-1-7h2m-2 5h2m-1-27h2m-2 7h2m-2 2h2m-2 6h2m-2 1h2m-2 4h2m-2 1h2m-2 18h2m-1-28h2m-2 1h2m-2 1h2m-2 5h2m-2 2h2m-2 6h2m-1-14h2m-2 8h2m-2 2h2m-2 5h2m-1-19h2m-2 1h2m-2 8h2m-2 3h2m-2 1h2m-2 1h2m-2 11h2m-1-36h2m-2 13h2m-2 2h2m-2 7h2m-2 1h2m-2 3h2m-2 5h2m-2 1h2m-1-33h2m-2 9h2m-2 10h2m-2 1h2m-2 10h2m-2 5h2m-1-19h2m-2 1h2m-2 2h2m-2 1h2m-2 2h2m-2 5h2m-2 4h2m-2 2h2m-1-41h2m-2 16h2m-2 8h2m-2 1h2m-2 2h2m-2 3h2m-2 2h2m-2 1h2m-1-5h2m-2 2h2m-2 2h2m-2 1h2m-2 2h2m-2 2h2m-1-21h2m-2 4h2m-2 3h2m-2 3h2m-2 1h2m-2 1h2m-2 2h2m-2 2h2m-2 2h2m-2 3h2m-2 6h2m-1-35h2m-2 15h2m-2 1h2m-2 1h2m-2 1h2m-2 1h2m-2 2h2m-2 1h2m-2 1h2m-2 1h2m-2 1h2m-2 2h2m-2 1h2m-1-16h2m-2 2h2m-2 3h2m-2 2h2m-2 2h2m-2 3h2m-2 2h2m-1-11h2m-2 1h2m-2 1h2m-2 4h2m-2 3h2m-2 1h2m-2 1h2m-2 1h2m-1-18h2m-2 1h2m-2 1h2m-2 6h2m-2 2h2m-2 9h2m-2 3h2m-2 1h2m-1-18h2m-2 1h2m-2 1h2m-2 6h2m-2 3h2m-2 1h2m-2 5h2m-2 5h2m-1-42h2m-2 16h2m-2 8h2m-2 3h2m-2 2h2m-2 2h2m-2 2h2m-1-33h2m-2 8h2m-2 1h2m-2 13h2m-2 2h2m-2 2h2m-2 4h2m-2 4h2m-2 1h2m-1-18h2m-2 4h2m-2 2h2m-2 2h2m-2 1h2m-2 7h2m-2 9h2m0-25h2m-2 2h2m-2 8h2m-2 3h2m-2 8h2m-1-11h2m-2 5h2m-1-28h2m-2 12h2m-2 1h2m-2 4h2m-2 3h2m-2 2h2m-2 7h2m-2 1h2m-1-15h2m-2 3h2m-2 1h2m-2 1h2m-2 5h2m-2 1h2m-2 5h2m-1-64h2m-2 28h2m-2 12h2m-2 5h2m-2 6h2m-2 8h2m-2 3h2m-1-20h2m-2 8h2m-2 2h2m-2 1h2m-2 2h2m-1 1h2m-2 4h2m-2 1h2m-2 2h2m-1-35h2m-2 29h2m-2 1h2m-2 8h2m-1-11h2m-2 5h2m-1-6h2m-1 1h2m-1-29h2m-2 31h2m0 0h2m-2 3h2m3-10h2m-2 4h2m1-22h2m-2 8h2m1 5h2m-1-45h2m-2 46h2m17 28h2"/></g><rect x="122.40" y="559.40" width="62.30" height="59.20" fill="none" stroke="#3a3a3a" stroke-width="0.9"/><line x1="142.60" y1="559.40" x2="142.60" y2="618.60" stroke="#3a3a3a" stroke-width="0.85"/><line x1="122.40" y1="605.10" x2="184.70" y2="605.10" stroke="#3a3a3a" stroke-width="0.85"/><ellipse cx="134.5" cy="613.0" rx="1.3" ry="0.9" fill="#333" opacity="0.8"/><ellipse cx="149.0" cy="613.0" rx="1.3" ry="0.9" fill="#333" opacity="0.8"/><ellipse cx="149.0" cy="597.0" rx="1.3" ry="0.9" fill="#333" opacity="0.8"/><text x="125.6" y="565.7" font-size="4.3" text-anchor="start" font-weight="normal" fill="#333" stroke="#333" stroke-width="0.05" >B489 5uM</text><line x1="120.80" y1="565.90" x2="122.40" y2="565.90" stroke="#555" stroke-width="0.6"/><text x="118.4" y="567.3" font-size="3.8" text-anchor="end" fill="#666">10<tspan font-size="2.6" dy="-1.4">3</tspan></text><line x1="120.80" y1="580.40" x2="122.40" y2="580.40" stroke="#555" stroke-width="0.6"/><text x="118.4" y="581.8" font-size="3.8" text-anchor="end" fill="#666">10<tspan font-size="2.6" dy="-1.4">2</tspan></text><line x1="120.80" y1="594.90" x2="122.40" y2="594.90" stroke="#555" stroke-width="0.6"/><text x="118.4" y="596.3" font-size="3.8" text-anchor="end" fill="#666">10<tspan font-size="2.6" dy="-1.4">1</tspan></text><line x1="120.80" y1="609.40" x2="122.40" y2="609.40" stroke="#555" stroke-width="0.6"/><text x="118.4" y="610.8" font-size="3.8" text-anchor="end" fill="#666">10<tspan font-size="2.6" dy="-1.4">0</tspan></text><line x1="130.90" y1="618.60" x2="130.90" y2="620.00" stroke="#555" stroke-width="0.6"/><text x="130.9" y="626.0" font-size="3.8" text-anchor="middle" fill="#666">10<tspan font-size="2.6" dy="-1.4">0</tspan></text><line x1="146.40" y1="618.60" x2="146.40" y2="620.00" stroke="#555" stroke-width="0.6"/><text x="146.4" y="626.0" font-size="3.8" text-anchor="middle" fill="#666">10<tspan font-size="2.6" dy="-1.4">1</tspan></text><line x1="161.90" y1="618.60" x2="161.90" y2="620.00" stroke="#555" stroke-width="0.6"/><text x="161.9" y="626.0" font-size="3.8" text-anchor="middle" fill="#666">10<tspan font-size="2.6" dy="-1.4">2</tspan></text><line x1="177.40" y1="618.60" x2="177.40" y2="620.00" stroke="#555" stroke-width="0.6"/><text x="177.4" y="626.0" font-size="3.8" text-anchor="middle" fill="#666">10<tspan font-size="2.6" dy="-1.4">3</tspan></text><line x1="135.57" y1="617.50" x2="135.57" y2="618.60" stroke="#666" stroke-width="0.4"/><line x1="138.30" y1="617.50" x2="138.30" y2="618.60" stroke="#666" stroke-width="0.4"/><line x1="140.23" y1="617.50" x2="140.23" y2="618.60" stroke="#666" stroke-width="0.4"/><line x1="141.73" y1="617.50" x2="141.73" y2="618.60" stroke="#666" stroke-width="0.4"/><line x1="142.96" y1="617.50" x2="142.96" y2="618.60" stroke="#666" stroke-width="0.4"/><line x1="144.00" y1="617.50" x2="144.00" y2="618.60" stroke="#666" stroke-width="0.4"/><line x1="144.90" y1="617.50" x2="144.90" y2="618.60" stroke="#666" stroke-width="0.4"/><line x1="145.69" y1="617.50" x2="145.69" y2="618.60" stroke="#666" stroke-width="0.4"/><line x1="151.07" y1="617.50" x2="151.07" y2="618.60" stroke="#666" stroke-width="0.4"/><line x1="153.80" y1="617.50" x2="153.80" y2="618.60" stroke="#666" stroke-width="0.4"/><line x1="155.73" y1="617.50" x2="155.73" y2="618.60" stroke="#666" stroke-width="0.4"/><line x1="157.23" y1="617.50" x2="157.23" y2="618.60" stroke="#666" stroke-width="0.4"/><line x1="158.46" y1="617.50" x2="158.46" y2="618.60" stroke="#666" stroke-width="0.4"/><line x1="159.50" y1="617.50" x2="159.50" y2="618.60" stroke="#666" stroke-width="0.4"/><line x1="160.40" y1="617.50" x2="160.40" y2="618.60" stroke="#666" stroke-width="0.4"/><line x1="161.19" y1="617.50" x2="161.19" y2="618.60" stroke="#666" stroke-width="0.4"/><line x1="166.57" y1="617.50" x2="166.57" y2="618.60" stroke="#666" stroke-width="0.4"/><line x1="169.30" y1="617.50" x2="169.30" y2="618.60" stroke="#666" stroke-width="0.4"/><line x1="171.23" y1="617.50" x2="171.23" y2="618.60" stroke="#666" stroke-width="0.4"/><line x1="172.73" y1="617.50" x2="172.73" y2="618.60" stroke="#666" stroke-width="0.4"/><line x1="173.96" y1="617.50" x2="173.96" y2="618.60" stroke="#666" stroke-width="0.4"/><line x1="175.00" y1="617.50" x2="175.00" y2="618.60" stroke="#666" stroke-width="0.4"/><line x1="175.90" y1="617.50" x2="175.90" y2="618.60" stroke="#666" stroke-width="0.4"/><line x1="176.69" y1="617.50" x2="176.69" y2="618.60" stroke="#666" stroke-width="0.4"/><text x="181.7" y="635.6" font-size="5.6" text-anchor="end" font-weight="normal" fill="#222" stroke="#222" stroke-width="0.1" >95,5%</text><g transform="scale(0.5)" stroke="#000" stroke-width="1.6" stroke-opacity="0.22" filter="url(#fb)"><path d="M406 1152h2m10 60h2m2 1h2m0 8h2m-1-8h2m-1 2h2m-2 8h2m-1-8h2m-1-44h2m-2 34h2m-2 7h2m-2 5h2m-1-11h2m-1 5h2m-2 4h2m-1 5h2m-1-5h2m-1-19h2m-2 6h2m-2 8h2m-2 2h2m-2 1h2m-1-1h2m-1-5h2m-2 2h2m-2 12h2m-1-9h2m-1-3h2m-2 1h2m-2 2h2m-1-7h2m-2 4h2m-2 1h2m-2 2h2m-2 1h2m-2 3h2m-1-15h2m-2 2h2m-2 6h2m-2 2h2m-2 2h2m-2 8h2m-1-10h2m-1-11h2m-2 1h2m-2 1h2m-2 2h2m-2 1h2m-2 4h2m-2 4h2m-1-6h2m-2 4h2m-2 4h2m-1-16h2m-2 8h2m-2 3h2m-1-18h2m-2 12h2m-2 11h2m-1-13h2m-2 1h2m-2 4h2m-2 6h2m-2 2h2m-1-13h2m-2 1h2m-2 7h2m-2 1h2m-2 1h2m-2 6h2m-1-18h2m-2 11h2m-2 1h2m-1-4h2m-1-8h2m-2 2h2m-2 2h2m-2 1h2m-2 3h2m-1-13h2m-2 1h2m-2 27h2m0-16h2m-2 2h2m-2 4h2m-2 6h2m-1-30h2m-2 13h2m-2 3h2m-2 2h2m-2 7h2m1-22h2m-1 5h2m-1-1h2m-1 4h2m-2 11h2m0-22h2m-1 3h2m-2 4h2m-2 7h2m-1 2h2m1-16h2m-1 13h2m-2 1h2m-1-6h2m-1-25h2m-2 20h2m-2 5h2m-2 15h2m-1-34h2m-2 12h2m-2 7h2m-2 4h2m-2 1h2m-2 2h2m0-24h2m-1-9h2m-2 15h2m-2 7h2m-2 1h2m-1-3h2m-2 6h2m-2 4h2m-2 1h2m-1-17h2m-2 16h2m-2 2h2m-1-31h2m-2 23h2m-1-5h2m-2 2h2m-1 2h2m-2 3h2m-2 13h2m-1-42h2m-2 7h2m-2 1h2m-2 17h2m-1-12h2m-2 12h2m-2 17h2m-1-31h2m-2 2h2m-2 2h2m-2 3h2m-2 6h2m-2 2h2m-2 5h2m-1-27h2m-2 8h2m-2 8h2m-1-26h2m-2 18h2m-2 1h2m-2 1h2m-2 7h2m-1-20h2m-2 1h2m-2 2h2m-2 6h2m-2 3h2m-2 3h2m-2 2h2m-2 1h2m-2 2h2m-1-39h2m-2 11h2m-2 21h2m-2 1h2m-2 1h2m-2 12h2m-2 14h2m-2 7h2m-1-49h2m-2 9h2m-2 7h2m-2 6h2m-2 17h2m-2 14h2m-1-42h2m-2 10h2m-2 8h2m-2 7h2m-1-48h2m-2 18h2m-2 31h2m-1-30h2m-2 5h2m-2 8h2m-2 3h2m-2 2h2m-1 1h2m-2 8h2m-1-35h2m-2 11h2m-2 2h2m-2 1h2m-2 3h2m-2 3h2m-1-19h2m-2 14h2m-2 2h2m-2 10h2m-2 1h2m-1-16h2m-2 1h2m-2 1h2m-2 10h2m-2 3h2m-2 1h2m-1-16h2m-2 1h2m-2 6h2m-2 9h2m-1-22h2m-2 8h2m-2 12h2m-2 10h2m-2 7h2m-1-55h2m-2 14h2m-2 1h2m-2 2h2m-2 2h2m-2 6h2m-2 1h2m-2 14h2m-1-36h2m-2 4h2m-2 5h2m-2 9h2m-2 34h2m-2 5h2m-1-54h2m-2 8h2m-2 6h2m-2 9h2m-2 4h2m-2 23h2m-1-42h2m-2 2h2m-2 8h2m-2 2h2m-2 7h2m-2 5h2m-2 6h2m-1-36h2m-2 1h2m-2 11h2m-2 7h2m-2 6h2m-2 10h2m-2 4h2m-1-31h2m-2 6h2m-2 2h2m-2 2h2m-1-17h2m-2 3h2m-2 14h2m-2 7h2m-2 2h2m-2 1h2m-1-28h2m-2 2h2m-2 2h2m-2 12h2m-2 6h2m-2 2h2m-2 3h2m-1-29h2m-2 8h2m-2 2h2m-2 24h2m-1-39h2m-2 26h2m-2 1h2m-2 10h2m-2 2h2m-2 6h2m-1-26h2m-2 4h2m-2 2h2m-1-29h2m-1 10h2m-2 4h2m-2 7h2m-2 8h2m-1-7h2m-2 17h2m-2 24h2m-1-60h2m-2 20h2m-2 5h2m-2 2h2m-1-20h2m-2 16h2m-2 1h2m-2 1h2m-2 4h2m-2 1h2m-2 4h2m-1-24h2m-2 8h2m-1-6h2m-2 16h2m-2 4h2m-2 11h2m1-16h2m0-2h2m0-23h2m-1 20h2m-2 3h2m0-23h2"/><path d="M410 1194h2m3 22h2m3-3h2m0-16h2m-2 14h2m0 4h2m0 2h2m-2 1h2m-2 1h2m-1-6h2m-1 0h2m-2 10h2m-1-18h2m-2 8h2m-1-1h2m-2 4h2m-2 2h2m-1-11h2m-2 1h2m-2 3h2m-2 1h2m-2 3h2m-2 2h2m-1-11h2m-2 4h2m-2 3h2m-1-9h2m-2 1h2m-2 2h2m-2 5h2m-1-10h2m-2 7h2m-2 7h2m-2 2h2m-1-5h2m-1-7h2m-2 1h2m-2 4h2m-2 9h2m-1-3h2m-1-11h2m-2 4h2m-2 7h2m-1-7h2m-2 5h2m-1-7h2m-2 3h2m-2 1h2m-2 3h2m-2 2h2m-1 1h2m-1-10h2m-2 3h2m-2 1h2m-2 9h2m-1-23h2m-2 6h2m-2 1h2m-2 4h2m-2 1h2m-2 1h2m-2 2h2m-1-6h2m-2 4h2m-1 1h2m-1-11h2m-2 4h2m-2 12h2m0-11h2m-2 4h2m-2 6h2m-1-16h2m-2 2h2m-2 2h2m-2 14h2m-1-17h2m-1-1h2m-2 7h2m-2 6h2m-1-27h2m-2 16h2m-2 5h2m-1-15h2m-2 8h2m-2 8h2m-1 12h2m-1-23h2m-2 8h2m-1-2h2m-2 1h2m-2 5h2m-2 8h2m-1-17h2m-2 8h2m1-29h2m-2 13h2m-2 2h2m-2 9h2m-2 1h2m-2 3h2m-1-7h2m-2 2h2m-1-2h2m-2 4h2m-1-12h2m-2 4h2m-2 9h2m-1-26h2m-2 15h2m-2 14h2m-1-7h2m-2 2h2m0-19h2m-2 7h2m-2 11h2m-1-25h2m-2 5h2m-1-29h2m-2 34h2m-2 21h2m-2 2h2m-1-32h2m-1 9h2m-2 9h2m-2 2h2m-1-19h2m-2 22h2m-1-37h2m-2 33h2m-1-24h2m-1 14h2m-1-5h2m-2 1h2m-2 5h2m-1 2h2m-2 3h2m-1-7h2m-2 1h2m-2 11h2m-1-28h2m-2 11h2m-2 3h2m-2 12h2m-2 3h2m-1-32h2m-2 1h2m-2 6h2m-2 6h2m-2 4h2m-2 3h2m-2 2h2m-2 1h2m-1-14h2m-2 2h2m-2 1h2m-2 17h2m-1-31h2m-2 10h2m-2 2h2m-2 2h2m-2 5h2m-2 6h2m-1-17h2m-2 1h2m-2 5h2m-2 9h2m-2 1h2m-1-28h2m-2 1h2m-2 5h2m-2 21h2m-2 3h2m-2 6h2m-1-34h2m-2 24h2m-2 2h2m-1-3h2m-2 5h2m-2 3h2m-1-30h2m-2 12h2m-2 2h2m-2 5h2m-2 5h2m-2 4h2m-2 5h2m-2 2h2m-1-38h2m-2 4h2m-2 15h2m-2 2h2m-2 2h2m-2 10h2m-2 10h2m-2 4h2m-2 9h2m-1-66h2m-2 21h2m-2 15h2m-2 15h2m-1-49h2m-2 28h2m-2 3h2m-2 6h2m-2 1h2m-2 15h2m-2 4h2m-1-36h2m-2 2h2m-2 5h2m-2 1h2m-2 3h2m-2 6h2m-2 16h2m-1-51h2m-2 25h2m-2 16h2m-1-41h2m-2 13h2m-2 2h2m-2 6h2m-2 3h2m-2 2h2m-2 9h2m-1-19h2m-2 6h2m-2 2h2m-2 2h2m-1-16h2m-2 2h2m-2 3h2m-2 2h2m-2 2h2m-2 8h2m-2 6h2m-2 12h2m-1-37h2m-2 14h2m-2 14h2m-1-27h2m-2 4h2m-2 10h2m-2 3h2m-2 5h2m-2 10h2m-1-26h2m-2 1h2m-2 11h2m-2 2h2m-2 1h2m-2 8h2m-1-17h2m-2 5h2m-2 1h2m-2 6h2m-2 7h2m-1-24h2m-2 5h2m-2 1h2m-2 3h2m-2 8h2m-2 5h2m-2 4h2m-1-31h2m-2 1h2m-2 1h2m-2 2h2m-2 2h2m-2 10h2m-2 7h2m-2 6h2m-1-39h2m-2 6h2m-2 19h2m-2 5h2m-2 6h2m-1-32h2m-2 24h2m-1-10h2m-2 6h2m-2 11h2m-1-18h2m-2 7h2m-2 1h2m-2 2h2m-2 1h2m-2 3h2m-1-4h2m-2 4h2m-1-15h2m-2 3h2m-2 2h2m-2 1h2m-2 6h2m-2 16h2m-1-35h2m-2 22h2m-1-4h2m-2 2h2m-1-16h2m-2 1h2m-1 11h2m-2 1h2m-2 2h2m-1-9h2m-2 21h2m-1-28h2m-2 4h2m-2 5h2m-2 10h2m-2 1h2m-1 10h2m1-22h2m0-41h2m3 32h2"/><path d="M415 1221h2m1-7h2m0 4h2m0-6h2m-2 9h2m-1-18h2m-2 4h2m-2 13h2m1-8h2m-1-3h2m-2 5h2m-2 3h2m-1-13h2m-2 12h2m-2 2h2m-1-16h2m-1 5h2m-2 2h2m0-6h2m-2 3h2m-2 5h2m-2 1h2m-1-4h2m-2 2h2m-2 1h2m-1-8h2m-2 6h2m-2 1h2m-2 6h2m-2 7h2m-1-13h2m-2 3h2m-2 2h2m-1-2h2m-1-5h2m-2 1h2m-1 1h2m-1-8h2m-2 8h2m-2 1h2m-2 5h2m-1-15h2m-2 2h2m-2 4h2m-2 5h2m-2 4h2m-1-22h2m-2 15h2m-2 2h2m-1-13h2m-2 9h2m-1-2h2m-2 4h2m-2 1h2m-2 8h2m-1-20h2m-2 8h2m-2 2h2m-2 2h2m-1-1h2m-2 10h2m-1-19h2m-2 2h2m-2 4h2m-1-13h2m-2 12h2m-2 2h2m-2 5h2m-1-14h2m-2 8h2m-2 2h2m-1-14h2m-2 7h2m-2 5h2m-2 6h2m-2 7h2m-1-14h2m-2 7h2m-1-21h2m-2 9h2m-2 9h2m-2 8h2m-1-11h2m-2 4h2m-2 1h2m-1-7h2m-2 1h2m-1-5h2m-2 1h2m-2 6h2m-2 1h2m-1 8h2m-1-22h2m0 10h2m-2 2h2m0-5h2m0 0h2m-2 8h2m-1-53h2m-2 45h2m-1-4h2m-2 9h2m-1-41h2m-2 37h2m-1-15h2m-2 17h2m-1-25h2m-2 10h2m-2 4h2m-2 6h2m0 2h2m-1-15h2m-2 6h2m1-15h2m-2 16h2m-2 3h2m-2 8h2m-1-9h2m-1-15h2m-2 1h2m-2 3h2m-2 33h2m-1-33h2m-2 5h2m-2 1h2m-2 3h2m-1-11h2m-2 6h2m-2 16h2m-1-35h2m-2 11h2m-2 2h2m-2 5h2m-1-33h2m-2 25h2m-2 1h2m-2 2h2m-2 2h2m-1-1h2m-2 17h2m-1-10h2m-1-17h2m-2 7h2m-2 5h2m-2 4h2m-2 4h2m-2 6h2m-2 7h2m-1-31h2m-2 3h2m-2 5h2m-2 4h2m-2 10h2m-2 6h2m-1-29h2m-2 1h2m-2 1h2m-2 15h2m-2 2h2m-2 7h2m-1-38h2m-2 1h2m-2 16h2m-2 9h2m-2 4h2m-2 5h2m-1-28h2m-2 11h2m-2 11h2m-1-23h2m-2 22h2m-2 4h2m-1-32h2m-2 4h2m-2 16h2m-2 2h2m-2 4h2m-2 2h2m-2 5h2m-2 6h2m-1-44h2m-2 10h2m-2 10h2m-2 12h2m-2 1h2m-2 12h2m-2 2h2m-1-44h2m-2 7h2m-2 4h2m-2 11h2m-2 2h2m-2 1h2m-2 7h2m-2 3h2m-2 8h2m-2 18h2m-1-47h2m-2 2h2m-2 3h2m-2 4h2m-2 6h2m-2 5h2m-2 1h2m-1-30h2m-2 3h2m-2 7h2m-2 4h2m-2 1h2m-2 1h2m-2 3h2m-2 3h2m-2 6h2m-2 9h2m-1-27h2m-2 3h2m-2 2h2m-2 3h2m-2 3h2m-2 9h2m-1-36h2m-2 6h2m-2 3h2m-2 3h2m-2 7h2m-2 1h2m-2 1h2m-2 3h2m-1-20h2m-2 9h2m-2 3h2m-2 4h2m-2 1h2m-2 1h2m-2 2h2m-2 5h2m-1-29h2m-2 6h2m-2 2h2m-2 6h2m-2 4h2m-2 14h2m-2 5h2m-1-25h2m-2 1h2m-2 23h2m-2 9h2m-1-22h2m-2 18h2m-1-20h2m-2 11h2m-2 4h2m-1-20h2m-2 1h2m-2 14h2m-2 5h2m-2 1h2m-2 3h2m-2 10h2m-1-36h2m-2 17h2m-2 2h2m-1-22h2m-2 8h2m-2 4h2m-2 1h2m-2 2h2m-2 3h2m-2 1h2m-2 2h2m-2 11h2m-1-26h2m-2 1h2m-2 9h2m-2 12h2m-1-31h2m-2 3h2m-1 5h2m-2 12h2m-1-14h2m-2 23h2m-1-40h2m-2 2h2m-2 16h2m-2 2h2m-2 3h2m-2 2h2m-2 2h2m-1-28h2m-2 2h2m-2 4h2m-2 32h2m-2 7h2m-1-50h2m-1 17h2m-2 6h2m-2 31h2m-1-28h2m-2 5h2m-1-8h2m-1 2h2m-2 7h2m-2 8h2m-2 1h2m-2 16h2m-1-21h2m-2 1h2m-1-20h2m-1 17h2m-1-32h2m-2 29h2m-2 2h2m0-19h2m-1 19h2m-2 1h2m-1-21h2"/><path d="M414 1214h2m1-1h2m-1 1h2m-1 3h2m-1-12h2m-1 4h2m-2 4h2m-2 3h2m-1-81h2m-2 73h2m-2 6h2m-1 0h2m-2 2h2m-2 1h2m1-2h2m0-6h2m-1 7h2m-1-8h2m-2 11h2m-1-6h2m-1 3h2m-2 3h2m-1-9h2m-2 1h2m-2 2h2m-2 3h2m-1-13h2m-2 10h2m-1-5h2m-2 9h2m-1-11h2m-1-5h2m-2 5h2m-2 7h2m-2 3h2m-1-12h2m-1-7h2m-2 8h2m-2 2h2m-2 3h2m-2 1h2m-2 2h2m-1-12h2m-2 2h2m-2 10h2m-2 2h2m-2 3h2m-2 1h2m-1-17h2m-2 2h2m-2 3h2m-2 1h2m-2 1h2m-2 1h2m-2 2h2m-2 1h2m-2 10h2m-1-18h2m-2 2h2m-1-8h2m-2 7h2m-2 10h2m-1-13h2m-2 5h2m-2 1h2m-2 2h2m-2 7h2m-1-12h2m-2 1h2m-2 8h2m-1-27h2m-2 21h2m-2 4h2m-2 3h2m-1-27h2m-2 7h2m-2 6h2m-2 4h2m-2 2h2m-1-14h2m-2 1h2m-2 7h2m-2 1h2m-2 3h2m-2 5h2m-2 4h2m-1-14h2m-1 8h2m-1-10h2m-2 1h2m-2 8h2m-2 5h2m0-12h2m-1-35h2m-2 48h2m-1-48h2m0 49h2m-1-33h2m-2 5h2m-2 3h2m-2 11h2m-2 6h2m-1-7h2m-2 6h2m-2 4h2m0-19h2m-2 16h2m0-2h2m-1-17h2m0-2h2m-2 11h2m0-1h2m-2 4h2m-1-32h2m-2 23h2m-1-9h2m-2 9h2m-2 1h2m-2 9h2m-1-15h2m-1 5h2m-2 7h2m-1-19h2m-1-5h2m-2 5h2m-2 16h2m-1-8h2m-1-14h2m-2 11h2m-2 8h2m-2 5h2m-1-7h2m-1-24h2m-2 8h2m-2 18h2m-1-21h2m-2 2h2m-1 17h2m-2 12h2m-2 6h2m-1-38h2m-2 21h2m-2 3h2m-1-15h2m-2 8h2m-2 11h2m-2 6h2m-1-52h2m-2 6h2m-2 8h2m-2 4h2m-2 11h2m-2 1h2m-2 1h2m-2 3h2m-2 6h2m-2 8h2m-2 5h2m-1-26h2m-2 3h2m-2 1h2m-2 4h2m-2 4h2m-2 6h2m-2 3h2m-2 4h2m-1-36h2m-2 8h2m-2 7h2m-2 6h2m-2 4h2m-1-25h2m-2 13h2m-2 4h2m-2 1h2m-2 8h2m-1-25h2m-2 4h2m-2 2h2m-2 9h2m-2 1h2m-2 5h2m-2 1h2m-2 6h2m-2 2h2m-2 2h2m-2 4h2m-2 1h2m-1-33h2m-2 2h2m-2 2h2m-2 9h2m-1-9h2m-2 3h2m-2 5h2m-2 1h2m-2 5h2m-2 16h2m-1-31h2m-2 9h2m-2 16h2m-2 8h2m-1-46h2m-1 11h2m-2 2h2m-2 15h2m-2 1h2m-1-38h2m-2 16h2m-2 3h2m-2 4h2m-2 3h2m-2 15h2m-2 2h2m-1-45h2m-2 21h2m-2 4h2m-2 1h2m-2 3h2m-2 3h2m-2 2h2m-2 5h2m-2 15h2m-1-47h2m-2 3h2m-2 5h2m-2 9h2m-2 6h2m-2 4h2m-2 6h2m-2 6h2m-2 3h2m-2 4h2m-2 6h2m-1-42h2m-2 2h2m-2 2h2m-2 4h2m-2 3h2m-2 1h2m-2 1h2m-2 6h2m-1-28h2m-2 2h2m-2 3h2m-2 10h2m-2 12h2m-1-26h2m-2 9h2m-2 5h2m-2 1h2m-2 1h2m-2 1h2m-2 7h2m-2 1h2m-2 2h2m-2 10h2m-2 3h2m-1-27h2m-2 9h2m-2 12h2m-2 7h2m-1-18h2m-2 1h2m-2 6h2m-2 3h2m-1-20h2m-2 9h2m-2 8h2m-2 9h2m-1-36h2m-2 19h2m-2 1h2m-2 5h2m-2 9h2m-1-32h2m-2 2h2m-2 7h2m-2 3h2m-2 3h2m-2 2h2m-1-28h2m-2 27h2m-2 6h2m-1-10h2m-2 5h2m-2 1h2m-2 3h2m-1-20h2m-2 3h2m-2 2h2m-2 7h2m-2 8h2m-2 5h2m-2 4h2m-1-24h2m-2 5h2m-2 13h2m-1-22h2m-2 17h2m-2 1h2m0-6h2m-2 6h2m0-34h2m-2 8h2m-2 22h2m-2 1h2m-1-17h2m-2 3h2m-1-2h2m-1-1h2m0 1h2m-1 29h2m-1-23h2m-1 14h2m-1-29h2m-1 4h2m-2 13h2"/><path d="M412 1222h2m1-1h2m2 0h2m0-5h2m2-9h2m-2 3h2m-2 13h2m-1-11h2m0-12h2m-1 2h2m-2 2h2m-2 8h2m-2 9h2m-1-14h2m-2 6h2m-1 2h2m-1-5h2m-2 4h2m-1-11h2m-2 4h2m-2 1h2m-2 2h2m-2 1h2m-1-8h2m-1-51h2m-2 59h2m-1-9h2m-2 8h2m-2 2h2m-1-12h2m-2 4h2m-2 7h2m-2 4h2m-1-12h2m-2 5h2m-2 2h2m-1-9h2m-2 4h2m-2 5h2m-2 7h2m-1-20h2m-2 4h2m-2 6h2m-2 3h2m-2 2h2m-1-11h2m-2 4h2m-1 3h2m-2 4h2m-2 4h2m-1-24h2m-2 6h2m-2 4h2m-2 1h2m-2 4h2m-1-10h2m-2 10h2m-1-5h2m-2 12h2m-1-28h2m-2 14h2m-2 9h2m-1-11h2m-2 8h2m-1 16h2m-1-23h2m-2 3h2m-2 8h2m-2 2h2m-1-7h2m-2 4h2m-2 8h2m-1-8h2m-2 1h2m-1-1h2m-1-1h2m-1 0h2m-2 3h2m-1-7h2m-2 10h2m-1-4h2m-2 10h2m-1-23h2m-2 3h2m-1-2h2m-2 2h2m-2 1h2m-2 8h2m-2 5h2m-1-11h2m-1-12h2m-2 4h2m-2 17h2m-1-23h2m-2 12h2m-2 3h2m-1 4h2m0-11h2m-2 16h2m-1-14h2m-2 13h2m-1-15h2m-2 12h2m-1-29h2m-2 26h2m-1-25h2m-2 7h2m-2 7h2m-1-13h2m-2 31h2m-1-33h2m-1-20h2m-1 11h2m-2 16h2m-2 11h2m-2 9h2m-1-42h2m-2 17h2m-2 6h2m-2 6h2m-2 6h2m-1-16h2m-2 9h2m-2 5h2m-1-41h2m-1 31h2m-2 3h2m-1-22h2m-2 33h2m-2 1h2m-1-28h2m-2 8h2m-2 6h2m-2 2h2m-2 3h2m-1-17h2m-2 2h2m-2 8h2m-2 18h2m-2 2h2m-1-35h2m-2 4h2m-1 5h2m-2 4h2m-2 7h2m-1-30h2m-2 15h2m-2 6h2m-2 5h2m-2 2h2m-1 2h2m-2 2h2m-1-26h2m-2 4h2m-2 20h2m-2 1h2m-2 6h2m-1-17h2m-2 8h2m-2 1h2m-2 10h2m-1-50h2m-2 20h2m-2 4h2m-2 3h2m-2 3h2m-2 12h2m-2 4h2m-1-28h2m-2 7h2m-2 3h2m-2 3h2m-2 4h2m-2 7h2m-1-33h2m-2 12h2m-2 6h2m-2 2h2m-2 3h2m-2 1h2m-2 3h2m-2 2h2m-1-23h2m-2 2h2m-2 7h2m-2 5h2m-2 4h2m-2 2h2m-2 3h2m-2 1h2m-2 3h2m-1-14h2m-2 6h2m-2 3h2m-2 13h2m-1-25h2m-2 5h2m-2 4h2m-2 2h2m-2 18h2m-1-33h2m-2 1h2m-2 6h2m-2 3h2m-2 3h2m-2 6h2m-2 2h2m-1-19h2m-2 2h2m-2 1h2m-2 10h2m-2 11h2m-2 4h2m-1-33h2m-2 5h2m-2 1h2m-2 8h2m-2 6h2m-1-18h2m-2 15h2m-2 2h2m-2 2h2m-2 4h2m-2 4h2m-2 18h2m-1-41h2m-2 5h2m-2 5h2m-2 1h2m-2 5h2m-2 1h2m-2 6h2m-1-20h2m-2 6h2m-2 1h2m-2 5h2m-1-21h2m-2 17h2m-2 1h2m-2 5h2m-2 7h2m-1-49h2m-2 18h2m-2 1h2m-2 7h2m-2 4h2m-2 2h2m-2 1h2m-2 14h2m-1-24h2m-2 13h2m-2 4h2m-1-21h2m-2 3h2m-2 8h2m-2 2h2m-2 5h2m-2 4h2m-1-4h2m-2 5h2m-2 3h2m-2 4h2m-1-34h2m-2 9h2m-2 8h2m-2 12h2m-2 3h2m-1-28h2m-2 11h2m-2 11h2m-1-17h2m-2 11h2m-2 2h2m-2 2h2m-2 1h2m-1-7h2m-2 10h2m-1-17h2m-2 18h2m-1-46h2m-2 37h2m-2 2h2m-2 6h2m-2 9h2m-1-50h2m-2 18h2m-2 31h2m-1-24h2m-2 2h2m-2 9h2m-1-17h2m-2 1h2m-2 1h2m-2 4h2m-1-17h2m-2 19h2m-2 3h2m-1-31h2m-2 17h2m-2 9h2m-2 16h2m-1-19h2m-2 6h2m-1-12h2m-2 6h2m-2 30h2m-1-35h2m-2 4h2m-2 19h2m0-6h2m-2 24h2m3-63h2m-2 26h2"/><path d="M413 1211h2m1 8h2m2-17h2m-1 4h2m-2 8h2m-2 3h2m0-9h2m-2 12h2m-1-15h2m-2 7h2m1-9h2m-2 11h2m-2 4h2m0-14h2m-2 2h2m-2 4h2m-1-12h2m-2 6h2m-1-3h2m-1 13h2m-1-9h2m-2 7h2m-2 2h2m-2 1h2m-2 3h2m-1-11h2m-2 3h2m-2 2h2m-1-11h2m-2 9h2m-2 1h2m-2 1h2m-2 1h2m-1-7h2m-1 1h2m-2 3h2m-2 6h2m-1-13h2m-2 8h2m-1-15h2m-2 8h2m-2 7h2m-1-14h2m-2 11h2m-1-5h2m-2 4h2m-2 4h2m-2 2h2m-1-7h2m-2 1h2m-2 3h2m-2 2h2m-2 6h2m-1-19h2m-2 6h2m-2 2h2m-1 0h2m-2 4h2m-2 1h2m-1-6h2m-2 1h2m-2 6h2m-1-13h2m-2 9h2m-2 6h2m-1-15h2m-2 3h2m-2 1h2m-2 3h2m-2 2h2m-2 7h2m-1-90h2m-2 81h2m-2 8h2m-1-5h2m-2 2h2m-2 6h2m-1-12h2m-2 3h2m0-22h2m-2 3h2m-2 14h2m-2 21h2m-1-22h2m-2 1h2m-2 1h2m-1-1h2m-2 3h2m0-6h2m-2 1h2m-2 1h2m-1 8h2m-1-2h2m-2 6h2m-1 0h2m-1-15h2m-2 6h2m-1 0h2m-2 3h2m-1-2h2m-1-9h2m-2 5h2m-2 1h2m-2 1h2m-1-16h2m-2 14h2m-1-11h2m-2 4h2m-1 4h2m-2 5h2m-2 1h2m-1-25h2m-2 24h2m-1-14h2m-1 2h2m1-21h2m-2 6h2m-1 15h2m-1-21h2m-2 22h2m-2 15h2m-1-10h2m-1-21h2m-2 6h2m-2 6h2m-1-13h2m-1-17h2m-2 16h2m-2 4h2m-2 12h2m-2 12h2m-1-34h2m-1-20h2m-2 26h2m-2 7h2m-2 3h2m-2 7h2m-1-17h2m-2 1h2m-2 5h2m-2 7h2m-2 6h2m-1-23h2m-2 2h2m-2 5h2m-2 2h2m-2 20h2m-2 14h2m-1-40h2m-2 6h2m-2 3h2m-2 2h2m-2 5h2m-1-12h2m-2 2h2m-2 4h2m-1-8h2m-2 10h2m-2 3h2m-2 1h2m-2 4h2m-2 5h2m-2 5h2m-2 3h2m-1-50h2m-2 18h2m-2 8h2m-2 1h2m-2 2h2m-2 3h2m-2 16h2m-1-31h2m-2 2h2m-2 2h2m-2 5h2m-2 3h2m-2 2h2m-2 6h2m-2 3h2m-1-41h2m-2 9h2m-2 13h2m-2 5h2m-2 1h2m-2 4h2m-2 3h2m-2 1h2m-1-28h2m-2 7h2m-2 6h2m-2 2h2m-2 6h2m-2 22h2m-2 4h2m-1-21h2m-1-29h2m-2 1h2m-2 4h2m-2 8h2m-2 1h2m-2 4h2m-2 8h2m-2 3h2m-2 4h2m-2 1h2m-2 3h2m-1-33h2m-2 1h2m-2 3h2m-2 5h2m-2 7h2m-2 2h2m-2 3h2m-2 14h2m-1-32h2m-2 16h2m-2 8h2m-2 3h2m-2 1h2m-1-40h2m-2 27h2m-2 5h2m-2 8h2m-2 1h2m-2 23h2m-1-61h2m-2 1h2m-2 8h2m-2 15h2m-2 7h2m-2 4h2m-2 8h2m-1-37h2m-2 1h2m-2 7h2m-2 2h2m-2 1h2m-2 2h2m-2 9h2m-2 8h2m-1-44h2m-2 5h2m-2 12h2m-2 2h2m-2 3h2m-2 4h2m-2 2h2m-2 9h2m-2 1h2m-2 2h2m-2 6h2m-1-34h2m-2 2h2m-2 1h2m-2 5h2m-2 4h2m-2 1h2m-2 3h2m-2 5h2m-2 4h2m-2 14h2m-2 13h2m-1-41h2m-2 3h2m-2 1h2m-2 2h2m-2 2h2m-1-11h2m-2 4h2m-2 6h2m-2 6h2m-2 26h2m-1-87h2m-2 40h2m-2 12h2m-2 6h2m-2 8h2m-1-41h2m-2 25h2m-2 5h2m-2 6h2m-2 3h2m-2 3h2m-1-20h2m-2 10h2m-2 5h2m-1-17h2m-1-1h2m-2 7h2m-2 3h2m-2 13h2m-1-20h2m-2 5h2m-2 13h2m-1-27h2m-2 25h2m-1-22h2m-2 20h2m-1-35h2m-2 18h2m-2 7h2m-2 5h2m-2 4h2m-1-19h2m-2 4h2m-2 3h2m-1 9h2m-1-4h2m0 3h2m-1-12h2m-2 5h2m1-23h2m-2 33h2m-1-41h2m-2 26h2m-2 2h2m0 6h2"/><path d="M418 1203h2m-2 12h2m1-4h2m0 0h2m-1 3h2m-2 2h2m-1-15h2m-2 6h2m-2 13h2m-1 2h2m-1-18h2m-1 6h2m-1 1h2m-1-3h2m-1 0h2m-2 3h2m-1-5h2m-2 11h2m-1-10h2m-2 1h2m-2 4h2m-1-7h2m-2 5h2m-1-16h2m-2 13h2m-2 2h2m-2 1h2m-2 3h2m-1-23h2m-2 14h2m-2 6h2m-1-13h2m-2 9h2m-2 2h2m-2 3h2m-1-8h2m-2 3h2m-2 1h2m-2 3h2m-1-6h2m-1 2h2m-2 9h2m-1-17h2m-2 7h2m-2 5h2m-1-9h2m-2 11h2m-1-10h2m-2 4h2m-1-9h2m-2 5h2m-2 1h2m-2 1h2m-2 7h2m-2 7h2m-1-16h2m-2 1h2m-2 1h2m-2 13h2m-2 1h2m-1-12h2m-2 5h2m-2 3h2m-2 1h2m-1-9h2m-2 1h2m-2 1h2m-2 2h2m-1-15h2m-2 9h2m-2 3h2m-2 2h2m-1-10h2m-2 4h2m-2 3h2m-2 1h2m-2 5h2m-2 4h2m-2 3h2m-1-16h2m-2 3h2m-2 8h2m-2 1h2m-2 4h2m-1-19h2m-2 7h2m-2 2h2m-1-7h2m-2 5h2m-1-15h2m-2 2h2m-2 5h2m-2 9h2m-2 12h2m-1-32h2m-2 29h2m0-8h2m-1-23h2m-2 29h2m1-17h2m-1-16h2m-2 18h2m-1 4h2m-2 6h2m-2 4h2m-1-13h2m-1-26h2m-2 29h2m0-32h2m-1 19h2m0-16h2m-1-14h2m-2 28h2m-1-3h2m-2 6h2m-2 13h2m-1-27h2m-2 8h2m-2 19h2m-1-36h2m-2 14h2m-2 9h2m-1-25h2m-2 17h2m-1-8h2m-2 1h2m-2 7h2m-1 14h2m-1-34h2m-2 21h2m-2 10h2m-2 7h2m-2 2h2m-1-40h2m-2 11h2m-2 2h2m-2 1h2m-2 1h2m-2 6h2m-1 1h2m-2 17h2m-1-30h2m-2 9h2m-2 3h2m-1-7h2m-2 8h2m-2 5h2m-2 7h2m-1-13h2m-2 9h2m-1-24h2m-2 14h2m-2 2h2m-2 7h2m-2 5h2m-2 1h2m-2 1h2m-1-25h2m-2 6h2m-2 1h2m-2 1h2m-2 1h2m-2 4h2m-2 8h2m-2 1h2m-1-28h2m-2 11h2m-2 4h2m-2 6h2m-2 1h2m-2 1h2m-1-21h2m-2 11h2m-2 3h2m-2 12h2m-1-6h2m-2 3h2m-2 2h2m-1-21h2m-2 7h2m-2 1h2m-2 4h2m-2 1h2m-2 13h2m-1-32h2m-2 1h2m-2 6h2m-2 20h2m-2 2h2m-1-30h2m-2 6h2m-2 5h2m-2 14h2m-2 2h2m-2 8h2m-1-34h2m-2 5h2m-2 11h2m-2 4h2m-2 34h2m-1-46h2m-2 6h2m-2 1h2m-2 4h2m-2 1h2m-2 3h2m-2 6h2m-2 10h2m-1-41h2m-2 3h2m-2 1h2m-2 1h2m-2 1h2m-2 3h2m-2 5h2m-2 2h2m-2 6h2m-2 2h2m-2 2h2m-2 3h2m-2 9h2m-1-31h2m-2 7h2m-2 23h2m-1-33h2m-2 5h2m-2 16h2m-2 1h2m-1-18h2m-2 1h2m-2 2h2m-2 2h2m-2 1h2m-2 8h2m-2 21h2m-1-48h2m-2 2h2m-2 8h2m-2 3h2m-2 4h2m-2 1h2m-2 1h2m-2 3h2m-2 2h2m-2 1h2m-2 16h2m-1-48h2m-2 13h2m-2 3h2m-2 2h2m-2 42h2m-1-37h2m-2 3h2m-2 9h2m-2 9h2m-2 4h2m-1-49h2m-2 16h2m-2 14h2m-2 3h2m-1-20h2m-2 21h2m-2 2h2m-1-29h2m-2 3h2m-2 4h2m-2 11h2m-2 11h2m-2 12h2m-1-18h2m-2 11h2m-1-35h2m-2 17h2m-2 2h2m-2 2h2m-2 2h2m-2 3h2m-2 14h2m-1-28h2m-2 10h2m-2 1h2m-2 21h2m-1-32h2m-2 13h2m-1-18h2m-2 5h2m-2 3h2m-2 6h2m-2 17h2m-1-27h2m-2 3h2m-2 9h2m-1-11h2m-2 4h2m-2 3h2m-2 3h2m-2 1h2m-2 3h2m-1-33h2m-2 37h2m-1-7h2m-2 8h2m-1-11h2m-2 8h2m1-6h2m-2 1h2m-2 3h2m-1-23h2m-2 18h2m-1-17h2m-2 38h2m-1-56h2m-2 32h2m0-28h2m-2 33h2m0-6h2m1-12h2"/><path d="M416 1216h2m2-8h2m0 8h2m-1-15h2m-1 8h2m-2 1h2m-2 1h2m-1 7h2m-2 1h2m-1-15h2m-2 4h2m-1-7h2m-2 6h2m-2 2h2m-2 12h2m-1-10h2m0-16h2m-2 18h2m-2 7h2m-1-12h2m-2 1h2m-1-4h2m-2 1h2m-2 5h2m-2 1h2m-2 4h2m-1-13h2m-2 1h2m-2 7h2m-2 5h2m-1-12h2m-2 1h2m-2 1h2m-2 2h2m-2 6h2m-1-10h2m-2 3h2m-2 2h2m-2 2h2m-2 4h2m-1-14h2m-1 6h2m-2 7h2m-1-16h2m-2 4h2m-2 4h2m-2 7h2m0-12h2m-2 10h2m-2 2h2m-1-13h2m-2 6h2m-2 2h2m-2 2h2m-2 2h2m-1-12h2m-2 12h2m-2 1h2m-1-5h2m-1-4h2m-2 6h2m-2 2h2m-1-7h2m-2 2h2m-2 2h2m-2 3h2m-2 9h2m-1-1h2m-1-19h2m-2 7h2m-2 3h2m-1-2h2m-2 6h2m-1-33h2m-2 8h2m-2 6h2m-2 10h2m-2 6h2m-1-14h2m-2 2h2m-2 3h2m-2 12h2m-1-12h2m-2 3h2m-2 7h2m-1-20h2m-2 12h2m-2 3h2m-2 2h2m-1-7h2m-2 3h2m-2 2h2m0-13h2m-1 1h2m-2 3h2m-2 9h2m0 4h2m-1-7h2m-1 4h2m-1-9h2m-2 3h2m-1-1h2m-1-7h2m-2 12h2m-1-30h2m-2 23h2m-1-6h2m-2 5h2m-2 4h2m-2 2h2m0-28h2m-1 27h2m-2 2h2m-2 1h2m-1-16h2m-1-13h2m-2 3h2m-2 5h2m-2 4h2m-2 1h2m-1-2h2m-1-3h2m-2 14h2m0-20h2m-2 19h2m-2 13h2m-1-45h2m-2 21h2m-2 5h2m-2 10h2m-1-11h2m-2 10h2m-1-24h2m-2 1h2m-2 3h2m-2 4h2m-2 4h2m-1-12h2m-2 5h2m-1 2h2m-2 2h2m-2 5h2m-1-11h2m-1-2h2m-2 14h2m-1-18h2m-2 4h2m-2 2h2m-2 4h2m-2 1h2m-2 8h2m-2 12h2m-1-38h2m-2 7h2m-2 2h2m-2 17h2m-2 10h2m-2 3h2m-1-30h2m-2 2h2m-2 5h2m-2 7h2m-1-21h2m-2 1h2m-2 2h2m-2 16h2m-2 6h2m-1-18h2m-2 8h2m-1-14h2m-2 2h2m-2 7h2m-2 3h2m-2 10h2m-2 2h2m-1-22h2m-2 9h2m-2 3h2m-2 3h2m-2 2h2m-2 4h2m-2 2h2m-1-36h2m-2 11h2m-2 1h2m-2 5h2m-2 2h2m-2 6h2m-2 7h2m-2 3h2m-2 15h2m-1-50h2m-2 12h2m-2 6h2m-2 3h2m-2 1h2m-2 1h2m-2 1h2m-2 4h2m-2 1h2m-2 3h2m-2 12h2m-2 2h2m-2 2h2m-2 15h2m-1-47h2m-2 1h2m-2 7h2m-2 3h2m-2 11h2m-1-17h2m-2 11h2m-2 2h2m-2 5h2m-2 2h2m-1-27h2m-2 1h2m-2 6h2m-2 4h2m-2 3h2m-2 1h2m-2 3h2m-2 2h2m-1-23h2m-2 1h2m-2 11h2m-2 4h2m-2 5h2m-2 5h2m-1-30h2m-2 1h2m-2 1h2m-2 3h2m-2 12h2m-2 4h2m-2 3h2m-1-22h2m-2 1h2m-2 3h2m-2 1h2m-2 32h2m-1-28h2m-2 2h2m-2 10h2m-2 7h2m-1-36h2m-2 3h2m-2 16h2m-2 5h2m-2 11h2m-2 3h2m-2 1h2m-2 16h2m-1-59h2m-2 21h2m-2 6h2m-2 6h2m-1-21h2m-2 16h2m-2 11h2m-1-30h2m-2 5h2m-2 7h2m-2 1h2m-2 24h2m-2 6h2m-1-50h2m-2 14h2m-2 4h2m-2 7h2m-2 7h2m-1-13h2m-2 5h2m-2 6h2m-2 4h2m-2 10h2m-1-32h2m-2 9h2m-2 2h2m-2 1h2m-2 16h2m-1-31h2m-2 11h2m-2 1h2m-2 6h2m-2 3h2m-1-35h2m-2 5h2m-2 17h2m-2 2h2m-2 1h2m-2 3h2m-2 2h2m-2 22h2m-1-26h2m-2 7h2m-1-21h2m-2 7h2m-2 4h2m-2 3h2m-2 6h2m-1-22h2m-2 3h2m-2 4h2m-2 11h2m-2 1h2m-2 12h2m0-28h2m-2 11h2m-1 10h2m-2 4h2m-2 5h2m2-26h2m-1 3h2m-2 28h2m-1-22h2m3-22h2m-2 16h2m0-15h2"/></g><rect x="201.80" y="559.40" width="62.20" height="58.90" fill="none" stroke="#3a3a3a" stroke-width="0.9"/><line x1="230.30" y1="559.40" x2="230.30" y2="618.30" stroke="#3a3a3a" stroke-width="0.85"/><line x1="201.80" y1="595.70" x2="264.00" y2="595.70" stroke="#3a3a3a" stroke-width="0.85"/><ellipse cx="222.0" cy="589.5" rx="1.3" ry="0.9" fill="#333" opacity="0.8"/><ellipse cx="237.0" cy="589.5" rx="1.3" ry="0.9" fill="#333" opacity="0.8"/><ellipse cx="237.0" cy="603.0" rx="1.3" ry="0.9" fill="#333" opacity="0.8"/><text x="205.0" y="565.7" font-size="4.3" text-anchor="start" font-weight="normal" fill="#333" stroke="#333" stroke-width="0.05" >B489 5uM</text><line x1="200.20" y1="565.90" x2="201.80" y2="565.90" stroke="#555" stroke-width="0.6"/><text x="197.8" y="567.3" font-size="3.8" text-anchor="end" fill="#666">10<tspan font-size="2.6" dy="-1.4">3</tspan></text><line x1="200.20" y1="580.40" x2="201.80" y2="580.40" stroke="#555" stroke-width="0.6"/><text x="197.8" y="581.8" font-size="3.8" text-anchor="end" fill="#666">10<tspan font-size="2.6" dy="-1.4">2</tspan></text><line x1="200.20" y1="594.90" x2="201.80" y2="594.90" stroke="#555" stroke-width="0.6"/><text x="197.8" y="596.3" font-size="3.8" text-anchor="end" fill="#666">10<tspan font-size="2.6" dy="-1.4">1</tspan></text><line x1="200.20" y1="609.40" x2="201.80" y2="609.40" stroke="#555" stroke-width="0.6"/><text x="197.8" y="610.8" font-size="3.8" text-anchor="end" fill="#666">10<tspan font-size="2.6" dy="-1.4">0</tspan></text><line x1="210.30" y1="618.30" x2="210.30" y2="619.70" stroke="#555" stroke-width="0.6"/><text x="210.3" y="625.7" font-size="3.8" text-anchor="middle" fill="#666">10<tspan font-size="2.6" dy="-1.4">0</tspan></text><line x1="225.80" y1="618.30" x2="225.80" y2="619.70" stroke="#555" stroke-width="0.6"/><text x="225.8" y="625.7" font-size="3.8" text-anchor="middle" fill="#666">10<tspan font-size="2.6" dy="-1.4">1</tspan></text><line x1="241.30" y1="618.30" x2="241.30" y2="619.70" stroke="#555" stroke-width="0.6"/><text x="241.3" y="625.7" font-size="3.8" text-anchor="middle" fill="#666">10<tspan font-size="2.6" dy="-1.4">2</tspan></text><line x1="256.80" y1="618.30" x2="256.80" y2="619.70" stroke="#555" stroke-width="0.6"/><text x="256.8" y="625.7" font-size="3.8" text-anchor="middle" fill="#666">10<tspan font-size="2.6" dy="-1.4">3</tspan></text><line x1="214.97" y1="617.20" x2="214.97" y2="618.30" stroke="#666" stroke-width="0.4"/><line x1="217.70" y1="617.20" x2="217.70" y2="618.30" stroke="#666" stroke-width="0.4"/><line x1="219.63" y1="617.20" x2="219.63" y2="618.30" stroke="#666" stroke-width="0.4"/><line x1="221.13" y1="617.20" x2="221.13" y2="618.30" stroke="#666" stroke-width="0.4"/><line x1="222.36" y1="617.20" x2="222.36" y2="618.30" stroke="#666" stroke-width="0.4"/><line x1="223.40" y1="617.20" x2="223.40" y2="618.30" stroke="#666" stroke-width="0.4"/><line x1="224.30" y1="617.20" x2="224.30" y2="618.30" stroke="#666" stroke-width="0.4"/><line x1="225.09" y1="617.20" x2="225.09" y2="618.30" stroke="#666" stroke-width="0.4"/><line x1="230.47" y1="617.20" x2="230.47" y2="618.30" stroke="#666" stroke-width="0.4"/><line x1="233.20" y1="617.20" x2="233.20" y2="618.30" stroke="#666" stroke-width="0.4"/><line x1="235.13" y1="617.20" x2="235.13" y2="618.30" stroke="#666" stroke-width="0.4"/><line x1="236.63" y1="617.20" x2="236.63" y2="618.30" stroke="#666" stroke-width="0.4"/><line x1="237.86" y1="617.20" x2="237.86" y2="618.30" stroke="#666" stroke-width="0.4"/><line x1="238.90" y1="617.20" x2="238.90" y2="618.30" stroke="#666" stroke-width="0.4"/><line x1="239.80" y1="617.20" x2="239.80" y2="618.30" stroke="#666" stroke-width="0.4"/><line x1="240.59" y1="617.20" x2="240.59" y2="618.30" stroke="#666" stroke-width="0.4"/><line x1="245.97" y1="617.20" x2="245.97" y2="618.30" stroke="#666" stroke-width="0.4"/><line x1="248.70" y1="617.20" x2="248.70" y2="618.30" stroke="#666" stroke-width="0.4"/><line x1="250.63" y1="617.20" x2="250.63" y2="618.30" stroke="#666" stroke-width="0.4"/><line x1="252.13" y1="617.20" x2="252.13" y2="618.30" stroke="#666" stroke-width="0.4"/><line x1="253.36" y1="617.20" x2="253.36" y2="618.30" stroke="#666" stroke-width="0.4"/><line x1="254.40" y1="617.20" x2="254.40" y2="618.30" stroke="#666" stroke-width="0.4"/><line x1="255.30" y1="617.20" x2="255.30" y2="618.30" stroke="#666" stroke-width="0.4"/><line x1="256.09" y1="617.20" x2="256.09" y2="618.30" stroke="#666" stroke-width="0.4"/><text x="261.0" y="635.3" font-size="5.6" text-anchor="end" font-weight="normal" fill="#222" stroke="#222" stroke-width="0.1" >80,4%</text><g transform="scale(0.5)" stroke="#000" stroke-width="1.6" stroke-opacity="0.22" filter="url(#fb)"><path d="M565 1128h2m2 53h2m0 45h2m2-21h2m-2 16h2m-1 0h2m0-9h2m-2 11h2m-2 4h2m2 1h2m-1 2h2m-1-14h2m-1-1h2m-1 6h2m-1 3h2m-1 0h2m-1-14h2m-1 16h2m-1-21h2m-2 7h2m-1-3h2m-2 6h2m-1-4h2m-1-63h2m-2 56h2m-2 13h2m-1-8h2m-2 8h2m-2 3h2m-1 7h2m0-1h2m0-10h2m-1-4h2m-1-3h2m-1-3h2m-2 1h2m-2 1h2m-2 16h2m-1-12h2m-2 1h2m-2 2h2m-1-5h2m-2 8h2m-2 11h2m-1-39h2m-2 22h2m-1-10h2m-2 15h2m-2 1h2m-2 1h2m-2 4h2m-1-17h2m-2 2h2m-2 2h2m-2 2h2m-2 8h2m-1-18h2m-2 2h2m-2 1h2m-2 1h2m-2 8h2m-2 3h2m-2 6h2m-1-18h2m-2 2h2m-2 1h2m-2 1h2m-2 9h2m-1-15h2m-2 4h2m-2 4h2m-2 4h2m-1-16h2m-2 15h2m-2 1h2m-2 2h2m-2 2h2m-1-35h2m-2 23h2m-2 1h2m-2 5h2m-1-33h2m-2 3h2m-2 4h2m-2 5h2m-2 4h2m-2 4h2m-2 4h2m-2 3h2m-2 1h2m-2 4h2m-2 5h2m-2 1h2m-1-45h2m-2 18h2m-2 19h2m-2 2h2m-2 4h2m-2 2h2m-2 2h2m-2 1h2m-1-45h2m-2 24h2m-2 2h2m-2 4h2m-2 12h2m-2 3h2m-1-41h2m-2 13h2m-2 8h2m-2 4h2m-2 5h2m-2 4h2m-2 2h2m-2 1h2m-2 1h2m-2 1h2m-2 7h2m-1-90h2m-2 54h2m-2 14h2m-2 3h2m-2 3h2m-2 4h2m-2 1h2m-2 1h2m-1-36h2m-2 12h2m-2 5h2m-2 7h2m-2 9h2m-1-37h2m-2 4h2m-2 2h2m-2 18h2m-2 3h2m-2 1h2m-2 4h2m-2 4h2m-2 1h2m-2 2h2m-2 2h2m-2 2h2m-1-36h2m-2 2h2m-2 8h2m-2 5h2m-2 7h2m-2 5h2m-2 2h2m-2 1h2m-2 1h2m-2 2h2m-1-33h2m-2 4h2m-2 13h2m-2 7h2m-2 1h2m-2 1h2m-2 2h2m-2 5h2m-2 12h2m-2 1h2m-1-47h2m-2 5h2m-2 20h2m-2 3h2m-2 1h2m-2 1h2m-2 2h2m-2 2h2m-2 3h2m-2 2h2m-1-40h2m-2 10h2m-2 16h2m-2 1h2m-2 5h2m-2 9h2m-1-46h2m-2 10h2m-2 5h2m-2 9h2m-2 3h2m-2 5h2m-2 1h2m-2 4h2m-2 3h2m-2 3h2m-1-39h2m-2 4h2m-2 20h2m-2 4h2m-2 2h2m-2 2h2m-2 7h2m-2 2h2m-2 1h2m-2 9h2m-1-33h2m-2 9h2m-2 6h2m-2 1h2m-2 2h2m-2 9h2m-1-38h2m-2 18h2m-2 10h2m-2 1h2m-2 15h2m-1-44h2m-2 3h2m-2 10h2m-2 5h2m-2 2h2m-2 1h2m-2 5h2m-2 4h2m-1-31h2m-2 4h2m-2 3h2m-1-12h2m-2 1h2m-2 24h2m-2 10h2m-2 7h2m-1-33h2m-2 21h2m-2 1h2m-2 2h2m-2 11h2m-1-13h2m-2 14h2m-1-28h2m-2 15h2m-1-15h2m-2 18h2m-2 1h2m-2 10h2m-1-31h2m0 2h2m-2 11h2m-2 18h2m1-18h2m-1-7h2m-1 20h2"/><path d="M563 1202h2m2-18h2m-2 32h2m6-9h2m-1-1h2m-1 15h2m-1-9h2m-1-23h2m-1 9h2m1 16h2m1-5h2m-1 4h2m-1-6h2m-2 6h2m-2 14h2m-1-15h2m-1 7h2m-2 10h2m1-13h2m-1-8h2m-1-2h2m-2 10h2m-2 14h2m-1-10h2m-1-2h2m-1-6h2m-1-11h2m-2 10h2m-2 2h2m-1-8h2m-2 8h2m-2 5h2m-2 6h2m-1-29h2m-2 12h2m-1 3h2m-2 2h2m-1-7h2m-2 5h2m-2 6h2m-2 6h2m-2 5h2m-1-20h2m-2 11h2m-1-15h2m-2 8h2m-2 7h2m-2 1h2m-1 10h2m-1-26h2m-2 13h2m-1-14h2m-2 9h2m-1 1h2m-2 1h2m-2 14h2m-1-51h2m-2 32h2m-2 2h2m-2 1h2m-2 2h2m-2 4h2m-2 3h2m-1-40h2m-2 9h2m-2 10h2m-2 7h2m-2 2h2m-2 4h2m-2 2h2m-2 4h2m-2 2h2m-1-39h2m-2 16h2m-2 19h2m-2 5h2m-2 1h2m-2 4h2m-2 4h2m-1-56h2m-2 20h2m-2 8h2m-2 2h2m-2 2h2m-2 4h2m-2 16h2m-2 8h2m-1-45h2m-2 17h2m-2 3h2m-2 6h2m-2 2h2m-1-31h2m-2 19h2m-2 1h2m-2 2h2m-2 3h2m-2 2h2m-2 1h2m-2 13h2m-1-44h2m-2 17h2m-2 3h2m-2 5h2m-2 1h2m-2 2h2m-2 14h2m-1-40h2m-2 2h2m-2 17h2m-2 4h2m-2 3h2m-2 4h2m-2 3h2m-1-29h2m-2 14h2m-2 4h2m-2 3h2m-2 1h2m-2 3h2m-2 2h2m-2 3h2m-2 5h2m-1-46h2m-2 8h2m-2 1h2m-2 12h2m-2 1h2m-2 2h2m-2 1h2m-2 2h2m-2 3h2m-2 2h2m-2 1h2m-2 1h2m-2 5h2m-2 4h2m-2 2h2m-2 1h2m-1-49h2m-2 31h2m-2 8h2m-2 1h2m-2 10h2m-1-49h2m-2 22h2m-2 7h2m-2 4h2m-2 6h2m-2 1h2m-1-34h2m-2 2h2m-2 2h2m-2 9h2m-2 2h2m-2 6h2m-2 2h2m-2 12h2m-2 1h2m-2 8h2m-1-46h2m-2 23h2m-2 1h2m-2 3h2m-2 3h2m-2 1h2m-2 1h2m-2 3h2m-2 2h2m-2 11h2m-1-49h2m-2 4h2m-2 3h2m-2 22h2m-2 1h2m-2 2h2m-2 3h2m-2 3h2m-2 1h2m-2 1h2m-2 2h2m-2 3h2m-2 6h2m-1-52h2m-2 23h2m-2 2h2m-2 3h2m-2 11h2m-1-15h2m-2 1h2m-2 5h2m-2 5h2m-2 11h2m-1-44h2m-2 8h2m-2 28h2m-2 3h2m-1-40h2m-2 26h2m-2 3h2m-2 2h2m-2 3h2m-2 1h2m-2 3h2m-2 8h2m-1-43h2m-2 5h2m-2 1h2m-2 15h2m-2 5h2m-2 5h2m-1-31h2m-2 8h2m-2 11h2m-2 17h2m-2 2h2m-2 10h2m-1-50h2m-2 6h2m-2 5h2m-2 16h2m-2 13h2m-1-41h2m-2 8h2m-2 8h2m-2 9h2m-2 4h2m-2 1h2m-2 2h2m-2 9h2m-2 1h2m-1-13h2m-2 5h2m-2 3h2m-1-18h2m-2 23h2m-2 1h2m1-26h2m-2 11h2m-2 10h2m-1 0h2m0-8h2m-1-15h2m-2 18h2m-1-13h2m2 23h2m0 4h2m-1-16h2m19-38h2m2 0h2"/><path d="M566 1216h2m0 10h2m0-9h2m1 3h2m0-6h2m-2 6h2m-1-23h2m2 9h2m1 1h2m-1 2h2m-2 15h2m-1-13h2m-2 5h2m-2 11h2m0-3h2m-1-12h2m-1-1h2m-2 10h2m-1 1h2m0-7h2m-2 3h2m-2 4h2m-2 11h2m0-33h2m-2 10h2m-1 15h2m-1-16h2m0-4h2m-1 1h2m-1-7h2m-2 9h2m-2 8h2m-2 5h2m-1-23h2m-1 9h2m-2 17h2m-1-18h2m-2 6h2m-2 7h2m0-19h2m-2 6h2m-2 13h2m-2 9h2m-1-25h2m-2 13h2m-2 8h2m-1-9h2m-2 11h2m-1-29h2m-2 10h2m-1-17h2m-2 10h2m-2 5h2m-2 5h2m-2 6h2m-2 3h2m-2 1h2m-2 3h2m-1-37h2m-2 18h2m-2 11h2m-1-14h2m-2 2h2m-2 1h2m-2 6h2m-2 2h2m-2 1h2m-2 4h2m-2 9h2m-1-28h2m-2 4h2m-2 3h2m-2 6h2m-2 1h2m-2 2h2m-2 4h2m-2 1h2m-1-64h2m-2 21h2m-2 25h2m-2 2h2m-2 2h2m-2 4h2m-2 1h2m-2 7h2m-2 1h2m-2 9h2m-2 1h2m-1-24h2m-2 3h2m-2 1h2m-2 2h2m-2 3h2m-2 2h2m-2 3h2m-2 1h2m-2 2h2m-1-38h2m-2 18h2m-2 2h2m-2 8h2m-2 1h2m-2 1h2m-2 6h2m-1-15h2m-2 2h2m-2 2h2m-2 1h2m-2 2h2m-2 4h2m-1-12h2m-2 2h2m-2 3h2m-2 4h2m-2 2h2m-2 2h2m-2 3h2m-2 5h2m-1-37h2m-2 18h2m-2 2h2m-2 2h2m-2 1h2m-2 2h2m-2 4h2m-2 1h2m-1-35h2m-2 1h2m-2 1h2m-2 9h2m-2 16h2m-2 3h2m-2 4h2m-2 1h2m-2 7h2m-2 2h2m-1-44h2m-2 3h2m-2 24h2m-2 1h2m-2 9h2m-2 2h2m-1-39h2m-2 6h2m-2 8h2m-2 2h2m-2 2h2m-2 3h2m-2 1h2m-2 2h2m-2 4h2m-2 3h2m-2 1h2m-2 2h2m-2 1h2m-2 2h2m-1-33h2m-2 1h2m-2 14h2m-2 1h2m-2 4h2m-2 3h2m-2 5h2m-2 2h2m-2 5h2m-2 4h2m-1-45h2m-2 2h2m-2 8h2m-2 10h2m-2 4h2m-2 2h2m-2 6h2m-2 4h2m-2 2h2m-1-36h2m-2 2h2m-2 16h2m-2 1h2m-2 3h2m-2 1h2m-2 9h2m-2 3h2m-2 1h2m-2 5h2m-1-49h2m-2 3h2m-2 7h2m-2 15h2m-2 4h2m-2 15h2m-2 3h2m-2 10h2m-2 2h2m-1-53h2m-2 3h2m-2 1h2m-2 6h2m-2 2h2m-2 1h2m-2 14h2m-2 1h2m-2 5h2m-2 2h2m-1-23h2m-2 14h2m-2 1h2m-2 4h2m-2 4h2m-2 5h2m-1-40h2m-2 18h2m-2 11h2m-2 15h2m-1-25h2m-2 4h2m-2 8h2m-2 6h2m-2 6h2m-1-14h2m-2 3h2m-2 9h2m-1-37h2m-2 1h2m-2 20h2m-2 6h2m-1-36h2m-2 14h2m-2 13h2m-2 6h2m-2 1h2m-2 8h2m-1 10h2m-1-1h2m0-26h2m-2 8h2m-2 3h2m-1-2h2m-1-33h2m-2 32h2m-2 1h2m-2 2h2m-1-9h2m0 2h2m9-1h2m11-24h2m5-25h2"/><path d="M566 1232h2m0-16h2m-2 2h2m4-8h2m0-61h2m-1 49h2m-2 36h2m0-14h2m0-8h2m-2 10h2m-1-19h2m2 5h2m-1-4h2m-2 5h2m-1 6h2m-1 0h2m-2 5h2m-1-1h2m0-22h2m-1 12h2m-2 6h2m-2 10h2m-2 2h2m-1-26h2m-2 5h2m-2 20h2m-1-34h2m-1 32h2m-1-8h2m-2 1h2m-1-3h2m-1 1h2m-2 4h2m-1-12h2m-2 7h2m-2 6h2m-1 1h2m0-17h2m-2 15h2m-1-11h2m-2 9h2m-2 5h2m-1-8h2m-2 16h2m-1-21h2m-2 4h2m-2 5h2m-2 2h2m-1-18h2m-2 13h2m-2 6h2m-1-16h2m-2 3h2m-1-7h2m-2 2h2m-2 4h2m-2 2h2m-2 8h2m-2 11h2m-2 2h2m-1-25h2m-2 4h2m-2 1h2m-2 1h2m-2 3h2m-2 10h2m-2 1h2m-1-24h2m-2 5h2m-2 3h2m-2 1h2m-2 9h2m-1-13h2m-2 2h2m-2 1h2m-1-29h2m-2 1h2m-2 13h2m-2 10h2m-2 4h2m-2 8h2m-2 4h2m-1-44h2m-2 3h2m-2 26h2m-2 2h2m-2 2h2m-2 2h2m-2 2h2m-2 7h2m-2 1h2m-1-34h2m-2 9h2m-2 4h2m-2 3h2m-2 1h2m-2 2h2m-2 7h2m-2 1h2m-2 3h2m-2 1h2m-2 1h2m-2 12h2m-1-34h2m-2 10h2m-2 4h2m-2 1h2m-2 1h2m-2 8h2m-2 3h2m-2 8h2m-1-36h2m-2 1h2m-2 5h2m-2 2h2m-2 1h2m-2 3h2m-2 2h2m-2 3h2m-2 6h2m-2 2h2m-2 11h2m-1-51h2m-2 6h2m-2 15h2m-2 7h2m-2 3h2m-2 3h2m-2 6h2m-2 5h2m-1-42h2m-2 2h2m-2 4h2m-2 8h2m-2 4h2m-2 5h2m-2 3h2m-2 1h2m-2 8h2m-2 1h2m-2 9h2m-1-48h2m-2 2h2m-2 17h2m-2 5h2m-2 10h2m-2 1h2m-2 1h2m-1-36h2m-2 3h2m-2 18h2m-2 4h2m-2 3h2m-2 1h2m-2 1h2m-2 2h2m-2 5h2m-1-40h2m-2 1h2m-2 5h2m-2 3h2m-2 12h2m-2 3h2m-2 4h2m-2 1h2m-2 7h2m-2 5h2m-2 4h2m-2 6h2m-1-50h2m-2 16h2m-2 4h2m-2 3h2m-2 3h2m-2 3h2m-2 2h2m-2 8h2m-2 1h2m-2 8h2m-1-55h2m-2 6h2m-2 13h2m-2 8h2m-2 12h2m-2 11h2m-2 1h2m-2 1h2m-1-42h2m-2 6h2m-2 12h2m-2 4h2m-2 1h2m-2 3h2m-2 5h2m-2 7h2m-2 2h2m-1-41h2m-2 2h2m-2 27h2m-2 2h2m-2 11h2m-1-43h2m-2 9h2m-2 5h2m-2 15h2m-2 2h2m-2 4h2m-2 1h2m-2 15h2m-1-58h2m-2 2h2m-2 9h2m-2 2h2m-2 1h2m-2 4h2m-2 11h2m-2 2h2m-2 3h2m-1-26h2m-2 25h2m-1-31h2m-2 24h2m-2 7h2m-2 3h2m-2 6h2m-2 1h2m-1-34h2m-2 26h2m-2 7h2m-2 3h2m-1-78h2m-2 48h2m-2 17h2m-2 8h2m-1-8h2m-2 5h2m-2 1h2m-2 10h2m-1-4h2m-1-4h2m-2 4h2m-2 2h2m-1-33h2m-2 21h2m0 1h2m-1-9h2m-2 12h2m0-6h2m-2 5h2m-1 3h2m-1-7h2m-1-60h2m-2 55h2m-2 14h2m-1-36h2m2 33h2"/><path d="M568 1205h2m-1 4h2m2 7h2m2-9h2m-2 7h2m-2 11h2m-1-19h2m-1 10h2m-2 17h2m0-26h2m-2 7h2m-1 11h2m-1-15h2m-2 7h2m0-16h2m-2 22h2m-1 4h2m-1-2h2m-2 1h2m-1-14h2m0-10h2m-2 13h2m-2 16h2m-1-28h2m-2 8h2m-2 3h2m-1 4h2m-1-52h2m-2 36h2m-1 21h2m0-12h2m-1-1h2m-1 9h2m-1-6h2m-1 1h2m-2 3h2m-2 4h2m-2 1h2m0 0h2m-2 5h2m-2 3h2m0-27h2m-2 4h2m-2 14h2m-1-6h2m-1-1h2m-2 3h2m-1-2h2m-1-15h2m-2 13h2m-2 1h2m-2 1h2m-1-12h2m-2 9h2m-2 2h2m-2 18h2m-1-35h2m-2 6h2m-2 8h2m-2 2h2m-2 2h2m-2 10h2m-1-36h2m-2 2h2m-2 23h2m-2 5h2m-2 10h2m-1-27h2m-2 9h2m-2 4h2m-2 3h2m-1-17h2m-2 2h2m-2 3h2m-2 1h2m-2 15h2m-2 1h2m-1-17h2m-2 2h2m-2 5h2m-2 1h2m-2 4h2m-2 3h2m-2 11h2m-1-54h2m-2 1h2m-2 24h2m-2 10h2m-2 1h2m-2 4h2m-2 3h2m-1-26h2m-2 1h2m-2 17h2m-2 1h2m-2 3h2m-1-36h2m-2 5h2m-2 7h2m-2 2h2m-2 3h2m-2 9h2m-2 2h2m-1-8h2m-2 2h2m-2 7h2m-2 2h2m-2 1h2m-2 2h2m-2 3h2m-2 3h2m-1-50h2m-2 7h2m-2 24h2m-2 5h2m-2 5h2m-2 3h2m-2 1h2m-2 2h2m-2 1h2m-2 2h2m-2 1h2m-2 2h2m-1-47h2m-2 26h2m-2 10h2m-2 5h2m-2 1h2m-2 4h2m-2 1h2m-1-46h2m-2 20h2m-2 3h2m-2 8h2m-2 2h2m-2 2h2m-2 9h2m-2 1h2m-1-42h2m-2 1h2m-2 17h2m-2 2h2m-2 2h2m-2 4h2m-2 3h2m-2 12h2m-2 2h2m-1-39h2m-2 3h2m-2 1h2m-2 7h2m-2 2h2m-2 9h2m-2 1h2m-2 6h2m-2 1h2m-2 1h2m-2 1h2m-2 5h2m-1-44h2m-2 13h2m-2 15h2m-2 2h2m-2 1h2m-2 3h2m-2 3h2m-2 1h2m-2 2h2m-1-47h2m-2 12h2m-2 2h2m-2 2h2m-2 22h2m-2 1h2m-2 2h2m-2 11h2m-2 1h2m-1-44h2m-2 19h2m-2 8h2m-2 15h2m-1-36h2m-2 8h2m-2 7h2m-2 6h2m-2 1h2m-2 1h2m-2 1h2m-2 7h2m-2 2h2m-1-19h2m-2 5h2m-2 5h2m-2 14h2m-1-47h2m-2 9h2m-2 5h2m-2 1h2m-2 10h2m-2 12h2m-2 2h2m-2 2h2m-2 3h2m-1-69h2m-2 29h2m-2 6h2m-2 5h2m-2 19h2m-2 4h2m-2 2h2m-2 2h2m-1-43h2m-2 7h2m-2 1h2m-2 19h2m-2 13h2m-2 4h2m-1-18h2m-2 6h2m-2 8h2m-2 7h2m-2 5h2m0-47h2m-2 26h2m-2 5h2m-2 6h2m-1-30h2m-2 17h2m-2 3h2m-2 7h2m-1-13h2m-2 2h2m-1-4h2m-2 6h2m-2 4h2m-2 1h2m-1-4h2m-2 3h2m-2 8h2m-1-7h2m-1-7h2m0 10h2"/><path d="M565 1211h2m4 7h2m-1-1h2m-2 1h2m0 6h2m0-24h2m0 3h2m1 2h2m-1 14h2m-1-1h2m-2 10h2m2-19h2m-2 1h2m-2 3h2m-2 9h2m-1-9h2m-1 0h2m-1-1h2m-2 21h2m-1-38h2m-1 20h2m-1-6h2m-2 12h2m-2 4h2m0-29h2m-1 24h2m-1-16h2m-2 9h2m-2 2h2m-1-5h2m-2 8h2m-1-15h2m-1 3h2m-1 0h2m0-3h2m-2 1h2m-1-62h2m-2 70h2m-2 8h2m-1-15h2m-2 9h2m-2 8h2m-2 2h2m-1-9h2m-1-8h2m-2 3h2m-2 2h2m-2 16h2m-1-24h2m-2 14h2m-2 2h2m-2 1h2m-1-42h2m-2 28h2m-2 4h2m-2 13h2m-1-22h2m-2 9h2m-2 7h2m-1-22h2m-2 12h2m-2 1h2m-2 12h2m-2 12h2m-1-54h2m-2 6h2m-2 3h2m-2 6h2m-2 9h2m-2 3h2m-2 2h2m-2 2h2m-2 1h2m-2 3h2m-1-38h2m-2 19h2m-2 10h2m-2 1h2m-2 1h2m-2 4h2m-2 1h2m-2 6h2m-2 1h2m-1-46h2m-2 26h2m-2 12h2m-2 2h2m-2 1h2m-2 1h2m-2 11h2m-1-38h2m-2 21h2m-2 1h2m-2 1h2m-2 1h2m-1-7h2m-2 5h2m-2 1h2m-2 1h2m-2 3h2m-2 2h2m-2 6h2m-2 2h2m-1-41h2m-2 1h2m-2 6h2m-2 1h2m-2 17h2m-2 1h2m-2 1h2m-2 1h2m-2 4h2m-2 4h2m-2 1h2m-2 3h2m-1-45h2m-2 4h2m-2 4h2m-2 6h2m-2 9h2m-2 2h2m-2 4h2m-2 3h2m-2 1h2m-2 2h2m-2 2h2m-2 2h2m-2 1h2m-2 2h2m-2 3h2m-2 2h2m-1-40h2m-2 6h2m-2 4h2m-2 5h2m-2 1h2m-2 2h2m-2 5h2m-2 1h2m-2 4h2m-2 4h2m-2 1h2m-2 1h2m-2 1h2m-2 1h2m-2 2h2m-2 1h2m-1-43h2m-2 7h2m-2 4h2m-2 7h2m-2 3h2m-2 3h2m-2 9h2m-2 2h2m-2 3h2m-2 2h2m-1-23h2m-2 10h2m-2 1h2m-2 5h2m-2 1h2m-2 1h2m-2 4h2m-2 4h2m-1-47h2m-2 8h2m-2 1h2m-2 15h2m-2 5h2m-2 1h2m-2 4h2m-2 1h2m-2 4h2m-2 1h2m-2 9h2m-1-30h2m-2 4h2m-2 4h2m-2 4h2m-2 3h2m-2 4h2m-1-38h2m-2 25h2m-2 9h2m-2 1h2m-2 6h2m-2 7h2m-2 1h2m-1-46h2m-2 1h2m-2 2h2m-2 15h2m-2 5h2m-2 5h2m-2 3h2m-2 4h2m-1-8h2m-2 6h2m-2 1h2m-2 4h2m-1-19h2m-2 3h2m-2 1h2m-2 1h2m-2 2h2m-2 5h2m-2 1h2m-2 1h2m-2 3h2m-2 2h2m-1-50h2m-2 7h2m-2 30h2m-2 7h2m-2 4h2m-1-26h2m-2 18h2m-2 1h2m-2 3h2m-2 1h2m-2 6h2m-1-43h2m-2 2h2m-2 10h2m-2 15h2m-2 4h2m-2 2h2m-2 6h2m-2 11h2m-1-38h2m-2 16h2m-2 1h2m-2 4h2m-2 1h2m-2 18h2m-1-49h2m-2 32h2m-2 2h2m-2 1h2m-2 7h2m-1-23h2m-2 27h2m-1-27h2m-2 4h2m-2 13h2m-2 2h2m-1-31h2m-2 31h2m-2 4h2m-2 2h2m-1-14h2m-1-13h2"/><path d="M566 1224h2m6-21h2m-2 21h2m-1-15h2m-1 11h2m-1-16h2m-1 21h2m0-21h2m-2 7h2m1 6h2m0-5h2m-1-10h2m-2 31h2m-1-27h2m-1 4h2m-2 12h2m-1-6h2m-1-3h2m-1 14h2m-1-25h2m-2 4h2m-2 6h2m-2 2h2m-2 5h2m-1-10h2m-2 13h2m-1 1h2m-1 0h2m-2 6h2m-1-18h2m-1-13h2m-2 14h2m-1 3h2m-2 2h2m-2 4h2m-1-12h2m-2 3h2m-2 4h2m-2 2h2m-2 4h2m-2 2h2m1-18h2m-2 5h2m-2 6h2m-1-17h2m-2 7h2m-2 4h2m-2 9h2m-1-25h2m-2 5h2m-2 2h2m-1 7h2m-1-22h2m-2 17h2m-2 13h2m-1-15h2m-2 17h2m-2 6h2m-1-30h2m-2 9h2m-2 9h2m-2 4h2m-2 12h2m-1-29h2m-2 3h2m-2 3h2m-2 8h2m-1-15h2m-2 4h2m-2 7h2m-2 1h2m-2 5h2m-2 1h2m-1-17h2m-2 12h2m-2 1h2m-2 4h2m-2 7h2m-1-29h2m-2 3h2m-2 5h2m-2 6h2m-2 2h2m-2 4h2m-2 10h2m-1-47h2m-2 23h2m-2 10h2m-2 1h2m-2 5h2m-2 6h2m-1-44h2m-2 10h2m-2 15h2m-2 11h2m-2 8h2m-1-39h2m-2 16h2m-2 9h2m-2 9h2m-2 8h2m-1-22h2m-2 8h2m-2 6h2m-2 5h2m-1-49h2m-2 9h2m-2 31h2m-1-20h2m-2 3h2m-2 1h2m-2 3h2m-2 5h2m-2 1h2m-2 1h2m-2 9h2m-2 1h2m-2 4h2m-2 4h2m-1-36h2m-2 14h2m-2 5h2m-2 4h2m-2 2h2m-2 1h2m-2 4h2m-2 1h2m-1-44h2m-2 28h2m-2 1h2m-2 2h2m-2 1h2m-2 1h2m-2 1h2m-2 2h2m-2 1h2m-2 13h2m-1-47h2m-2 1h2m-2 15h2m-2 6h2m-2 4h2m-2 4h2m-2 9h2m-1-39h2m-2 1h2m-2 3h2m-2 15h2m-2 1h2m-2 4h2m-2 1h2m-2 2h2m-2 3h2m-2 1h2m-2 2h2m-2 1h2m-2 1h2m-2 2h2m-2 4h2m-1-38h2m-2 18h2m-2 1h2m-2 4h2m-2 1h2m-2 3h2m-2 2h2m-2 4h2m-2 4h2m-2 2h2m-1-43h2m-2 7h2m-2 25h2m-2 2h2m-2 3h2m-2 4h2m-2 2h2m-2 1h2m-2 2h2m-2 2h2m-2 3h2m-1-53h2m-2 6h2m-2 5h2m-2 26h2m-1-39h2m-2 6h2m-2 9h2m-2 21h2m-2 6h2m-2 3h2m-2 3h2m-1-45h2m-2 1h2m-2 12h2m-2 9h2m-2 1h2m-2 6h2m-2 7h2m-2 1h2m-1-33h2m-2 12h2m-2 1h2m-2 7h2m-2 1h2m-2 5h2m-2 2h2m-2 2h2m-2 3h2m-2 10h2m-1-47h2m-2 10h2m-2 1h2m-2 17h2m-2 2h2m-2 1h2m-2 9h2m-2 1h2m-2 3h2m-1-17h2m-2 9h2m-2 1h2m-2 6h2m-1-15h2m-2 3h2m-2 1h2m-2 19h2m-2 2h2m-1-34h2m-2 6h2m-2 8h2m-2 3h2m-1-29h2m-2 1h2m-2 26h2m-2 5h2m-2 1h2m-1-31h2m-2 32h2m-1-15h2m-2 6h2m-2 1h2m-1-12h2m-2 22h2m-2 5h2m0-14h2m0 1h2m-2 19h2m-2 1h2m1-3h2m-1-28h2m-1-1h2m6 4h2m5-64h2"/><path d="M568 1208h2m0 13h2m4-2h2m-1 5h2m-1-23h2m-2 10h2m0 2h2m3-20h2m-2 9h2m-1 2h2m-1 26h2m-1-28h2m-2 12h2m-2 4h2m1-7h2m-2 6h2m-2 11h2m-1-21h2m-1-6h2m-1 20h2m-1-9h2m-2 3h2m-2 1h2m-2 9h2m-1-14h2m-2 15h2m-1-23h2m-1 4h2m-1 8h2m-1-15h2m-2 15h2m-2 7h2m-1-4h2m-2 7h2m-1-17h2m-2 10h2m-2 1h2m-1-9h2m-1-12h2m-2 8h2m-2 5h2m-2 4h2m-1-18h2m-2 3h2m-2 5h2m-2 4h2m-2 4h2m-1-9h2m-2 10h2m-2 5h2m-2 1h2m-1-15h2m-1 7h2m-1-75h2m-2 87h2m-1-23h2m-2 3h2m-2 8h2m-2 2h2m-1-19h2m-2 2h2m-2 10h2m-2 6h2m-2 2h2m-2 1h2m-2 6h2m-1-40h2m-2 6h2m-2 14h2m-2 2h2m-2 1h2m-2 4h2m-2 2h2m-2 1h2m-1-8h2m-2 2h2m-2 6h2m-2 1h2m-2 4h2m-2 1h2m-2 3h2m-2 1h2m-2 6h2m-1-30h2m-2 8h2m-2 8h2m-2 1h2m-2 4h2m-2 1h2m-2 8h2m-1-27h2m-2 1h2m-2 4h2m-2 1h2m-2 9h2m-2 1h2m-1-40h2m-2 5h2m-2 5h2m-2 14h2m-2 3h2m-2 5h2m-2 3h2m-2 1h2m-2 8h2m-2 2h2m-2 1h2m-1-41h2m-2 1h2m-2 20h2m-2 3h2m-2 4h2m-2 7h2m-2 3h2m-2 3h2m-1-40h2m-2 4h2m-2 4h2m-2 18h2m-2 1h2m-2 6h2m-2 1h2m-2 5h2m-1-45h2m-2 24h2m-2 1h2m-2 2h2m-2 2h2m-2 1h2m-2 1h2m-2 1h2m-2 9h2m-2 4h2m-2 6h2m-1-44h2m-2 6h2m-2 17h2m-2 7h2m-2 2h2m-2 1h2m-2 5h2m-1-22h2m-2 3h2m-2 4h2m-2 2h2m-2 2h2m-2 1h2m-2 4h2m-2 1h2m-2 2h2m-2 5h2m-2 4h2m-2 1h2m-1-48h2m-2 2h2m-2 18h2m-2 1h2m-2 3h2m-2 2h2m-2 1h2m-2 1h2m-2 7h2m-2 5h2m-2 5h2m-1-44h2m-2 2h2m-2 6h2m-2 14h2m-2 4h2m-2 1h2m-2 7h2m-2 2h2m-2 7h2m-1-50h2m-2 4h2m-2 5h2m-2 16h2m-2 3h2m-2 4h2m-2 3h2m-2 1h2m-2 2h2m-2 3h2m-2 2h2m-2 3h2m-1-46h2m-2 19h2m-2 6h2m-2 7h2m-2 1h2m-2 5h2m-2 15h2m-1-45h2m-2 17h2m-2 7h2m-2 4h2m-2 1h2m-2 3h2m-2 8h2m-2 1h2m-1-44h2m-2 16h2m-2 11h2m-2 3h2m-2 2h2m-2 1h2m-2 3h2m-2 3h2m-1-38h2m-2 23h2m-2 5h2m-2 5h2m-2 1h2m-2 2h2m-2 6h2m-1-39h2m-2 10h2m-2 9h2m-2 8h2m-2 2h2m-2 4h2m-2 6h2m-2 3h2m-1-42h2m-2 14h2m-2 19h2m-1-37h2m-2 25h2m-2 8h2m-2 6h2m-1 1h2m-1-7h2m-2 6h2m-1-40h2m-2 7h2m-2 2h2m-2 33h2m-1-32h2m-2 14h2m-2 7h2m-2 5h2m-2 3h2m-1-31h2m-2 19h2m1 6h2m0-9h2m-1 16h2m8-50h2"/></g><rect x="281.00" y="559.40" width="61.60" height="58.90" fill="none" stroke="#3a3a3a" stroke-width="0.9"/><line x1="306.90" y1="559.40" x2="306.90" y2="618.30" stroke="#3a3a3a" stroke-width="0.85"/><line x1="281.00" y1="598.10" x2="342.60" y2="598.10" stroke="#3a3a3a" stroke-width="0.85"/><ellipse cx="298.0" cy="592.0" rx="1.3" ry="0.9" fill="#333" opacity="0.8"/><ellipse cx="312.5" cy="592.0" rx="1.3" ry="0.9" fill="#333" opacity="0.8"/><ellipse cx="312.5" cy="605.0" rx="1.3" ry="0.9" fill="#333" opacity="0.8"/><text x="284.2" y="565.7" font-size="4.3" text-anchor="start" font-weight="normal" fill="#333" stroke="#333" stroke-width="0.05" >B489 5uM</text><line x1="279.40" y1="565.90" x2="281.00" y2="565.90" stroke="#555" stroke-width="0.6"/><text x="277.0" y="567.3" font-size="3.8" text-anchor="end" fill="#666">10<tspan font-size="2.6" dy="-1.4">3</tspan></text><line x1="279.40" y1="580.40" x2="281.00" y2="580.40" stroke="#555" stroke-width="0.6"/><text x="277.0" y="581.8" font-size="3.8" text-anchor="end" fill="#666">10<tspan font-size="2.6" dy="-1.4">2</tspan></text><line x1="279.40" y1="594.90" x2="281.00" y2="594.90" stroke="#555" stroke-width="0.6"/><text x="277.0" y="596.3" font-size="3.8" text-anchor="end" fill="#666">10<tspan font-size="2.6" dy="-1.4">1</tspan></text><line x1="279.40" y1="609.40" x2="281.00" y2="609.40" stroke="#555" stroke-width="0.6"/><text x="277.0" y="610.8" font-size="3.8" text-anchor="end" fill="#666">10<tspan font-size="2.6" dy="-1.4">0</tspan></text><line x1="289.50" y1="618.30" x2="289.50" y2="619.70" stroke="#555" stroke-width="0.6"/><text x="289.5" y="625.7" font-size="3.8" text-anchor="middle" fill="#666">10<tspan font-size="2.6" dy="-1.4">0</tspan></text><line x1="305.00" y1="618.30" x2="305.00" y2="619.70" stroke="#555" stroke-width="0.6"/><text x="305.0" y="625.7" font-size="3.8" text-anchor="middle" fill="#666">10<tspan font-size="2.6" dy="-1.4">1</tspan></text><line x1="320.50" y1="618.30" x2="320.50" y2="619.70" stroke="#555" stroke-width="0.6"/><text x="320.5" y="625.7" font-size="3.8" text-anchor="middle" fill="#666">10<tspan font-size="2.6" dy="-1.4">2</tspan></text><line x1="336.00" y1="618.30" x2="336.00" y2="619.70" stroke="#555" stroke-width="0.6"/><text x="336.0" y="625.7" font-size="3.8" text-anchor="middle" fill="#666">10<tspan font-size="2.6" dy="-1.4">3</tspan></text><line x1="294.17" y1="617.20" x2="294.17" y2="618.30" stroke="#666" stroke-width="0.4"/><line x1="296.90" y1="617.20" x2="296.90" y2="618.30" stroke="#666" stroke-width="0.4"/><line x1="298.83" y1="617.20" x2="298.83" y2="618.30" stroke="#666" stroke-width="0.4"/><line x1="300.33" y1="617.20" x2="300.33" y2="618.30" stroke="#666" stroke-width="0.4"/><line x1="301.56" y1="617.20" x2="301.56" y2="618.30" stroke="#666" stroke-width="0.4"/><line x1="302.60" y1="617.20" x2="302.60" y2="618.30" stroke="#666" stroke-width="0.4"/><line x1="303.50" y1="617.20" x2="303.50" y2="618.30" stroke="#666" stroke-width="0.4"/><line x1="304.29" y1="617.20" x2="304.29" y2="618.30" stroke="#666" stroke-width="0.4"/><line x1="309.67" y1="617.20" x2="309.67" y2="618.30" stroke="#666" stroke-width="0.4"/><line x1="312.40" y1="617.20" x2="312.40" y2="618.30" stroke="#666" stroke-width="0.4"/><line x1="314.33" y1="617.20" x2="314.33" y2="618.30" stroke="#666" stroke-width="0.4"/><line x1="315.83" y1="617.20" x2="315.83" y2="618.30" stroke="#666" stroke-width="0.4"/><line x1="317.06" y1="617.20" x2="317.06" y2="618.30" stroke="#666" stroke-width="0.4"/><line x1="318.10" y1="617.20" x2="318.10" y2="618.30" stroke="#666" stroke-width="0.4"/><line x1="319.00" y1="617.20" x2="319.00" y2="618.30" stroke="#666" stroke-width="0.4"/><line x1="319.79" y1="617.20" x2="319.79" y2="618.30" stroke="#666" stroke-width="0.4"/><line x1="325.17" y1="617.20" x2="325.17" y2="618.30" stroke="#666" stroke-width="0.4"/><line x1="327.90" y1="617.20" x2="327.90" y2="618.30" stroke="#666" stroke-width="0.4"/><line x1="329.83" y1="617.20" x2="329.83" y2="618.30" stroke="#666" stroke-width="0.4"/><line x1="331.33" y1="617.20" x2="331.33" y2="618.30" stroke="#666" stroke-width="0.4"/><line x1="332.56" y1="617.20" x2="332.56" y2="618.30" stroke="#666" stroke-width="0.4"/><line x1="333.60" y1="617.20" x2="333.60" y2="618.30" stroke="#666" stroke-width="0.4"/><line x1="334.50" y1="617.20" x2="334.50" y2="618.30" stroke="#666" stroke-width="0.4"/><line x1="335.29" y1="617.20" x2="335.29" y2="618.30" stroke="#666" stroke-width="0.4"/><text x="339.6" y="635.3" font-size="5.6" text-anchor="end" font-weight="normal" fill="#222" stroke="#222" stroke-width="0.1" >71,9%</text><g transform="scale(0.5)" stroke="#000" stroke-width="1.6" stroke-opacity="0.22" filter="url(#fb)"><path d="M727 1217h2m13-9h2m-2 4h2m0-2h2m-1-2h2m-1-1h2m-2 10h2m-1-11h2m-1-3h2m-2 10h2m-2 7h2m-1-8h2m-1-13h2m-2 6h2m-1 4h2m-2 4h2m-1-10h2m-1 9h2m-1-8h2m-2 17h2m-1-24h2m-2 9h2m-2 1h2m-2 4h2m-2 1h2m-2 3h2m-1-20h2m-2 3h2m-2 5h2m-2 7h2m-1-2h2m-2 2h2m-2 5h2m-1-14h2m-2 7h2m-2 7h2m-2 4h2m-1-23h2m-2 4h2m-2 3h2m-2 9h2m-2 2h2m-1-20h2m-2 9h2m-2 10h2m-2 2h2m-1-22h2m-2 9h2m-2 2h2m-2 1h2m-2 1h2m-2 1h2m-2 6h2m-1-23h2m-2 4h2m-2 7h2m-2 4h2m-2 10h2m-1-17h2m-2 3h2m-2 2h2m-2 2h2m-1-31h2m-2 17h2m-2 5h2m-2 2h2m-2 1h2m-2 4h2m-2 5h2m-2 2h2m-1-16h2m-2 2h2m-2 2h2m-2 6h2m-2 1h2m-2 3h2m-2 1h2m-1-10h2m-2 1h2m-2 6h2m-1-16h2m-2 5h2m-2 1h2m-2 2h2m-2 2h2m-2 5h2m-2 1h2m-2 2h2m-1-57h2m-2 44h2m-2 2h2m-2 1h2m-2 6h2m-2 1h2m-2 1h2m-2 2h2m-2 6h2m-1-21h2m-2 1h2m-2 2h2m-2 1h2m-2 2h2m-2 2h2m-2 1h2m-2 8h2m-1-21h2m-2 7h2m-2 1h2m-2 2h2m-2 4h2m-2 2h2m-2 8h2m-1-13h2m-2 2h2m-1-13h2m-2 7h2m-2 3h2m-2 2h2m-2 2h2m-2 1h2m-2 1h2m-2 7h2m-1-17h2m-2 1h2m-2 4h2m-1-10h2m-2 8h2m-2 3h2m-2 2h2m-1-18h2m-2 10h2m-2 3h2m-2 3h2m-2 3h2m-2 4h2m-1-20h2m-2 9h2m-2 2h2m-2 6h2m-2 1h2m0-19h2m-2 10h2m-1 5h2m-1-6h2m-2 8h2m0-35h2m-1 7h2m-2 8h2m-2 13h2m0-13h2m0 0h2m-2 20h2m-1-21h2m-2 9h2m-1-5h2m-2 10h2m1-13h2m0-11h2m-2 2h2m-1-14h2m1 11h2m0-13h2m-2 6h2m-2 5h2m-1-13h2m-2 16h2m-2 3h2m1-15h2m-2 17h2m0-28h2m-2 7h2m-2 28h2m-1-44h2m-2 4h2m-2 1h2m-2 1h2m-2 8h2m-2 3h2m-1-16h2m-2 4h2m-2 1h2m-2 10h2m-2 3h2m-2 12h2m-1-25h2m-2 5h2m-2 3h2m-1-15h2m-2 2h2m-2 4h2m-2 20h2m-2 3h2m-2 7h2m-1-38h2m-2 10h2m-2 1h2m-2 2h2m-2 9h2m-2 7h2m-2 3h2m-1-24h2m-2 3h2m-2 6h2m-2 15h2m-2 4h2m-2 1h2m-1 5h2m-1-34h2m-2 3h2m-2 4h2m-2 4h2m-2 3h2m-2 9h2m-2 5h2m-2 10h2m-1-36h2m-2 9h2m-2 3h2m-2 11h2m-2 3h2m-2 2h2m-2 5h2m-2 1h2m-2 11h2m-1-50h2m-2 4h2m-2 17h2m-2 5h2m-1-26h2m-2 1h2m-2 2h2m-2 1h2m-2 20h2m-2 2h2m-2 12h2m-1-37h2m-2 5h2m-2 15h2m-2 3h2m-2 2h2m-1-23h2m-2 6h2m-2 4h2m-2 4h2m-2 3h2m-2 1h2m-2 9h2m-2 1h2m-2 4h2m-2 51h2m-1-80h2m-2 17h2m-2 3h2m-1-29h2m-2 3h2m-2 13h2m-2 8h2m-2 9h2m-2 1h2m-2 2h2m-1-33h2m-2 8h2m-2 12h2m-2 2h2m-2 13h2m-2 1h2m-1-37h2m-2 11h2m-2 10h2m-2 3h2m-2 1h2m-2 2h2m-2 1h2m-2 2h2m-2 6h2m-2 1h2m-1-37h2m-2 13h2m-2 3h2m-2 16h2m-1-8h2m-2 1h2m-2 1h2m-2 2h2m-1-22h2m-2 24h2m-2 9h2m-1-24h2m-2 6h2m-2 4h2m-2 2h2m-2 13h2m-1-23h2m-2 3h2m-2 14h2m-2 6h2m-1-11h2m-2 7h2m-1-23h2m-2 25h2m-1-28h2m-1-2h2m-1 6h2m-1 11h2m0 8h2m-1-34h2m-2 11h2m-2 17h2m-1 10h2m-1-12h2"/><path d="M740 1204h2m0 9h2m-1 16h2m-1-17h2m-1-3h2m-2 1h2m-2 6h2m0-7h2m-1-6h2m-2 4h2m-2 5h2m-1-2h2m-2 3h2m-1-12h2m-2 6h2m0-6h2m-2 4h2m-2 10h2m-1-14h2m-2 6h2m-2 4h2m-2 5h2m-1-14h2m-2 4h2m-1-10h2m-2 2h2m-2 1h2m-2 2h2m-2 1h2m-2 6h2m-2 2h2m-1-16h2m-2 1h2m-2 2h2m-2 1h2m-2 6h2m-2 9h2m-2 2h2m-2 5h2m-1-18h2m-2 1h2m-2 3h2m-2 3h2m-1-9h2m-2 2h2m-2 2h2m-2 2h2m-2 1h2m-1-5h2m-2 14h2m-1-21h2m-2 2h2m-2 3h2m-2 3h2m-2 3h2m-2 4h2m-2 4h2m-2 1h2m-1-15h2m-2 1h2m-2 2h2m-2 3h2m-2 1h2m-2 2h2m-2 1h2m-2 3h2m-1-19h2m-2 6h2m-2 1h2m-2 4h2m-2 1h2m-2 1h2m-2 4h2m-1-10h2m-2 5h2m-2 8h2m-1-27h2m-2 8h2m-2 3h2m-2 2h2m-2 5h2m-2 1h2m-1-11h2m-2 2h2m-2 3h2m-2 2h2m-2 2h2m-1-8h2m-2 2h2m-2 4h2m-1-11h2m-2 5h2m-2 7h2m-2 3h2m-2 1h2m-2 1h2m-1-11h2m-2 2h2m-2 4h2m-2 1h2m-2 3h2m-2 1h2m-1-14h2m-2 3h2m-2 3h2m-2 4h2m-1-12h2m-2 3h2m-2 6h2m-2 5h2m-2 3h2m-1-15h2m-2 4h2m-2 3h2m-2 3h2m-2 1h2m-2 1h2m-1-25h2m-2 6h2m-2 8h2m-2 2h2m-1-6h2m-2 1h2m-2 3h2m-2 8h2m-2 1h2m-1-9h2m-2 2h2m-2 12h2m-1-18h2m-2 7h2m-2 2h2m-2 9h2m-1-16h2m-2 3h2m-2 4h2m-2 1h2m-2 1h2m-1-37h2m-2 31h2m-1 0h2m-2 3h2m-1-6h2m-2 1h2m-1-6h2m-2 8h2m-2 7h2m-1-19h2m-2 11h2m-1-13h2m-2 17h2m-1-10h2m-1 2h2m-2 11h2m-2 1h2m-1-15h2m-1 8h2m-1-15h2m-1-10h2m-2 12h2m2 16h2m2-41h2m-1-1h2m-1-3h2m-2 15h2m-2 13h2m-1 9h2m-1-48h2m-1 19h2m-2 21h2m-1-42h2m-2 15h2m-2 15h2m-1-10h2m-1-11h2m-2 14h2m-2 12h2m-1-14h2m-1-18h2m-2 1h2m-2 12h2m-2 4h2m-2 5h2m-2 5h2m-2 2h2m-1-27h2m-2 16h2m-2 3h2m-2 4h2m-2 3h2m-2 2h2m-1-37h2m-2 3h2m-2 8h2m-2 1h2m-2 3h2m-2 12h2m-1-15h2m-2 1h2m-2 1h2m-2 8h2m-2 4h2m-2 4h2m-2 3h2m-2 14h2m-1-36h2m-2 9h2m-2 4h2m-2 3h2m-2 11h2m-2 3h2m-1-29h2m-2 10h2m-2 18h2m-1-31h2m-2 5h2m-2 6h2m-2 22h2m-1-30h2m-2 13h2m-2 2h2m-2 5h2m-1-31h2m-2 10h2m-2 16h2m-2 3h2m-2 5h2m-2 1h2m-1-11h2m-2 4h2m-2 4h2m-2 1h2m-1-30h2m-2 15h2m-2 1h2m-2 10h2m-2 18h2m-2 4h2m-1-46h2m-2 3h2m-2 1h2m-2 10h2m-2 9h2m-2 5h2m-2 2h2m-2 1h2m-2 1h2m-2 3h2m-1-35h2m-2 2h2m-2 4h2m-2 11h2m-2 26h2m-1-30h2m-2 8h2m-2 4h2m-1-25h2m-2 6h2m-2 14h2m-2 8h2m-2 4h2m-2 1h2m-1-24h2m-2 4h2m-2 1h2m-2 5h2m-2 5h2m-2 2h2m-2 2h2m-2 1h2m-2 1h2m-2 1h2m-1-25h2m-2 2h2m-2 10h2m-2 18h2m-1-34h2m-2 22h2m-2 5h2m-2 4h2m-1-4h2m-1-17h2m-2 13h2m-2 2h2m-2 1h2m-2 3h2m-2 4h2m-1-16h2m-2 2h2m-2 5h2m-2 3h2m-2 3h2m-2 2h2m-1-23h2m-2 10h2m-2 18h2m-2 5h2m-1-41h2m-2 20h2m-2 8h2m-2 1h2m-1-29h2m-2 4h2m-2 20h2m-2 38h2m-1-57h2m-2 7h2m-2 8h2m-2 3h2m-1-15h2m-1-8h2m-2 32h2m-2 5h2m0-20h2m-2 11h2m0-17h2m-2 16h2m-1-19h2m-1 22h2m-1-11h2"/><path d="M733 1213h2m7-1h2m-2 10h2m-1-11h2m-1-6h2m-1 5h2m-1 6h2m-1-14h2m-2 10h2m-1-39h2m-2 34h2m-1-4h2m-2 7h2m-1-8h2m-2 2h2m-2 4h2m-1-6h2m-2 4h2m-1 7h2m-2 6h2m-1-17h2m-2 1h2m-2 3h2m-2 3h2m-1-14h2m-2 9h2m-2 1h2m-2 3h2m-2 3h2m-2 3h2m-1-13h2m-2 2h2m-2 6h2m-2 3h2m-2 3h2m-2 1h2m-2 2h2m-1-25h2m-2 3h2m-2 4h2m-2 3h2m-2 3h2m-2 7h2m-1-14h2m-2 6h2m-2 1h2m-2 1h2m-1-7h2m-2 1h2m-2 2h2m-2 1h2m-2 1h2m-2 4h2m-2 2h2m-1-12h2m-2 4h2m-2 1h2m-2 1h2m-2 3h2m-2 3h2m-2 5h2m-1-19h2m-2 5h2m-2 4h2m-2 4h2m-1-9h2m-2 9h2m-1-9h2m-2 1h2m-2 1h2m-2 1h2m-2 1h2m-2 9h2m-2 5h2m-1-28h2m-2 1h2m-2 4h2m-2 1h2m-2 4h2m-2 5h2m-2 4h2m-2 3h2m-1-17h2m-2 3h2m-2 1h2m-2 4h2m-2 3h2m-2 1h2m-1-12h2m-2 7h2m-2 1h2m-2 3h2m-1-14h2m-2 9h2m-2 5h2m-1-11h2m-2 8h2m-2 3h2m-2 5h2m-1-11h2m-2 2h2m-2 1h2m-2 6h2m-1-16h2m-2 2h2m-2 4h2m-2 1h2m-2 2h2m-2 1h2m-2 1h2m-2 2h2m-1-23h2m-2 11h2m-2 2h2m-2 1h2m-2 4h2m-2 3h2m-2 2h2m-1-18h2m-2 6h2m-2 6h2m-2 2h2m-2 1h2m-2 1h2m-2 1h2m-1-4h2m-2 10h2m-1-21h2m-2 9h2m-2 1h2m-1-8h2m-2 9h2m-2 3h2m-1-35h2m-2 24h2m-2 3h2m-2 3h2m0-3h2m-2 2h2m-2 2h2m-2 4h2m-1-5h2m-1-7h2m-2 2h2m0-2h2m-1-10h2m-2 4h2m-2 8h2m-2 2h2m-1-23h2m-2 17h2m-2 3h2m-2 2h2m-2 2h2m-1-9h2m-2 1h2m-2 1h2m-2 6h2m-1-16h2m-1 7h2m1-31h2m-2 19h2m-2 21h2m0-20h2m-2 1h2m5-13h2m-1 1h2m0-24h2m-2 24h2m-1 3h2m-2 17h2m-1-34h2m-1-13h2m-2 5h2m-2 4h2m-2 7h2m-2 16h2m-1-28h2m-2 1h2m-2 11h2m-1-8h2m-2 12h2m-1-18h2m-2 18h2m-2 6h2m-2 5h2m-2 3h2m-2 18h2m-1-46h2m-2 2h2m-2 2h2m-2 20h2m-2 7h2m-2 1h2m-1-12h2m-2 7h2m-2 2h2m-2 6h2m-1-35h2m-2 3h2m-2 11h2m-2 24h2m-1-50h2m-2 24h2m-2 18h2m-2 8h2m-1-35h2m-2 1h2m-2 3h2m-2 24h2m-1-29h2m-2 1h2m-2 1h2m-2 10h2m-2 6h2m-2 2h2m-2 2h2m-2 3h2m-2 2h2m-2 2h2m-1-33h2m-2 2h2m-2 4h2m-2 3h2m-2 1h2m-2 9h2m-2 8h2m-2 1h2m-2 10h2m-1-37h2m-2 11h2m-2 3h2m-2 1h2m-2 5h2m-2 1h2m-2 4h2m-2 2h2m-1-28h2m-2 6h2m-2 2h2m-2 3h2m-2 8h2m-2 4h2m-2 8h2m-2 12h2m-1-37h2m-2 20h2m-2 4h2m-2 1h2m-2 6h2m-2 1h2m-1-45h2m-2 2h2m-2 7h2m-2 13h2m-2 5h2m-2 10h2m-2 1h2m-1-30h2m-2 4h2m-2 1h2m-2 16h2m-2 3h2m-2 5h2m-2 3h2m-1-34h2m-2 17h2m-2 6h2m-2 7h2m-2 7h2m-1-29h2m-2 8h2m-2 8h2m-2 5h2m-2 1h2m-2 4h2m-2 3h2m-1-17h2m-2 4h2m-2 3h2m-2 8h2m-1-8h2m-2 4h2m-2 4h2m-2 2h2m-1-34h2m-2 19h2m-2 10h2m-1-1h2m-2 3h2m-2 1h2m-1-23h2m-2 2h2m-2 6h2m-2 2h2m-2 2h2m-2 6h2m-1-19h2m-2 20h2m-2 6h2m-2 4h2m-1-44h2m-2 16h2m-2 7h2m-2 7h2m-2 4h2m-1 6h2m-1-23h2m-2 11h2m0 3h2m-1-17h2m-2 9h2m-2 10h2m-1 7h2m-2 11h2m0-14h2m-1-13h2m2 18h2"/><path d="M732 1221h2m3-10h2m-1 7h2m-1-11h2m-1 15h2m-1-7h2m0-6h2m-1-8h2m-1 16h2m-1-7h2m-2 1h2m-1-4h2m-2 4h2m-2 1h2m-2 7h2m-1-21h2m-1 14h2m-1-6h2m-2 7h2m1-14h2m-2 2h2m-2 3h2m-2 8h2m-1-9h2m-2 1h2m-2 2h2m-2 2h2m-2 13h2m-1-20h2m-2 8h2m-1-7h2m-2 3h2m-2 3h2m-2 4h2m-2 3h2m-2 2h2m-1-19h2m-2 8h2m-2 5h2m-1-8h2m-2 2h2m-2 6h2m-2 5h2m-1-18h2m-2 8h2m-2 1h2m-2 13h2m-1-19h2m-2 2h2m-2 6h2m-1-14h2m-2 4h2m-2 2h2m-2 2h2m-2 2h2m-2 1h2m-2 6h2m-1-13h2m-2 1h2m-2 5h2m-2 4h2m-1-14h2m-2 2h2m-2 1h2m-2 1h2m-2 1h2m-2 3h2m-2 1h2m-2 2h2m-2 2h2m-2 5h2m-1-12h2m-2 4h2m-2 1h2m-1-13h2m-2 3h2m-1-10h2m-2 7h2m-2 7h2m-2 4h2m-2 3h2m-2 1h2m-2 3h2m-1-14h2m-2 1h2m-2 1h2m-2 1h2m-2 3h2m-2 1h2m-2 10h2m-1-18h2m-2 1h2m-2 1h2m-2 3h2m-2 2h2m-2 1h2m-2 2h2m-2 6h2m-1-33h2m-2 13h2m-2 1h2m-2 1h2m-2 5h2m-2 2h2m-2 1h2m-2 1h2m-2 1h2m-2 8h2m-1-16h2m-2 1h2m-2 5h2m-2 2h2m-1-14h2m-2 6h2m-2 2h2m-2 6h2m-1-10h2m-2 4h2m-2 8h2m-1-7h2m-2 6h2m-2 1h2m0-17h2m-2 6h2m-2 2h2m-2 2h2m-2 22h2m-1-26h2m-2 5h2m-2 3h2m-2 2h2m-2 1h2m-1-23h2m-2 3h2m-2 4h2m-2 3h2m-2 5h2m-2 7h2m-2 3h2m-1-10h2m-1-17h2m-2 11h2m-2 2h2m-2 10h2m-1-36h2m-2 27h2m-1-6h2m-2 10h2m-1-5h2m-2 7h2m0-9h2m-2 9h2m-1-21h2m-1-10h2m-2 36h2m-1-9h2m-1-2h2m-2 11h2m-1-11h2m1-21h2m-2 5h2m1 2h2m-2 3h2m-1 1h2m-1-29h2m-1-11h2m-2 49h2m-1-7h2m0-21h2m-2 6h2m-2 18h2m-1-36h2m-1-7h2m-2 25h2m-1-4h2m-2 7h2m-2 8h2m-1-41h2m-2 9h2m-2 12h2m-2 7h2m-2 8h2m-2 3h2m-2 8h2m-1-42h2m-2 37h2m-1-17h2m-1-27h2m-2 10h2m-2 22h2m-2 2h2m-1-30h2m-2 1h2m-2 6h2m-2 13h2m-2 2h2m-1-22h2m-2 8h2m-2 7h2m-2 6h2m-2 3h2m-1 11h2m-2 2h2m-1-33h2m-2 1h2m-2 1h2m-2 8h2m-2 1h2m-2 3h2m-2 1h2m-1-18h2m-2 7h2m-2 1h2m-2 1h2m-2 3h2m-2 6h2m-1-22h2m-2 1h2m-2 2h2m-2 5h2m-2 3h2m-2 16h2m-1-24h2m-2 4h2m-2 6h2m-2 5h2m-2 5h2m-1-19h2m-2 6h2m-2 7h2m-2 3h2m-2 10h2m-2 2h2m-1-27h2m-2 6h2m-2 5h2m-2 3h2m-2 2h2m-2 5h2m-2 18h2m-1-37h2m-2 2h2m-2 11h2m-2 1h2m-2 6h2m-2 5h2m-1-29h2m-2 8h2m-2 2h2m-2 2h2m-2 1h2m-2 6h2m-2 2h2m-2 4h2m-2 1h2m-1-24h2m-2 1h2m-2 3h2m-2 4h2m-2 4h2m-2 6h2m-2 8h2m-2 2h2m-2 7h2m-1-26h2m-2 6h2m-2 3h2m-2 1h2m-2 14h2m-1-32h2m-1 7h2m-2 15h2m-2 9h2m-2 13h2m-1-37h2m-2 1h2m-2 1h2m-2 1h2m-2 9h2m-2 4h2m-2 1h2m-2 1h2m-1-7h2m-2 1h2m-2 3h2m-2 6h2m-1-29h2m-2 22h2m-2 23h2m-1-43h2m-2 23h2m-2 4h2m-2 2h2m-2 4h2m-1-17h2m-2 4h2m-2 1h2m-2 5h2m-2 7h2m-1-27h2m-2 11h2m-2 8h2m-2 5h2m-2 6h2m-1-36h2m-2 19h2m-1-6h2m-2 10h2m-1-35h2m-2 24h2m-2 3h2m-2 1h2m-2 1h2m-1-1h2m-2 3h2m-2 3h2m-1 4h2m-2 1h2m0-31h2m1 21h2m0 4h2"/><path d="M736 1202h2m-1 10h2m3 6h2m-1-9h2m-1-8h2m-2 8h2m-2 3h2m-1-2h2m-2 8h2m-1-5h2m-2 2h2m-1-9h2m-2 7h2m-1-11h2m-2 4h2m-2 1h2m-1 7h2m-2 7h2m-1-12h2m-1-17h2m-2 12h2m-2 3h2m-2 2h2m-2 10h2m-1-9h2m-2 5h2m-1-87h2m-2 69h2m-2 4h2m-2 1h2m-2 1h2m-1-4h2m-2 7h2m-2 1h2m-2 1h2m-2 4h2m-1-17h2m-2 13h2m-1-8h2m-2 3h2m-2 1h2m-2 3h2m-2 1h2m-2 3h2m-2 3h2m-1-16h2m-2 4h2m-2 2h2m-2 7h2m-1-11h2m-2 8h2m-1-9h2m-2 1h2m-2 2h2m-2 8h2m-1-16h2m-2 10h2m-2 2h2m-2 2h2m-2 2h2m-2 2h2m-1-11h2m-2 4h2m-2 3h2m-1-10h2m-2 1h2m-2 1h2m-2 2h2m-2 2h2m-2 1h2m-2 5h2m-2 1h2m-1-10h2m-2 1h2m-2 1h2m-2 1h2m-1 0h2m-2 1h2m-2 1h2m-2 6h2m-1-10h2m-2 2h2m-2 1h2m-2 3h2m-2 1h2m-1-20h2m-2 5h2m-1 4h2m-2 2h2m-2 6h2m-2 1h2m-1-10h2m-2 5h2m-2 1h2m-2 1h2m-2 1h2m-2 1h2m-2 8h2m-2 1h2m-1-18h2m-2 4h2m-2 2h2m-2 3h2m-1-55h2m-2 35h2m-2 6h2m-2 2h2m-2 11h2m-2 1h2m-2 2h2m-1-5h2m-2 1h2m-2 6h2m-1-13h2m-2 1h2m-2 9h2m-1-15h2m-2 7h2m-2 2h2m-2 1h2m-2 1h2m-2 3h2m-2 7h2m-1-31h2m-2 8h2m-2 12h2m-2 2h2m-2 2h2m-1-19h2m-2 10h2m-2 2h2m-2 4h2m-2 1h2m-1-15h2m-2 11h2m-2 7h2m-2 1h2m-2 1h2m-1-15h2m-2 1h2m-1-22h2m-2 4h2m-2 17h2m-2 8h2m-1-8h2m-2 4h2m-2 2h2m-1-10h2m-2 11h2m-1-10h2m-1 4h2m-1-2h2m0 2h2m-1-11h2m-2 4h2m0 1h2m-2 11h2m-1-37h2m-2 25h2m-1-5h2m-1-35h2m-2 40h2m-1-44h2m-1 29h2m-2 21h2m-1-3h2m-1-14h2m1 7h2m-1-2h2m-1-24h2m-2 7h2m-2 1h2m-1-7h2m-2 13h2m-2 20h2m-1-37h2m-1 1h2m-1 1h2m-2 3h2m-2 6h2m-2 3h2m-2 1h2m-1-23h2m-2 31h2m-1-35h2m-2 9h2m-2 12h2m-2 3h2m-2 2h2m-1-28h2m-2 33h2m-2 2h2m-1-32h2m-2 2h2m-2 7h2m-2 3h2m-2 5h2m-2 6h2m-1-16h2m-2 4h2m-2 16h2m-1-21h2m-2 9h2m-2 7h2m-1-23h2m-2 5h2m-2 8h2m-2 5h2m-2 4h2m-2 2h2m-2 5h2m-2 2h2m-2 6h2m-2 8h2m-1-44h2m-2 2h2m-2 2h2m-2 5h2m-2 2h2m-2 24h2m-2 2h2m-2 8h2m-1-43h2m-2 8h2m-2 1h2m-2 8h2m-2 8h2m-2 7h2m-1-43h2m-2 5h2m-2 2h2m-2 1h2m-2 3h2m-2 19h2m-2 5h2m-2 3h2m-2 2h2m-2 5h2m-1-35h2m-2 23h2m-2 2h2m-2 2h2m-2 1h2m-2 2h2m-1-33h2m-2 3h2m-2 10h2m-2 9h2m-2 7h2m-2 6h2m-1-32h2m-2 7h2m-2 4h2m-2 2h2m-2 10h2m-2 5h2m-2 1h2m-1-27h2m-2 15h2m-2 6h2m-2 3h2m-2 1h2m-2 1h2m-2 5h2m-1-39h2m-2 13h2m-2 13h2m-1-21h2m-2 3h2m-2 2h2m-2 2h2m-2 8h2m-2 8h2m-2 1h2m-2 6h2m-2 5h2m-2 1h2m-1-35h2m-2 23h2m-2 1h2m-1-17h2m-2 9h2m-2 8h2m-2 3h2m-2 1h2m-2 4h2m-1-26h2m-2 17h2m-2 9h2m-2 3h2m-1-13h2m-1-20h2m-2 9h2m-2 8h2m-2 6h2m-1-9h2m-2 11h2m-1-35h2m-2 19h2m-2 13h2m-2 3h2m-1-12h2m-2 9h2m-2 1h2m-2 15h2m-1-30h2m-2 6h2m-2 4h2m-2 2h2m-2 10h2m-2 5h2m-2 10h2m-1-20h2m-2 5h2m-2 3h2m-1-7h2m-1 0h2m2-6h2m-2 6h2m-1-11h2"/><path d="M733 1176h2m0 34h2m1 2h2m0 5h2m-1-15h2m-1 18h2m-1-15h2m-2 3h2m-2 2h2m-1-6h2m-2 4h2m-1 7h2m-2 6h2m-1-18h2m-2 1h2m-2 9h2m-1-4h2m-2 3h2m0-8h2m-2 1h2m-2 8h2m-2 4h2m-2 3h2m0-21h2m-1 2h2m-2 3h2m-2 1h2m-2 5h2m-1-7h2m-2 3h2m-2 2h2m-2 1h2m-2 7h2m-1-19h2m-2 7h2m-2 8h2m0-11h2m-2 1h2m-2 5h2m-1-7h2m-2 2h2m-2 1h2m-2 2h2m-2 4h2m-1-12h2m-2 1h2m-2 2h2m-2 4h2m-2 2h2m-2 1h2m-2 1h2m-2 2h2m-1-14h2m-2 2h2m-2 1h2m-2 7h2m-2 7h2m-1-10h2m-2 1h2m-2 1h2m-2 1h2m-2 1h2m-2 2h2m-2 1h2m-2 1h2m-1-12h2m-2 3h2m-2 2h2m-2 2h2m-2 2h2m-2 1h2m-2 2h2m-1-11h2m-2 9h2m-1-17h2m-2 7h2m-2 3h2m-1 4h2m-2 1h2m-2 4h2m-1-16h2m-2 5h2m-2 2h2m-2 1h2m-2 1h2m-2 4h2m-2 5h2m-1-14h2m-2 5h2m-2 6h2m-1-14h2m-2 4h2m-2 2h2m-2 1h2m-2 3h2m-2 6h2m-1-23h2m-2 8h2m-2 2h2m-2 9h2m-1-15h2m-2 4h2m-2 2h2m-2 1h2m-2 1h2m-2 2h2m-2 2h2m-2 5h2m-2 2h2m-1-23h2m-2 9h2m-1 0h2m-2 5h2m-2 2h2m-2 8h2m-1-21h2m-2 4h2m-2 3h2m-1-10h2m-2 5h2m-2 4h2m-2 1h2m-1-11h2m-2 16h2m-1-17h2m-2 16h2m-2 9h2m-1-15h2m-2 7h2m-1-10h2m-2 6h2m-2 2h2m-2 5h2m-2 2h2m-1-22h2m-2 1h2m-2 4h2m-2 2h2m-2 9h2m-1-9h2m-1-5h2m-2 9h2m-2 3h2m-1-11h2m-2 11h2m-1-12h2m-1-4h2m-2 8h2m-2 12h2m0-15h2m-2 3h2m0-11h2m-2 14h2m0-10h2m-2 6h2m-2 1h2m2-49h2m-2 35h2m-2 5h2m-2 6h2m-1-43h2m-2 33h2m0-4h2m-2 5h2m-1-18h2m-2 11h2m-1-19h2m-2 1h2m-2 19h2m-1 17h2m1-11h2m-1-35h2m-2 3h2m-2 17h2m-2 13h2m-2 3h2m-1-11h2m-2 8h2m-1-39h2m-2 10h2m-2 17h2m-2 1h2m-1-23h2m-2 2h2m-2 29h2m-2 1h2m-1-31h2m-2 14h2m-2 7h2m-2 4h2m-2 1h2m-2 1h2m-2 2h2m-1-22h2m-2 1h2m-2 2h2m-2 28h2m-2 3h2m-2 8h2m-1-59h2m-2 7h2m-2 1h2m-2 3h2m-2 1h2m-2 1h2m-2 19h2m-1-2h2m-2 6h2m-2 7h2m-1-48h2m-2 23h2m-2 18h2m-1-33h2m-2 5h2m-2 8h2m-2 1h2m-2 10h2m-2 20h2m-1-47h2m-2 14h2m-2 3h2m-2 17h2m-2 1h2m-2 8h2m-2 8h2m-1-38h2m-2 1h2m-2 1h2m-2 20h2m-2 2h2m-2 2h2m-2 1h2m-1-27h2m-2 1h2m-2 7h2m-1-7h2m-2 2h2m-2 6h2m-2 23h2m-1-38h2m-2 3h2m-2 3h2m-2 3h2m-2 8h2m-2 3h2m-2 8h2m-2 4h2m-2 6h2m-1-35h2m-2 2h2m-2 4h2m-2 1h2m-2 4h2m-2 5h2m-2 4h2m-2 1h2m-2 4h2m-2 5h2m-1-36h2m-2 4h2m-2 21h2m-2 5h2m-2 12h2m-1-24h2m-2 9h2m-2 19h2m-1-38h2m-2 16h2m-2 15h2m-1-27h2m-2 7h2m-2 2h2m-2 2h2m-2 5h2m-2 3h2m-2 11h2m-2 1h2m-1-31h2m-2 9h2m-2 3h2m-2 1h2m-2 4h2m-2 2h2m-1-21h2m-2 6h2m-2 1h2m-2 1h2m-2 1h2m-2 14h2m-2 2h2m-2 2h2m-2 4h2m-1-20h2m-2 3h2m-2 1h2m-2 17h2m-1-36h2m-2 2h2m-2 8h2m-2 18h2m-1-4h2m-2 4h2m-2 12h2m-1-20h2m-2 2h2m-2 7h2m-2 9h2m-1-20h2m-2 13h2m-1-13h2m-2 1h2m-1-1h2m-2 17h2m0-19h2m-2 5h2m-1-17h2m-2 18h2m-2 3h2m0-16h2m-2 20h2m-1-12h2m-2 3h2"/><path d="M737 1216h2m0 4h2m0-16h2m-2 5h2m-1 12h2m-1-12h2m-2 1h2m-2 3h2m-1 3h2m-1-8h2m-1-6h2m-1-3h2m-2 9h2m-1-4h2m-1 0h2m-2 7h2m-2 5h2m-1-10h2m-2 3h2m-2 4h2m-1-17h2m-2 1h2m-2 11h2m-2 2h2m-2 4h2m-2 2h2m-1-16h2m-2 7h2m-2 5h2m-1-7h2m-2 5h2m-2 1h2m-1-75h2m-2 65h2m-2 3h2m-2 1h2m-2 7h2m-2 2h2m-1-11h2m-2 1h2m-1-4h2m-2 18h2m-1-13h2m-2 3h2m-1-12h2m-2 6h2m-2 2h2m-2 2h2m-2 8h2m-2 3h2m-1-21h2m-2 2h2m-2 4h2m-2 4h2m-2 2h2m-2 2h2m-2 2h2m-1-21h2m-2 1h2m-2 8h2m-2 5h2m-2 6h2m-1-13h2m-2 1h2m-2 3h2m-2 2h2m-2 1h2m-2 1h2m-2 1h2m-2 1h2m-2 1h2m-2 2h2m-1-19h2m-2 12h2m-2 3h2m-2 2h2m-1-14h2m-1 0h2m-2 6h2m-2 3h2m-2 3h2m-2 1h2m-1-13h2m-2 2h2m-2 1h2m-2 3h2m-2 1h2m-2 4h2m-2 8h2m-2 1h2m-1-19h2m-2 1h2m-2 2h2m-2 1h2m-2 2h2m-2 4h2m-2 1h2m-2 3h2m-1-10h2m-2 3h2m-2 7h2m-1-18h2m-2 4h2m-2 1h2m-2 1h2m-2 12h2m-1-13h2m-2 3h2m-2 8h2m-2 6h2m-1-22h2m-2 2h2m-2 8h2m-2 2h2m-2 2h2m-1-17h2m-2 2h2m-2 6h2m-2 7h2m-2 1h2m-2 1h2m-1-6h2m-2 3h2m-2 2h2m-2 2h2m-1-12h2m-2 5h2m-2 2h2m-2 3h2m-1-10h2m-2 1h2m-2 2h2m-1-4h2m-2 1h2m-2 5h2m-2 1h2m-2 5h2m-1-9h2m-2 5h2m-1-7h2m-2 1h2m-2 1h2m-2 1h2m-2 6h2m-2 3h2m-1-34h2m-2 24h2m-2 1h2m-2 8h2m-1-18h2m-2 3h2m-1-1h2m0-25h2m-2 38h2m-1-8h2m-2 2h2m-1-23h2m-2 19h2m-1-4h2m-1-3h2m-2 6h2m-1 1h2m-1-11h2m-1 8h2m-1 0h2m-1-1h2m1-36h2m-2 40h2m-1-25h2m-1-19h2m-2 48h2m-1-47h2m-2 35h2m-1-23h2m-2 24h2m-1-31h2m-2 11h2m-1-24h2m-2 21h2m0-18h2m-2 23h2m-1-11h2m-2 6h2m-2 22h2m-1-38h2m-2 26h2m-1-23h2m-2 11h2m-2 9h2m-1-31h2m-2 22h2m-2 10h2m-2 1h2m-1-15h2m-2 3h2m-2 2h2m-1 0h2m-2 12h2m-1-35h2m-2 20h2m-2 7h2m-2 12h2m-2 4h2m-1-36h2m-2 9h2m-2 2h2m-2 9h2m-2 7h2m-1-28h2m-2 2h2m-2 3h2m-2 6h2m-2 13h2m-2 5h2m-2 29h2m-1-62h2m-2 3h2m-2 5h2m-2 28h2m-2 6h2m-1-41h2m-2 5h2m-2 1h2m-2 12h2m-2 8h2m-1-45h2m-2 31h2m-2 6h2m-2 4h2m-2 2h2m-2 1h2m-2 18h2m-1-53h2m-2 14h2m-2 1h2m-2 1h2m-2 3h2m-2 22h2m-2 3h2m-2 14h2m-1-49h2m-2 1h2m-2 1h2m-2 1h2m-2 1h2m-2 6h2m-2 7h2m-2 15h2m-2 6h2m-1-31h2m-2 12h2m-2 11h2m-2 1h2m-2 3h2m-2 1h2m-2 2h2m-2 3h2m-1-16h2m-2 1h2m-2 2h2m-2 2h2m-2 3h2m-2 5h2m-1-35h2m-2 1h2m-2 3h2m-2 17h2m-2 1h2m-2 2h2m-1-9h2m-2 7h2m-2 6h2m-2 6h2m-1-29h2m-2 5h2m-2 20h2m-2 13h2m-1-42h2m-2 4h2m-2 12h2m-2 15h2m-2 2h2m-2 4h2m-1-28h2m-2 11h2m-2 5h2m-2 1h2m-2 4h2m-1-17h2m-2 7h2m-2 15h2m-2 4h2m-2 3h2m-1-44h2m-2 13h2m-2 13h2m-2 10h2m-1-11h2m-2 12h2m-2 2h2m-1-30h2m-2 10h2m-2 6h2m-2 3h2m-1-22h2m-2 11h2m-2 7h2m-2 7h2m-1-25h2m-2 17h2m-2 4h2m-2 3h2m-2 7h2m-1-24h2m-2 16h2m-2 13h2m-1-16h2m-2 5h2m-2 1h2m-1-34h2m-2 46h2m-1-11h2m-2 1h2m-1-10h2m-2 9h2m-1-11h2m0-11h2m-1 21h2m1 5h2"/><path d="M739 1204h2m-1 8h2m1 4h2m-1-51h2m-2 26h2m-1 16h2m-1-8h2m-2 12h2m-1-6h2m-2 1h2m-2 5h2m-2 2h2m-2 4h2m-1-14h2m-2 2h2m-1-3h2m-2 1h2m-2 2h2m-2 9h2m-1-14h2m-2 8h2m-2 1h2m-2 2h2m-1-2h2m-1-15h2m-2 14h2m-1-6h2m-2 5h2m-2 1h2m-2 5h2m-1-25h2m-2 20h2m-2 2h2m-2 4h2m-1-10h2m-2 1h2m-2 3h2m-2 10h2m-1-21h2m-2 3h2m-2 4h2m-2 4h2m0-13h2m-2 7h2m-1-7h2m-2 2h2m-2 6h2m-2 5h2m-2 1h2m-2 4h2m-1-57h2m-2 43h2m-2 1h2m-2 7h2m-2 1h2m-2 2h2m-2 4h2m-1-19h2m-2 4h2m-2 2h2m-2 1h2m-2 1h2m-2 3h2m-2 10h2m-1-24h2m-2 5h2m-2 3h2m-2 1h2m-2 1h2m-2 1h2m-2 2h2m-2 1h2m-2 3h2m-1-12h2m-2 2h2m-2 1h2m-2 2h2m-2 1h2m-2 2h2m-2 7h2m-1-11h2m-2 4h2m-2 3h2m-2 1h2m-2 1h2m-2 2h2m-1-15h2m-2 4h2m-2 2h2m-2 3h2m-1-26h2m-2 16h2m-2 7h2m-1-6h2m-2 2h2m-2 1h2m-2 1h2m-2 5h2m-2 4h2m-2 6h2m-1-33h2m-2 8h2m-2 4h2m-2 7h2m-2 1h2m-2 2h2m-2 1h2m-1-10h2m-2 1h2m-2 8h2m-2 1h2m-2 2h2m-1-15h2m-2 3h2m-2 2h2m-2 2h2m-2 1h2m-2 1h2m-2 1h2m-2 4h2m-1-3h2m-2 1h2m-1-22h2m-2 11h2m-2 7h2m-1-17h2m-2 12h2m-2 2h2m-2 1h2m-2 6h2m-1-16h2m-2 13h2m-1-25h2m-2 7h2m-2 9h2m-2 1h2m-1-11h2m-2 3h2m-2 3h2m-2 3h2m-2 13h2m-1-10h2m-2 11h2m-1-14h2m-1 10h2m-2 5h2m-2 3h2m0-21h2m-2 12h2m-1-28h2m-2 19h2m0-7h2m-2 23h2m-1-17h2m-1 4h2m-1 3h2m-1 0h2m0-4h2m-1-10h2m0-7h2m-2 6h2m-1 6h2m-2 5h2m0-39h2m-2 15h2m-2 13h2m-2 9h2m2-26h2m0-14h2m-2 16h2m-1-31h2m-1 24h2m-2 6h2m-2 9h2m-2 8h2m-1-53h2m-2 44h2m-2 3h2m-1-34h2m-2 3h2m-2 25h2m-1-34h2m-2 18h2m-2 1h2m-2 7h2m-2 1h2m-2 11h2m-2 4h2m-1-34h2m-2 3h2m-2 9h2m-2 1h2m-1-12h2m-2 5h2m-2 7h2m-2 3h2m-2 4h2m-2 10h2m-1-15h2m-2 4h2m-1-21h2m-2 13h2m-2 7h2m-2 11h2m-2 6h2m-1-39h2m-2 9h2m-2 9h2m-2 2h2m-2 6h2m-2 1h2m-2 16h2m-1-43h2m-2 2h2m-2 4h2m-2 5h2m-2 8h2m-2 6h2m-2 6h2m-1-24h2m-2 10h2m-2 6h2m-2 5h2m-2 3h2m-1-37h2m-2 4h2m-2 24h2m-2 6h2m-2 5h2m-2 2h2m-2 12h2m-1-33h2m-2 1h2m-2 11h2m-2 1h2m-2 1h2m-2 1h2m-2 3h2m-1-36h2m-2 8h2m-2 6h2m-2 4h2m-2 5h2m-2 6h2m-2 5h2m-1-27h2m-2 2h2m-2 3h2m-2 10h2m-2 3h2m-2 12h2m-1-21h2m-2 2h2m-2 6h2m-2 2h2m-2 2h2m-2 5h2m-2 4h2m-1-34h2m-2 6h2m-2 2h2m-2 3h2m-2 4h2m-2 19h2m-2 3h2m-1-25h2m-2 16h2m-1-2h2m-2 1h2m-2 3h2m-2 1h2m-1-30h2m-2 3h2m-2 14h2m-2 8h2m-2 2h2m-2 1h2m-2 9h2m-2 4h2m-1-36h2m-2 11h2m-2 13h2m-2 4h2m-1-8h2m-2 1h2m-2 4h2m-2 1h2m-2 3h2m-1-31h2m-2 10h2m-2 8h2m-2 9h2m-2 14h2m-1-44h2m-2 5h2m-2 25h2m-1-19h2m-2 13h2m-2 8h2m-2 12h2m-1-10h2m-2 1h2m-1-14h2m-1 9h2m-2 3h2m0-3h2m0-3h2m-2 8h2m0-26h2m-2 5h2m-2 15h2m1 0h2"/></g><rect x="360.70" y="559.40" width="61.50" height="58.60" fill="none" stroke="#3a3a3a" stroke-width="0.9"/><line x1="394.80" y1="559.40" x2="394.80" y2="618.00" stroke="#3a3a3a" stroke-width="0.85"/><line x1="360.70" y1="594.10" x2="422.20" y2="594.10" stroke="#3a3a3a" stroke-width="0.85"/><ellipse cx="387.0" cy="588.8" rx="1.3" ry="0.9" fill="#333" opacity="0.8"/><ellipse cx="402.0" cy="588.8" rx="1.3" ry="0.9" fill="#333" opacity="0.8"/><ellipse cx="402.0" cy="602.0" rx="1.3" ry="0.9" fill="#333" opacity="0.8"/><text x="363.9" y="565.7" font-size="4.3" text-anchor="start" font-weight="normal" fill="#333" stroke="#333" stroke-width="0.05" >B489 5uM</text><line x1="359.10" y1="565.90" x2="360.70" y2="565.90" stroke="#555" stroke-width="0.6"/><text x="356.7" y="567.3" font-size="3.8" text-anchor="end" fill="#666">10<tspan font-size="2.6" dy="-1.4">3</tspan></text><line x1="359.10" y1="580.40" x2="360.70" y2="580.40" stroke="#555" stroke-width="0.6"/><text x="356.7" y="581.8" font-size="3.8" text-anchor="end" fill="#666">10<tspan font-size="2.6" dy="-1.4">2</tspan></text><line x1="359.10" y1="594.90" x2="360.70" y2="594.90" stroke="#555" stroke-width="0.6"/><text x="356.7" y="596.3" font-size="3.8" text-anchor="end" fill="#666">10<tspan font-size="2.6" dy="-1.4">1</tspan></text><line x1="359.10" y1="609.40" x2="360.70" y2="609.40" stroke="#555" stroke-width="0.6"/><text x="356.7" y="610.8" font-size="3.8" text-anchor="end" fill="#666">10<tspan font-size="2.6" dy="-1.4">0</tspan></text><line x1="369.20" y1="618.00" x2="369.20" y2="619.40" stroke="#555" stroke-width="0.6"/><text x="369.2" y="625.4" font-size="3.8" text-anchor="middle" fill="#666">10<tspan font-size="2.6" dy="-1.4">0</tspan></text><line x1="384.70" y1="618.00" x2="384.70" y2="619.40" stroke="#555" stroke-width="0.6"/><text x="384.7" y="625.4" font-size="3.8" text-anchor="middle" fill="#666">10<tspan font-size="2.6" dy="-1.4">1</tspan></text><line x1="400.20" y1="618.00" x2="400.20" y2="619.40" stroke="#555" stroke-width="0.6"/><text x="400.2" y="625.4" font-size="3.8" text-anchor="middle" fill="#666">10<tspan font-size="2.6" dy="-1.4">2</tspan></text><line x1="415.70" y1="618.00" x2="415.70" y2="619.40" stroke="#555" stroke-width="0.6"/><text x="415.7" y="625.4" font-size="3.8" text-anchor="middle" fill="#666">10<tspan font-size="2.6" dy="-1.4">3</tspan></text><line x1="373.87" y1="616.90" x2="373.87" y2="618.00" stroke="#666" stroke-width="0.4"/><line x1="376.60" y1="616.90" x2="376.60" y2="618.00" stroke="#666" stroke-width="0.4"/><line x1="378.53" y1="616.90" x2="378.53" y2="618.00" stroke="#666" stroke-width="0.4"/><line x1="380.03" y1="616.90" x2="380.03" y2="618.00" stroke="#666" stroke-width="0.4"/><line x1="381.26" y1="616.90" x2="381.26" y2="618.00" stroke="#666" stroke-width="0.4"/><line x1="382.30" y1="616.90" x2="382.30" y2="618.00" stroke="#666" stroke-width="0.4"/><line x1="383.20" y1="616.90" x2="383.20" y2="618.00" stroke="#666" stroke-width="0.4"/><line x1="383.99" y1="616.90" x2="383.99" y2="618.00" stroke="#666" stroke-width="0.4"/><line x1="389.37" y1="616.90" x2="389.37" y2="618.00" stroke="#666" stroke-width="0.4"/><line x1="392.10" y1="616.90" x2="392.10" y2="618.00" stroke="#666" stroke-width="0.4"/><line x1="394.03" y1="616.90" x2="394.03" y2="618.00" stroke="#666" stroke-width="0.4"/><line x1="395.53" y1="616.90" x2="395.53" y2="618.00" stroke="#666" stroke-width="0.4"/><line x1="396.76" y1="616.90" x2="396.76" y2="618.00" stroke="#666" stroke-width="0.4"/><line x1="397.80" y1="616.90" x2="397.80" y2="618.00" stroke="#666" stroke-width="0.4"/><line x1="398.70" y1="616.90" x2="398.70" y2="618.00" stroke="#666" stroke-width="0.4"/><line x1="399.49" y1="616.90" x2="399.49" y2="618.00" stroke="#666" stroke-width="0.4"/><line x1="404.87" y1="616.90" x2="404.87" y2="618.00" stroke="#666" stroke-width="0.4"/><line x1="407.60" y1="616.90" x2="407.60" y2="618.00" stroke="#666" stroke-width="0.4"/><line x1="409.53" y1="616.90" x2="409.53" y2="618.00" stroke="#666" stroke-width="0.4"/><line x1="411.03" y1="616.90" x2="411.03" y2="618.00" stroke="#666" stroke-width="0.4"/><line x1="412.26" y1="616.90" x2="412.26" y2="618.00" stroke="#666" stroke-width="0.4"/><line x1="413.30" y1="616.90" x2="413.30" y2="618.00" stroke="#666" stroke-width="0.4"/><line x1="414.20" y1="616.90" x2="414.20" y2="618.00" stroke="#666" stroke-width="0.4"/><line x1="414.99" y1="616.90" x2="414.99" y2="618.00" stroke="#666" stroke-width="0.4"/><text x="419.2" y="635.0" font-size="5.6" text-anchor="end" font-weight="normal" fill="#222" stroke="#222" stroke-width="0.1" >48,3%</text><g transform="scale(0.5)" stroke="#000" stroke-width="1.6" stroke-opacity="0.22" filter="url(#fb)"><path d="M884 1227h2m-1-18h2m1-39h2m1-3h2m-1 47h2m4-20h2m0-18h2m-2 19h2m-2 12h2m0 4h2m-1-27h2m-2 9h2m-2 21h2m-1-46h2m-2 41h2m-1-18h2m-1-19h2m-2 40h2m-1 4h2m0-55h2m-1 32h2m-1-23h2m-1 50h2m-1-14h2m-1-32h2m-1 3h2m-2 12h2m-2 27h2m-2 5h2m-1-17h2m-1-28h2m-2 11h2m-2 12h2m-2 4h2m-2 11h2m-1-44h2m-2 5h2m-2 20h2m-2 9h2m-2 20h2m-1-58h2m-2 23h2m-2 12h2m0-10h2m-2 32h2m-2 6h2m-1-59h2m-2 21h2m-2 7h2m-1-15h2m-2 17h2m-1-16h2m-2 31h2m-2 1h2m-1-38h2m-2 17h2m-2 4h2m-1-6h2m-2 16h2m-1-2h2m-1-53h2m-2 19h2m-2 8h2m0 20h2m-2 15h2m-2 19h2m0-38h2m-2 9h2m-2 3h2m-2 7h2m0-42h2m-1-2h2m-2 35h2m-1 2h2m0-40h2m-2 7h2m-2 26h2m-2 7h2m-2 3h2m-1-22h2m-2 22h2m-2 16h2m-1-50h2m-2 2h2m-2 16h2m-1-31h2m-2 54h2m-1-14h2m-1-4h2m-2 3h2m-2 22h2m-1-46h2m-2 5h2m-2 2h2m-2 2h2m-2 3h2m-2 4h2m-2 1h2m-2 6h2m-1-23h2m-2 6h2m-2 19h2m-1-11h2m-2 7h2m-2 2h2m-2 1h2m-2 2h2m-2 7h2m-2 5h2m-1-39h2m-2 7h2m-2 24h2m-1-61h2m-2 28h2m-2 5h2m-2 1h2m-2 4h2m-2 8h2m-2 7h2m-2 13h2m-1-37h2m-2 12h2m-2 4h2m-2 4h2m-2 3h2m-2 1h2m-2 1h2m-2 8h2m-1-29h2m-2 11h2m-2 1h2m-2 5h2m-1-30h2m-2 12h2m-2 1h2m-2 1h2m-2 3h2m-2 4h2m-2 13h2m-2 2h2m-2 2h2m-2 7h2m-1-42h2m-2 8h2m-2 10h2m-2 6h2m-2 1h2m-2 1h2m-2 1h2m-2 3h2m-2 10h2m-1-38h2m-2 6h2m-2 12h2m-2 4h2m-2 11h2m-1-40h2m-2 15h2m-2 1h2m-2 1h2m-2 3h2m-2 4h2m-2 3h2m-2 1h2m-2 3h2m-2 6h2m-2 2h2m-2 2h2m-1-27h2m-2 13h2m-2 1h2m-2 2h2m-2 4h2m-2 3h2m-2 5h2m-2 7h2m-1-26h2m-2 15h2m-2 16h2m-1-33h2m-2 2h2m-2 3h2m-1-14h2m-2 5h2m-2 11h2m-2 1h2m-2 15h2m-2 2h2m-1-33h2m-2 4h2m-2 3h2m-2 3h2m-2 6h2m-2 7h2m-2 1h2m-2 3h2m-1-44h2m-2 17h2m-2 11h2m-2 10h2m-2 8h2m-1-35h2m-2 5h2m-2 16h2m-2 1h2m-2 2h2m-2 4h2m-2 1h2m-2 3h2m-2 6h2m-1-24h2m-2 3h2m-2 7h2m-2 1h2m-2 3h2m-2 2h2m-2 2h2m-1-21h2m-2 1h2m-2 1h2m-2 1h2m-2 7h2m-2 1h2m-2 2h2m-2 2h2m-2 6h2m-2 5h2m-2 6h2m-1-29h2m-2 1h2m-2 11h2m-2 1h2m-1-20h2m-2 3h2m-2 12h2m-2 2h2m-2 7h2m-2 7h2m-1-45h2m-2 20h2m-2 2h2m-2 2h2m-2 1h2m-2 1h2m-2 1h2m-2 4h2m-2 1h2m-2 6h2m-2 4h2m-1-24h2m-2 2h2m-2 5h2m-2 3h2m-1-23h2m-2 1h2m-2 7h2m-2 7h2m-2 10h2m-2 1h2m-2 1h2m-2 1h2m-1-3h2m-2 4h2m-1-17h2m-2 7h2m-2 7h2m-2 3h2m-1-15h2m-2 11h2m-2 11h2m-1-32h2m-2 2h2m-2 4h2m-2 16h2m-2 1h2m-2 1h2m-2 3h2m-1-1h2m-2 4h2m-2 14h2m-1-41h2m-2 23h2m-2 2h2m-1-8h2m-2 3h2m-1-15h2m-2 13h2m-2 14h2m-1-13h2m-2 1h2m-2 6h2m0-22h2m-2 23h2m-1-25h2m-2 10h2m-2 3h2m-1 9h2m2 5h2m4-4h2m-1-22h2m-2 16h2"/><path d="M879 1195h2m-2 22h2m9 12h2m-1-53h2m1 10h2m0 1h2m0-12h2m0 31h2m-1-29h2m-2 33h2m-1-9h2m-1-16h2m-2 26h2m-2 5h2m-1-17h2m0-18h2m-1 19h2m0-20h2m-2 17h2m-2 9h2m-1-28h2m-2 12h2m-2 1h2m-2 4h2m-2 21h2m-1-34h2m-2 21h2m-1-35h2m-1 5h2m0 8h2m-1 1h2m-2 36h2m-2 2h2m1-37h2m-2 6h2m-2 23h2m-2 2h2m-1-24h2m-2 12h2m-1-24h2m-1 6h2m-2 5h2m-2 21h2m-2 12h2m-1-36h2m-2 13h2m-2 2h2m-2 1h2m-2 32h2m-1-39h2m-1 1h2m-2 25h2m0-41h2m-2 39h2m-2 13h2m-1-58h2m-2 34h2m-1-12h2m-1-23h2m-2 4h2m-1 1h2m-2 5h2m-1-16h2m-2 5h2m-2 11h2m-2 47h2m-1-48h2m-2 31h2m-2 6h2m-1-26h2m-2 4h2m-2 6h2m-2 2h2m-2 2h2m-2 4h2m-2 6h2m1-27h2m0 12h2m-1-22h2m-2 7h2m-2 6h2m-2 1h2m-2 3h2m-2 20h2m0-40h2m-2 18h2m-2 7h2m-2 3h2m-1-19h2m-2 3h2m-2 14h2m-1-30h2m-2 8h2m-2 10h2m-2 11h2m-2 18h2m-1-38h2m-2 6h2m-2 11h2m-2 5h2m-1-15h2m-2 2h2m-2 4h2m-2 2h2m-2 3h2m-2 12h2m-1-33h2m-2 6h2m-2 3h2m-2 9h2m-2 1h2m-2 1h2m-2 5h2m-1-47h2m-2 17h2m-2 3h2m-2 10h2m-2 10h2m-2 11h2m-2 7h2m-1-25h2m-2 2h2m-2 7h2m-2 1h2m-2 12h2m-1-38h2m-2 11h2m-2 2h2m-2 3h2m-2 4h2m-2 6h2m-1-41h2m-2 22h2m-2 4h2m-2 1h2m-2 5h2m-2 16h2m-1-21h2m-2 2h2m-2 18h2m-2 8h2m-1-42h2m-2 18h2m-2 1h2m-2 1h2m-2 1h2m-2 1h2m-1-8h2m-2 4h2m-2 1h2m-2 1h2m-2 2h2m-2 4h2m-2 1h2m-2 3h2m-2 3h2m-2 1h2m-1-28h2m-2 5h2m-2 1h2m-2 1h2m-2 7h2m-2 1h2m-2 1h2m-1-10h2m-2 2h2m-2 1h2m-2 2h2m-2 8h2m-2 6h2m-2 2h2m-1-28h2m-2 4h2m-2 3h2m-2 10h2m-2 1h2m-2 1h2m-2 1h2m-1-15h2m-2 3h2m-2 2h2m-2 3h2m-2 4h2m-2 2h2m-2 1h2m-2 2h2m-2 2h2m-2 8h2m-2 2h2m-2 2h2m-1-26h2m-2 1h2m-2 4h2m-2 15h2m-2 5h2m-1-50h2m-2 19h2m-2 3h2m-2 6h2m-2 5h2m-1-12h2m-2 11h2m-2 4h2m-2 10h2m-2 2h2m-1-30h2m-2 11h2m-2 5h2m-2 6h2m-2 1h2m-2 3h2m-1-48h2m-2 20h2m-2 16h2m-2 8h2m-2 1h2m-2 3h2m-2 1h2m-1-27h2m-2 4h2m-2 1h2m-2 3h2m-2 4h2m-2 2h2m-2 3h2m-2 2h2m-2 3h2m-2 7h2m-1-29h2m-2 6h2m-2 4h2m-2 8h2m-1-21h2m-2 6h2m-2 2h2m-2 1h2m-2 2h2m-2 9h2m-2 3h2m-2 8h2m-2 1h2m-1-46h2m-2 16h2m-2 3h2m-2 10h2m-2 2h2m-2 4h2m-1-22h2m-2 6h2m-2 6h2m-2 2h2m-2 1h2m-2 1h2m-2 2h2m-2 4h2m-1-18h2m-2 4h2m-2 3h2m-2 1h2m-2 3h2m-2 3h2m-2 5h2m-2 1h2m-2 1h2m-2 1h2m-2 3h2m-1-23h2m-2 3h2m-2 6h2m-2 3h2m-2 10h2m-1-36h2m-2 12h2m-2 2h2m-2 8h2m-2 2h2m-2 10h2m-2 28h2m-1-56h2m-2 19h2m-2 5h2m-1 12h2m-1-46h2m-2 31h2m-1-12h2m-2 6h2m-2 6h2m-1-9h2m-2 12h2m-1 13h2m-1-26h2m-2 2h2m-2 18h2m-1 2h2m-1-15h2m-1 6h2m-1-12h2m0 15h2"/><path d="M885 1204h2m-1-28h2m-2 13h2m-2 8h2m4 12h2m0-4h2m-2 20h2m1-1h2m-1-34h2m0-12h2m-2 28h2m-2 7h2m-1-39h2m-1 17h2m0 22h2m-1-44h2m-2 5h2m-2 18h2m-2 29h2m-1-28h2m-1-7h2m-2 18h2m-1-28h2m-2 52h2m-1 4h2m-1-44h2m-2 34h2m0-43h2m-2 22h2m-2 14h2m-1-37h2m-2 9h2m-2 32h2m-1-47h2m-2 9h2m0 2h2m-2 29h2m-2 7h2m-1-48h2m-2 36h2m-2 6h2m-1-16h2m-2 6h2m0-5h2m-1-27h2m-2 23h2m-2 1h2m-2 12h2m-1-28h2m-2 46h2m-1-18h2m-2 2h2m-2 2h2m-2 2h2m-1 4h2m0-43h2m0-11h2m-2 50h2m-1-40h2m-2 13h2m-1-10h2m-2 39h2m-1-41h2m-2 17h2m-2 9h2m-1-27h2m-2 1h2m-2 33h2m0-2h2m-2 11h2m-1-12h2m-2 5h2m-1-18h2m-2 2h2m-1-25h2m-2 21h2m-2 33h2m-1-47h2m-2 19h2m-1-19h2m-2 28h2m-2 4h2m0-15h2m-2 5h2m-2 1h2m-2 5h2m-2 3h2m-1-19h2m-2 5h2m-2 2h2m-1 0h2m-2 6h2m-2 18h2m-1-33h2m-2 8h2m-2 1h2m-2 4h2m-2 10h2m-1-23h2m-2 12h2m-2 4h2m-2 4h2m-1-27h2m-2 11h2m-2 1h2m-2 2h2m-2 4h2m-2 3h2m-2 6h2m-2 5h2m-2 4h2m-1-43h2m-2 16h2m-2 4h2m-2 4h2m-2 9h2m-1-35h2m-2 6h2m-2 16h2m-2 1h2m-2 1h2m-2 6h2m-2 3h2m-1-32h2m-1 8h2m-2 6h2m-2 8h2m-2 19h2m-1-30h2m-2 10h2m-2 7h2m-2 4h2m-1-29h2m-2 8h2m-2 10h2m-2 1h2m-2 2h2m-2 5h2m-1-23h2m-2 11h2m-2 5h2m-2 1h2m-2 1h2m-2 2h2m-2 21h2m-1-38h2m-2 5h2m-2 7h2m-2 3h2m-2 3h2m-1-17h2m-2 18h2m-2 15h2m-1-35h2m-2 6h2m-2 3h2m-2 5h2m-2 4h2m-2 5h2m-2 4h2m-2 2h2m-2 1h2m-2 3h2m-2 6h2m-1-41h2m-2 3h2m-2 2h2m-2 5h2m-2 1h2m-2 2h2m-2 1h2m-2 2h2m-2 1h2m-2 3h2m-2 2h2m-2 1h2m-2 7h2m-2 2h2m-2 2h2m-2 2h2m-1-31h2m-2 1h2m-2 4h2m-2 2h2m-2 8h2m-2 1h2m-2 7h2m-2 2h2m-2 2h2m-1-32h2m-2 5h2m-2 4h2m-2 1h2m-2 2h2m-2 2h2m-2 11h2m-2 2h2m-2 1h2m-1-21h2m-2 6h2m-2 5h2m-2 5h2m-2 1h2m-2 4h2m-2 1h2m-1-22h2m-2 3h2m-2 1h2m-2 7h2m-2 4h2m-2 4h2m-2 7h2m-2 1h2m-1-26h2m-2 1h2m-2 2h2m-2 2h2m-2 7h2m-2 1h2m-2 1h2m-2 3h2m-2 2h2m-2 2h2m-2 6h2m-2 4h2m-1-32h2m-2 6h2m-2 10h2m-2 3h2m-2 1h2m-1-36h2m-2 6h2m-2 8h2m-2 3h2m-2 2h2m-2 2h2m-2 2h2m-2 3h2m-2 2h2m-2 10h2m-1-22h2m-2 15h2m-2 13h2m-1-29h2m-2 1h2m-2 10h2m-2 6h2m-2 4h2m-2 2h2m-2 4h2m-1-46h2m-2 17h2m-2 2h2m-2 1h2m-2 1h2m-2 7h2m-2 1h2m-2 8h2m-2 1h2m-2 3h2m-2 1h2m-2 3h2m-1-25h2m-2 10h2m-2 2h2m-2 5h2m-1-13h2m-2 22h2m-2 1h2m-1-26h2m-2 5h2m-2 2h2m-2 2h2m-2 15h2m-1-12h2m-2 1h2m-2 14h2m-1-17h2m-2 21h2m-1-14h2m-2 7h2m-1-17h2m-1-2h2m-2 2h2m-2 12h2m-1-23h2m-2 4h2m-2 6h2m-1-45h2m-2 30h2m1 3h2m-2 12h2m-1 7h2m0-15h2m2 13h2m-1-4h2m-1 30h2"/><path d="M882 1201h2m8-24h2m0 34h2m-1-16h2m-1-25h2m-2 38h2m1-17h2m-2 28h2m-2 1h2m-2 2h2m-1-53h2m-2 13h2m-1-4h2m-1 19h2m-1 2h2m-1 1h2m-2 4h2m-1-32h2m-2 31h2m-2 19h2m0-3h2m1-42h2m-2 38h2m-2 13h2m-1-20h2m-1 1h2m-2 12h2m-1-50h2m-2 3h2m-2 39h2m-1 5h2m-1-16h2m-2 24h2m-1-49h2m-2 37h2m-1-35h2m-2 11h2m-2 31h2m-1-27h2m-2 25h2m-2 3h2m-1-30h2m-2 15h2m-1-30h2m-1 30h2m-2 13h2m0-18h2m-2 11h2m-1-26h2m-1-24h2m-2 40h2m-2 5h2m-2 13h2m-1-49h2m-2 20h2m-1-18h2m-2 45h2m-1-49h2m-2 37h2m0-21h2m-2 15h2m-1-32h2m-2 16h2m-1 5h2m-2 4h2m-2 13h2m-1-28h2m-1 22h2m-2 3h2m-2 5h2m0-22h2m-2 8h2m-2 5h2m-1-7h2m-2 7h2m-2 1h2m-2 19h2m-1-40h2m-2 37h2m-1-18h2m-1-13h2m-2 1h2m-2 8h2m-2 7h2m-1-30h2m-2 4h2m-2 9h2m-2 16h2m-1-15h2m-2 12h2m-1-20h2m-2 5h2m-2 19h2m-1-26h2m-2 12h2m-2 11h2m-1-25h2m-2 10h2m-2 6h2m-2 4h2m-2 20h2m-1-31h2m-2 12h2m-2 2h2m-2 3h2m-2 4h2m-2 2h2m-1-20h2m-2 12h2m-1-24h2m-2 4h2m-2 6h2m-2 2h2m-2 6h2m-1-17h2m-2 1h2m-2 29h2m-1-38h2m-2 7h2m-2 12h2m-2 14h2m-2 6h2m-2 3h2m-1-23h2m-2 6h2m-2 8h2m-2 13h2m-1-46h2m-2 21h2m-2 4h2m-2 7h2m-2 10h2m-2 2h2m-1-31h2m-2 6h2m-2 3h2m-2 2h2m-2 1h2m-2 2h2m-2 8h2m-2 1h2m-2 7h2m-1-44h2m-2 11h2m-2 4h2m-2 6h2m-2 3h2m-2 2h2m-2 4h2m-2 5h2m-2 4h2m-2 9h2m-1-37h2m-2 3h2m-2 5h2m-2 5h2m-2 1h2m-2 7h2m-1-28h2m-2 12h2m-2 1h2m-2 2h2m-2 1h2m-2 5h2m-2 4h2m-2 1h2m-2 10h2m-2 1h2m-2 5h2m-1-29h2m-2 2h2m-2 2h2m-2 3h2m-2 1h2m-2 5h2m-2 4h2m-1-33h2m-2 6h2m-2 16h2m-2 1h2m-2 6h2m-2 3h2m-2 9h2m-1-64h2m-2 34h2m-2 5h2m-2 1h2m-2 1h2m-2 3h2m-2 3h2m-2 1h2m-2 1h2m-2 2h2m-2 11h2m-2 21h2m-1-46h2m-2 3h2m-2 1h2m-2 9h2m-2 1h2m-2 1h2m-2 3h2m-2 7h2m-2 1h2m-2 3h2m-2 7h2m-1-42h2m-2 3h2m-2 1h2m-2 1h2m-2 10h2m-2 1h2m-2 7h2m-2 2h2m-2 2h2m-1-26h2m-2 7h2m-2 2h2m-2 6h2m-2 3h2m-2 10h2m-2 3h2m-2 6h2m-1-26h2m-2 8h2m-2 5h2m-1-15h2m-2 3h2m-2 10h2m-2 4h2m-2 1h2m-2 4h2m-2 1h2m-1-34h2m-2 7h2m-2 4h2m-2 3h2m-2 2h2m-2 8h2m-1-32h2m-2 3h2m-2 16h2m-2 10h2m-2 1h2m-2 5h2m-2 13h2m-1-39h2m-2 14h2m-2 4h2m-2 1h2m-2 1h2m-2 1h2m-2 4h2m-1-72h2m-2 60h2m-2 3h2m-2 21h2m-1-32h2m-2 6h2m-2 4h2m-2 4h2m-2 2h2m-2 6h2m-2 2h2m-1-37h2m-2 11h2m-2 13h2m-2 1h2m-2 1h2m-2 6h2m-2 2h2m-2 14h2m-1-41h2m-2 18h2m-2 1h2m-2 11h2m-1-16h2m-2 1h2m-2 5h2m-2 7h2m-1-23h2m-2 13h2m-2 1h2m-2 15h2m-1-27h2m-2 10h2m-2 4h2m-1 0h2m-2 1h2m-2 12h2m-1-19h2m-1 2h2m-1 8h2m-2 6h2m0-22h2m-1 18h2m-2 2h2m0-6h2m-2 8h2m2-20h2m2-45h2"/><path d="M882 1209h2m7-4h2m-2 17h2m3-36h2m0 17h2m-2 11h2m0-72h2m-1 25h2m-2 62h2m0-18h2m-1 14h2m-1-44h2m-2 42h2m0-36h2m-2 5h2m-2 26h2m-1-45h2m-2 44h2m-1-26h2m-2 10h2m-2 17h2m1-17h2m-2 25h2m-1-57h2m-2 6h2m-2 24h2m-2 33h2m-1-51h2m-1 19h2m-2 3h2m-1-33h2m-1 15h2m-2 3h2m-2 36h2m-1-84h2m-2 80h2m-1-50h2m-2 32h2m-1-31h2m-2 1h2m-1 0h2m-2 26h2m-1-19h2m-2 17h2m-2 2h2m-2 4h2m-2 7h2m-2 12h2m-2 1h2m-1-61h2m-2 40h2m-2 3h2m0-23h2m-1 22h2m-1 7h2m-1-68h2m-1 48h2m-2 3h2m-1 16h2m-2 3h2m-1-5h2m-1-30h2m0 7h2m-2 33h2m-1-32h2m-2 7h2m-2 19h2m-1-14h2m-2 8h2m0-28h2m-2 19h2m-1-17h2m-2 10h2m-2 1h2m-2 4h2m-2 15h2m-1-20h2m-2 10h2m-1-4h2m-2 3h2m-1 0h2m-1-17h2m-2 1h2m-2 11h2m-2 1h2m-2 1h2m-2 3h2m-2 3h2m-2 24h2m-1-33h2m-2 3h2m-2 2h2m-2 1h2m-2 2h2m-2 3h2m-2 6h2m-1-24h2m-2 2h2m-2 8h2m-1-21h2m-2 6h2m-2 10h2m-2 5h2m-2 23h2m-1-42h2m-2 29h2m-1-20h2m-2 11h2m-2 1h2m-2 9h2m-1-42h2m-2 5h2m-2 14h2m-2 4h2m-2 1h2m-2 4h2m-2 12h2m-1-13h2m-2 5h2m-2 3h2m-2 6h2m-2 5h2m-2 5h2m-1-38h2m-2 7h2m-2 1h2m-2 1h2m-2 2h2m-2 4h2m-2 6h2m-2 18h2m-1-45h2m-2 21h2m-2 9h2m-2 4h2m-2 4h2m-1-21h2m-2 2h2m-2 1h2m-2 2h2m-2 4h2m-2 1h2m-2 2h2m-2 2h2m-1-25h2m-2 1h2m-2 10h2m-2 9h2m-1-8h2m-2 2h2m-2 2h2m-2 5h2m-2 1h2m-2 2h2m-2 3h2m-2 6h2m-1-25h2m-2 1h2m-2 5h2m-2 3h2m-2 2h2m-2 1h2m-2 1h2m-2 4h2m-2 3h2m-1-25h2m-2 3h2m-2 2h2m-2 2h2m-2 3h2m-2 8h2m-2 1h2m-2 3h2m-2 4h2m-1-39h2m-2 12h2m-2 6h2m-2 3h2m-2 2h2m-2 6h2m-2 1h2m-2 9h2m-2 1h2m-2 6h2m-1-27h2m-2 9h2m-2 5h2m-2 3h2m-2 1h2m-1-22h2m-2 3h2m-2 5h2m-2 2h2m-2 1h2m-2 6h2m-2 14h2m-1-42h2m-2 3h2m-2 8h2m-2 3h2m-2 1h2m-2 1h2m-2 1h2m-2 6h2m-2 1h2m-2 6h2m-2 9h2m-2 1h2m-2 5h2m-1-37h2m-2 9h2m-2 1h2m-2 11h2m-2 11h2m-2 5h2m-2 6h2m-2 1h2m-1-42h2m-2 12h2m-2 1h2m-2 8h2m-2 3h2m-2 15h2m-1-31h2m-2 3h2m-2 3h2m-2 1h2m-2 5h2m-2 3h2m-2 5h2m-2 3h2m-1-32h2m-2 21h2m-2 1h2m-2 2h2m-2 3h2m-1-31h2m-2 6h2m-2 9h2m-2 3h2m-2 1h2m-2 6h2m-2 2h2m-2 3h2m-1-59h2m-2 40h2m-2 4h2m-2 3h2m-2 2h2m-2 2h2m-2 9h2m-1-38h2m-2 11h2m-2 4h2m-1-8h2m-2 10h2m-2 1h2m-2 19h2m-2 10h2m-1-23h2m-2 10h2m-2 4h2m-2 7h2m-1-32h2m-2 2h2m-2 4h2m-2 2h2m-2 8h2m-1-20h2m-2 3h2m-2 6h2m-2 3h2m-2 9h2m-2 2h2m-2 7h2m-2 7h2m-2 2h2m-1-20h2m-2 12h2m-2 4h2m-1-18h2m-2 10h2m-2 9h2m-1-33h2m-1 8h2m-2 8h2m-1-8h2m-2 25h2m-1-16h2m0-14h2m-2 9h2m-1 7h2m1-16h2m-2 11h2m-1-8h2m-1 20h2"/><path d="M881 1215h2m1-17h2m5-7h2m0-13h2m4 21h2m0-19h2m-2 26h2m-1-19h2m-1-13h2m-1 24h2m-1-13h2m-2 23h2m-1-8h2m-2 1h2m-2 24h2m-1-50h2m-1 48h2m-1-1h2m-1-51h2m-2 31h2m-1-19h2m-1 36h2m-1-29h2m-2 15h2m-2 1h2m-2 1h2m-1-35h2m-2 16h2m-1 4h2m-2 11h2m-2 25h2m-1-56h2m-2 10h2m-2 10h2m-2 11h2m-2 7h2m-1-35h2m-1 21h2m-2 3h2m-2 17h2m-1-14h2m-2 10h2m-1-44h2m-2 4h2m-1 28h2m-2 5h2m-1-31h2m-2 43h2m-2 3h2m-1-11h2m-1-35h2m-2 46h2m0-19h2m-1-8h2m-1-14h2m-2 18h2m-2 11h2m-1 12h2m-1 9h2m-1-43h2m-1 19h2m-1-39h2m-2 28h2m-2 16h2m-1-19h2m-2 8h2m-2 3h2m-1-32h2m-2 18h2m-1-12h2m-2 16h2m-2 16h2m-1-26h2m-2 11h2m-2 12h2m-2 2h2m-1-29h2m-2 3h2m-2 1h2m-2 13h2m-2 21h2m-1-35h2m-2 10h2m-2 14h2m-1-8h2m-2 5h2m-1-28h2m-2 10h2m-2 1h2m-2 7h2m-1-16h2m-2 26h2m-2 4h2m-1-23h2m-2 1h2m-2 9h2m-2 4h2m-2 20h2m-1-25h2m-2 3h2m-2 11h2m-1-20h2m-2 5h2m-2 5h2m-2 2h2m-1-24h2m-2 15h2m-2 21h2m-1-38h2m-2 6h2m-2 14h2m-2 2h2m-2 1h2m-2 4h2m-2 2h2m-2 6h2m-2 6h2m-1-28h2m-2 15h2m-2 12h2m-1-30h2m-2 6h2m-2 6h2m-2 24h2m-1-33h2m-2 5h2m-2 5h2m-2 1h2m-2 2h2m-2 6h2m-1-27h2m-2 5h2m-2 4h2m-2 2h2m-2 3h2m-2 1h2m-2 5h2m-2 8h2m-1-29h2m-2 15h2m-2 5h2m-2 11h2m-2 9h2m-2 6h2m-2 8h2m-1-51h2m-2 7h2m-2 4h2m-2 7h2m-2 1h2m-2 2h2m-2 10h2m-1-38h2m-2 5h2m-2 2h2m-2 9h2m-2 1h2m-2 1h2m-2 2h2m-2 5h2m-2 1h2m-2 1h2m-2 1h2m-2 3h2m-2 3h2m-2 2h2m-2 18h2m-1-48h2m-2 10h2m-2 1h2m-2 7h2m-2 1h2m-2 3h2m-2 8h2m-2 6h2m-1-43h2m-2 3h2m-2 10h2m-2 3h2m-2 4h2m-2 7h2m-2 2h2m-2 5h2m-2 4h2m-2 1h2m-1-31h2m-2 5h2m-2 7h2m-1-15h2m-2 6h2m-2 7h2m-2 6h2m-2 5h2m-2 6h2m-2 1h2m-1-17h2m-2 5h2m-2 1h2m-2 3h2m-2 1h2m-2 1h2m-2 10h2m-1-39h2m-2 9h2m-2 3h2m-2 9h2m-2 3h2m-1-12h2m-2 2h2m-2 5h2m-2 6h2m-2 1h2m-2 4h2m-2 4h2m-2 6h2m-2 1h2m-1-37h2m-2 3h2m-2 12h2m-2 9h2m-2 4h2m-2 8h2m-1-20h2m-2 5h2m-2 10h2m-2 2h2m-1-20h2m-2 4h2m-2 4h2m-2 3h2m-2 3h2m-2 8h2m-2 6h2m-1-33h2m-2 3h2m-2 7h2m-2 3h2m-1-15h2m-2 5h2m-2 6h2m-2 3h2m-2 2h2m-2 25h2m-1-46h2m-2 11h2m-2 2h2m-2 4h2m-2 3h2m-2 21h2m-1-37h2m-2 3h2m-2 11h2m-2 1h2m-2 2h2m-2 7h2m-2 4h2m-1-41h2m-2 17h2m-2 6h2m-2 11h2m-2 1h2m-2 10h2m-1-38h2m-2 15h2m-2 10h2m-2 5h2m-1-24h2m-2 22h2m-1-29h2m-2 10h2m-2 21h2m-2 13h2m-1-44h2m-2 9h2m-2 4h2m-2 7h2m-2 6h2m-1-14h2m-2 1h2m-2 12h2m-2 2h2m-2 14h2m-1-30h2m-2 25h2m-1-18h2m-2 1h2m-2 1h2m-2 10h2m-1-26h2m-2 8h2m-2 8h2m-1-9h2m-1 6h2m-1-10h2m-2 50h2m-1-35h2m-1-7h2m-2 14h2m2-37h2m-1 39h2"/><path d="M881 1166h2m0 27h2m2 26h2m-1-40h2m-1 1h2m1 36h2m-1-30h2m-2 13h2m-2 11h2m-1-4h2m-1-24h2m-2 22h2m-2 8h2m0-13h2m-1 21h2m1-46h2m-1 2h2m2 6h2m-1 20h2m-2 16h2m-1-6h2m-2 7h2m-1-20h2m-2 8h2m-2 4h2m0-3h2m-2 23h2m-1-46h2m-1 1h2m-2 28h2m-1-43h2m-1 7h2m-2 27h2m-2 1h2m-2 12h2m-1-38h2m-2 12h2m-2 2h2m-2 4h2m-2 7h2m-2 7h2m-1-41h2m-2 3h2m-2 4h2m-2 20h2m-2 35h2m-1-62h2m-2 43h2m-1-2h2m-1-36h2m-2 29h2m-2 5h2m-1-88h2m-2 73h2m0-18h2m-2 13h2m-2 13h2m0-31h2m-2 25h2m0-23h2m-2 35h2m-1-31h2m-2 13h2m-2 9h2m-1-20h2m-1-9h2m-2 16h2m-2 17h2m-1 3h2m-1-13h2m-2 13h2m-1-39h2m-1 24h2m-1 0h2m-2 4h2m-2 3h2m-1-3h2m-1-10h2m-2 13h2m-2 12h2m-1-31h2m-2 11h2m-1-13h2m-2 6h2m-2 16h2m-2 1h2m-2 2h2m-1-6h2m-1-13h2m-2 22h2m-1-37h2m-2 12h2m-2 2h2m-2 4h2m-2 8h2m-1 21h2m-1-34h2m-2 16h2m-2 13h2m-2 12h2m-1-39h2m-2 7h2m-2 1h2m-2 1h2m-2 1h2m-2 6h2m-2 3h2m-1-34h2m-2 28h2m-2 3h2m-1-20h2m-2 8h2m-2 7h2m-2 5h2m-2 7h2m-2 2h2m-2 9h2m-1-46h2m-2 7h2m-2 10h2m-2 2h2m-2 3h2m-2 3h2m-1-21h2m-2 6h2m-2 6h2m-2 3h2m-2 8h2m-1-20h2m-2 7h2m-2 5h2m-2 1h2m-2 3h2m-2 3h2m-2 15h2m-1-30h2m-2 6h2m-2 1h2m-2 1h2m-2 2h2m-2 3h2m-2 3h2m-2 18h2m-1-47h2m-2 6h2m-2 12h2m-2 3h2m-2 2h2m-2 4h2m-2 3h2m-2 3h2m-1-27h2m-2 2h2m-2 10h2m-2 4h2m-2 4h2m-2 7h2m-2 8h2m-2 1h2m-1-35h2m-2 6h2m-2 3h2m-2 6h2m-2 5h2m-2 7h2m-2 1h2m-2 5h2m-2 6h2m-1-31h2m-2 2h2m-2 3h2m-2 1h2m-2 4h2m-2 2h2m-2 1h2m-2 2h2m-2 13h2m-1-45h2m-2 15h2m-2 4h2m-2 4h2m-2 1h2m-2 7h2m-2 1h2m-1-29h2m-2 13h2m-2 6h2m-2 2h2m-2 9h2m-2 18h2m-1-38h2m-2 5h2m-2 5h2m-2 4h2m-2 7h2m-2 5h2m-2 14h2m-2 3h2m-1-43h2m-2 5h2m-2 1h2m-2 3h2m-2 2h2m-2 1h2m-2 2h2m-2 22h2m-1-42h2m-2 5h2m-2 9h2m-2 5h2m-2 5h2m-2 4h2m-2 1h2m-1-38h2m-2 19h2m-2 12h2m-2 4h2m-2 4h2m-1-17h2m-2 1h2m-2 1h2m-2 4h2m-2 3h2m-2 9h2m-1-21h2m-2 10h2m-2 7h2m-2 1h2m-2 3h2m-2 1h2m-2 4h2m-1-41h2m-2 8h2m-2 1h2m-2 12h2m-2 1h2m-2 2h2m-2 5h2m-2 2h2m-2 3h2m-1-20h2m-2 3h2m-2 5h2m-2 1h2m-2 1h2m-2 2h2m-2 4h2m-2 2h2m-2 12h2m-1-30h2m-2 17h2m-2 3h2m-2 14h2m-1-30h2m-2 3h2m-2 1h2m-2 9h2m-1-7h2m-2 3h2m-2 2h2m-2 1h2m-2 8h2m-1-32h2m-2 12h2m-2 4h2m-2 4h2m-2 1h2m-2 3h2m-1-20h2m-2 2h2m-2 3h2m-2 11h2m-1-17h2m-2 15h2m-2 12h2m-2 20h2m0-60h2m-2 5h2m-2 30h2m-1-15h2m-2 3h2m-2 11h2m-2 10h2m-1-32h2m-2 11h2m-2 13h2m-2 6h2m-1-28h2m-2 30h2m-1-29h2m-1 4h2m-1-3h2m-2 4h2m-2 23h2m-1-30h2m-2 22h2m-1 4h2m0-19h2m-2 11h2m-1-4h2m-2 16h2m-1 5h2m8-25h2"/><path d="M883 1206h2m1-14h2m0 35h2m1-45h2m-2 12h2m0 3h2m-1 1h2m-1-23h2m-2 35h2m-1-34h2m-2 37h2m-2 5h2m-1-35h2m-2 15h2m-2 2h2m-2 6h2m-1-13h2m-1-16h2m-2 39h2m-1-47h2m-2 25h2m-1-14h2m-1 40h2m1-40h2m-2 21h2m-2 21h2m-1-5h2m-1-1h2m-1-36h2m-2 5h2m-1-8h2m-1 0h2m-2 42h2m0-37h2m-1 30h2m-2 3h2m0-23h2m-2 9h2m0 19h2m-1-37h2m-2 10h2m-2 3h2m-1-23h2m-2 26h2m-2 27h2m-1-33h2m-2 20h2m0-24h2m-2 43h2m-1-66h2m-2 16h2m-2 16h2m-2 17h2m-2 15h2m-1-54h2m-2 20h2m-2 3h2m-2 10h2m-2 19h2m-1-57h2m-2 33h2m-1 2h2m-2 2h2m-2 20h2m-1-18h2m-1-34h2m-2 4h2m-1 23h2m-1 27h2m0-56h2m0 18h2m-2 4h2m-2 17h2m-1-40h2m-1 3h2m-2 5h2m-2 11h2m-1-4h2m-2 2h2m-2 4h2m-2 18h2m-1-31h2m-1 45h2m-1-44h2m-2 7h2m-2 7h2m-1-17h2m-2 1h2m-2 12h2m-2 3h2m-2 1h2m-1-13h2m-1 9h2m-2 6h2m-2 1h2m-2 24h2m-1-38h2m-2 1h2m-2 3h2m-2 5h2m-2 9h2m-2 15h2m-1-26h2m-2 1h2m-2 1h2m-2 7h2m-2 3h2m-2 2h2m-2 1h2m-1-27h2m-2 5h2m-2 2h2m-2 1h2m-2 7h2m-2 12h2m-2 1h2m-2 8h2m-1-38h2m-2 17h2m-2 3h2m-2 1h2m-1-23h2m-2 14h2m-2 1h2m-2 2h2m-1-24h2m-2 27h2m-2 3h2m-2 5h2m-2 4h2m-2 1h2m-1-29h2m-2 3h2m-2 6h2m-2 1h2m-2 4h2m-2 3h2m-2 12h2m-1-24h2m-2 5h2m-2 6h2m-2 6h2m-2 2h2m-1-28h2m-2 3h2m-2 8h2m-2 4h2m-2 8h2m-2 2h2m-2 10h2m-1-34h2m-2 13h2m-2 9h2m-2 2h2m-2 6h2m-2 2h2m-1-32h2m-2 4h2m-2 7h2m-2 1h2m-2 4h2m-2 2h2m-2 3h2m-2 3h2m-2 2h2m-2 3h2m-1-17h2m-2 1h2m-2 1h2m-2 8h2m-2 3h2m-2 3h2m-1-29h2m-2 12h2m-2 1h2m-2 2h2m-2 2h2m-2 2h2m-2 4h2m-2 2h2m-1-23h2m-2 1h2m-2 4h2m-2 3h2m-2 2h2m-2 6h2m-2 4h2m-2 5h2m-2 1h2m-1-26h2m-2 6h2m-2 4h2m-2 4h2m-2 1h2m-2 2h2m-2 8h2m-2 4h2m-1-24h2m-2 3h2m-2 4h2m-2 9h2m-2 3h2m-2 6h2m-1-25h2m-2 2h2m-2 4h2m-2 2h2m-2 2h2m-2 4h2m-2 8h2m-2 5h2m-2 2h2m-1-22h2m-2 1h2m-2 5h2m-2 8h2m-2 2h2m-2 2h2m-2 2h2m-2 2h2m-2 10h2m-2 4h2m-1-41h2m-2 5h2m-2 6h2m-2 2h2m-2 6h2m-2 1h2m-2 2h2m-2 1h2m-2 1h2m-1-28h2m-2 2h2m-2 6h2m-2 1h2m-2 2h2m-2 22h2m-2 3h2m-1-42h2m-2 9h2m-2 8h2m-2 3h2m-2 3h2m-2 23h2m-1-38h2m-2 3h2m-2 5h2m-2 3h2m-2 1h2m-2 6h2m-1-27h2m-2 3h2m-2 11h2m-2 3h2m-2 1h2m-2 2h2m-2 3h2m-1-22h2m-2 13h2m-2 1h2m-2 1h2m-2 2h2m-2 11h2m-1-17h2m-2 10h2m-2 2h2m-1-24h2m-2 26h2m-1-3h2m-2 1h2m-1-20h2m-2 18h2m-2 1h2m-1 3h2m-2 1h2m-2 18h2m-1-36h2m-2 6h2m-2 3h2m-2 13h2m-1-21h2m-2 2h2m-2 15h2m-1-9h2m-2 10h2m-2 6h2m-1-11h2m-2 11h2m-1-30h2m-2 11h2m-1-7h2m-1 33h2m-1-32h2m-2 7h2m0 15h2m-2 7h2m-1 0h2m5-23h2m-2 19h2m0-15h2"/></g><rect x="438.80" y="559.40" width="63.20" height="59.20" fill="none" stroke="#3a3a3a" stroke-width="0.9"/><line x1="467.60" y1="559.40" x2="467.60" y2="618.60" stroke="#3a3a3a" stroke-width="0.85"/><line x1="438.80" y1="595.40" x2="502.00" y2="595.40" stroke="#3a3a3a" stroke-width="0.85"/><ellipse cx="459.5" cy="589.0" rx="1.3" ry="0.9" fill="#333" opacity="0.8"/><ellipse cx="475.0" cy="589.0" rx="1.3" ry="0.9" fill="#333" opacity="0.8"/><ellipse cx="475.0" cy="602.0" rx="1.3" ry="0.9" fill="#333" opacity="0.8"/><text x="442.0" y="565.7" font-size="4.3" text-anchor="start" font-weight="normal" fill="#333" stroke="#333" stroke-width="0.05" >B489 5uM</text><line x1="437.20" y1="565.90" x2="438.80" y2="565.90" stroke="#555" stroke-width="0.6"/><text x="434.8" y="567.3" font-size="3.8" text-anchor="end" fill="#666">10<tspan font-size="2.6" dy="-1.4">3</tspan></text><line x1="437.20" y1="580.40" x2="438.80" y2="580.40" stroke="#555" stroke-width="0.6"/><text x="434.8" y="581.8" font-size="3.8" text-anchor="end" fill="#666">10<tspan font-size="2.6" dy="-1.4">2</tspan></text><line x1="437.20" y1="594.90" x2="438.80" y2="594.90" stroke="#555" stroke-width="0.6"/><text x="434.8" y="596.3" font-size="3.8" text-anchor="end" fill="#666">10<tspan font-size="2.6" dy="-1.4">1</tspan></text><line x1="437.20" y1="609.40" x2="438.80" y2="609.40" stroke="#555" stroke-width="0.6"/><text x="434.8" y="610.8" font-size="3.8" text-anchor="end" fill="#666">10<tspan font-size="2.6" dy="-1.4">0</tspan></text><line x1="447.30" y1="618.60" x2="447.30" y2="620.00" stroke="#555" stroke-width="0.6"/><text x="447.3" y="626.0" font-size="3.8" text-anchor="middle" fill="#666">10<tspan font-size="2.6" dy="-1.4">0</tspan></text><line x1="462.80" y1="618.60" x2="462.80" y2="620.00" stroke="#555" stroke-width="0.6"/><text x="462.8" y="626.0" font-size="3.8" text-anchor="middle" fill="#666">10<tspan font-size="2.6" dy="-1.4">1</tspan></text><line x1="478.30" y1="618.60" x2="478.30" y2="620.00" stroke="#555" stroke-width="0.6"/><text x="478.3" y="626.0" font-size="3.8" text-anchor="middle" fill="#666">10<tspan font-size="2.6" dy="-1.4">2</tspan></text><line x1="493.80" y1="618.60" x2="493.80" y2="620.00" stroke="#555" stroke-width="0.6"/><text x="493.8" y="626.0" font-size="3.8" text-anchor="middle" fill="#666">10<tspan font-size="2.6" dy="-1.4">3</tspan></text><line x1="451.97" y1="617.50" x2="451.97" y2="618.60" stroke="#666" stroke-width="0.4"/><line x1="454.70" y1="617.50" x2="454.70" y2="618.60" stroke="#666" stroke-width="0.4"/><line x1="456.63" y1="617.50" x2="456.63" y2="618.60" stroke="#666" stroke-width="0.4"/><line x1="458.13" y1="617.50" x2="458.13" y2="618.60" stroke="#666" stroke-width="0.4"/><line x1="459.36" y1="617.50" x2="459.36" y2="618.60" stroke="#666" stroke-width="0.4"/><line x1="460.40" y1="617.50" x2="460.40" y2="618.60" stroke="#666" stroke-width="0.4"/><line x1="461.30" y1="617.50" x2="461.30" y2="618.60" stroke="#666" stroke-width="0.4"/><line x1="462.09" y1="617.50" x2="462.09" y2="618.60" stroke="#666" stroke-width="0.4"/><line x1="467.47" y1="617.50" x2="467.47" y2="618.60" stroke="#666" stroke-width="0.4"/><line x1="470.20" y1="617.50" x2="470.20" y2="618.60" stroke="#666" stroke-width="0.4"/><line x1="472.13" y1="617.50" x2="472.13" y2="618.60" stroke="#666" stroke-width="0.4"/><line x1="473.63" y1="617.50" x2="473.63" y2="618.60" stroke="#666" stroke-width="0.4"/><line x1="474.86" y1="617.50" x2="474.86" y2="618.60" stroke="#666" stroke-width="0.4"/><line x1="475.90" y1="617.50" x2="475.90" y2="618.60" stroke="#666" stroke-width="0.4"/><line x1="476.80" y1="617.50" x2="476.80" y2="618.60" stroke="#666" stroke-width="0.4"/><line x1="477.59" y1="617.50" x2="477.59" y2="618.60" stroke="#666" stroke-width="0.4"/><line x1="482.97" y1="617.50" x2="482.97" y2="618.60" stroke="#666" stroke-width="0.4"/><line x1="485.70" y1="617.50" x2="485.70" y2="618.60" stroke="#666" stroke-width="0.4"/><line x1="487.63" y1="617.50" x2="487.63" y2="618.60" stroke="#666" stroke-width="0.4"/><line x1="489.13" y1="617.50" x2="489.13" y2="618.60" stroke="#666" stroke-width="0.4"/><line x1="490.36" y1="617.50" x2="490.36" y2="618.60" stroke="#666" stroke-width="0.4"/><line x1="491.40" y1="617.50" x2="491.40" y2="618.60" stroke="#666" stroke-width="0.4"/><line x1="492.30" y1="617.50" x2="492.30" y2="618.60" stroke="#666" stroke-width="0.4"/><line x1="493.09" y1="617.50" x2="493.09" y2="618.60" stroke="#666" stroke-width="0.4"/><text x="499.0" y="635.6" font-size="5.6" text-anchor="end" font-weight="normal" fill="#222" stroke="#222" stroke-width="0.1" >88,6%</text><line x1="28.70" y1="482.00" x2="28.70" y2="640.40" stroke="#111" stroke-width="1.1"/><line x1="28.20" y1="640.40" x2="497.00" y2="640.40" stroke="#111" stroke-width="1.1"/><path d="M28.7 478.2 L26.4 483.8 L31.0 483.8 Z" fill="#111"/><path d="M502 640.4 L495.5 637.9 L495.5 642.9 Z" fill="#111"/><text transform="translate(22.2 561.1) rotate(-90) scale(0.75 1)" font-size="11.6" text-anchor="middle" fill="#111" stroke="#111" stroke-width="0.12">7-AAD</text><text transform="translate(263.1 652.5) scale(0.75 1)" font-size="11.2" text-anchor="middle" fill="#111" stroke="#111" stroke-width="0.12">Annexin V-PE</text><rect x="0.00" y="0.00" width="1.30" height="662.00" fill="#000" /><rect x="0.00" y="0.00" width="520.00" height="1.20" fill="#000" /><rect x="518.50" y="0.00" width="1.50" height="662.00" fill="#000" /><rect x="0.00" y="660.00" width="520.00" height="2.00" fill="#000" />
</svg>
</body></html>
